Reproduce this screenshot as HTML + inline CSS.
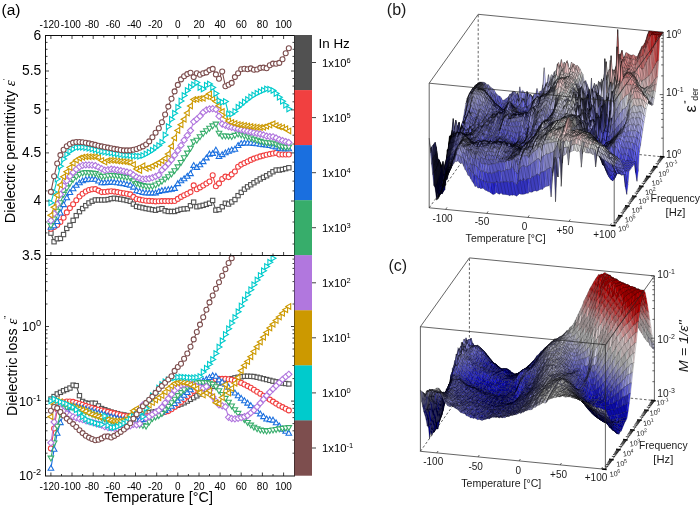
<!DOCTYPE html>
<html lang="en"><head><meta charset="utf-8"><title>Dielectric spectra</title>
<style>html,body{margin:0;padding:0;background:#fff}svg{display:block;will-change:transform}</style></head>
<body><svg width="700" height="507" viewBox="0 0 700 507">
<rect width="700" height="507" fill="#fff"/>
<defs><clipPath id="ct"><rect x="45.5" y="35.5" width="249" height="220"/></clipPath>
<clipPath id="cb"><rect x="45.5" y="255.5" width="249" height="220.5"/></clipPath></defs>
<g clip-path="url(#ct)">
<g stroke="#515151" stroke-width="1.1" fill="#fff">
<path d="M50.9 233.2L54.1 241.7L57.2 238.7L60.4 238.5L63.6 234.6L66.8 228.5L69.9 225.4L73.1 220.3L76.3 215.6L79.5 211.7L82.6 208.5L85.8 205.6L89 202.9L92.1 201.3L95.3 200L98.5 200L101.7 200L104.8 200L108 199.5L111.2 198.6L114.3 198.3L117.5 198.7L120.7 199.2L123.9 199.7L127 200.5L130.2 201.2L133.4 204.1L136.6 206.4L139.7 207.1L142.9 207.8L146.1 208.5L149.2 209.1L152.4 209.7L155.6 210.2L158.8 209.3L161.9 208.7L165.1 210.8L168.3 211.5L171.5 211.5L174.6 211.5L177.8 210.4L181 209.4L184.1 209L187.3 208.6L190.5 205.7L193.7 202.2L196.8 206.8L200 206.1L203.2 205.4L206.4 204.3L209.5 203.3L212.7 200.5L215.9 210.1L219 209.6L222.2 206.8L225.4 203.3L228.6 204L231.7 201.9L234.9 199.6L238.1 195.7L241.2 192.4L244.4 189.2L247.6 186.9L250.8 184.7L253.9 182.8L257.1 180.8L260.3 179L263.5 177.3L266.6 175.7L269.8 173.8L273 171.7L276.1 170.1L279.3 170.1L282.5 169.5L285.7 168.6L288.8 167.8" fill="none"/>
<rect x="48.8" y="231" width="4.3" height="4.3"/>
<rect x="51.9" y="239.6" width="4.3" height="4.3"/>
<rect x="55.1" y="236.6" width="4.3" height="4.3"/>
<rect x="58.3" y="236.3" width="4.3" height="4.3"/>
<rect x="61.4" y="232.4" width="4.3" height="4.3"/>
<rect x="64.6" y="226.3" width="4.3" height="4.3"/>
<rect x="67.8" y="223.2" width="4.3" height="4.3"/>
<rect x="71" y="218.2" width="4.3" height="4.3"/>
<rect x="74.1" y="213.5" width="4.3" height="4.3"/>
<rect x="77.3" y="209.5" width="4.3" height="4.3"/>
<rect x="80.5" y="206.4" width="4.3" height="4.3"/>
<rect x="83.6" y="203.5" width="4.3" height="4.3"/>
<rect x="86.8" y="200.8" width="4.3" height="4.3"/>
<rect x="90" y="199.1" width="4.3" height="4.3"/>
<rect x="93.2" y="197.8" width="4.3" height="4.3"/>
<rect x="96.3" y="197.8" width="4.3" height="4.3"/>
<rect x="99.5" y="197.8" width="4.3" height="4.3"/>
<rect x="102.7" y="197.8" width="4.3" height="4.3"/>
<rect x="105.9" y="197.4" width="4.3" height="4.3"/>
<rect x="109" y="196.5" width="4.3" height="4.3"/>
<rect x="112.2" y="196.1" width="4.3" height="4.3"/>
<rect x="115.4" y="196.6" width="4.3" height="4.3"/>
<rect x="118.5" y="197" width="4.3" height="4.3"/>
<rect x="121.7" y="197.6" width="4.3" height="4.3"/>
<rect x="124.9" y="198.3" width="4.3" height="4.3"/>
<rect x="128.1" y="199.1" width="4.3" height="4.3"/>
<rect x="131.2" y="201.9" width="4.3" height="4.3"/>
<rect x="134.4" y="204.3" width="4.3" height="4.3"/>
<rect x="137.6" y="205" width="4.3" height="4.3"/>
<rect x="140.8" y="205.7" width="4.3" height="4.3"/>
<rect x="143.9" y="206.4" width="4.3" height="4.3"/>
<rect x="147.1" y="206.9" width="4.3" height="4.3"/>
<rect x="150.3" y="207.5" width="4.3" height="4.3"/>
<rect x="153.4" y="208.1" width="4.3" height="4.3"/>
<rect x="156.6" y="207.1" width="4.3" height="4.3"/>
<rect x="159.8" y="206.5" width="4.3" height="4.3"/>
<rect x="163" y="208.6" width="4.3" height="4.3"/>
<rect x="166.1" y="209.3" width="4.3" height="4.3"/>
<rect x="169.3" y="209.3" width="4.3" height="4.3"/>
<rect x="172.5" y="209.3" width="4.3" height="4.3"/>
<rect x="175.6" y="208.2" width="4.3" height="4.3"/>
<rect x="178.8" y="207.2" width="4.3" height="4.3"/>
<rect x="182" y="206.8" width="4.3" height="4.3"/>
<rect x="185.2" y="206.5" width="4.3" height="4.3"/>
<rect x="188.3" y="203.6" width="4.3" height="4.3"/>
<rect x="191.5" y="200" width="4.3" height="4.3"/>
<rect x="194.7" y="204.6" width="4.3" height="4.3"/>
<rect x="197.9" y="203.9" width="4.3" height="4.3"/>
<rect x="201" y="203.2" width="4.3" height="4.3"/>
<rect x="204.2" y="202.2" width="4.3" height="4.3"/>
<rect x="207.4" y="201.1" width="4.3" height="4.3"/>
<rect x="210.5" y="198.3" width="4.3" height="4.3"/>
<rect x="213.7" y="208" width="4.3" height="4.3"/>
<rect x="216.9" y="207.4" width="4.3" height="4.3"/>
<rect x="220.1" y="204.6" width="4.3" height="4.3"/>
<rect x="223.2" y="201.1" width="4.3" height="4.3"/>
<rect x="226.4" y="201.9" width="4.3" height="4.3"/>
<rect x="229.6" y="199.8" width="4.3" height="4.3"/>
<rect x="232.8" y="197.4" width="4.3" height="4.3"/>
<rect x="235.9" y="193.5" width="4.3" height="4.3"/>
<rect x="239.1" y="190.2" width="4.3" height="4.3"/>
<rect x="242.3" y="187" width="4.3" height="4.3"/>
<rect x="245.4" y="184.7" width="4.3" height="4.3"/>
<rect x="248.6" y="182.6" width="4.3" height="4.3"/>
<rect x="251.8" y="180.6" width="4.3" height="4.3"/>
<rect x="255" y="178.7" width="4.3" height="4.3"/>
<rect x="258.1" y="176.8" width="4.3" height="4.3"/>
<rect x="261.3" y="175.2" width="4.3" height="4.3"/>
<rect x="264.5" y="173.6" width="4.3" height="4.3"/>
<rect x="267.7" y="171.7" width="4.3" height="4.3"/>
<rect x="270.8" y="169.6" width="4.3" height="4.3"/>
<rect x="274" y="167.9" width="4.3" height="4.3"/>
<rect x="277.2" y="167.9" width="4.3" height="4.3"/>
<rect x="280.3" y="167.3" width="4.3" height="4.3"/>
<rect x="283.5" y="166.5" width="4.3" height="4.3"/>
<rect x="286.7" y="165.6" width="4.3" height="4.3"/>
</g>
<g stroke="#f14040" stroke-width="1.1" fill="#fff">
<path d="M50.9 228.8L54.1 226.9L57.2 224.9L60.4 222L63.6 217.8L66.8 212.4L69.9 208.1L73.1 204.2L76.3 200.2L79.5 196.5L82.6 193.7L85.8 191.5L89 190L92.1 189.3L95.3 189.1L98.5 190.6L101.7 192.1L104.8 192L108 191.6L111.2 191.3L114.3 191.6L117.5 192.1L120.7 192.7L123.9 193.2L127 193.8L130.2 194.4L133.4 196.9L136.6 199L139.7 199.6L142.9 200.2L146.1 200.7L149.2 200.9L152.4 201.1L155.6 201.4L158.8 201.2L161.9 201.1L165.1 201.1L168.3 201.1L171.5 201.1L174.6 201L177.8 198.9L181 196.9L184.1 195.3L187.3 193.7L190.5 192.1L193.7 185.4L196.8 189.3L200 187.4L203.2 185.5L206.4 183.5L209.5 181.5L212.7 175.3L215.9 186.3L219 183.4L222.2 179L225.4 176.6L228.6 177.1L231.7 174.4L234.9 171.5L238.1 166.8L241.2 164.6L244.4 163L247.6 161.5L250.8 159.9L253.9 158.6L257.1 157.5L260.3 156.4L263.5 155.6L266.6 154.8L269.8 154.1L273 153.5L276.1 152.9L279.3 154.5L282.5 154.5L285.7 154.5L288.8 154.5" fill="none"/>
<circle cx="50.9" cy="228.8" r="2.5"/>
<circle cx="54.1" cy="226.9" r="2.5"/>
<circle cx="57.2" cy="224.9" r="2.5"/>
<circle cx="60.4" cy="222" r="2.5"/>
<circle cx="63.6" cy="217.8" r="2.5"/>
<circle cx="66.8" cy="212.4" r="2.5"/>
<circle cx="69.9" cy="208.1" r="2.5"/>
<circle cx="73.1" cy="204.2" r="2.5"/>
<circle cx="76.3" cy="200.2" r="2.5"/>
<circle cx="79.5" cy="196.5" r="2.5"/>
<circle cx="82.6" cy="193.7" r="2.5"/>
<circle cx="85.8" cy="191.5" r="2.5"/>
<circle cx="89" cy="190" r="2.5"/>
<circle cx="92.1" cy="189.3" r="2.5"/>
<circle cx="95.3" cy="189.1" r="2.5"/>
<circle cx="98.5" cy="190.6" r="2.5"/>
<circle cx="101.7" cy="192.1" r="2.5"/>
<circle cx="104.8" cy="192" r="2.5"/>
<circle cx="108" cy="191.6" r="2.5"/>
<circle cx="111.2" cy="191.3" r="2.5"/>
<circle cx="114.3" cy="191.6" r="2.5"/>
<circle cx="117.5" cy="192.1" r="2.5"/>
<circle cx="120.7" cy="192.7" r="2.5"/>
<circle cx="123.9" cy="193.2" r="2.5"/>
<circle cx="127" cy="193.8" r="2.5"/>
<circle cx="130.2" cy="194.4" r="2.5"/>
<circle cx="133.4" cy="196.9" r="2.5"/>
<circle cx="136.6" cy="199" r="2.5"/>
<circle cx="139.7" cy="199.6" r="2.5"/>
<circle cx="142.9" cy="200.2" r="2.5"/>
<circle cx="146.1" cy="200.7" r="2.5"/>
<circle cx="149.2" cy="200.9" r="2.5"/>
<circle cx="152.4" cy="201.1" r="2.5"/>
<circle cx="155.6" cy="201.4" r="2.5"/>
<circle cx="158.8" cy="201.2" r="2.5"/>
<circle cx="161.9" cy="201.1" r="2.5"/>
<circle cx="165.1" cy="201.1" r="2.5"/>
<circle cx="168.3" cy="201.1" r="2.5"/>
<circle cx="171.5" cy="201.1" r="2.5"/>
<circle cx="174.6" cy="201" r="2.5"/>
<circle cx="177.8" cy="198.9" r="2.5"/>
<circle cx="181" cy="196.9" r="2.5"/>
<circle cx="184.1" cy="195.3" r="2.5"/>
<circle cx="187.3" cy="193.7" r="2.5"/>
<circle cx="190.5" cy="192.1" r="2.5"/>
<circle cx="193.7" cy="185.4" r="2.5"/>
<circle cx="196.8" cy="189.3" r="2.5"/>
<circle cx="200" cy="187.4" r="2.5"/>
<circle cx="203.2" cy="185.5" r="2.5"/>
<circle cx="206.4" cy="183.5" r="2.5"/>
<circle cx="209.5" cy="181.5" r="2.5"/>
<circle cx="212.7" cy="175.3" r="2.5"/>
<circle cx="215.9" cy="186.3" r="2.5"/>
<circle cx="219" cy="183.4" r="2.5"/>
<circle cx="222.2" cy="179" r="2.5"/>
<circle cx="225.4" cy="176.6" r="2.5"/>
<circle cx="228.6" cy="177.1" r="2.5"/>
<circle cx="231.7" cy="174.4" r="2.5"/>
<circle cx="234.9" cy="171.5" r="2.5"/>
<circle cx="238.1" cy="166.8" r="2.5"/>
<circle cx="241.2" cy="164.6" r="2.5"/>
<circle cx="244.4" cy="163" r="2.5"/>
<circle cx="247.6" cy="161.5" r="2.5"/>
<circle cx="250.8" cy="159.9" r="2.5"/>
<circle cx="253.9" cy="158.6" r="2.5"/>
<circle cx="257.1" cy="157.5" r="2.5"/>
<circle cx="260.3" cy="156.4" r="2.5"/>
<circle cx="263.5" cy="155.6" r="2.5"/>
<circle cx="266.6" cy="154.8" r="2.5"/>
<circle cx="269.8" cy="154.1" r="2.5"/>
<circle cx="273" cy="153.5" r="2.5"/>
<circle cx="276.1" cy="152.9" r="2.5"/>
<circle cx="279.3" cy="154.5" r="2.5"/>
<circle cx="282.5" cy="154.5" r="2.5"/>
<circle cx="285.7" cy="154.5" r="2.5"/>
<circle cx="288.8" cy="154.5" r="2.5"/>
</g>
<g stroke="#1a6fdf" stroke-width="1.1" fill="#fff">
<path d="M50.9 227.4L54.1 225.9L57.2 221.6L60.4 213.1L63.6 204.7L66.8 197.8L69.9 192.6L73.1 188.8L76.3 185.4L79.5 182.9L82.6 180.9L85.8 179.7L89 179.3L92.1 179.3L95.3 179.4L98.5 181.1L101.7 182.8L104.8 182.7L108 182.5L111.2 182.2L114.3 182.4L117.5 182.8L120.7 183.2L123.9 183.7L127 184.5L130.2 185.2L133.4 187.2L136.6 190.8L139.7 191.6L142.9 192.5L146.1 193L149.2 193L152.4 193L155.6 193L158.8 191.6L161.9 190.7L165.1 190.2L168.3 189.7L171.5 189.2L174.6 188.5L177.8 183.7L181 180.9L184.1 178.8L187.3 176.3L190.5 173.7L193.7 165.5L196.8 167.5L200 164.9L203.2 161.7L206.4 158L209.5 154.2L212.7 153.5L215.9 150.2L219 156.6L222.2 154.7L225.4 152.9L228.6 151.3L231.7 150.1L234.9 149.3L238.1 145.6L241.2 143.5L244.4 143.1L247.6 143.1L250.8 143.1L253.9 143.5L257.1 143.9L260.3 144.3L263.5 144.7L266.6 145.1L269.8 145.6L273 146.3L276.1 147L279.3 148.5L282.5 148.9L285.7 148.9L288.8 148.9" fill="none"/>
<path d="M50.9 224.4L53.7 229.3L48.1 229.3Z"/>
<path d="M54.1 222.9L56.9 227.8L51.3 227.8Z"/>
<path d="M57.2 218.6L60 223.5L54.4 223.5Z"/>
<path d="M60.4 210.1L63.2 215L57.6 215Z"/>
<path d="M63.6 201.7L66.4 206.6L60.8 206.6Z"/>
<path d="M66.8 194.8L69.6 199.7L64 199.7Z"/>
<path d="M69.9 189.6L72.7 194.5L67.1 194.5Z"/>
<path d="M73.1 185.8L75.9 190.7L70.3 190.7Z"/>
<path d="M76.3 182.4L79.1 187.3L73.5 187.3Z"/>
<path d="M79.5 179.9L82.3 184.8L76.7 184.8Z"/>
<path d="M82.6 177.9L85.4 182.8L79.8 182.8Z"/>
<path d="M85.8 176.7L88.6 181.6L83 181.6Z"/>
<path d="M89 176.3L91.8 181.2L86.2 181.2Z"/>
<path d="M92.1 176.3L94.9 181.2L89.3 181.2Z"/>
<path d="M95.3 176.4L98.1 181.3L92.5 181.3Z"/>
<path d="M98.5 178.1L101.3 183L95.7 183Z"/>
<path d="M101.7 179.8L104.5 184.7L98.9 184.7Z"/>
<path d="M104.8 179.7L107.6 184.6L102 184.6Z"/>
<path d="M108 179.5L110.8 184.4L105.2 184.4Z"/>
<path d="M111.2 179.2L114 184.1L108.4 184.1Z"/>
<path d="M114.3 179.4L117.1 184.3L111.5 184.3Z"/>
<path d="M117.5 179.8L120.3 184.7L114.7 184.7Z"/>
<path d="M120.7 180.2L123.5 185.1L117.9 185.1Z"/>
<path d="M123.9 180.7L126.7 185.6L121.1 185.6Z"/>
<path d="M127 181.5L129.8 186.4L124.2 186.4Z"/>
<path d="M130.2 182.2L133 187.1L127.4 187.1Z"/>
<path d="M133.4 184.2L136.2 189.1L130.6 189.1Z"/>
<path d="M136.6 187.8L139.4 192.7L133.8 192.7Z"/>
<path d="M139.7 188.6L142.5 193.5L136.9 193.5Z"/>
<path d="M142.9 189.5L145.7 194.4L140.1 194.4Z"/>
<path d="M146.1 190L148.9 194.9L143.3 194.9Z"/>
<path d="M149.2 190L152 194.9L146.4 194.9Z"/>
<path d="M152.4 190L155.2 194.9L149.6 194.9Z"/>
<path d="M155.6 190L158.4 194.9L152.8 194.9Z"/>
<path d="M158.8 188.6L161.6 193.5L156 193.5Z"/>
<path d="M161.9 187.7L164.7 192.6L159.1 192.6Z"/>
<path d="M165.1 187.2L167.9 192.1L162.3 192.1Z"/>
<path d="M168.3 186.7L171.1 191.6L165.5 191.6Z"/>
<path d="M171.5 186.2L174.3 191.1L168.7 191.1Z"/>
<path d="M174.6 185.5L177.4 190.4L171.8 190.4Z"/>
<path d="M177.8 180.7L180.6 185.6L175 185.6Z"/>
<path d="M181 177.9L183.8 182.8L178.2 182.8Z"/>
<path d="M184.1 175.8L186.9 180.7L181.3 180.7Z"/>
<path d="M187.3 173.3L190.1 178.2L184.5 178.2Z"/>
<path d="M190.5 170.7L193.3 175.6L187.7 175.6Z"/>
<path d="M193.7 162.5L196.5 167.4L190.9 167.4Z"/>
<path d="M196.8 164.5L199.6 169.4L194 169.4Z"/>
<path d="M200 161.9L202.8 166.8L197.2 166.8Z"/>
<path d="M203.2 158.7L206 163.6L200.4 163.6Z"/>
<path d="M206.4 155L209.2 159.9L203.6 159.9Z"/>
<path d="M209.5 151.2L212.3 156.1L206.7 156.1Z"/>
<path d="M212.7 150.5L215.5 155.4L209.9 155.4Z"/>
<path d="M215.9 147.2L218.7 152.1L213.1 152.1Z"/>
<path d="M219 153.6L221.8 158.5L216.2 158.5Z"/>
<path d="M222.2 151.7L225 156.6L219.4 156.6Z"/>
<path d="M225.4 149.9L228.2 154.8L222.6 154.8Z"/>
<path d="M228.6 148.3L231.4 153.2L225.8 153.2Z"/>
<path d="M231.7 147.1L234.5 152L228.9 152Z"/>
<path d="M234.9 146.3L237.7 151.2L232.1 151.2Z"/>
<path d="M238.1 142.6L240.9 147.5L235.3 147.5Z"/>
<path d="M241.2 140.5L244 145.4L238.4 145.4Z"/>
<path d="M244.4 140.1L247.2 145L241.6 145Z"/>
<path d="M247.6 140.1L250.4 145L244.8 145Z"/>
<path d="M250.8 140.1L253.6 145L248 145Z"/>
<path d="M253.9 140.5L256.7 145.4L251.1 145.4Z"/>
<path d="M257.1 140.9L259.9 145.8L254.3 145.8Z"/>
<path d="M260.3 141.3L263.1 146.2L257.5 146.2Z"/>
<path d="M263.5 141.7L266.3 146.6L260.7 146.6Z"/>
<path d="M266.6 142.1L269.4 147L263.8 147Z"/>
<path d="M269.8 142.6L272.6 147.5L267 147.5Z"/>
<path d="M273 143.3L275.8 148.2L270.2 148.2Z"/>
<path d="M276.1 144L278.9 148.9L273.3 148.9Z"/>
<path d="M279.3 145.5L282.1 150.4L276.5 150.4Z"/>
<path d="M282.5 145.9L285.3 150.8L279.7 150.8Z"/>
<path d="M285.7 145.9L288.5 150.8L282.9 150.8Z"/>
<path d="M288.8 145.9L291.6 150.8L286 150.8Z"/>
</g>
<g stroke="#37ad6b" stroke-width="1.1" fill="#fff">
<path d="M50.9 225.5L54.1 218.9L57.2 211.1L60.4 202.6L63.6 194.3L66.8 187.9L69.9 183.3L73.1 179.3L76.3 176.6L79.5 174.3L82.6 173L85.8 172.5L89 172.8L92.1 173L95.3 173.4L98.5 174.9L101.7 176.4L104.8 176.2L108 175.7L111.2 175.3L114.3 175.5L117.5 175.9L120.7 176.3L123.9 176.8L127 177.3L130.2 177.9L133.4 180.8L136.6 183.4L139.7 184.5L142.9 185.5L146.1 186.2L149.2 186.2L152.4 186.2L155.6 184.9L158.8 183.2L161.9 181.2L165.1 179L168.3 176.6L171.5 174L174.6 170.6L177.8 166.8L181 162.4L184.1 157.7L187.3 153L190.5 148.2L193.7 141.8L196.8 140.2L200 136.6L203.2 133.3L206.4 130.7L209.5 128.2L212.7 125.8L215.9 124L219 133.2L222.2 135.9L225.4 135.9L228.6 136.1L231.7 136.4L234.9 135.3L238.1 133.9L241.2 134.8L244.4 135.8L247.6 136.9L250.8 137.9L253.9 139.1L257.1 140.2L260.3 141.3L263.5 142.1L266.6 142.7L269.8 142.9L273 143.1L276.1 144.2L279.3 145.8L282.5 146.6L285.7 147.2L288.8 147" fill="none"/>
<path d="M50.9 228.5L53.7 223.6L48.1 223.6Z"/>
<path d="M54.1 221.9L56.9 217L51.3 217Z"/>
<path d="M57.2 214.1L60 209.2L54.4 209.2Z"/>
<path d="M60.4 205.6L63.2 200.7L57.6 200.7Z"/>
<path d="M63.6 197.3L66.4 192.4L60.8 192.4Z"/>
<path d="M66.8 190.9L69.6 186L64 186Z"/>
<path d="M69.9 186.3L72.7 181.4L67.1 181.4Z"/>
<path d="M73.1 182.3L75.9 177.4L70.3 177.4Z"/>
<path d="M76.3 179.6L79.1 174.7L73.5 174.7Z"/>
<path d="M79.5 177.3L82.3 172.4L76.7 172.4Z"/>
<path d="M82.6 176L85.4 171.1L79.8 171.1Z"/>
<path d="M85.8 175.5L88.6 170.6L83 170.6Z"/>
<path d="M89 175.8L91.8 170.9L86.2 170.9Z"/>
<path d="M92.1 176L94.9 171.1L89.3 171.1Z"/>
<path d="M95.3 176.4L98.1 171.5L92.5 171.5Z"/>
<path d="M98.5 177.9L101.3 173L95.7 173Z"/>
<path d="M101.7 179.4L104.5 174.5L98.9 174.5Z"/>
<path d="M104.8 179.2L107.6 174.3L102 174.3Z"/>
<path d="M108 178.7L110.8 173.8L105.2 173.8Z"/>
<path d="M111.2 178.3L114 173.4L108.4 173.4Z"/>
<path d="M114.3 178.5L117.1 173.6L111.5 173.6Z"/>
<path d="M117.5 178.9L120.3 174L114.7 174Z"/>
<path d="M120.7 179.3L123.5 174.4L117.9 174.4Z"/>
<path d="M123.9 179.8L126.7 174.9L121.1 174.9Z"/>
<path d="M127 180.3L129.8 175.4L124.2 175.4Z"/>
<path d="M130.2 180.9L133 176L127.4 176Z"/>
<path d="M133.4 183.8L136.2 178.9L130.6 178.9Z"/>
<path d="M136.6 186.4L139.4 181.5L133.8 181.5Z"/>
<path d="M139.7 187.5L142.5 182.6L136.9 182.6Z"/>
<path d="M142.9 188.5L145.7 183.6L140.1 183.6Z"/>
<path d="M146.1 189.2L148.9 184.3L143.3 184.3Z"/>
<path d="M149.2 189.2L152 184.3L146.4 184.3Z"/>
<path d="M152.4 189.2L155.2 184.3L149.6 184.3Z"/>
<path d="M155.6 187.9L158.4 183L152.8 183Z"/>
<path d="M158.8 186.2L161.6 181.3L156 181.3Z"/>
<path d="M161.9 184.2L164.7 179.3L159.1 179.3Z"/>
<path d="M165.1 182L167.9 177.1L162.3 177.1Z"/>
<path d="M168.3 179.6L171.1 174.7L165.5 174.7Z"/>
<path d="M171.5 177L174.3 172.1L168.7 172.1Z"/>
<path d="M174.6 173.6L177.4 168.7L171.8 168.7Z"/>
<path d="M177.8 169.8L180.6 164.9L175 164.9Z"/>
<path d="M181 165.4L183.8 160.5L178.2 160.5Z"/>
<path d="M184.1 160.7L186.9 155.8L181.3 155.8Z"/>
<path d="M187.3 156L190.1 151.1L184.5 151.1Z"/>
<path d="M190.5 151.2L193.3 146.3L187.7 146.3Z"/>
<path d="M193.7 144.8L196.5 139.9L190.9 139.9Z"/>
<path d="M196.8 143.2L199.6 138.3L194 138.3Z"/>
<path d="M200 139.6L202.8 134.7L197.2 134.7Z"/>
<path d="M203.2 136.3L206 131.4L200.4 131.4Z"/>
<path d="M206.4 133.7L209.2 128.8L203.6 128.8Z"/>
<path d="M209.5 131.2L212.3 126.3L206.7 126.3Z"/>
<path d="M212.7 128.8L215.5 123.9L209.9 123.9Z"/>
<path d="M215.9 127L218.7 122.1L213.1 122.1Z"/>
<path d="M219 136.2L221.8 131.3L216.2 131.3Z"/>
<path d="M222.2 138.9L225 134L219.4 134Z"/>
<path d="M225.4 138.9L228.2 134L222.6 134Z"/>
<path d="M228.6 139.1L231.4 134.2L225.8 134.2Z"/>
<path d="M231.7 139.4L234.5 134.5L228.9 134.5Z"/>
<path d="M234.9 138.3L237.7 133.4L232.1 133.4Z"/>
<path d="M238.1 136.9L240.9 132L235.3 132Z"/>
<path d="M241.2 137.8L244 132.9L238.4 132.9Z"/>
<path d="M244.4 138.8L247.2 133.9L241.6 133.9Z"/>
<path d="M247.6 139.9L250.4 135L244.8 135Z"/>
<path d="M250.8 140.9L253.6 136L248 136Z"/>
<path d="M253.9 142.1L256.7 137.2L251.1 137.2Z"/>
<path d="M257.1 143.2L259.9 138.3L254.3 138.3Z"/>
<path d="M260.3 144.3L263.1 139.4L257.5 139.4Z"/>
<path d="M263.5 145.1L266.3 140.2L260.7 140.2Z"/>
<path d="M266.6 145.7L269.4 140.8L263.8 140.8Z"/>
<path d="M269.8 145.9L272.6 141L267 141Z"/>
<path d="M273 146.1L275.8 141.2L270.2 141.2Z"/>
<path d="M276.1 147.2L278.9 142.3L273.3 142.3Z"/>
<path d="M279.3 148.8L282.1 143.9L276.5 143.9Z"/>
<path d="M282.5 149.6L285.3 144.7L279.7 144.7Z"/>
<path d="M285.7 150.2L288.5 145.3L282.9 145.3Z"/>
<path d="M288.8 150L291.6 145.1L286 145.1Z"/>
</g>
<g stroke="#b177de" stroke-width="1.1" fill="#fff">
<path d="M50.9 220.7L54.1 213.6L57.2 204.2L60.4 194.3L63.6 186L66.8 180.7L69.9 176.2L73.1 172.4L76.3 169.3L79.5 166.8L82.6 165.3L85.8 164.9L89 164.9L92.1 165.2L95.3 165.6L98.5 167.2L101.7 168.7L104.8 170.2L108 169.7L111.2 169.1L114.3 169.5L117.5 170L120.7 170.6L123.9 171.3L127 172L130.2 172.8L133.4 175L136.6 177.1L139.7 178.4L142.9 179.2L146.1 178.9L149.2 178.6L152.4 177.7L155.6 176.4L158.8 175L161.9 170.2L165.1 167L168.3 163.5L171.5 159.8L174.6 155.3L177.8 150.5L181 145.4L184.1 140.2L187.3 135.4L190.5 130.6L193.7 121.7L196.8 119.1L200 116.2L203.2 112.3L206.4 109.9L209.5 109L212.7 108.7L215.9 109.4L219 116.2L222.2 124L225.4 125.3L228.6 126.5L231.7 127.3L234.9 128.1L238.1 128.9L241.2 129.7L244.4 130.5L247.6 131.2L250.8 132L253.9 132.7L257.1 133.4L260.3 134L263.5 134.9L266.6 136.1L269.8 136.6L273 136.8L276.1 138L279.3 139.6L282.5 140.6L285.7 141.6L288.8 142.5" fill="none"/>
<path d="M50.9 217.6L54 220.7L50.9 223.8L47.8 220.7Z"/>
<path d="M54.1 210.5L57.2 213.6L54.1 216.7L51 213.6Z"/>
<path d="M57.2 201.1L60.3 204.2L57.2 207.3L54.1 204.2Z"/>
<path d="M60.4 191.2L63.5 194.3L60.4 197.4L57.3 194.3Z"/>
<path d="M63.6 182.9L66.7 186L63.6 189.1L60.5 186Z"/>
<path d="M66.8 177.6L69.9 180.7L66.8 183.8L63.7 180.7Z"/>
<path d="M69.9 173.1L73 176.2L69.9 179.3L66.8 176.2Z"/>
<path d="M73.1 169.3L76.2 172.4L73.1 175.5L70 172.4Z"/>
<path d="M76.3 166.2L79.4 169.3L76.3 172.4L73.2 169.3Z"/>
<path d="M79.5 163.7L82.6 166.8L79.5 169.9L76.4 166.8Z"/>
<path d="M82.6 162.2L85.7 165.3L82.6 168.4L79.5 165.3Z"/>
<path d="M85.8 161.8L88.9 164.9L85.8 168L82.7 164.9Z"/>
<path d="M89 161.8L92.1 164.9L89 168L85.9 164.9Z"/>
<path d="M92.1 162.1L95.2 165.2L92.1 168.3L89 165.2Z"/>
<path d="M95.3 162.5L98.4 165.6L95.3 168.7L92.2 165.6Z"/>
<path d="M98.5 164.1L101.6 167.2L98.5 170.3L95.4 167.2Z"/>
<path d="M101.7 165.6L104.8 168.7L101.7 171.8L98.6 168.7Z"/>
<path d="M104.8 167.1L107.9 170.2L104.8 173.3L101.7 170.2Z"/>
<path d="M108 166.6L111.1 169.7L108 172.8L104.9 169.7Z"/>
<path d="M111.2 166L114.3 169.1L111.2 172.2L108.1 169.1Z"/>
<path d="M114.3 166.4L117.4 169.5L114.3 172.6L111.2 169.5Z"/>
<path d="M117.5 166.9L120.6 170L117.5 173.1L114.4 170Z"/>
<path d="M120.7 167.5L123.8 170.6L120.7 173.7L117.6 170.6Z"/>
<path d="M123.9 168.2L127 171.3L123.9 174.4L120.8 171.3Z"/>
<path d="M127 168.9L130.1 172L127 175.1L123.9 172Z"/>
<path d="M130.2 169.7L133.3 172.8L130.2 175.9L127.1 172.8Z"/>
<path d="M133.4 171.9L136.5 175L133.4 178.1L130.3 175Z"/>
<path d="M136.6 174L139.7 177.1L136.6 180.2L133.5 177.1Z"/>
<path d="M139.7 175.3L142.8 178.4L139.7 181.5L136.6 178.4Z"/>
<path d="M142.9 176.1L146 179.2L142.9 182.3L139.8 179.2Z"/>
<path d="M146.1 175.8L149.2 178.9L146.1 182L143 178.9Z"/>
<path d="M149.2 175.5L152.3 178.6L149.2 181.7L146.1 178.6Z"/>
<path d="M152.4 174.6L155.5 177.7L152.4 180.8L149.3 177.7Z"/>
<path d="M155.6 173.3L158.7 176.4L155.6 179.5L152.5 176.4Z"/>
<path d="M158.8 171.9L161.9 175L158.8 178.1L155.7 175Z"/>
<path d="M161.9 167.1L165 170.2L161.9 173.3L158.8 170.2Z"/>
<path d="M165.1 163.9L168.2 167L165.1 170.1L162 167Z"/>
<path d="M168.3 160.4L171.4 163.5L168.3 166.6L165.2 163.5Z"/>
<path d="M171.5 156.7L174.6 159.8L171.5 162.9L168.4 159.8Z"/>
<path d="M174.6 152.2L177.7 155.3L174.6 158.4L171.5 155.3Z"/>
<path d="M177.8 147.4L180.9 150.5L177.8 153.6L174.7 150.5Z"/>
<path d="M181 142.3L184.1 145.4L181 148.5L177.9 145.4Z"/>
<path d="M184.1 137.1L187.2 140.2L184.1 143.3L181 140.2Z"/>
<path d="M187.3 132.3L190.4 135.4L187.3 138.5L184.2 135.4Z"/>
<path d="M190.5 127.5L193.6 130.6L190.5 133.7L187.4 130.6Z"/>
<path d="M193.7 118.6L196.8 121.7L193.7 124.8L190.6 121.7Z"/>
<path d="M196.8 116L199.9 119.1L196.8 122.2L193.7 119.1Z"/>
<path d="M200 113.1L203.1 116.2L200 119.3L196.9 116.2Z"/>
<path d="M203.2 109.2L206.3 112.3L203.2 115.4L200.1 112.3Z"/>
<path d="M206.4 106.8L209.5 109.9L206.4 113L203.3 109.9Z"/>
<path d="M209.5 105.9L212.6 109L209.5 112.1L206.4 109Z"/>
<path d="M212.7 105.6L215.8 108.7L212.7 111.8L209.6 108.7Z"/>
<path d="M215.9 106.3L219 109.4L215.9 112.5L212.8 109.4Z"/>
<path d="M219 113.1L222.1 116.2L219 119.3L215.9 116.2Z"/>
<path d="M222.2 120.9L225.3 124L222.2 127.1L219.1 124Z"/>
<path d="M225.4 122.2L228.5 125.3L225.4 128.4L222.3 125.3Z"/>
<path d="M228.6 123.4L231.7 126.5L228.6 129.6L225.5 126.5Z"/>
<path d="M231.7 124.2L234.8 127.3L231.7 130.4L228.6 127.3Z"/>
<path d="M234.9 125L238 128.1L234.9 131.2L231.8 128.1Z"/>
<path d="M238.1 125.8L241.2 128.9L238.1 132L235 128.9Z"/>
<path d="M241.2 126.6L244.3 129.7L241.2 132.8L238.1 129.7Z"/>
<path d="M244.4 127.4L247.5 130.5L244.4 133.6L241.3 130.5Z"/>
<path d="M247.6 128.1L250.7 131.2L247.6 134.3L244.5 131.2Z"/>
<path d="M250.8 128.9L253.9 132L250.8 135.1L247.7 132Z"/>
<path d="M253.9 129.6L257 132.7L253.9 135.8L250.8 132.7Z"/>
<path d="M257.1 130.3L260.2 133.4L257.1 136.5L254 133.4Z"/>
<path d="M260.3 130.9L263.4 134L260.3 137.1L257.2 134Z"/>
<path d="M263.5 131.8L266.6 134.9L263.5 138L260.4 134.9Z"/>
<path d="M266.6 133L269.7 136.1L266.6 139.2L263.5 136.1Z"/>
<path d="M269.8 133.5L272.9 136.6L269.8 139.7L266.7 136.6Z"/>
<path d="M273 133.7L276.1 136.8L273 139.9L269.9 136.8Z"/>
<path d="M276.1 134.9L279.2 138L276.1 141.1L273 138Z"/>
<path d="M279.3 136.5L282.4 139.6L279.3 142.7L276.2 139.6Z"/>
<path d="M282.5 137.5L285.6 140.6L282.5 143.7L279.4 140.6Z"/>
<path d="M285.7 138.5L288.8 141.6L285.7 144.7L282.6 141.6Z"/>
<path d="M288.8 139.4L291.9 142.5L288.8 145.6L285.7 142.5Z"/>
</g>
<g stroke="#cc9900" stroke-width="1.1" fill="#fff">
<path d="M50.9 215.2L54.1 207.2L57.2 195.3L60.4 185L63.6 176.7L66.8 171.7L69.9 167.6L73.1 163.3L76.3 160.2L79.5 158.3L82.6 157.2L85.8 156.7L89 156.7L92.1 156.7L95.3 156.7L98.5 157.2L101.7 160.4L104.8 162.1L108 160.5L111.2 160.2L114.3 160.5L117.5 160.9L120.7 161.2L123.9 161.6L127 162L130.2 162.5L133.4 164.6L136.6 169L139.7 170.5L142.9 165.7L146.1 168.6L149.2 167.5L152.4 165.9L155.6 164.3L158.8 162.8L161.9 160.7L165.1 158.6L168.3 154.1L171.5 146.3L174.6 137.9L177.8 130.4L181 124.8L184.1 119.3L187.3 113.1L190.5 106L193.7 99.4L196.8 99.2L200 98.4L203.2 98.3L206.4 96.3L209.5 93.7L212.7 99L215.9 101.4L219 105.8L222.2 111.6L225.4 116.9L228.6 120.9L231.7 122.6L234.9 123.5L238.1 124.4L241.2 125L244.4 125.6L247.6 126.1L250.8 126.5L253.9 127L257.1 127.3L260.3 127.5L263.5 127.3L266.6 126.3L269.8 125.1L273 123.8L276.1 125.5L279.3 126.7L282.5 127.4L285.7 128.8L288.8 130.9" fill="none"/>
<path d="M47.9 215.2L52.8 212.4L52.8 218Z"/>
<path d="M51.1 207.2L56 204.4L56 210Z"/>
<path d="M54.2 195.3L59.1 192.5L59.1 198.1Z"/>
<path d="M57.4 185L62.3 182.2L62.3 187.8Z"/>
<path d="M60.6 176.7L65.5 173.9L65.5 179.5Z"/>
<path d="M63.8 171.7L68.7 168.9L68.7 174.5Z"/>
<path d="M66.9 167.6L71.8 164.8L71.8 170.4Z"/>
<path d="M70.1 163.3L75 160.5L75 166.1Z"/>
<path d="M73.3 160.2L78.2 157.4L78.2 163Z"/>
<path d="M76.5 158.3L81.4 155.5L81.4 161.1Z"/>
<path d="M79.6 157.2L84.5 154.4L84.5 160Z"/>
<path d="M82.8 156.7L87.7 153.9L87.7 159.5Z"/>
<path d="M86 156.7L90.9 153.9L90.9 159.5Z"/>
<path d="M89.1 156.7L94 153.9L94 159.5Z"/>
<path d="M92.3 156.7L97.2 153.9L97.2 159.5Z"/>
<path d="M95.5 157.2L100.4 154.4L100.4 160Z"/>
<path d="M98.7 160.4L103.6 157.6L103.6 163.2Z"/>
<path d="M101.8 162.1L106.7 159.3L106.7 164.9Z"/>
<path d="M105 160.5L109.9 157.7L109.9 163.3Z"/>
<path d="M108.2 160.2L113.1 157.4L113.1 163Z"/>
<path d="M111.3 160.5L116.2 157.7L116.2 163.3Z"/>
<path d="M114.5 160.9L119.4 158.1L119.4 163.7Z"/>
<path d="M117.7 161.2L122.6 158.4L122.6 164Z"/>
<path d="M120.9 161.6L125.8 158.8L125.8 164.4Z"/>
<path d="M124 162L128.9 159.2L128.9 164.8Z"/>
<path d="M127.2 162.5L132.1 159.7L132.1 165.3Z"/>
<path d="M130.4 164.6L135.3 161.8L135.3 167.4Z"/>
<path d="M133.6 169L138.5 166.2L138.5 171.8Z"/>
<path d="M136.7 170.5L141.6 167.7L141.6 173.3Z"/>
<path d="M139.9 165.7L144.8 162.9L144.8 168.5Z"/>
<path d="M143.1 168.6L148 165.8L148 171.4Z"/>
<path d="M146.2 167.5L151.1 164.7L151.1 170.3Z"/>
<path d="M149.4 165.9L154.3 163.1L154.3 168.7Z"/>
<path d="M152.6 164.3L157.5 161.5L157.5 167.1Z"/>
<path d="M155.8 162.8L160.7 160L160.7 165.6Z"/>
<path d="M158.9 160.7L163.8 157.9L163.8 163.5Z"/>
<path d="M162.1 158.6L167 155.8L167 161.4Z"/>
<path d="M165.3 154.1L170.2 151.3L170.2 156.9Z"/>
<path d="M168.5 146.3L173.4 143.5L173.4 149.1Z"/>
<path d="M171.6 137.9L176.5 135.1L176.5 140.7Z"/>
<path d="M174.8 130.4L179.7 127.6L179.7 133.2Z"/>
<path d="M178 124.8L182.9 122L182.9 127.6Z"/>
<path d="M181.1 119.3L186 116.5L186 122.1Z"/>
<path d="M184.3 113.1L189.2 110.3L189.2 115.9Z"/>
<path d="M187.5 106L192.4 103.2L192.4 108.8Z"/>
<path d="M190.7 99.4L195.6 96.6L195.6 102.2Z"/>
<path d="M193.8 99.2L198.7 96.4L198.7 102Z"/>
<path d="M197 98.4L201.9 95.6L201.9 101.2Z"/>
<path d="M200.2 98.3L205.1 95.5L205.1 101.1Z"/>
<path d="M203.4 96.3L208.3 93.5L208.3 99.1Z"/>
<path d="M206.5 93.7L211.4 90.9L211.4 96.5Z"/>
<path d="M209.7 99L214.6 96.2L214.6 101.8Z"/>
<path d="M212.9 101.4L217.8 98.6L217.8 104.2Z"/>
<path d="M216 105.8L220.9 103L220.9 108.6Z"/>
<path d="M219.2 111.6L224.1 108.8L224.1 114.4Z"/>
<path d="M222.4 116.9L227.3 114.1L227.3 119.7Z"/>
<path d="M225.6 120.9L230.5 118.1L230.5 123.7Z"/>
<path d="M228.7 122.6L233.6 119.8L233.6 125.4Z"/>
<path d="M231.9 123.5L236.8 120.7L236.8 126.3Z"/>
<path d="M235.1 124.4L240 121.6L240 127.2Z"/>
<path d="M238.2 125L243.1 122.2L243.1 127.8Z"/>
<path d="M241.4 125.6L246.3 122.8L246.3 128.4Z"/>
<path d="M244.6 126.1L249.5 123.3L249.5 128.9Z"/>
<path d="M247.8 126.5L252.7 123.7L252.7 129.3Z"/>
<path d="M250.9 127L255.8 124.2L255.8 129.8Z"/>
<path d="M254.1 127.3L259 124.5L259 130.1Z"/>
<path d="M257.3 127.5L262.2 124.7L262.2 130.3Z"/>
<path d="M260.5 127.3L265.4 124.5L265.4 130.1Z"/>
<path d="M263.6 126.3L268.5 123.5L268.5 129.1Z"/>
<path d="M266.8 125.1L271.7 122.3L271.7 127.9Z"/>
<path d="M270 123.8L274.9 121L274.9 126.6Z"/>
<path d="M273.1 125.5L278 122.7L278 128.3Z"/>
<path d="M276.3 126.7L281.2 123.9L281.2 129.5Z"/>
<path d="M279.5 127.4L284.4 124.6L284.4 130.2Z"/>
<path d="M282.7 128.8L287.6 126L287.6 131.6Z"/>
<path d="M285.8 130.9L290.7 128.1L290.7 133.7Z"/>
</g>
<g stroke="#00cbcc" stroke-width="1.1" fill="#fff">
<path d="M50.9 202.8L54.1 191.9L57.2 179.1L60.4 166.3L63.6 159.1L66.8 154.3L69.9 151.2L73.1 149.1L76.3 147.6L79.5 147.2L82.6 147.2L85.8 147.7L89 148.3L92.1 149L95.3 149.8L98.5 150.6L101.7 151.4L104.8 151.9L108 152.4L111.2 152.9L114.3 153.5L117.5 154L120.7 154.6L123.9 155.1L127 155.3L130.2 155.6L133.4 155.9L136.6 156.1L139.7 156.3L142.9 155.4L146.1 153.9L149.2 152.3L152.4 150.2L155.6 147.8L158.8 145.5L161.9 142.3L165.1 134.9L168.3 126.6L171.5 119.2L174.6 113.3L177.8 107.3L181 100.9L184.1 95.5L187.3 90.5L190.5 87.1L193.7 84.8L196.8 82.6L200 87.4L203.2 88.9L206.4 85.3L209.5 84.1L212.7 87.5L215.9 93.4L219 100.8L222.2 102.2L225.4 101.5L228.6 113.9L231.7 113.9L234.9 111.4L238.1 107.2L241.2 104.7L244.4 102.1L247.6 99.5L250.8 97.1L253.9 95.1L257.1 93.3L260.3 91.7L263.5 90.3L266.6 89L269.8 89.2L273 90.5L276.1 93.4L279.3 97.3L282.5 101.3L285.7 105.2L288.8 109" fill="none"/>
<path d="M53.9 202.8L49 200L49 205.6Z"/>
<path d="M57.1 191.9L52.2 189.1L52.2 194.7Z"/>
<path d="M60.2 179.1L55.3 176.3L55.3 181.9Z"/>
<path d="M63.4 166.3L58.5 163.5L58.5 169.1Z"/>
<path d="M66.6 159.1L61.7 156.3L61.7 161.9Z"/>
<path d="M69.8 154.3L64.9 151.5L64.9 157.1Z"/>
<path d="M72.9 151.2L68 148.4L68 154Z"/>
<path d="M76.1 149.1L71.2 146.3L71.2 151.9Z"/>
<path d="M79.3 147.6L74.4 144.8L74.4 150.4Z"/>
<path d="M82.5 147.2L77.6 144.4L77.6 150Z"/>
<path d="M85.6 147.2L80.7 144.4L80.7 150Z"/>
<path d="M88.8 147.7L83.9 144.9L83.9 150.5Z"/>
<path d="M92 148.3L87.1 145.5L87.1 151.1Z"/>
<path d="M95.1 149L90.2 146.2L90.2 151.8Z"/>
<path d="M98.3 149.8L93.4 147L93.4 152.6Z"/>
<path d="M101.5 150.6L96.6 147.8L96.6 153.4Z"/>
<path d="M104.7 151.4L99.8 148.6L99.8 154.2Z"/>
<path d="M107.8 151.9L102.9 149.1L102.9 154.7Z"/>
<path d="M111 152.4L106.1 149.6L106.1 155.2Z"/>
<path d="M114.2 152.9L109.3 150.1L109.3 155.7Z"/>
<path d="M117.3 153.5L112.4 150.7L112.4 156.3Z"/>
<path d="M120.5 154L115.6 151.2L115.6 156.8Z"/>
<path d="M123.7 154.6L118.8 151.8L118.8 157.4Z"/>
<path d="M126.9 155.1L122 152.3L122 157.9Z"/>
<path d="M130 155.3L125.1 152.5L125.1 158.1Z"/>
<path d="M133.2 155.6L128.3 152.8L128.3 158.4Z"/>
<path d="M136.4 155.9L131.5 153.1L131.5 158.7Z"/>
<path d="M139.6 156.1L134.7 153.3L134.7 158.9Z"/>
<path d="M142.7 156.3L137.8 153.5L137.8 159.1Z"/>
<path d="M145.9 155.4L141 152.6L141 158.2Z"/>
<path d="M149.1 153.9L144.2 151.1L144.2 156.7Z"/>
<path d="M152.2 152.3L147.3 149.5L147.3 155.1Z"/>
<path d="M155.4 150.2L150.5 147.4L150.5 153Z"/>
<path d="M158.6 147.8L153.7 145L153.7 150.6Z"/>
<path d="M161.8 145.5L156.9 142.7L156.9 148.3Z"/>
<path d="M164.9 142.3L160 139.5L160 145.1Z"/>
<path d="M168.1 134.9L163.2 132.1L163.2 137.7Z"/>
<path d="M171.3 126.6L166.4 123.8L166.4 129.4Z"/>
<path d="M174.5 119.2L169.6 116.4L169.6 122Z"/>
<path d="M177.6 113.3L172.7 110.5L172.7 116.1Z"/>
<path d="M180.8 107.3L175.9 104.5L175.9 110.1Z"/>
<path d="M184 100.9L179.1 98.1L179.1 103.7Z"/>
<path d="M187.1 95.5L182.2 92.7L182.2 98.3Z"/>
<path d="M190.3 90.5L185.4 87.7L185.4 93.3Z"/>
<path d="M193.5 87.1L188.6 84.3L188.6 89.9Z"/>
<path d="M196.7 84.8L191.8 82L191.8 87.6Z"/>
<path d="M199.8 82.6L194.9 79.8L194.9 85.4Z"/>
<path d="M203 87.4L198.1 84.6L198.1 90.2Z"/>
<path d="M206.2 88.9L201.3 86.1L201.3 91.7Z"/>
<path d="M209.4 85.3L204.5 82.5L204.5 88.1Z"/>
<path d="M212.5 84.1L207.6 81.3L207.6 86.9Z"/>
<path d="M215.7 87.5L210.8 84.7L210.8 90.3Z"/>
<path d="M218.9 93.4L214 90.6L214 96.2Z"/>
<path d="M222 100.8L217.1 98L217.1 103.6Z"/>
<path d="M225.2 102.2L220.3 99.4L220.3 105Z"/>
<path d="M228.4 101.5L223.5 98.7L223.5 104.3Z"/>
<path d="M231.6 113.9L226.7 111.1L226.7 116.7Z"/>
<path d="M234.7 113.9L229.8 111.1L229.8 116.7Z"/>
<path d="M237.9 111.4L233 108.6L233 114.2Z"/>
<path d="M241.1 107.2L236.2 104.4L236.2 110Z"/>
<path d="M244.2 104.7L239.3 101.9L239.3 107.5Z"/>
<path d="M247.4 102.1L242.5 99.3L242.5 104.9Z"/>
<path d="M250.6 99.5L245.7 96.7L245.7 102.3Z"/>
<path d="M253.8 97.1L248.9 94.3L248.9 99.9Z"/>
<path d="M256.9 95.1L252 92.3L252 97.9Z"/>
<path d="M260.1 93.3L255.2 90.5L255.2 96.1Z"/>
<path d="M263.3 91.7L258.4 88.9L258.4 94.5Z"/>
<path d="M266.5 90.3L261.6 87.5L261.6 93.1Z"/>
<path d="M269.6 89L264.7 86.2L264.7 91.8Z"/>
<path d="M272.8 89.2L267.9 86.4L267.9 92Z"/>
<path d="M276 90.5L271.1 87.7L271.1 93.3Z"/>
<path d="M279.1 93.4L274.2 90.6L274.2 96.2Z"/>
<path d="M282.3 97.3L277.4 94.5L277.4 100.1Z"/>
<path d="M285.5 101.3L280.6 98.5L280.6 104.1Z"/>
<path d="M288.7 105.2L283.8 102.4L283.8 108Z"/>
<path d="M291.8 109L286.9 106.2L286.9 111.8Z"/>
</g>
<g stroke="#7d4e4e" stroke-width="1.1" fill="#fff">
<path d="M50.9 191.9L54.1 176.3L57.2 163.5L60.4 155.1L63.6 149.7L66.8 146.3L69.9 144L73.1 142.6L76.3 142L79.5 142L82.6 142.2L85.8 142.8L89 143.4L92.1 144.1L95.3 144.9L98.5 145.7L101.7 146.4L104.8 147L108 147.6L111.2 148.3L114.3 148.9L117.5 149.4L120.7 150L123.9 150.4L127 150.4L130.2 150.4L133.4 149.8L136.6 149L139.7 147.8L142.9 146.4L146.1 144.5L149.2 141.4L152.4 137.3L155.6 132.8L158.8 128.2L161.9 122.3L165.1 114.5L168.3 106.6L171.5 98.7L174.6 91.4L177.8 84.9L181 79.4L184.1 76.3L187.3 74.1L190.5 72.8L193.7 77.1L196.8 73.3L200 74.8L203.2 73.3L206.4 72.4L209.5 70.1L212.7 68.9L215.9 74.4L219 78.8L222.2 71.5L225.4 86.2L228.6 84.7L231.7 82.9L234.9 77.1L238.1 73.2L241.2 69.3L244.4 68.8L247.6 69.2L250.8 68.4L253.9 69.7L257.1 69.5L260.3 67.9L263.5 67.6L266.6 68.3L269.8 65.2L273 63.6L276.1 63.7L279.3 62.9L282.5 59.2L285.7 53.3L288.8 48.2" fill="none"/>
<circle cx="50.9" cy="191.9" r="2.5"/>
<circle cx="54.1" cy="176.3" r="2.5"/>
<circle cx="57.2" cy="163.5" r="2.5"/>
<circle cx="60.4" cy="155.1" r="2.5"/>
<circle cx="63.6" cy="149.7" r="2.5"/>
<circle cx="66.8" cy="146.3" r="2.5"/>
<circle cx="69.9" cy="144" r="2.5"/>
<circle cx="73.1" cy="142.6" r="2.5"/>
<circle cx="76.3" cy="142" r="2.5"/>
<circle cx="79.5" cy="142" r="2.5"/>
<circle cx="82.6" cy="142.2" r="2.5"/>
<circle cx="85.8" cy="142.8" r="2.5"/>
<circle cx="89" cy="143.4" r="2.5"/>
<circle cx="92.1" cy="144.1" r="2.5"/>
<circle cx="95.3" cy="144.9" r="2.5"/>
<circle cx="98.5" cy="145.7" r="2.5"/>
<circle cx="101.7" cy="146.4" r="2.5"/>
<circle cx="104.8" cy="147" r="2.5"/>
<circle cx="108" cy="147.6" r="2.5"/>
<circle cx="111.2" cy="148.3" r="2.5"/>
<circle cx="114.3" cy="148.9" r="2.5"/>
<circle cx="117.5" cy="149.4" r="2.5"/>
<circle cx="120.7" cy="150" r="2.5"/>
<circle cx="123.9" cy="150.4" r="2.5"/>
<circle cx="127" cy="150.4" r="2.5"/>
<circle cx="130.2" cy="150.4" r="2.5"/>
<circle cx="133.4" cy="149.8" r="2.5"/>
<circle cx="136.6" cy="149" r="2.5"/>
<circle cx="139.7" cy="147.8" r="2.5"/>
<circle cx="142.9" cy="146.4" r="2.5"/>
<circle cx="146.1" cy="144.5" r="2.5"/>
<circle cx="149.2" cy="141.4" r="2.5"/>
<circle cx="152.4" cy="137.3" r="2.5"/>
<circle cx="155.6" cy="132.8" r="2.5"/>
<circle cx="158.8" cy="128.2" r="2.5"/>
<circle cx="161.9" cy="122.3" r="2.5"/>
<circle cx="165.1" cy="114.5" r="2.5"/>
<circle cx="168.3" cy="106.6" r="2.5"/>
<circle cx="171.5" cy="98.7" r="2.5"/>
<circle cx="174.6" cy="91.4" r="2.5"/>
<circle cx="177.8" cy="84.9" r="2.5"/>
<circle cx="181" cy="79.4" r="2.5"/>
<circle cx="184.1" cy="76.3" r="2.5"/>
<circle cx="187.3" cy="74.1" r="2.5"/>
<circle cx="190.5" cy="72.8" r="2.5"/>
<circle cx="193.7" cy="77.1" r="2.5"/>
<circle cx="196.8" cy="73.3" r="2.5"/>
<circle cx="200" cy="74.8" r="2.5"/>
<circle cx="203.2" cy="73.3" r="2.5"/>
<circle cx="206.4" cy="72.4" r="2.5"/>
<circle cx="209.5" cy="70.1" r="2.5"/>
<circle cx="212.7" cy="68.9" r="2.5"/>
<circle cx="215.9" cy="74.4" r="2.5"/>
<circle cx="219" cy="78.8" r="2.5"/>
<circle cx="222.2" cy="71.5" r="2.5"/>
<circle cx="225.4" cy="86.2" r="2.5"/>
<circle cx="228.6" cy="84.7" r="2.5"/>
<circle cx="231.7" cy="82.9" r="2.5"/>
<circle cx="234.9" cy="77.1" r="2.5"/>
<circle cx="238.1" cy="73.2" r="2.5"/>
<circle cx="241.2" cy="69.3" r="2.5"/>
<circle cx="244.4" cy="68.8" r="2.5"/>
<circle cx="247.6" cy="69.2" r="2.5"/>
<circle cx="250.8" cy="68.4" r="2.5"/>
<circle cx="253.9" cy="69.7" r="2.5"/>
<circle cx="257.1" cy="69.5" r="2.5"/>
<circle cx="260.3" cy="67.9" r="2.5"/>
<circle cx="263.5" cy="67.6" r="2.5"/>
<circle cx="266.6" cy="68.3" r="2.5"/>
<circle cx="269.8" cy="65.2" r="2.5"/>
<circle cx="273" cy="63.6" r="2.5"/>
<circle cx="276.1" cy="63.7" r="2.5"/>
<circle cx="279.3" cy="62.9" r="2.5"/>
<circle cx="282.5" cy="59.2" r="2.5"/>
<circle cx="285.7" cy="53.3" r="2.5"/>
<circle cx="288.8" cy="48.2" r="2.5"/>
</g>
</g>
<g clip-path="url(#cb)">
<g stroke="#515151" stroke-width="1.1" fill="#fff">
<path d="M50.9 399L54.1 396.6L57.2 394L60.4 392.3L63.6 390.7L66.8 389.5L69.9 388.1L73.1 385.2L76.3 385.6L79.5 395.7L82.6 401.5L85.8 403L89 403.6L92.1 403.1L95.3 403.4L98.5 406L101.7 408.6L104.8 409.7L108 410.9L111.2 412.1L114.3 412.9L117.5 413.7L120.7 414.4L123.9 415L127 415.5L130.2 415.9L133.4 415.2L136.6 414.4L139.7 413.5L142.9 412.9L146.1 412.7L149.2 412.5L152.4 412.1L155.6 411.7L158.8 411.2L161.9 410.4L165.1 409.5L168.3 408.6L171.5 407.7L174.6 406.5L177.8 405.2L181 404L184.1 402.7L187.3 401L190.5 399.4L193.7 397.7L196.8 395.9L200 393.9L203.2 392L206.4 390.1L209.5 388.3L212.7 386.5L215.9 384.7L219 383L222.2 381.7L225.4 380.3L228.6 379.4L231.7 378.6L234.9 377.9L238.1 377.3L241.2 376.8L244.4 376.2L247.6 376.2L250.8 376.4L253.9 376.6L257.1 377.2L260.3 378L263.5 378.8L266.6 379.6L269.8 380.4L273 381.2L276.1 381.8L279.3 382.5L282.5 383.1L285.7 383.6L288.8 384" fill="none"/>
<rect x="48.8" y="396.9" width="4.3" height="4.3"/>
<rect x="51.9" y="394.4" width="4.3" height="4.3"/>
<rect x="55.1" y="391.8" width="4.3" height="4.3"/>
<rect x="58.3" y="390.2" width="4.3" height="4.3"/>
<rect x="61.4" y="388.6" width="4.3" height="4.3"/>
<rect x="64.6" y="387.3" width="4.3" height="4.3"/>
<rect x="67.8" y="385.9" width="4.3" height="4.3"/>
<rect x="71" y="383" width="4.3" height="4.3"/>
<rect x="74.1" y="383.5" width="4.3" height="4.3"/>
<rect x="77.3" y="393.5" width="4.3" height="4.3"/>
<rect x="80.5" y="399.3" width="4.3" height="4.3"/>
<rect x="83.6" y="400.8" width="4.3" height="4.3"/>
<rect x="86.8" y="401.4" width="4.3" height="4.3"/>
<rect x="90" y="401" width="4.3" height="4.3"/>
<rect x="93.2" y="401.2" width="4.3" height="4.3"/>
<rect x="96.3" y="403.8" width="4.3" height="4.3"/>
<rect x="99.5" y="406.4" width="4.3" height="4.3"/>
<rect x="102.7" y="407.6" width="4.3" height="4.3"/>
<rect x="105.9" y="408.8" width="4.3" height="4.3"/>
<rect x="109" y="409.9" width="4.3" height="4.3"/>
<rect x="112.2" y="410.7" width="4.3" height="4.3"/>
<rect x="115.4" y="411.5" width="4.3" height="4.3"/>
<rect x="118.5" y="412.3" width="4.3" height="4.3"/>
<rect x="121.7" y="412.8" width="4.3" height="4.3"/>
<rect x="124.9" y="413.4" width="4.3" height="4.3"/>
<rect x="128.1" y="413.8" width="4.3" height="4.3"/>
<rect x="131.2" y="413" width="4.3" height="4.3"/>
<rect x="134.4" y="412.2" width="4.3" height="4.3"/>
<rect x="137.6" y="411.4" width="4.3" height="4.3"/>
<rect x="140.8" y="410.8" width="4.3" height="4.3"/>
<rect x="143.9" y="410.6" width="4.3" height="4.3"/>
<rect x="147.1" y="410.4" width="4.3" height="4.3"/>
<rect x="150.3" y="410" width="4.3" height="4.3"/>
<rect x="153.4" y="409.5" width="4.3" height="4.3"/>
<rect x="156.6" y="409" width="4.3" height="4.3"/>
<rect x="159.8" y="408.3" width="4.3" height="4.3"/>
<rect x="163" y="407.4" width="4.3" height="4.3"/>
<rect x="166.1" y="406.4" width="4.3" height="4.3"/>
<rect x="169.3" y="405.5" width="4.3" height="4.3"/>
<rect x="172.5" y="404.3" width="4.3" height="4.3"/>
<rect x="175.6" y="403.1" width="4.3" height="4.3"/>
<rect x="178.8" y="401.9" width="4.3" height="4.3"/>
<rect x="182" y="400.6" width="4.3" height="4.3"/>
<rect x="185.2" y="398.9" width="4.3" height="4.3"/>
<rect x="188.3" y="397.2" width="4.3" height="4.3"/>
<rect x="191.5" y="395.5" width="4.3" height="4.3"/>
<rect x="194.7" y="393.7" width="4.3" height="4.3"/>
<rect x="197.9" y="391.8" width="4.3" height="4.3"/>
<rect x="201" y="389.9" width="4.3" height="4.3"/>
<rect x="204.2" y="387.9" width="4.3" height="4.3"/>
<rect x="207.4" y="386.1" width="4.3" height="4.3"/>
<rect x="210.5" y="384.3" width="4.3" height="4.3"/>
<rect x="213.7" y="382.5" width="4.3" height="4.3"/>
<rect x="216.9" y="380.9" width="4.3" height="4.3"/>
<rect x="220.1" y="379.5" width="4.3" height="4.3"/>
<rect x="223.2" y="378.1" width="4.3" height="4.3"/>
<rect x="226.4" y="377.2" width="4.3" height="4.3"/>
<rect x="229.6" y="376.5" width="4.3" height="4.3"/>
<rect x="232.8" y="375.7" width="4.3" height="4.3"/>
<rect x="235.9" y="375.1" width="4.3" height="4.3"/>
<rect x="239.1" y="374.6" width="4.3" height="4.3"/>
<rect x="242.3" y="374.1" width="4.3" height="4.3"/>
<rect x="245.4" y="374.1" width="4.3" height="4.3"/>
<rect x="248.6" y="374.2" width="4.3" height="4.3"/>
<rect x="251.8" y="374.4" width="4.3" height="4.3"/>
<rect x="255" y="375.1" width="4.3" height="4.3"/>
<rect x="258.1" y="375.8" width="4.3" height="4.3"/>
<rect x="261.3" y="376.6" width="4.3" height="4.3"/>
<rect x="264.5" y="377.4" width="4.3" height="4.3"/>
<rect x="267.7" y="378.2" width="4.3" height="4.3"/>
<rect x="270.8" y="379" width="4.3" height="4.3"/>
<rect x="274" y="379.7" width="4.3" height="4.3"/>
<rect x="277.2" y="380.3" width="4.3" height="4.3"/>
<rect x="280.3" y="380.9" width="4.3" height="4.3"/>
<rect x="283.5" y="381.4" width="4.3" height="4.3"/>
<rect x="286.7" y="381.8" width="4.3" height="4.3"/>
</g>
<g stroke="#f14040" stroke-width="1.1" fill="#fff">
<path d="M50.9 448.4L54.1 428.5L57.2 409.2L60.4 404.3L63.6 402.2L66.8 401.5L69.9 401.5L73.1 401.9L76.3 402.7L79.5 403.7L82.6 404.8L85.8 405.9L89 407L92.1 408L95.3 408.9L98.5 409.8L101.7 410.5L104.8 411.2L108 411.9L111.2 412.6L114.3 413.4L117.5 414.3L120.7 415.1L123.9 415.8L127 416.2L130.2 416.6L133.4 417L136.6 416.9L139.7 416.7L142.9 416.6L146.1 416.3L149.2 415.7L152.4 415.1L155.6 414.5L158.8 413.8L161.9 412.9L165.1 412L168.3 411.1L171.5 409.3L174.6 406.9L177.8 404.5L181 401.9L184.1 399.2L187.3 396.4L190.5 393.7L193.7 390.9L196.8 388.1L200 385.8L203.2 383.9L206.4 381.9L209.5 380.7L212.7 379.9L215.9 379.1L219 378.9L222.2 378.9L225.4 378.9L228.6 379.3L231.7 379.8L234.9 380.6L238.1 381.7L241.2 382.9L244.4 384.5L247.6 386.1L250.8 387.7L253.9 389.7L257.1 391.7L260.3 393.7L263.5 395.7L266.6 397.7L269.8 399.6L273 401.6L276.1 403.6L279.3 405.5L282.5 407.1L285.7 408.7L288.8 410.4" fill="none"/>
<circle cx="50.9" cy="448.4" r="2.5"/>
<circle cx="54.1" cy="428.5" r="2.5"/>
<circle cx="57.2" cy="409.2" r="2.5"/>
<circle cx="60.4" cy="404.3" r="2.5"/>
<circle cx="63.6" cy="402.2" r="2.5"/>
<circle cx="66.8" cy="401.5" r="2.5"/>
<circle cx="69.9" cy="401.5" r="2.5"/>
<circle cx="73.1" cy="401.9" r="2.5"/>
<circle cx="76.3" cy="402.7" r="2.5"/>
<circle cx="79.5" cy="403.7" r="2.5"/>
<circle cx="82.6" cy="404.8" r="2.5"/>
<circle cx="85.8" cy="405.9" r="2.5"/>
<circle cx="89" cy="407" r="2.5"/>
<circle cx="92.1" cy="408" r="2.5"/>
<circle cx="95.3" cy="408.9" r="2.5"/>
<circle cx="98.5" cy="409.8" r="2.5"/>
<circle cx="101.7" cy="410.5" r="2.5"/>
<circle cx="104.8" cy="411.2" r="2.5"/>
<circle cx="108" cy="411.9" r="2.5"/>
<circle cx="111.2" cy="412.6" r="2.5"/>
<circle cx="114.3" cy="413.4" r="2.5"/>
<circle cx="117.5" cy="414.3" r="2.5"/>
<circle cx="120.7" cy="415.1" r="2.5"/>
<circle cx="123.9" cy="415.8" r="2.5"/>
<circle cx="127" cy="416.2" r="2.5"/>
<circle cx="130.2" cy="416.6" r="2.5"/>
<circle cx="133.4" cy="417" r="2.5"/>
<circle cx="136.6" cy="416.9" r="2.5"/>
<circle cx="139.7" cy="416.7" r="2.5"/>
<circle cx="142.9" cy="416.6" r="2.5"/>
<circle cx="146.1" cy="416.3" r="2.5"/>
<circle cx="149.2" cy="415.7" r="2.5"/>
<circle cx="152.4" cy="415.1" r="2.5"/>
<circle cx="155.6" cy="414.5" r="2.5"/>
<circle cx="158.8" cy="413.8" r="2.5"/>
<circle cx="161.9" cy="412.9" r="2.5"/>
<circle cx="165.1" cy="412" r="2.5"/>
<circle cx="168.3" cy="411.1" r="2.5"/>
<circle cx="171.5" cy="409.3" r="2.5"/>
<circle cx="174.6" cy="406.9" r="2.5"/>
<circle cx="177.8" cy="404.5" r="2.5"/>
<circle cx="181" cy="401.9" r="2.5"/>
<circle cx="184.1" cy="399.2" r="2.5"/>
<circle cx="187.3" cy="396.4" r="2.5"/>
<circle cx="190.5" cy="393.7" r="2.5"/>
<circle cx="193.7" cy="390.9" r="2.5"/>
<circle cx="196.8" cy="388.1" r="2.5"/>
<circle cx="200" cy="385.8" r="2.5"/>
<circle cx="203.2" cy="383.9" r="2.5"/>
<circle cx="206.4" cy="381.9" r="2.5"/>
<circle cx="209.5" cy="380.7" r="2.5"/>
<circle cx="212.7" cy="379.9" r="2.5"/>
<circle cx="215.9" cy="379.1" r="2.5"/>
<circle cx="219" cy="378.9" r="2.5"/>
<circle cx="222.2" cy="378.9" r="2.5"/>
<circle cx="225.4" cy="378.9" r="2.5"/>
<circle cx="228.6" cy="379.3" r="2.5"/>
<circle cx="231.7" cy="379.8" r="2.5"/>
<circle cx="234.9" cy="380.6" r="2.5"/>
<circle cx="238.1" cy="381.7" r="2.5"/>
<circle cx="241.2" cy="382.9" r="2.5"/>
<circle cx="244.4" cy="384.5" r="2.5"/>
<circle cx="247.6" cy="386.1" r="2.5"/>
<circle cx="250.8" cy="387.7" r="2.5"/>
<circle cx="253.9" cy="389.7" r="2.5"/>
<circle cx="257.1" cy="391.7" r="2.5"/>
<circle cx="260.3" cy="393.7" r="2.5"/>
<circle cx="263.5" cy="395.7" r="2.5"/>
<circle cx="266.6" cy="397.7" r="2.5"/>
<circle cx="269.8" cy="399.6" r="2.5"/>
<circle cx="273" cy="401.6" r="2.5"/>
<circle cx="276.1" cy="403.6" r="2.5"/>
<circle cx="279.3" cy="405.5" r="2.5"/>
<circle cx="282.5" cy="407.1" r="2.5"/>
<circle cx="285.7" cy="408.7" r="2.5"/>
<circle cx="288.8" cy="410.4" r="2.5"/>
</g>
<g stroke="#1a6fdf" stroke-width="1.1" fill="#fff">
<path d="M50.9 468.3L54.1 449.3L57.2 433.3L60.4 422.7L63.6 414.4L66.8 409.8L69.9 407.4L73.1 406.3L76.3 406.6L79.5 407.5L82.6 408.4L85.8 409.2L89 410.2L92.1 411.1L95.3 412L98.5 413L101.7 413.9L104.8 414.9L108 415.9L111.2 416.8L114.3 417.6L117.5 418.4L120.7 419.2L123.9 419.7L127 420L130.2 420.2L133.4 420.5L136.6 420.2L139.7 419.9L142.9 419.7L146.1 419.1L149.2 418L152.4 416.9L155.6 415.7L158.8 414L161.9 412.3L165.1 410.5L168.3 408.4L171.5 406.3L174.6 403.6L177.8 400.9L181 398.1L184.1 395.3L187.3 392.6L190.5 389.8L193.7 387.1L196.8 384.4L200 382.5L203.2 380.9L206.4 379.4L209.5 377.6L212.7 375.7L215.9 376.4L219 380L222.2 382.2L225.4 384.3L228.6 387.2L231.7 390.3L234.9 393.1L238.1 395.8L241.2 398.4L244.4 400.8L247.6 403.2L250.8 405.7L253.9 408.5L257.1 411.3L260.3 414L263.5 416.7L266.6 419.1L269.8 419.7L273 420.2L276.1 422.9L279.3 426.1L282.5 429.3L285.7 431.4L288.8 433.3" fill="none"/>
<path d="M50.9 465.3L53.7 470.2L48.1 470.2Z"/>
<path d="M54.1 446.3L56.9 451.2L51.3 451.2Z"/>
<path d="M57.2 430.3L60 435.2L54.4 435.2Z"/>
<path d="M60.4 419.7L63.2 424.6L57.6 424.6Z"/>
<path d="M63.6 411.4L66.4 416.3L60.8 416.3Z"/>
<path d="M66.8 406.8L69.6 411.7L64 411.7Z"/>
<path d="M69.9 404.4L72.7 409.3L67.1 409.3Z"/>
<path d="M73.1 403.3L75.9 408.2L70.3 408.2Z"/>
<path d="M76.3 403.6L79.1 408.5L73.5 408.5Z"/>
<path d="M79.5 404.5L82.3 409.4L76.7 409.4Z"/>
<path d="M82.6 405.4L85.4 410.3L79.8 410.3Z"/>
<path d="M85.8 406.2L88.6 411.1L83 411.1Z"/>
<path d="M89 407.2L91.8 412.1L86.2 412.1Z"/>
<path d="M92.1 408.1L94.9 413L89.3 413Z"/>
<path d="M95.3 409L98.1 413.9L92.5 413.9Z"/>
<path d="M98.5 410L101.3 414.9L95.7 414.9Z"/>
<path d="M101.7 410.9L104.5 415.8L98.9 415.8Z"/>
<path d="M104.8 411.9L107.6 416.8L102 416.8Z"/>
<path d="M108 412.9L110.8 417.8L105.2 417.8Z"/>
<path d="M111.2 413.8L114 418.7L108.4 418.7Z"/>
<path d="M114.3 414.6L117.1 419.5L111.5 419.5Z"/>
<path d="M117.5 415.4L120.3 420.3L114.7 420.3Z"/>
<path d="M120.7 416.2L123.5 421.1L117.9 421.1Z"/>
<path d="M123.9 416.7L126.7 421.6L121.1 421.6Z"/>
<path d="M127 417L129.8 421.9L124.2 421.9Z"/>
<path d="M130.2 417.2L133 422.1L127.4 422.1Z"/>
<path d="M133.4 417.5L136.2 422.4L130.6 422.4Z"/>
<path d="M136.6 417.2L139.4 422.1L133.8 422.1Z"/>
<path d="M139.7 416.9L142.5 421.8L136.9 421.8Z"/>
<path d="M142.9 416.7L145.7 421.6L140.1 421.6Z"/>
<path d="M146.1 416.1L148.9 421L143.3 421Z"/>
<path d="M149.2 415L152 419.9L146.4 419.9Z"/>
<path d="M152.4 413.9L155.2 418.8L149.6 418.8Z"/>
<path d="M155.6 412.7L158.4 417.6L152.8 417.6Z"/>
<path d="M158.8 411L161.6 415.9L156 415.9Z"/>
<path d="M161.9 409.3L164.7 414.2L159.1 414.2Z"/>
<path d="M165.1 407.5L167.9 412.4L162.3 412.4Z"/>
<path d="M168.3 405.4L171.1 410.3L165.5 410.3Z"/>
<path d="M171.5 403.3L174.3 408.2L168.7 408.2Z"/>
<path d="M174.6 400.6L177.4 405.5L171.8 405.5Z"/>
<path d="M177.8 397.9L180.6 402.8L175 402.8Z"/>
<path d="M181 395.1L183.8 400L178.2 400Z"/>
<path d="M184.1 392.3L186.9 397.2L181.3 397.2Z"/>
<path d="M187.3 389.6L190.1 394.5L184.5 394.5Z"/>
<path d="M190.5 386.8L193.3 391.7L187.7 391.7Z"/>
<path d="M193.7 384.1L196.5 389L190.9 389Z"/>
<path d="M196.8 381.4L199.6 386.3L194 386.3Z"/>
<path d="M200 379.5L202.8 384.4L197.2 384.4Z"/>
<path d="M203.2 377.9L206 382.8L200.4 382.8Z"/>
<path d="M206.4 376.4L209.2 381.3L203.6 381.3Z"/>
<path d="M209.5 374.6L212.3 379.5L206.7 379.5Z"/>
<path d="M212.7 372.7L215.5 377.6L209.9 377.6Z"/>
<path d="M215.9 373.4L218.7 378.3L213.1 378.3Z"/>
<path d="M219 377L221.8 381.9L216.2 381.9Z"/>
<path d="M222.2 379.2L225 384.1L219.4 384.1Z"/>
<path d="M225.4 381.3L228.2 386.2L222.6 386.2Z"/>
<path d="M228.6 384.2L231.4 389.1L225.8 389.1Z"/>
<path d="M231.7 387.3L234.5 392.2L228.9 392.2Z"/>
<path d="M234.9 390.1L237.7 395L232.1 395Z"/>
<path d="M238.1 392.8L240.9 397.7L235.3 397.7Z"/>
<path d="M241.2 395.4L244 400.3L238.4 400.3Z"/>
<path d="M244.4 397.8L247.2 402.7L241.6 402.7Z"/>
<path d="M247.6 400.2L250.4 405.1L244.8 405.1Z"/>
<path d="M250.8 402.7L253.6 407.6L248 407.6Z"/>
<path d="M253.9 405.5L256.7 410.4L251.1 410.4Z"/>
<path d="M257.1 408.3L259.9 413.2L254.3 413.2Z"/>
<path d="M260.3 411L263.1 415.9L257.5 415.9Z"/>
<path d="M263.5 413.7L266.3 418.6L260.7 418.6Z"/>
<path d="M266.6 416.1L269.4 421L263.8 421Z"/>
<path d="M269.8 416.7L272.6 421.6L267 421.6Z"/>
<path d="M273 417.2L275.8 422.1L270.2 422.1Z"/>
<path d="M276.1 419.9L278.9 424.8L273.3 424.8Z"/>
<path d="M279.3 423.1L282.1 428L276.5 428Z"/>
<path d="M282.5 426.3L285.3 431.2L279.7 431.2Z"/>
<path d="M285.7 428.4L288.5 433.3L282.9 433.3Z"/>
<path d="M288.8 430.3L291.6 435.2L286 435.2Z"/>
</g>
<g stroke="#37ad6b" stroke-width="1.1" fill="#fff">
<path d="M50.9 458L54.1 442.9L57.2 426.2L60.4 413.9L63.6 408.7L66.8 407.3L69.9 406.5L73.1 407.6L76.3 408.7L79.5 409.8L82.6 410.9L85.8 411.9L89 413L92.1 414.1L95.3 415.2L98.5 416.4L101.7 417.6L104.8 418.8L108 419.8L111.2 420.9L114.3 421.9L117.5 422.8L120.7 423.3L123.9 423.8L127 424.3L130.2 424.3L133.4 423.9L136.6 424.2L139.7 424.8L142.9 425.5L146.1 426.1L149.2 421.9L152.4 418.4L155.6 416.9L158.8 415.6L161.9 413.4L165.1 409.8L168.3 406.3L171.5 402.7L174.6 399.1L177.8 395.5L181 392.5L184.1 389.7L187.3 386.9L190.5 385.2L193.7 384L196.8 382.9L200 382.5L203.2 382.5L206.4 382.5L209.5 383.2L212.7 384.2L215.9 386.6L219 390.6L222.2 394.4L225.4 398.3L228.6 402.1L231.7 405.9L234.9 409.6L238.1 413.3L241.2 416.4L244.4 419.6L247.6 422.4L250.8 425L253.9 427.1L257.1 428.7L260.3 430L263.5 430.4L266.6 430.9L269.8 430.4L273 429.9L276.1 429.4L279.3 428.8L282.5 428.3L285.7 427.9L288.8 427.5" fill="none"/>
<path d="M50.9 461L53.7 456.1L48.1 456.1Z"/>
<path d="M54.1 445.9L56.9 441L51.3 441Z"/>
<path d="M57.2 429.2L60 424.3L54.4 424.3Z"/>
<path d="M60.4 416.9L63.2 412L57.6 412Z"/>
<path d="M63.6 411.7L66.4 406.8L60.8 406.8Z"/>
<path d="M66.8 410.3L69.6 405.4L64 405.4Z"/>
<path d="M69.9 409.5L72.7 404.6L67.1 404.6Z"/>
<path d="M73.1 410.6L75.9 405.7L70.3 405.7Z"/>
<path d="M76.3 411.7L79.1 406.8L73.5 406.8Z"/>
<path d="M79.5 412.8L82.3 407.9L76.7 407.9Z"/>
<path d="M82.6 413.9L85.4 409L79.8 409Z"/>
<path d="M85.8 414.9L88.6 410L83 410Z"/>
<path d="M89 416L91.8 411.1L86.2 411.1Z"/>
<path d="M92.1 417.1L94.9 412.2L89.3 412.2Z"/>
<path d="M95.3 418.2L98.1 413.3L92.5 413.3Z"/>
<path d="M98.5 419.4L101.3 414.5L95.7 414.5Z"/>
<path d="M101.7 420.6L104.5 415.7L98.9 415.7Z"/>
<path d="M104.8 421.8L107.6 416.9L102 416.9Z"/>
<path d="M108 422.8L110.8 417.9L105.2 417.9Z"/>
<path d="M111.2 423.9L114 419L108.4 419Z"/>
<path d="M114.3 424.9L117.1 420.1L111.5 420.1Z"/>
<path d="M117.5 425.8L120.3 420.9L114.7 420.9Z"/>
<path d="M120.7 426.3L123.5 421.4L117.9 421.4Z"/>
<path d="M123.9 426.8L126.7 421.9L121.1 421.9Z"/>
<path d="M127 427.3L129.8 422.4L124.2 422.4Z"/>
<path d="M130.2 427.3L133 422.4L127.4 422.4Z"/>
<path d="M133.4 426.9L136.2 422L130.6 422Z"/>
<path d="M136.6 427.2L139.4 422.3L133.8 422.3Z"/>
<path d="M139.7 427.8L142.5 422.9L136.9 422.9Z"/>
<path d="M142.9 428.5L145.7 423.6L140.1 423.6Z"/>
<path d="M146.1 429.1L148.9 424.2L143.3 424.2Z"/>
<path d="M149.2 424.9L152 420L146.4 420Z"/>
<path d="M152.4 421.4L155.2 416.5L149.6 416.5Z"/>
<path d="M155.6 419.9L158.4 415L152.8 415Z"/>
<path d="M158.8 418.6L161.6 413.7L156 413.7Z"/>
<path d="M161.9 416.4L164.7 411.5L159.1 411.5Z"/>
<path d="M165.1 412.8L167.9 407.9L162.3 407.9Z"/>
<path d="M168.3 409.3L171.1 404.4L165.5 404.4Z"/>
<path d="M171.5 405.7L174.3 400.8L168.7 400.8Z"/>
<path d="M174.6 402.1L177.4 397.2L171.8 397.2Z"/>
<path d="M177.8 398.5L180.6 393.6L175 393.6Z"/>
<path d="M181 395.5L183.8 390.6L178.2 390.6Z"/>
<path d="M184.1 392.7L186.9 387.8L181.3 387.8Z"/>
<path d="M187.3 389.9L190.1 385L184.5 385Z"/>
<path d="M190.5 388.2L193.3 383.3L187.7 383.3Z"/>
<path d="M193.7 387L196.5 382.1L190.9 382.1Z"/>
<path d="M196.8 385.9L199.6 381L194 381Z"/>
<path d="M200 385.5L202.8 380.6L197.2 380.6Z"/>
<path d="M203.2 385.5L206 380.6L200.4 380.6Z"/>
<path d="M206.4 385.5L209.2 380.6L203.6 380.6Z"/>
<path d="M209.5 386.2L212.3 381.3L206.7 381.3Z"/>
<path d="M212.7 387.2L215.5 382.3L209.9 382.3Z"/>
<path d="M215.9 389.6L218.7 384.7L213.1 384.7Z"/>
<path d="M219 393.6L221.8 388.7L216.2 388.7Z"/>
<path d="M222.2 397.4L225 392.5L219.4 392.5Z"/>
<path d="M225.4 401.3L228.2 396.4L222.6 396.4Z"/>
<path d="M228.6 405.1L231.4 400.2L225.8 400.2Z"/>
<path d="M231.7 408.9L234.5 404L228.9 404Z"/>
<path d="M234.9 412.6L237.7 407.7L232.1 407.7Z"/>
<path d="M238.1 416.3L240.9 411.4L235.3 411.4Z"/>
<path d="M241.2 419.4L244 414.6L238.4 414.6Z"/>
<path d="M244.4 422.6L247.2 417.7L241.6 417.7Z"/>
<path d="M247.6 425.4L250.4 420.5L244.8 420.5Z"/>
<path d="M250.8 428L253.6 423.1L248 423.1Z"/>
<path d="M253.9 430.1L256.7 425.2L251.1 425.2Z"/>
<path d="M257.1 431.7L259.9 426.8L254.3 426.8Z"/>
<path d="M260.3 433L263.1 428.1L257.5 428.1Z"/>
<path d="M263.5 433.4L266.3 428.5L260.7 428.5Z"/>
<path d="M266.6 433.9L269.4 429L263.8 429Z"/>
<path d="M269.8 433.4L272.6 428.5L267 428.5Z"/>
<path d="M273 432.9L275.8 428L270.2 428Z"/>
<path d="M276.1 432.4L278.9 427.5L273.3 427.5Z"/>
<path d="M279.3 431.8L282.1 426.9L276.5 426.9Z"/>
<path d="M282.5 431.3L285.3 426.4L279.7 426.4Z"/>
<path d="M285.7 430.9L288.5 426L282.9 426Z"/>
<path d="M288.8 430.5L291.6 425.6L286 425.6Z"/>
</g>
<g stroke="#b177de" stroke-width="1.1" fill="#fff">
<path d="M50.9 442.8L54.1 422L57.2 407.5L60.4 408.8L63.6 411.3L66.8 413.6L69.9 415.2L73.1 416.8L76.3 417.8L79.5 418.9L82.6 419.7L85.8 420.6L89 421.4L92.1 422.2L95.3 423L98.5 424L101.7 425.1L104.8 426.7L108 427.6L111.2 427.9L114.3 428.2L117.5 428.5L120.7 428.1L123.9 427.6L127 427.1L130.2 425.9L133.4 424.4L136.6 424.8L139.7 423.7L142.9 405L146.1 418L149.2 416.5L152.4 414.4L155.6 412.2L158.8 410.4L161.9 407.1L165.1 402.9L168.3 398.6L171.5 394.4L174.6 390.3L177.8 387.7L181 385.1L184.1 384.3L187.3 383.8L190.5 384.3L193.7 385.4L196.8 386.5L200 387.5L203.2 388.1L206.4 386.5L209.5 390.4L212.7 396.8L215.9 401.2L219 404.8L222.2 405.8L225.4 406.8L228.6 417.3L231.7 418.5L234.9 418.8L238.1 418.3L241.2 417.6L244.4 416.6L247.6 415.5L250.8 412.9L253.9 410.2L257.1 406.8L260.3 403.1L263.5 399.3L266.6 395.6L269.8 392.1L273 388.9L276.1 385.8L279.3 382.6L282.5 379.4L285.7 376.8L288.8 374.3" fill="none"/>
<path d="M50.9 439.7L54 442.8L50.9 445.9L47.8 442.8Z"/>
<path d="M54.1 418.9L57.2 422L54.1 425.1L51 422Z"/>
<path d="M57.2 404.4L60.3 407.5L57.2 410.6L54.1 407.5Z"/>
<path d="M60.4 405.7L63.5 408.8L60.4 411.9L57.3 408.8Z"/>
<path d="M63.6 408.2L66.7 411.3L63.6 414.4L60.5 411.3Z"/>
<path d="M66.8 410.5L69.9 413.6L66.8 416.7L63.7 413.6Z"/>
<path d="M69.9 412.1L73 415.2L69.9 418.3L66.8 415.2Z"/>
<path d="M73.1 413.7L76.2 416.8L73.1 419.9L70 416.8Z"/>
<path d="M76.3 414.7L79.4 417.8L76.3 420.9L73.2 417.8Z"/>
<path d="M79.5 415.8L82.6 418.9L79.5 422L76.4 418.9Z"/>
<path d="M82.6 416.6L85.7 419.7L82.6 422.8L79.5 419.7Z"/>
<path d="M85.8 417.5L88.9 420.6L85.8 423.7L82.7 420.6Z"/>
<path d="M89 418.3L92.1 421.4L89 424.5L85.9 421.4Z"/>
<path d="M92.1 419.1L95.2 422.2L92.1 425.3L89 422.2Z"/>
<path d="M95.3 419.9L98.4 423L95.3 426.1L92.2 423Z"/>
<path d="M98.5 420.9L101.6 424L98.5 427.1L95.4 424Z"/>
<path d="M101.7 422L104.8 425.1L101.7 428.2L98.6 425.1Z"/>
<path d="M104.8 423.6L107.9 426.7L104.8 429.8L101.7 426.7Z"/>
<path d="M108 424.5L111.1 427.6L108 430.7L104.9 427.6Z"/>
<path d="M111.2 424.8L114.3 427.9L111.2 431L108.1 427.9Z"/>
<path d="M114.3 425.1L117.4 428.2L114.3 431.3L111.2 428.2Z"/>
<path d="M117.5 425.4L120.6 428.5L117.5 431.6L114.4 428.5Z"/>
<path d="M120.7 425L123.8 428.1L120.7 431.2L117.6 428.1Z"/>
<path d="M123.9 424.5L127 427.6L123.9 430.7L120.8 427.6Z"/>
<path d="M127 424L130.1 427.1L127 430.2L123.9 427.1Z"/>
<path d="M130.2 422.8L133.3 425.9L130.2 429L127.1 425.9Z"/>
<path d="M133.4 421.3L136.5 424.4L133.4 427.5L130.3 424.4Z"/>
<path d="M136.6 421.7L139.7 424.8L136.6 427.9L133.5 424.8Z"/>
<path d="M139.7 420.6L142.8 423.7L139.7 426.8L136.6 423.7Z"/>
<path d="M142.9 401.9L146 405L142.9 408.1L139.8 405Z"/>
<path d="M146.1 414.9L149.2 418L146.1 421.1L143 418Z"/>
<path d="M149.2 413.4L152.3 416.5L149.2 419.6L146.1 416.5Z"/>
<path d="M152.4 411.3L155.5 414.4L152.4 417.5L149.3 414.4Z"/>
<path d="M155.6 409.1L158.7 412.2L155.6 415.3L152.5 412.2Z"/>
<path d="M158.8 407.3L161.9 410.4L158.8 413.5L155.7 410.4Z"/>
<path d="M161.9 404L165 407.1L161.9 410.2L158.8 407.1Z"/>
<path d="M165.1 399.8L168.2 402.9L165.1 406L162 402.9Z"/>
<path d="M168.3 395.5L171.4 398.6L168.3 401.7L165.2 398.6Z"/>
<path d="M171.5 391.3L174.6 394.4L171.5 397.5L168.4 394.4Z"/>
<path d="M174.6 387.2L177.7 390.3L174.6 393.4L171.5 390.3Z"/>
<path d="M177.8 384.6L180.9 387.7L177.8 390.8L174.7 387.7Z"/>
<path d="M181 382L184.1 385.1L181 388.2L177.9 385.1Z"/>
<path d="M184.1 381.2L187.2 384.3L184.1 387.4L181 384.3Z"/>
<path d="M187.3 380.7L190.4 383.8L187.3 386.9L184.2 383.8Z"/>
<path d="M190.5 381.2L193.6 384.3L190.5 387.4L187.4 384.3Z"/>
<path d="M193.7 382.3L196.8 385.4L193.7 388.5L190.6 385.4Z"/>
<path d="M196.8 383.4L199.9 386.5L196.8 389.6L193.7 386.5Z"/>
<path d="M200 384.4L203.1 387.5L200 390.6L196.9 387.5Z"/>
<path d="M203.2 385L206.3 388.1L203.2 391.2L200.1 388.1Z"/>
<path d="M206.4 383.4L209.5 386.5L206.4 389.6L203.3 386.5Z"/>
<path d="M209.5 387.3L212.6 390.4L209.5 393.5L206.4 390.4Z"/>
<path d="M212.7 393.7L215.8 396.8L212.7 399.9L209.6 396.8Z"/>
<path d="M215.9 398.1L219 401.2L215.9 404.3L212.8 401.2Z"/>
<path d="M219 401.7L222.1 404.8L219 407.9L215.9 404.8Z"/>
<path d="M222.2 402.7L225.3 405.8L222.2 408.9L219.1 405.8Z"/>
<path d="M225.4 403.7L228.5 406.8L225.4 409.9L222.3 406.8Z"/>
<path d="M228.6 414.2L231.7 417.3L228.6 420.4L225.5 417.3Z"/>
<path d="M231.7 415.4L234.8 418.5L231.7 421.6L228.6 418.5Z"/>
<path d="M234.9 415.7L238 418.8L234.9 421.9L231.8 418.8Z"/>
<path d="M238.1 415.2L241.2 418.3L238.1 421.4L235 418.3Z"/>
<path d="M241.2 414.5L244.3 417.6L241.2 420.7L238.1 417.6Z"/>
<path d="M244.4 413.5L247.5 416.6L244.4 419.7L241.3 416.6Z"/>
<path d="M247.6 412.4L250.7 415.5L247.6 418.6L244.5 415.5Z"/>
<path d="M250.8 409.8L253.9 412.9L250.8 416L247.7 412.9Z"/>
<path d="M253.9 407.1L257 410.2L253.9 413.3L250.8 410.2Z"/>
<path d="M257.1 403.7L260.2 406.8L257.1 409.9L254 406.8Z"/>
<path d="M260.3 400L263.4 403.1L260.3 406.2L257.2 403.1Z"/>
<path d="M263.5 396.2L266.6 399.3L263.5 402.4L260.4 399.3Z"/>
<path d="M266.6 392.5L269.7 395.6L266.6 398.7L263.5 395.6Z"/>
<path d="M269.8 389L272.9 392.1L269.8 395.2L266.7 392.1Z"/>
<path d="M273 385.8L276.1 388.9L273 392L269.9 388.9Z"/>
<path d="M276.1 382.7L279.2 385.8L276.1 388.9L273 385.8Z"/>
<path d="M279.3 379.5L282.4 382.6L279.3 385.7L276.2 382.6Z"/>
<path d="M282.5 376.3L285.6 379.4L282.5 382.5L279.4 379.4Z"/>
<path d="M285.7 373.7L288.8 376.8L285.7 379.9L282.6 376.8Z"/>
<path d="M288.8 371.2L291.9 374.3L288.8 377.4L285.7 374.3Z"/>
</g>
<g stroke="#cc9900" stroke-width="1.1" fill="#fff">
<path d="M50.9 416.8L54.1 404.3L57.2 400.5L60.4 401.7L63.6 403.7L66.8 404.8L69.9 405.8L73.1 406.9L76.3 408L79.5 409L82.6 410.1L85.8 411.3L89 412.9L92.1 414.4L95.3 415.5L98.5 416.6L101.7 417.6L104.8 418.7L108 419.6L111.2 420.4L114.3 421L117.5 421L120.7 420.9L123.9 420.1L127 419.2L130.2 415.3L133.4 410.8L136.6 408.8L139.7 410L142.9 409.9L146.1 407.5L149.2 405.1L152.4 402.6L155.6 400L158.8 397.8L161.9 395.6L165.1 391.9L168.3 388.6L171.5 385.9L174.6 383.5L177.8 382.7L181 381.9L184.1 382.5L187.3 383.3L190.5 384.7L193.7 386.3L196.8 388.8L200 392.5L203.2 395.1L206.4 393L209.5 390.8L212.7 396.7L215.9 402.7L219 403.7L222.2 397.6L225.4 384.6L228.6 393L231.7 388.4L234.9 383.2L238.1 377.5L241.2 370.8L244.4 365.4L247.6 361.4L250.8 356.7L253.9 351.6L257.1 346.7L260.3 342L263.5 337.3L266.6 332.5L269.8 328L273 324.3L276.1 320.6L279.3 317L282.5 313.3L285.7 309.8L288.8 306.4" fill="none"/>
<path d="M47.9 416.8L52.8 414L52.8 419.6Z"/>
<path d="M51.1 404.3L56 401.5L56 407.1Z"/>
<path d="M54.2 400.5L59.1 397.7L59.1 403.3Z"/>
<path d="M57.4 401.7L62.3 398.9L62.3 404.5Z"/>
<path d="M60.6 403.7L65.5 400.9L65.5 406.5Z"/>
<path d="M63.8 404.8L68.7 402L68.7 407.6Z"/>
<path d="M66.9 405.8L71.8 403L71.8 408.6Z"/>
<path d="M70.1 406.9L75 404.1L75 409.7Z"/>
<path d="M73.3 408L78.2 405.2L78.2 410.8Z"/>
<path d="M76.5 409L81.4 406.2L81.4 411.8Z"/>
<path d="M79.6 410.1L84.5 407.3L84.5 412.9Z"/>
<path d="M82.8 411.3L87.7 408.5L87.7 414.1Z"/>
<path d="M86 412.9L90.9 410.1L90.9 415.7Z"/>
<path d="M89.1 414.4L94 411.6L94 417.2Z"/>
<path d="M92.3 415.5L97.2 412.7L97.2 418.3Z"/>
<path d="M95.5 416.6L100.4 413.8L100.4 419.4Z"/>
<path d="M98.7 417.6L103.6 414.8L103.6 420.4Z"/>
<path d="M101.8 418.7L106.7 415.9L106.7 421.5Z"/>
<path d="M105 419.6L109.9 416.8L109.9 422.4Z"/>
<path d="M108.2 420.4L113.1 417.6L113.1 423.2Z"/>
<path d="M111.3 421L116.2 418.2L116.2 423.8Z"/>
<path d="M114.5 421L119.4 418.2L119.4 423.8Z"/>
<path d="M117.7 420.9L122.6 418.1L122.6 423.7Z"/>
<path d="M120.9 420.1L125.8 417.3L125.8 422.9Z"/>
<path d="M124 419.2L128.9 416.4L128.9 422Z"/>
<path d="M127.2 415.3L132.1 412.5L132.1 418.1Z"/>
<path d="M130.4 410.8L135.3 408L135.3 413.6Z"/>
<path d="M133.6 408.8L138.5 406L138.5 411.6Z"/>
<path d="M136.7 410L141.6 407.2L141.6 412.8Z"/>
<path d="M139.9 409.9L144.8 407.1L144.8 412.7Z"/>
<path d="M143.1 407.5L148 404.7L148 410.3Z"/>
<path d="M146.2 405.1L151.1 402.3L151.1 407.9Z"/>
<path d="M149.4 402.6L154.3 399.8L154.3 405.4Z"/>
<path d="M152.6 400L157.5 397.2L157.5 402.8Z"/>
<path d="M155.8 397.8L160.7 395L160.7 400.6Z"/>
<path d="M158.9 395.6L163.8 392.8L163.8 398.4Z"/>
<path d="M162.1 391.9L167 389.1L167 394.7Z"/>
<path d="M165.3 388.6L170.2 385.8L170.2 391.4Z"/>
<path d="M168.5 385.9L173.4 383.1L173.4 388.7Z"/>
<path d="M171.6 383.5L176.5 380.7L176.5 386.3Z"/>
<path d="M174.8 382.7L179.7 379.9L179.7 385.5Z"/>
<path d="M178 381.9L182.9 379.1L182.9 384.7Z"/>
<path d="M181.1 382.5L186 379.7L186 385.3Z"/>
<path d="M184.3 383.3L189.2 380.5L189.2 386.1Z"/>
<path d="M187.5 384.7L192.4 381.9L192.4 387.5Z"/>
<path d="M190.7 386.3L195.6 383.5L195.6 389.1Z"/>
<path d="M193.8 388.8L198.7 386L198.7 391.6Z"/>
<path d="M197 392.5L201.9 389.7L201.9 395.3Z"/>
<path d="M200.2 395.1L205.1 392.3L205.1 397.9Z"/>
<path d="M203.4 393L208.3 390.2L208.3 395.8Z"/>
<path d="M206.5 390.8L211.4 388L211.4 393.6Z"/>
<path d="M209.7 396.7L214.6 393.9L214.6 399.5Z"/>
<path d="M212.9 402.7L217.8 399.9L217.8 405.5Z"/>
<path d="M216 403.7L220.9 400.9L220.9 406.5Z"/>
<path d="M219.2 397.6L224.1 394.8L224.1 400.4Z"/>
<path d="M222.4 384.6L227.3 381.8L227.3 387.4Z"/>
<path d="M225.6 393L230.5 390.2L230.5 395.8Z"/>
<path d="M228.7 388.4L233.6 385.6L233.6 391.2Z"/>
<path d="M231.9 383.2L236.8 380.4L236.8 386Z"/>
<path d="M235.1 377.5L240 374.7L240 380.3Z"/>
<path d="M238.2 370.8L243.1 368L243.1 373.6Z"/>
<path d="M241.4 365.4L246.3 362.6L246.3 368.2Z"/>
<path d="M244.6 361.4L249.5 358.6L249.5 364.2Z"/>
<path d="M247.8 356.7L252.7 353.9L252.7 359.5Z"/>
<path d="M250.9 351.6L255.8 348.8L255.8 354.4Z"/>
<path d="M254.1 346.7L259 343.9L259 349.5Z"/>
<path d="M257.3 342L262.2 339.2L262.2 344.8Z"/>
<path d="M260.5 337.3L265.4 334.5L265.4 340.1Z"/>
<path d="M263.6 332.5L268.5 329.7L268.5 335.3Z"/>
<path d="M266.8 328L271.7 325.2L271.7 330.8Z"/>
<path d="M270 324.3L274.9 321.5L274.9 327.1Z"/>
<path d="M273.1 320.6L278 317.8L278 323.4Z"/>
<path d="M276.3 317L281.2 314.2L281.2 319.8Z"/>
<path d="M279.5 313.3L284.4 310.5L284.4 316.1Z"/>
<path d="M282.7 309.8L287.6 307L287.6 312.6Z"/>
<path d="M285.8 306.4L290.7 303.6L290.7 309.2Z"/>
</g>
<g stroke="#00cbcc" stroke-width="1.1" fill="#fff">
<path d="M50.9 401L54.1 399.1L57.2 400.6L60.4 401.9L63.6 402.9L66.8 404.1L69.9 405.7L73.1 407.3L76.3 409.7L79.5 412.9L82.6 416.8L85.8 419.2L89 420.9L92.1 421.9L95.3 423L98.5 424L101.7 424.6L104.8 416L108 425.4L111.2 427.4L114.3 427.4L117.5 426.5L120.7 424.9L123.9 423.3L127 421.7L130.2 419.2L133.4 416.6L136.6 414.6L139.7 413.6L142.9 416.8L146.1 408.2L149.2 400.9L152.4 395.7L155.6 393.3L158.8 388.1L161.9 384.4L165.1 381.8L168.3 379.7L171.5 378.6L174.6 377.7L177.8 377.3L181 377L184.1 377.3L187.3 377.6L190.5 377.7L193.7 377.7L196.8 377.4L200 376.6L203.2 372.1L206.4 368.3L209.5 364.2L212.7 359.5L215.9 353.5L219 347.1L222.2 340.8L225.4 334.4L228.6 328.7L231.7 323.1L234.9 317.6L238.1 311.8L241.2 305.9L244.4 300L247.6 294.7L250.8 289.7L253.9 284.8L257.1 280L260.3 275.4L263.5 270.8L266.6 266.4L269.8 262.2L273 258.3" fill="none"/>
<path d="M53.9 401L49 398.2L49 403.8Z"/>
<path d="M57.1 399.1L52.2 396.3L52.2 401.9Z"/>
<path d="M60.2 400.6L55.3 397.8L55.3 403.4Z"/>
<path d="M63.4 401.9L58.5 399.1L58.5 404.7Z"/>
<path d="M66.6 402.9L61.7 400.1L61.7 405.7Z"/>
<path d="M69.8 404.1L64.9 401.3L64.9 406.9Z"/>
<path d="M72.9 405.7L68 402.9L68 408.5Z"/>
<path d="M76.1 407.3L71.2 404.5L71.2 410.1Z"/>
<path d="M79.3 409.7L74.4 406.9L74.4 412.5Z"/>
<path d="M82.5 412.9L77.6 410.1L77.6 415.7Z"/>
<path d="M85.6 416.8L80.7 414L80.7 419.6Z"/>
<path d="M88.8 419.2L83.9 416.4L83.9 422Z"/>
<path d="M92 420.9L87.1 418.1L87.1 423.7Z"/>
<path d="M95.1 421.9L90.2 419.1L90.2 424.7Z"/>
<path d="M98.3 423L93.4 420.2L93.4 425.8Z"/>
<path d="M101.5 424L96.6 421.2L96.6 426.8Z"/>
<path d="M104.7 424.6L99.8 421.8L99.8 427.4Z"/>
<path d="M107.8 416L102.9 413.2L102.9 418.8Z"/>
<path d="M111 425.4L106.1 422.6L106.1 428.2Z"/>
<path d="M114.2 427.4L109.3 424.6L109.3 430.2Z"/>
<path d="M117.3 427.4L112.4 424.6L112.4 430.2Z"/>
<path d="M120.5 426.5L115.6 423.7L115.6 429.3Z"/>
<path d="M123.7 424.9L118.8 422.1L118.8 427.7Z"/>
<path d="M126.9 423.3L122 420.5L122 426.1Z"/>
<path d="M130 421.7L125.1 418.9L125.1 424.5Z"/>
<path d="M133.2 419.2L128.3 416.4L128.3 422Z"/>
<path d="M136.4 416.6L131.5 413.8L131.5 419.4Z"/>
<path d="M139.6 414.6L134.7 411.8L134.7 417.4Z"/>
<path d="M142.7 413.6L137.8 410.8L137.8 416.4Z"/>
<path d="M145.9 416.8L141 414L141 419.6Z"/>
<path d="M149.1 408.2L144.2 405.4L144.2 411Z"/>
<path d="M152.2 400.9L147.3 398.1L147.3 403.7Z"/>
<path d="M155.4 395.7L150.5 392.9L150.5 398.5Z"/>
<path d="M158.6 393.3L153.7 390.5L153.7 396.1Z"/>
<path d="M161.8 388.1L156.9 385.3L156.9 390.9Z"/>
<path d="M164.9 384.4L160 381.6L160 387.2Z"/>
<path d="M168.1 381.8L163.2 379L163.2 384.6Z"/>
<path d="M171.3 379.7L166.4 376.9L166.4 382.5Z"/>
<path d="M174.5 378.6L169.6 375.8L169.6 381.4Z"/>
<path d="M177.6 377.7L172.7 374.9L172.7 380.5Z"/>
<path d="M180.8 377.3L175.9 374.5L175.9 380.1Z"/>
<path d="M184 377L179.1 374.2L179.1 379.8Z"/>
<path d="M187.1 377.3L182.2 374.5L182.2 380.1Z"/>
<path d="M190.3 377.6L185.4 374.8L185.4 380.4Z"/>
<path d="M193.5 377.7L188.6 374.9L188.6 380.5Z"/>
<path d="M196.7 377.7L191.8 374.9L191.8 380.5Z"/>
<path d="M199.8 377.4L194.9 374.6L194.9 380.2Z"/>
<path d="M203 376.6L198.1 373.8L198.1 379.4Z"/>
<path d="M206.2 372.1L201.3 369.3L201.3 374.9Z"/>
<path d="M209.4 368.3L204.5 365.5L204.5 371.1Z"/>
<path d="M212.5 364.2L207.6 361.4L207.6 367Z"/>
<path d="M215.7 359.5L210.8 356.7L210.8 362.3Z"/>
<path d="M218.9 353.5L214 350.7L214 356.3Z"/>
<path d="M222 347.1L217.1 344.3L217.1 349.9Z"/>
<path d="M225.2 340.8L220.3 338L220.3 343.6Z"/>
<path d="M228.4 334.4L223.5 331.6L223.5 337.2Z"/>
<path d="M231.6 328.7L226.7 325.9L226.7 331.5Z"/>
<path d="M234.7 323.1L229.8 320.3L229.8 325.9Z"/>
<path d="M237.9 317.6L233 314.8L233 320.4Z"/>
<path d="M241.1 311.8L236.2 309L236.2 314.6Z"/>
<path d="M244.2 305.9L239.3 303.1L239.3 308.7Z"/>
<path d="M247.4 300L242.5 297.2L242.5 302.8Z"/>
<path d="M250.6 294.7L245.7 291.9L245.7 297.5Z"/>
<path d="M253.8 289.7L248.9 286.9L248.9 292.5Z"/>
<path d="M256.9 284.8L252 282L252 287.6Z"/>
<path d="M260.1 280L255.2 277.2L255.2 282.8Z"/>
<path d="M263.3 275.4L258.4 272.6L258.4 278.2Z"/>
<path d="M266.5 270.8L261.6 268L261.6 273.6Z"/>
<path d="M269.6 266.4L264.7 263.6L264.7 269.2Z"/>
<path d="M272.8 262.2L267.9 259.4L267.9 265Z"/>
<path d="M276 258.3L271.1 255.5L271.1 261.1Z"/>
</g>
<g stroke="#7d4e4e" stroke-width="1.1" fill="#fff">
<path d="M50.9 410.8L54.1 407L57.2 408.1L60.4 412L63.6 415.5L66.8 418.6L69.9 421.3L73.1 424.1L76.3 427L79.5 430.2L82.6 433.1L85.8 435.7L89 437.6L92.1 439L95.3 440.3L98.5 439.7L101.7 438.4L104.8 436.5L108 436.4L111.2 437.5L114.3 435.9L117.5 434L120.7 431.9L123.9 429.5L127 426.7L130.2 423.3L133.4 418.6L136.6 414.3L139.7 410.3L142.9 406.3L146.1 402.9L149.2 399.8L152.4 396.6L155.6 392.9L158.8 389L161.9 385.9L165.1 382.7L168.3 379.5L171.5 376.3L174.6 370.9L177.8 367L181 363.8L184.1 358.8L187.3 353.5L190.5 346.8L193.7 339.4L196.8 332L200 324.6L203.2 317.2L206.4 309.8L209.5 302.4L212.7 295.5L215.9 288.7L219 282.2L222.2 275.7L225.4 269.3L228.6 263L231.7 258.3" fill="none"/>
<circle cx="50.9" cy="410.8" r="2.5"/>
<circle cx="54.1" cy="407" r="2.5"/>
<circle cx="57.2" cy="408.1" r="2.5"/>
<circle cx="60.4" cy="412" r="2.5"/>
<circle cx="63.6" cy="415.5" r="2.5"/>
<circle cx="66.8" cy="418.6" r="2.5"/>
<circle cx="69.9" cy="421.3" r="2.5"/>
<circle cx="73.1" cy="424.1" r="2.5"/>
<circle cx="76.3" cy="427" r="2.5"/>
<circle cx="79.5" cy="430.2" r="2.5"/>
<circle cx="82.6" cy="433.1" r="2.5"/>
<circle cx="85.8" cy="435.7" r="2.5"/>
<circle cx="89" cy="437.6" r="2.5"/>
<circle cx="92.1" cy="439" r="2.5"/>
<circle cx="95.3" cy="440.3" r="2.5"/>
<circle cx="98.5" cy="439.7" r="2.5"/>
<circle cx="101.7" cy="438.4" r="2.5"/>
<circle cx="104.8" cy="436.5" r="2.5"/>
<circle cx="108" cy="436.4" r="2.5"/>
<circle cx="111.2" cy="437.5" r="2.5"/>
<circle cx="114.3" cy="435.9" r="2.5"/>
<circle cx="117.5" cy="434" r="2.5"/>
<circle cx="120.7" cy="431.9" r="2.5"/>
<circle cx="123.9" cy="429.5" r="2.5"/>
<circle cx="127" cy="426.7" r="2.5"/>
<circle cx="130.2" cy="423.3" r="2.5"/>
<circle cx="133.4" cy="418.6" r="2.5"/>
<circle cx="136.6" cy="414.3" r="2.5"/>
<circle cx="139.7" cy="410.3" r="2.5"/>
<circle cx="142.9" cy="406.3" r="2.5"/>
<circle cx="146.1" cy="402.9" r="2.5"/>
<circle cx="149.2" cy="399.8" r="2.5"/>
<circle cx="152.4" cy="396.6" r="2.5"/>
<circle cx="155.6" cy="392.9" r="2.5"/>
<circle cx="158.8" cy="389" r="2.5"/>
<circle cx="161.9" cy="385.9" r="2.5"/>
<circle cx="165.1" cy="382.7" r="2.5"/>
<circle cx="168.3" cy="379.5" r="2.5"/>
<circle cx="171.5" cy="376.3" r="2.5"/>
<circle cx="174.6" cy="370.9" r="2.5"/>
<circle cx="177.8" cy="367" r="2.5"/>
<circle cx="181" cy="363.8" r="2.5"/>
<circle cx="184.1" cy="358.8" r="2.5"/>
<circle cx="187.3" cy="353.5" r="2.5"/>
<circle cx="190.5" cy="346.8" r="2.5"/>
<circle cx="193.7" cy="339.4" r="2.5"/>
<circle cx="196.8" cy="332" r="2.5"/>
<circle cx="200" cy="324.6" r="2.5"/>
<circle cx="203.2" cy="317.2" r="2.5"/>
<circle cx="206.4" cy="309.8" r="2.5"/>
<circle cx="209.5" cy="302.4" r="2.5"/>
<circle cx="212.7" cy="295.5" r="2.5"/>
<circle cx="215.9" cy="288.7" r="2.5"/>
<circle cx="219" cy="282.2" r="2.5"/>
<circle cx="222.2" cy="275.7" r="2.5"/>
<circle cx="225.4" cy="269.3" r="2.5"/>
<circle cx="228.6" cy="263" r="2.5"/>
<circle cx="231.7" cy="258.3" r="2.5"/>
</g>
</g>
<g stroke="#111" stroke-width="1" fill="none">
<rect x="45.5" y="35.5" width="249" height="440.5"/>
<path d="M45.5 255.5H294.5"/>
<path d="M50.9 35.5v3.5M50.9 255.5v-3.5M50.9 476v-3.5M61.5 35.5v2M61.5 255.5v-2M61.5 476v-2M72 35.5v3.5M72 255.5v-3.5M72 476v-3.5M82.6 35.5v2M82.6 255.5v-2M82.6 476v-2M93.2 35.5v3.5M93.2 255.5v-3.5M93.2 476v-3.5M103.8 35.5v2M103.8 255.5v-2M103.8 476v-2M114.4 35.5v3.5M114.4 255.5v-3.5M114.4 476v-3.5M124.9 35.5v2M124.9 255.5v-2M124.9 476v-2M135.5 35.5v3.5M135.5 255.5v-3.5M135.5 476v-3.5M146.1 35.5v2M146.1 255.5v-2M146.1 476v-2M156.7 35.5v3.5M156.7 255.5v-3.5M156.7 476v-3.5M167.2 35.5v2M167.2 255.5v-2M167.2 476v-2M177.8 35.5v3.5M177.8 255.5v-3.5M177.8 476v-3.5M188.4 35.5v2M188.4 255.5v-2M188.4 476v-2M199 35.5v3.5M199 255.5v-3.5M199 476v-3.5M209.5 35.5v2M209.5 255.5v-2M209.5 476v-2M220.1 35.5v3.5M220.1 255.5v-3.5M220.1 476v-3.5M230.7 35.5v2M230.7 255.5v-2M230.7 476v-2M241.2 35.5v3.5M241.2 255.5v-3.5M241.2 476v-3.5M251.8 35.5v2M251.8 255.5v-2M251.8 476v-2M262.4 35.5v3.5M262.4 255.5v-3.5M262.4 476v-3.5M273 35.5v2M273 255.5v-2M273 476v-2M283.6 35.5v3.5M283.6 255.5v-3.5M283.6 476v-3.5M45.5 255.5h3.5M294.5 255.5h-3.5M45.5 244h2M294.5 244h-2M45.5 232.9h2M294.5 232.9h-2M45.5 222h2M294.5 222h-2M45.5 211.4h2M294.5 211.4h-2M45.5 201h3.5M294.5 201h-3.5M45.5 190.9h2M294.5 190.9h-2M45.5 181.1h2M294.5 181.1h-2M45.5 171.5h2M294.5 171.5h-2M45.5 162.1h2M294.5 162.1h-2M45.5 152.9h3.5M294.5 152.9h-3.5M45.5 144h2M294.5 144h-2M45.5 135.2h2M294.5 135.2h-2M45.5 126.6h2M294.5 126.6h-2M45.5 118.2h2M294.5 118.2h-2M45.5 109.9h3.5M294.5 109.9h-3.5M45.5 101.8h2M294.5 101.8h-2M45.5 93.9h2M294.5 93.9h-2M45.5 86.1h2M294.5 86.1h-2M45.5 78.5h2M294.5 78.5h-2M45.5 71h3.5M294.5 71h-3.5M45.5 63.7h2M294.5 63.7h-2M45.5 56.4h2M294.5 56.4h-2M45.5 49.3h2M294.5 49.3h-2M45.5 42.4h2M294.5 42.4h-2M45.5 35.5h3.5M294.5 35.5h-3.5M45.5 453.2h2M294.5 453.2h-2M45.5 440.1h2M294.5 440.1h-2M45.5 430.8h2M294.5 430.8h-2M45.5 423.6h2M294.5 423.6h-2M45.5 417.6h2M294.5 417.6h-2M45.5 412.7h2M294.5 412.7h-2M45.5 408.3h2M294.5 408.3h-2M45.5 404.5h2M294.5 404.5h-2M45.5 401.1h3.5M294.5 401.1h-3.5M45.5 378.6h2M294.5 378.6h-2M45.5 365.5h2M294.5 365.5h-2M45.5 356.2h2M294.5 356.2h-2M45.5 349h2M294.5 349h-2M45.5 343h2M294.5 343h-2M45.5 338.1h2M294.5 338.1h-2M45.5 333.7h2M294.5 333.7h-2M45.5 329.9h2M294.5 329.9h-2M45.5 326.5h3.5M294.5 326.5h-3.5M45.5 304h2M294.5 304h-2M45.5 290.9h2M294.5 290.9h-2M45.5 281.6h2M294.5 281.6h-2M45.5 274.4h2M294.5 274.4h-2M45.5 268.4h2M294.5 268.4h-2M45.5 263.5h2M294.5 263.5h-2M45.5 259.1h2M294.5 259.1h-2" stroke-width="0.8"/>
</g>
<rect x="294.5" y="35" width="17.5" height="55.3" fill="#515151"/>
<rect x="294.5" y="90.1" width="17.5" height="55.3" fill="#f14040"/>
<rect x="294.5" y="145.1" width="17.5" height="55.3" fill="#1a6fdf"/>
<rect x="294.5" y="200.2" width="17.5" height="55.3" fill="#37ad6b"/>
<rect x="294.5" y="255.2" width="17.5" height="55.3" fill="#b177de"/>
<rect x="294.5" y="310.3" width="17.5" height="55.3" fill="#cc9900"/>
<rect x="294.5" y="365.4" width="17.5" height="55.3" fill="#00cbcc"/>
<rect x="294.5" y="420.4" width="17.5" height="55.3" fill="#7d4e4e"/>
<g stroke="#111" stroke-width="0.8">
<path d="M312 62.5h4"/>
<path d="M312 117.6h4"/>
<path d="M312 172.7h4"/>
<path d="M312 227.7h4"/>
<path d="M312 282.8h4"/>
<path d="M312 337.8h4"/>
<path d="M312 392.9h4"/>
<path d="M312 448h4"/>
</g>
<g font-family="Liberation Sans, sans-serif" font-size="11.3" fill="#000">
<text x="322" y="66.5">1x10<tspan font-size="7.5" dy="-4">6</tspan></text>
<text x="322" y="121.6">1x10<tspan font-size="7.5" dy="-4">5</tspan></text>
<text x="322" y="176.7">1x10<tspan font-size="7.5" dy="-4">4</tspan></text>
<text x="322" y="231.7">1x10<tspan font-size="7.5" dy="-4">3</tspan></text>
<text x="322" y="286.8">1x10<tspan font-size="7.5" dy="-4">2</tspan></text>
<text x="322" y="341.8">1x10<tspan font-size="7.5" dy="-4">1</tspan></text>
<text x="322" y="396.9">1x10<tspan font-size="7.5" dy="-4">0</tspan></text>
<text x="322" y="452">1x10<tspan font-size="7.5" dy="-4">-1</tspan></text>
</g>
<text font-family="Liberation Sans, sans-serif" font-size="13.4" fill="#000" x="318.5" y="48">In Hz</text>
<g font-family="Liberation Sans, sans-serif" font-size="10" fill="#000" text-anchor="middle">
<text x="49.6" y="27.5">-120</text>
<text x="70.8" y="27.5">-100</text>
<text x="91.9" y="27.5">-80</text>
<text x="113.1" y="27.5">-60</text>
<text x="134.2" y="27.5">-40</text>
<text x="155.3" y="27.5">-20</text>
<text x="177.8" y="27.5">0</text>
<text x="199" y="27.5">20</text>
<text x="220.1" y="27.5">40</text>
<text x="241.2" y="27.5">60</text>
<text x="262.4" y="27.5">80</text>
<text x="283.6" y="27.5">100</text>
</g>
<g font-family="Liberation Sans, sans-serif" font-size="10" fill="#000" text-anchor="middle">
<text x="49.6" y="490">-120</text>
<text x="70.8" y="490">-100</text>
<text x="91.9" y="490">-80</text>
<text x="113.1" y="490">-60</text>
<text x="134.2" y="490">-40</text>
<text x="155.3" y="490">-20</text>
<text x="177.8" y="490">0</text>
<text x="199" y="490">20</text>
<text x="220.1" y="490">40</text>
<text x="241.2" y="490">60</text>
<text x="262.4" y="490">80</text>
<text x="283.6" y="490">100</text>
</g>
<g font-family="Liberation Sans, sans-serif" font-size="13.8" fill="#000" text-anchor="end">
<text x="41.2" y="39.9">6</text>
<text x="41.2" y="75.4">5.5</text>
<text x="41.2" y="114.3">5</text>
<text x="41.2" y="157.3">4.5</text>
<text x="41.2" y="205.4">4</text>
<text x="41.2" y="259.9">3.5</text>
</g>
<g font-family="Liberation Sans, sans-serif" font-size="12.6" fill="#000">
<text x="41.2" y="331.1" text-anchor="end">10<tspan font-size="9.2" dy="-4.9">0</tspan></text>
<text x="41.2" y="405.7" text-anchor="end">10<tspan font-size="9.2" dy="-4.9">-1</tspan></text>
<text x="41.2" y="480.3" text-anchor="end">10<tspan font-size="9.2" dy="-4.9">-2</tspan></text>
</g>
<text font-family="Liberation Sans, sans-serif" font-size="14.5" fill="#000" transform="translate(14.8 223.3) rotate(-90)">Dielectric permittivity <tspan font-style="italic" font-family="Liberation Serif, serif" font-size="15">ε</tspan><tspan dy="-7" font-size="8">'</tspan></text>
<text font-family="Liberation Sans, sans-serif" font-size="14.2" fill="#000" transform="translate(16.6 416) rotate(-90)">Dielectric loss <tspan font-style="italic" font-family="Liberation Serif, serif" font-size="15">ε</tspan><tspan dy="-8" font-size="8">"</tspan></text>
<text font-family="Liberation Sans, sans-serif" font-size="14.4" fill="#000" text-anchor="middle" x="158.5" y="502.3">Temperature [°C]</text>
<text font-family="Liberation Sans, sans-serif" font-size="15.5" fill="#000" x="1.5" y="14.5">(a)</text>
<g stroke="#222" stroke-width="0.7" fill="none">
<path d="M478.2 138.9L478.2 14.3" stroke-dasharray="2.5 2"/>
<path d="M429.2 207.8L478.2 138.9" stroke-dasharray="2.5 2"/>
<path d="M478.2 138.9L663.2 156.9" stroke-dasharray="2.5 2"/>
<path d="M478.2 14.3L663.2 32.3"/>
<path d="M429.2 83.2L478.2 14.3"/>
<path d="M663.2 156.9L663.2 32.3"/>
</g>
<g transform="scale(.1)" stroke="#000" stroke-width="2.4" stroke-linejoin="round">
<path fill="#a00" d="M6607 338l14 2 11-17-14-1zm-15-1l15 1 11-16-14-1zm-14-2l14 2 12-16-15-2zm-14-1l14 1 11-16-14-1zm-15-1l15 1 11-16-14-1zm-14-2l14 2 12-16-15-2zm-14-1l14 1 11-16-14-1zm-15-2l15 2 11-16-14-2zm-14-1l14 1 12-16-15-1z"/>
<path fill="#800" d="M6478 350l14-23 11-16-14-1z"/>
<path fill="#a11" d="M6463 405l15-55 11-40-14 35z"/>
<path fill="#a22" d="M6449 465l14-60 12-60-15 51z"/>
<path fill="#c44" d="M6435 484l14-19 11-69-14 34zm-15 1l15-1 11-54-14 26z"/>
<path fill="#933" d="M6406 519l14-34 12-29-15 9z"/>
<path fill="#944" d="M6392 544l14-25 11-54-14 35zm-15 35l15-35 11-44-14 31z"/>
<path fill="#955" d="M6363 602l14-23 12-48-15 32zm-201 103l15-409 11 373-14-56z"/>
<path fill="#c77" d="M6349 606l14-4 11-39-14 3zm-15-15l15 15 11-40-14-11zm-28-2l14 5 11-47-14 6zm-15 2l15-2 11-36-14-4zm-14-14l14 14 12-42-15-9zm-14-5l14 5 11-37-14-9z"/>
<path fill="#e88" d="M6320 594l14-3 12-36-15-8zm-72-23l15 1 11-41-14-6z"/>
<path fill="#b66" d="M6234 587l14-16 12-46-15 40zm-14-84l14 84 11-22-14 11zm-15 40l15-40 11 73-14-14zm-14 59l14-59 12 19-15 9zm-14-306l14 306 11-31-14 98z"/>
<path fill="#daa" d="M6148 701l14 4 12-92-15 49zm-545-48l14 27 12-29-15-57z"/>
<path fill="#988" d="M6134 774l14-73 11-39-14 111zm-44 83l15-153 11-38-14-62zm-28-240l14 203 12-98-15 40zm-15 159l15-159 11 145-14 16zm-358-95l14 21 12-82-15 67zm-129 84l14-123 12-17-15 67z"/>
<path fill="#999" d="M6119 700l15 74 11-1-14 22zm-86 111l14-35 12 2-14-43z"/>
<path fill="#dbb" d="M6105 704l14-4 12 95-15-129zm-330 12l14 19 12-46-15-22zm-14-29l14 29 11-49-14-14zm-15 14l15-14 11-34-14 6zm-43 1l15-21 11-44-14-17zm-71-9l14-16 11-20-14-37zm-15-13l15 13 11-73-14 31z"/>
<path fill="#dcc" d="M6076 820l14 37 12-253-14 118zm-287-85l15 25 11-39-14-32z"/>
<path fill="#778" d="M6019 851l14-40 12-76-15 100zm-488-45l15-50 11-51-14 12z"/>
<path fill="#ccd" d="M6004 875l15-24 11-16-14-46z"/>
<path fill="#668" d="M5990 943l14-68 12-86-15 104zm-129-70l14 76 12-69-15-37zm-14-49l14 49 11-30-14-37zm-359 28l14-44 12-61-14 52z"/>
<path fill="#889" d="M5976 869l14 74 11-50-14-84z"/>
<path fill="#334" d="M5961 846l15 23 11-60-14 79zm-14 82l14-82 12 42-15 44zm-29 101l15-153 11-45-14 174zm-473-146l14-33 12 88-14-115zm-645-51l14 1 12-12-15-1zm-15 0l15 0 11-12-14 0z"/>
<path fill="#779" d="M5933 876l14 52 11 4-14-101zm-517 40l15-29 11-210-14 170z"/>
<path fill="#99d" d="M5904 970l14 59 12-24-15-225z"/>
<path fill="#446" d="M5890 1097l14-127 11-190-14 247zm-1076-264l14 3 12-13-14-2zm-43 17l14-18 12-12-15 10z"/>
<path fill="#669" d="M5875 949l15 148 11-70-14-147zm-989-60l14 30 12-42-15-17z"/>
<path fill="#556" d="M5832 823l15 1 11-18-14 9z"/>
<path fill="#aab" d="M5818 791l14 32 12-8-15-71zm-301-2l14 17 12-89-15 39zm-15 19l15-19 11-33-14-9z"/>
<path fill="#bbb" d="M5804 760l14 31 11-47-14-23z"/>
<path fill="#b99" d="M5732 657l14 44 12-42-15-18zm-57-34l14 58 11 6-14-14zm-15 7l15-7 11 50-14-67zm-71 64l14-41 11-59-14 67zm-15-52l15 52 11-33-14-36z"/>
<path fill="#977" d="M5718 681l14-24 11-16-14-4zm-72-4l14-47 12-24-15 51z"/>
<path fill="#ddd" d="M5546 756l14 9 11-73-14 13z"/>
<path fill="#bbd" d="M5474 821l14 31 12-53-15-53z"/>
<path fill="#aad" d="M5459 850l15-29 11-75-14 192z"/>
<path fill="#ccf" d="M5431 887l14-4 12-60-15-146z"/>
<path fill="#aaf" d="M5402 910l14 6 12-69-14 159z"/>
<path fill="#224" d="M5388 985l14-75 12 96-15-54zm-72-13l14 40 12-72-15 28zm-14-26l14 26 11-4-14-19zm-43 190l14-146 11-56-14-23zm-86-209l14 79 11-138-14 94z"/>
<path fill="#88d" d="M5373 982l15 3 11-33-14-21zm-14 32l14-32 12-51-15-47zm-14-21l14 21 11-130-14 57zm-158 13l14-28 12-54-15-56zm-287-87l15 7 11-40-14-9z"/>
<path fill="#77d" d="M5330 1012l15-19 11-52-14-1zm-57-22l14-2 12-44-15-10zm-43-4l14 7 12-53-15-22zm-29-8l15 3 11-76-14 19zm-57-20l14 0 12 54-15-92zm-215-13l14 8 12-27-15-30z"/>
<path fill="#336" d="M5287 988l15-42 11 3-14-5zm-215 34l15-27 11-54-14 27z"/>
<path fill="#448" d="M5244 993l15 143 11-225-14 29z"/>
<path fill="#99f" d="M5216 981l14 5 11-68-14-13z"/>
<path fill="#66b" d="M5158 958l15-31 11 35-14 50zm-71 37l14-16 11-41-14 3z"/>
<path fill="#77b" d="M5130 946l14 12 11-38-14-7zm-215-20l14 19 11-49-14-10zm-44-51l15 14 11-29-14-14zm-14 4l14-4 12-29-14 1z"/>
<path fill="#559" d="M5115 965l15-19 11-33-14 2zm-14 14l14-14 12-50-15 23zm-158-26l15 40 11-51-14-16z"/>
<path fill="#66d" d="M5058 1026l14-4 12-54-15 13zm-29 11l15 4 11-52-14 12zm-28-7l14 11 11-39-14-24zm-15-13l15 13 11-52-14-17zm-14-9l14 9 12-56-15-4zm-14-15l14 15 11-51-14-15z"/>
<path fill="#55b" d="M5044 1041l14-15 11-45-14 8zm-29 0l14-4 12-36-15 1z"/>
<path fill="#558" d="M4843 848l14 31 12-32-15-18zm-15-12l15 12 11-19-14-6z"/>
<path fill="#a00" d="M6595 354l15 2 11-16-14-2zm-14-1l14 1 12-16-15-1zm-14-2l14 2 11-16-14-2zm-15-1l15 1 11-16-14-1zm-14-1l14 1 12-16-15-1zm-14-2l14 2 11-16-14-2zm-15 9l15-9 11-16-14-1zm-14 25l14-25 12-26-15-2z"/>
<path fill="#c11" d="M6481 418l14-37 11-53-14-1z"/>
<path fill="#c22" d="M6466 461l15-43 11-91-14 23z"/>
<path fill="#c33" d="M6452 495l14-34 12-111-15 55z"/>
<path fill="#933" d="M6438 547l14-52 11-90-14 60z"/>
<path fill="#e66" d="M6423 565l15-18 11-82-14 19zm-14 0l14 0 12-81-15 1z"/>
<path fill="#c66" d="M6395 583l14-18 11-80-14 34zm-15 22l15-22 11-64-14 25z"/>
<path fill="#955" d="M6366 637l14-32 12-61-15 35zm-144-10l15-21 11-35-14 16zm-28 7l14-50 12-81-15 40zm-43 64l14-30 12-372-15 409z"/>
<path fill="#d88" d="M6352 653l14-16 11-58-14 23zm-15-5l15 5 11-51-14 4zm-28-19l14 9 11-47-14 3zm-15 6l15-6 11-35-14-5zm-14-3l14 3 12-46-15 2zm-101-4l15 6 11-91-14 59z"/>
<path fill="#e99" d="M6323 638l14 10 12-42-15-15zm-57-15l14 9 11-41-14-14z"/>
<path fill="#c77" d="M6251 594l15 29 11-46-14-5zm-43-10l14 43 12-40-14-84z"/>
<path fill="#b66" d="M6237 606l14-12 12-22-15-1z"/>
<path fill="#e77" d="M6165 668l14-40 12-26-14-306z"/>
<path fill="#b99" d="M6136 713l15-15 11 7-14-4z"/>
<path fill="#988" d="M6122 891l14-178 12-12-14 73zm-29-195l15 111 11-107-14 4zm-57 88l14 18 12-185-15 159zm-344-45l14-29 12-29-15 21zm-72-37l15 46 11-71-14 16zm-14 22l14-22 12-9-15-13z"/>
<path fill="#dcc" d="M6108 807l14 84 12-117-15-74zm-58-5l15 88 11-70-14-203zm-301-69l15 14 11-31-14-29zm-172 39l14 23 12-142-14 41z"/>
<path fill="#fdd" d="M6079 724l14-28 12 8-15 153zm-358 1l14-1 11-23-14-44zm-43 18l14-4 11-37-14-21zm-15-7l15 7 11-62-14-58zm-100 6l14 30 12-78-15-52z"/>
<path fill="#778" d="M6065 890l14-166 11 133-14-37zm-43-72l14-34 11-8-14 35zm-15 80l15-80 11-7-14 40z"/>
<path fill="#99b" d="M5993 898l14 0 12-47-15 24z"/>
<path fill="#334" d="M5979 975l14-77 11-23-14 68zm-502-98l14-12 11-57-14 44zm-660-35l14 27 12-21-15-12zm-14-5l14 5 11-6-14-3z"/>
<path fill="#88b" d="M5964 933l15 42 11-32-14-74zm-114-10l14 42 11-16-14-76z"/>
<path fill="#889" d="M5950 880l14 53 12-64-15-23zm-459-15l14-21 12-55-15 19z"/>
<path fill="#bbd" d="M5936 869l14 11 11-34-14 82zm-101 22l15 32 11-50-14-49z"/>
<path fill="#446" d="M5921 967l15-98 11 59-14-52zm-487-41l14-50 11-26-14 33zm-646-89l15 0 11-4-14-1zm-14 2l14-2 12-5-15 0zm-14 42l14-42 11-7-14 18z"/>
<path fill="#336" d="M5907 1276l14-309 12-91-15 153zm-531-270l15-20 11-76-14 75zm-14 22l14-22 12-21-15-3zm-158 9l15-27 11-24-14-5z"/>
<path fill="#224" d="M5893 893l14 383 11-247-14-59zm-15 210l15-210 11 77-14 127zm-14-138l14 138 12-6-15-148zm-516 50l14 13 11-46-14 32zm-29 4l14 4 12-30-15 19zm-86-21l14 39 12 99-15-143zm-14 12l14-12 11-5-14-7zm-43-23l14 61 11-70-14 28z"/>
<path fill="#aab" d="M5821 865l14 26 12-67-15-1zm-14-39l14 39 11-42-14-32z"/>
<path fill="#bbb" d="M5792 794l15 32 11-35-14-31z"/>
<path fill="#ddd" d="M5778 776l14 18 12-34-15-25z"/>
<path fill="#baa" d="M5764 747l14 29 11-41-14-19zm-173 48l15-71 11-44-14-27z"/>
<path fill="#dbb" d="M5735 724l14 9 12-46-15 14zm-29-14l15 15 11-68-14 24zm-71 38l14-20 11-98-14 47z"/>
<path fill="#fcc" d="M5649 728l14 8 12-113-15 7z"/>
<path fill="#777" d="M5548 784l15-42 11-100-14 123z"/>
<path fill="#999" d="M5534 765l14 19 12-19-14-9z"/>
<path fill="#556" d="M5520 807l14-42 12-9-15 50zm-15 37l15-37 11-1-14-17z"/>
<path fill="#779" d="M5462 847l15 30 11-25-14-31z"/>
<path fill="#668" d="M5448 876l14-29 12-26-15 29z"/>
<path fill="#669" d="M5419 948l15-22 11-43-14 4zm-573-34l14-10 11-29-14 4z"/>
<path fill="#77b" d="M5405 959l14-11 12-61-15 29zm-14 27l14-27 11-43-14-6zm-517-62l15 25 11-30-14-30zm-14-20l14 20 12-35-15-14z"/>
<path fill="#559" d="M5333 1023l15-8 11-1-14-21z"/>
<path fill="#66b" d="M5305 1043l14-24 11-7-14-40zm-144-20l15-36 11 19-14-79zm-57-2l14-15 12-60-15 19zm-187-45l15 25 11-48-14-8zm-14-13l14 13 12-31-14-19zm-14-14l14 14 12-37-15-7z"/>
<path fill="#88f" d="M5290 1054l15-11 11-71-14-26z"/>
<path fill="#77d" d="M5276 1064l14-10 12-108-15 42zm-86-16l14-11 12-56-15-3zm-43-43l14 18 12-96-15 31zm-14-7l14 7 11-47-14 0zm-15 8l15-8 11-40-14-12zm-28 16l14-1 11-56-14 14z"/>
<path fill="#77f" d="M5262 1062l14 2 11-76-14 2z"/>
<path fill="#66d" d="M5247 1037l15 25 11-72-14 146z"/>
<path fill="#448" d="M5075 1042l15-20 11-43-14 16z"/>
<path fill="#338" d="M5061 1054l14-12 12-47-15 27z"/>
<path fill="#449" d="M5047 1070l14-16 11-32-14 4zm-72-27l14 26 12-39-15-13z"/>
<path fill="#55b" d="M5032 1072l15-2 11-44-14 15zm-14 8l14-8 12-31-15-4zm-58-36l15-1 11-26-14-9zm-14-21l14 21 12-36-14-15zm-14-22l14 22 12-30-15-40z"/>
<path fill="#55d" d="M5004 1079l14 1 11-43-14 4zm-15-10l15 10 11-38-14-11z"/>
<path fill="#558" d="M4831 869l15 45 11-35-14-31z"/>
<path fill="#a00" d="M6584 370l14 2 12-16-15-2z"/>
<path fill="#800" d="M6570 398l14-28 11-16-14-1z"/>
<path fill="#c11" d="M6555 430l15-32 11-45-14-2zm-14 34l14-34 12-79-15-1z"/>
<path fill="#d22" d="M6527 500l14-36 11-114-14-1z"/>
<path fill="#e33" d="M6512 541l15-41 11-151-14-2zm-14 19l14-19 12-194-15 9z"/>
<path fill="#e44" d="M6484 578l14-18 11-204-14 25z"/>
<path fill="#e55" d="M6469 612l15-34 11-197-14 37z"/>
<path fill="#e66" d="M6455 636l14-24 12-194-15 43z"/>
<path fill="#e77" d="M6441 681l14-45 11-175-14 34z"/>
<path fill="#e88" d="M6426 690l15-9 11-186-14 52zm-14 2l14-2 12-143-15 18zm-14-24l14 24 11-127-14 0zm-15-2l15 2 11-103-14 18z"/>
<path fill="#d88" d="M6369 683l14-17 12-83-15 22zm-29 0l15-1 11-45-14 16zm-29-17l15 12 11-30-14-10zm-14-4l14 4 12-28-14-9zm-14-2l14 2 12-33-15 6zm-15-3l15 3 11-25-14-3zm-14-9l14 9 12-25-14-9zm-14-13l14 13 12-25-15-29zm-58 53l15-18 11-86-14 50z"/>
<path fill="#e99" d="M6355 682l14 1 11-78-14 32zm-158-12l14-18 11-25-14-43z"/>
<path fill="#d99" d="M6326 678l14 5 12-30-15-5z"/>
<path fill="#955" d="M6225 596l15 39 11-41-14 12z"/>
<path fill="#b77" d="M6211 652l14-56 12 10-15 21z"/>
<path fill="#eaa" d="M6168 703l14-15 12-54-15-6z"/>
<path fill="#b88" d="M6154 735l14-32 11-75-14 40zm-15-22l15 22 11-67-14 30z"/>
<path fill="#b99" d="M6125 756l14-43 12-15-15 15z"/>
<path fill="#988" d="M6111 557l14 199 11-43-14 178z"/>
<path fill="#777" d="M6096 839l15-282 11 334-14-84zm-416-59l15-27 11-43-14 29z"/>
<path fill="#baa" d="M6082 747l14 92 12-32-15-111zm-373-3l15 6 11-26-14 1zm-115 15l15-14 11-43-14 22z"/>
<path fill="#dbb" d="M6068 755l14-8 11-51-14 28z"/>
<path fill="#999" d="M6053 858l15-103 11-31-14 166zm-430-111l14 9 12-28-14 20zm-57 50l14-20 11 18-14-23z"/>
<path fill="#ccd" d="M6039 882l14-24 12 32-15-88zm-516-36l14-21 11-41-14-19z"/>
<path fill="#aab" d="M6025 936l14-54 11-80-14-18zm-15-73l15 73 11-152-14 34zm-229-29l14 45 12-53-15-32z"/>
<path fill="#556" d="M5996 916l14-53 12-45-15 80z"/>
<path fill="#446" d="M5982 979l14-63 11-18-14 0zm-15 19l15-19 11-81-14 77zm-57-44l14-54 12-31-15 98zm-72-18l15 74 11-45-14-42zm-1018-54l14 45 12-13-15-45zm-43-41l14-2 12-2-15 0zm-14 8l14-8 11-4-14 2z"/>
<path fill="#334" d="M5953 913l14 85 12-23-15-42zm-531 49l15-25 11-61-14 50zm-616-114l14 34 11-13-14-27zm-15-9l15 9 11-6-14-5zm-43 61l15-51 11-10-14 42z"/>
<path fill="#99b" d="M5939 929l14-16 11 20-14-53zm-15-29l15 29 11-49-14-11zm-114-13l14 16 11-12-14-26zm-345 30l15-9 11-43-14 12z"/>
<path fill="#66b" d="M5896 1109l14-155 11 13-14 309zm-531-56l14-9 12-58-15 20zm-258-9l14-7 12-39-15 8z"/>
<path fill="#448" d="M5881 954l15 155 11 167-14-383zm-28 56l14 138 11-45-14-138zm-976-29l15-12 11-6-14-14z"/>
<path fill="#224" d="M5867 1148l14-194 12-61-15 210zm-459-162l14-24 12-36-15 22zm-29 58l15-34 11-51-14 27zm-129 26l15 7 11-13-14-2zm-186 4l14-19 12-33-15 20zm-172-105l14 33 11-26-14-13zm-58-42l15 0 11-23-14 10z"/>
<path fill="#668" d="M5824 903l14 33 12-13-15-32z"/>
<path fill="#bbd" d="M5795 879l15 8 11-22-14-39z"/>
<path fill="#bbb" d="M5767 801l14 33 11-40-14-18zm-187-24l14-18 12-35-15 71zm-43 48l14-12 12-71-15 42z"/>
<path fill="#dcc" d="M5752 783l15 18 11-25-14-29zm-14-20l14 20 12-36-15-14zm-14-13l14 13 11-30-14-9zm-29 3l14-9 12-19-15-15zm-29 16l14 11 12-41-14 4zm-14-7l14 7 12-26-15-7zm-15-6l15 6 11-26-14-8zm-28-11l14 2 12 1-15-46z"/>
<path fill="#ddd" d="M5551 813l15-16 11-25-14-30z"/>
<path fill="#889" d="M5508 879l15-33 11-81-14 42zm-14 25l14-25 12-72-15 37z"/>
<path fill="#aad" d="M5480 908l14-4 11-60-14 21zm-29 5l14 4 12-40-15-30z"/>
<path fill="#779" d="M5437 937l14-24 11-66-14 29z"/>
<path fill="#336" d="M5394 1010l14-24 11-38-14 11zm-129 67l14 4 11-27-14 10zm-86-14l14 0 11-26-14 11z"/>
<path fill="#559" d="M5351 1062l14-9 11-47-14 22zm-201-17l14 11 12-69-15 36zm-244-43l14 19 12-20-15-25zm-43-51l14 30 12-32-15-25z"/>
<path fill="#66d" d="M5336 1070l15-8 11-34-14-13zm-14 6l14-6 12-55-15 8zm-14 8l14-8 11-53-14-4zm-15 0l15 0 11-65-14 24zm-86-15l15 10 11-81-14 12zm-43-13l15 7 11-15-14-61zm-28-5l14-6 11-22-14-18zm-15-14l15 14 11-46-14-7z"/>
<path fill="#55b" d="M5279 1081l14 3 12-41-15 11zm-43-5l14-6 12-8-15-25zm-43-13l14 6 12-59-15 27zm-115-8l14-4 12-30-14 1zm-115 25l15 14 11-25-14-26z"/>
<path fill="#77f" d="M5222 1079l14-3 11-39-14-39z"/>
<path fill="#449" d="M5092 1051l15-7 11-38-14 15zm-100 48l14 4 12-23-14-1zm-43-36l14 17 12-37-15 1zm-14-16l14 16 11-19-14-21zm-15-26l15 26 11-24-14-22z"/>
<path fill="#338" d="M5049 1086l15-12 11-32-14 12z"/>
<path fill="#114" d="M5035 1106l14-20 12-32-14 16z"/>
<path fill="#44b" d="M5021 1108l14-2 12-36-15 2zm-15-5l15 5 11-36-14 8zm-28-9l14 5 12-20-15-10z"/>
<path fill="#669" d="M4849 927l14 24 11-27-14-20z"/>
<path fill="#e44" d="M6573 612l14-10 11-230-14-2zm-15 25l15-25 11-242-14 28z"/>
<path fill="#e55" d="M6544 669l14-32 12-239-15 32z"/>
<path fill="#e66" d="M6530 694l14-25 11-239-14 34z"/>
<path fill="#e77" d="M6515 722l15-28 11-230-14 36z"/>
<path fill="#e88" d="M6501 747l14-25 12-222-15 41z"/>
<path fill="#e99" d="M6487 763l14-16 11-206-14 19zm-15 7l15-7 11-203-14 18zm-258-86l14-8 12-41-15-39z"/>
<path fill="#eaa" d="M6458 790l14-20 12-192-15 34zm-14 7l14-7 11-178-14 24zm-87-65l15 7 11-73-14 17z"/>
<path fill="#fbb" d="M6429 800l15-3 11-161-14 45zm-14 21l14-21 12-119-15 9zm-15-27l15 27 11-131-14 2zm-14-32l14 32 12-102-14-24z"/>
<path fill="#faa" d="M6372 739l14 23 12-94-15-2z"/>
<path fill="#d99" d="M6343 720l14 12 12-49-14-1zm-14-5l14 5 12-38-15 1zm-15-14l15 14 11-32-14-5zm-14-16l14 16 12-23-15-12zm-115 11l15 6 11-50-14 18z"/>
<path fill="#d88" d="M6286 687l14-2 11-19-14-4zm-15 3l15-3 11-25-14-2zm-14-2l14 2 12-30-15-3zm-14-8l14 8 11-31-14-9zm-15-4l15 4 11-32-14-13zm-28 26l14-18 11-88-14 56z"/>
<path fill="#b77" d="M6171 468l14 228 12-26-15 18z"/>
<path fill="#966" d="M6157 764l14-296 11 220-14 15z"/>
<path fill="#daa" d="M6142 781l15-17 11-61-14 32z"/>
<path fill="#977" d="M6128 696l14 85 12-46-15-22z"/>
<path fill="#b99" d="M6114 824l14-128 11 17-14 43z"/>
<path fill="#fcc" d="M6099 851l15-27 11-68-14-199z"/>
<path fill="#988" d="M6085 898l14-47 12-294-15 282zm-402-131l15-1 11-22-14 9z"/>
<path fill="#bbb" d="M6071 793l14 105 11-59-14-92zm-316 30l14 20 12-9-14-33z"/>
<path fill="#777" d="M6056 855l15-62 11-46-14 8zm-387-76l14-12 12-14-15 27zm-14 0l14 0 11 1-14-11zm-72 15l14-19 12-30-15 14z"/>
<path fill="#999" d="M6042 808l14 47 12-100-15 103zm-301-14l14 29 12-22-15-18zm-101-15l15 0 11-10-14-7zm-71 20l14-5 11-35-14 18zm-15 20l15-20 11-22-14 20z"/>
<path fill="#fff" d="M6028 811l14-3 11 50-14 24z"/>
<path fill="#556" d="M6013 929l15-118 11 71-14 54zm-14-108l14 108 12 7-15-73zm-14 162l14-162 11 42-14 53zm-201-113l14 1 12 16-15-8z"/>
<path fill="#446" d="M5970 978l15 5 11-67-14 63zm-14 56l14-56 12 1-15 19zm-473-109l14-20 11-26-14 25zm-15 14l15-14 11-21-14 4zm-43 21l15-23 11-24-14 24zm-14 24l14-24 12-23-15 25zm-645-139l14-2 11-4-14 2zm-15 12l15-12 11-4-14 8z"/>
<path fill="#88b" d="M5942 978l14 56 11-36-14-85zm-29 38l14-36 12-51-15-29zm-473-79l14 11 11-31-14-4z"/>
<path fill="#aad" d="M5927 980l15-2 11-65-14 16z"/>
<path fill="#334" d="M5899 1145l14-129 11-116-14 54zm-72-249l14 139 12-25-15-74zm-29-25l14 78 12-46-14-16zm-1004-22l15 37 11-4-14-34zm-14-6l14 6 12-1-15-9zm-43 81l14-67 12-8-15 51z"/>
<path fill="#559" d="M5884 1131l15 14 11-191-14 155zm-43-96l15 24 11 89-14-138z"/>
<path fill="#77d" d="M5870 1174l14-43 12-22-15-155z"/>
<path fill="#336" d="M5856 1059l14 115 11-220-14 194zm-459-41l14-34 11-22-14 24zm-29 56l14-38 12-26-15 34zm-545-139l14-5 12-3-15 0z"/>
<path fill="#668" d="M5812 949l15-53 11 40-14-33zm-315-44l14-33 12-26-15 33z"/>
<path fill="#778" d="M5769 843l15 27 11 9-14-45zm-229-7l14-17 12-22-15 16zm-14 41l14-41 11-23-14 12z"/>
<path fill="#baa" d="M5726 779l15 15 11-11-14-20zm-14-10l14 10 12-16-14-13zm-86 10l14 0 12-17-15-6z"/>
<path fill="#dcc" d="M5698 766l14 3 12-19-15-6zm-86 7l14 6 11-23-14-9zm-15 2l15-2 11-26-14-2z"/>
<path fill="#aab" d="M5511 872l15 5 11-52-14 21z"/>
<path fill="#779" d="M5454 948l14-9 12-31-15 9z"/>
<path fill="#224" d="M5382 1036l15-18 11-32-14 24zm-57 72l14-19 12-27-15 8zm-273-32l15 14 11-35-14 19zm-129-31l15 26 11-8-14-16zm-14-32l14 32 12 2-15-26zm-14-14l14 14 11 8-14-19zm-29-24l14 24 12-30-15 12zm-14-24l14 24 11 6-14-30zm-15-21l15 21 11 0-14-24zm-28-44l14 49 11-8-14-45z"/>
<path fill="#448" d="M5354 1088l14-14 11-30-14 9z"/>
<path fill="#55b" d="M5339 1089l15-1 11-35-14 9zm-28 19l14 0 11-38-14 6zm-29 6l14 5 12-35-15 0zm-14-3l14 3 11-30-14-3zm-15-1l15 1 11-30-14-4zm-28-2l14 2 11-40-14 6zm-29-13l14 2 12-18-15-10zm-15-9l15 9 11-26-14-6zm-43-10l15-3 11-17-14-11zm-28-5l14-5 12-15-15-14zm-15 1l15-1 11-34-14 7z"/>
<path fill="#449" d="M5296 1119l15-11 11-32-14 8zm-86-22l15 11 11-32-14 3zm-43-15l14 4 12-23-14 0zm-14-9l14 9 12-19-15-7zm-29-7l14 10 12-31-14 6zm-43 12l14-6 12-28-15 7z"/>
<path fill="#66d" d="M5239 1110l14 0 12-33-15-7z"/>
<path fill="#338" d="M5067 1090l14-12 11-27-14 4zm-58 29l15 10 11-23-14 2z"/>
<path fill="#226" d="M5038 1099l14-23 12-2-15 12zm-14 30l14-30 11-13-14 20zm-43-33l14 10 11-3-14-4zm-15-2l15 2 11 3-14-5zm-28-23l14 14 11-5-14-17z"/>
<path fill="#114" d="M4995 1106l14 13 12-11-15-5zm-43-21l14 9 12 0-15-14z"/>
<path fill="#66b" d="M4880 999l15 0 11 3-14-33z"/>
<path fill="#e99" d="M6561 778l15-10 11-166-14 10zm-14 16l14-16 12-166-15 25z"/>
<path fill="#eaa" d="M6532 820l15-26 11-157-14 32zm-372 2l14-35 11-91-14-228z"/>
<path fill="#fbb" d="M6518 837l14-17 12-151-14 25zm-14 14l14-14 12-143-15 28z"/>
<path fill="#fcc" d="M6489 869l15-18 11-129-14 25zm-14-4l14 4 12-122-14 16z"/>
<path fill="#fdd" d="M6461 876l14-11 12-102-15 7zm-15 10l15-10 11-106-14 20zm-14-9l14 9 12-96-14 7zm-14-3l14 3 12-80-15 3z"/>
<path fill="#dcc" d="M6403 869l15 5 11-74-14 21zm-301 39l15-30 11-182-14 128z"/>
<path fill="#dbb" d="M6389 836l14 33 12-48-15-27zm-14-27l14 27 11-42-14-32zm-258 69l14-51 11-46-14-85z"/>
<path fill="#daa" d="M6360 779l15 30 11-47-14-23zm-14-20l14 20 12-40-15-7z"/>
<path fill="#977" d="M6332 726l14 33 11-27-14-12zm-15 8l15-8 11-6-14-5zm-143 53l14-59 12-26-15-6z"/>
<path fill="#b88" d="M6303 712l14 22 12-19-15-14zm-100 23l14-22 11-37-14 8zm-58 142l15-55 11-354-14 296z"/>
<path fill="#b77" d="M6289 694l14 18 11-11-14-16z"/>
<path fill="#966" d="M6274 704l15-10 11-9-14 2zm-14 7l14-7 12-17-15 3z"/>
<path fill="#d99" d="M6246 714l14-3 11-21-14-2zm-15 6l15-6 11-26-14-8zm-14-7l14 7 12-40-15-4zm-29 15l15 7 11-51-14 18z"/>
<path fill="#baa" d="M6131 827l14 50 12-113-15 17zm-416-35l14 10 12-8-15-15zm-14-4l14 4 11-13-14-10zm-15-9l15 9 11-19-14-3z"/>
<path fill="#999" d="M6088 960l14-52 12-84-15 27zm-43 88l14-244 12-11-15 62zm-316-246l15 26 11-5-14-29zm-86-18l15-4 11-1-14 0zm-14-3l14 3 12-5-15 0zm-14 4l14-4 11-2-14 0zm-29 21l14-11 12-22-15 2z"/>
<path fill="#889" d="M6074 921l14 39 11-109-14 47zm-287-22l14 32 11 18-14-78z"/>
<path fill="#778" d="M6059 804l15 117 11-23-14-105zm-315 24l14 18 11-3-14-20zm-172-6l14-16 11-31-14 19z"/>
<path fill="#bbd" d="M6031 975l14 73 11-193-14-47z"/>
<path fill="#eef" d="M6016 975l15 0 11-167-14 3z"/>
<path fill="#aab" d="M6002 959l14 16 12-164-15 118zm-29-31l15 20 11-127-14 162zm-201-25l15-4 11-28-14-1z"/>
<path fill="#ddf" d="M5988 948l14 11 11-30-14-108z"/>
<path fill="#446" d="M5959 1019l14-91 12 55-15-5zm-14 86l14-86 11-41-14 56zm-29-82l14-54 12 9-15 2zm-15 19l15-19 11-43-14 36zm-430-98l15-21 11-18-14 20zm-14 11l14-11 12-19-15 14zm-14 25l14-25 11-16-14 9zm-29-21l14 1 12-23-15 23zm-588-30l14 7 12 15-15-21zm-14 2l14-2 11 1-14 5zm-72-59l14-20 12-7-15 12z"/>
<path fill="#334" d="M5930 969l15 136 11-71-14-56zm-115-104l15 162 11 8-14-139zm-1018 15l15 51 11 4-14-49zm-14-27l14 27 12 6-15-37zm-14-1l14 1 11-4-14-6zm-15 0l15 0 11-9-14 2zm-28 80l14-60 11-15-14 67z"/>
<path fill="#99f" d="M5887 1028l14 14 12-26-14 129z"/>
<path fill="#224" d="M5873 1120l14-92 12 117-15-14zm-15-80l15 80 11 11-14 43zm-14-22l14 22 12 134-14-115zm-14 9l14-9 12 41-15-24zm-430-34l14-34 11 1-14 24zm-15 24l15-24 11-9-14 34zm-14 28l14-28 12 1-15 18zm-14 48l14-48 11-9-14 38zm-43 34l14-10 11-28-14 19zm-29 9l14-8 12-20-15 11zm-129-53l14 17 11-14-14-4zm-15-13l15 13 11-1-14-9zm-14-1l14 1 12 3-15 3zm-29 30l15-16 11-17-14 5zm-43-3l15 2 11-20-14 12zm-71 0l14-3 11 26-14-13zm-29-29l14 18 12 11-15-2zm-57-62l14 26 11 14-14-32z"/>
<path fill="#668" d="M5801 931l14-66 12 31-15 53zm-315-8l14-27 11-24-14 33z"/>
<path fill="#556" d="M5758 846l14 57 12-33-15-27zm-215-1l14-16 12-30-15 20zm-14 10l14-10 11-26-14 17zm-15 25l15-25 11-19-14 41zm-14 16l14-16 12-3-15-5z"/>
<path fill="#777" d="M5672 764l14 15 12-13-15 1zm-14 16l14-16 11 3-14 12zm-58 15l15-10 11-6-14-6z"/>
<path fill="#bbb" d="M5557 829l15-7 11-28-14 5z"/>
<path fill="#779" d="M5428 960l15 20 11-32-14-11z"/>
<path fill="#336" d="M5342 1107l15-14 11-19-14 14zm-14 10l14-10 12-19-15 1zm-215-34l14-14 11 7-14-10zm-187-34l15 24 11 12-14-14zm-14-18l14 18 12 22-15-26zm-29-53l15 27 11 8-14-14zm-28-19l14 12 11 28-14-24zm-15-23l15 23 11 16-14-24z"/>
<path fill="#338" d="M5299 1128l15-1 11-19-14 0zm-57-2l14 4 12-19-15-1zm-15 4l15-4 11-16-14 0zm-14-10l14 10 12-20-14-2zm-43-20l14 15 12-20-15-9zm-100-2l14-3 11-23-14 6zm-72-5l14 8 12 28-15-10z"/>
<path fill="#449" d="M5270 1134l15 2 11-17-14-5zm-14-4l14 4 12-20-14-3zm-57-2l14-8 12-12-15-11zm-15-13l15 13 11-31-14-2zm-143-14l14-5 12-6-15-14z"/>
<path fill="#55b" d="M5084 1095l14 4 12-28-15 1zm-72 6l15-2 11 0-14 30z"/>
<path fill="#226" d="M5027 1099l14 2 11-25-14 23zm-58-14l15 11 11 10-14-10zm-28-12l14-6 11 27-14-9z"/>
<path fill="#559" d="M4869 971l14 7 12 21-15 0z"/>
<path fill="#fcc" d="M6550 845l14-3 12-74-15 10z"/>
<path fill="#daa" d="M6535 856l15-11 11-67-14 16z"/>
<path fill="#dbb" d="M6521 864l14-8 12-62-15 26zm-14 10l14-10 11-44-14 17z"/>
<path fill="#baa" d="M6492 887l15-13 11-37-14 14zm-14-1l14 1 12-36-15 18zm-789-82l15 14 11-26-14-4zm-14-13l14 13 12-16-15-9zm-14-9l14 9 11-12-14-15z"/>
<path fill="#988" d="M6464 872l14 14 11-17-14-4zm-72-16l14 12 12 6-15-5zm-14-31l14 31 11 13-14-33zm-330-238l14 357 12-23-15-117zm-402 193l15 2 11-18-14 16zm-14 6l14-6 12 0-15 4zm-14-2l14 2 11-2-14-3zm-15 11l15-11 11-3-14 4z"/>
<path fill="#999" d="M6449 892l15-20 11-7-14 11zm-14-4l14 4 12-16-15 10zm-29-20l15 14 11-5-14-3zm-301-49l15 110 11-102-14 51zm-71 169l14-401 11 217-14 244zm-302-150l15 9 11-1-14-18zm-143-23l14-20 12-10-15 10zm-14 30l14-30 11-20-14 11zm-15 15l15-15 11-39-14 16zm-28 12l14-9 11-34-14 16z"/>
<path fill="#777" d="M6421 882l14 6 11-2-14-9zm-287 35l14-146 12 51-15 55z"/>
<path fill="#b99" d="M6363 795l15 30 11 11-14-27zm-200 47l14-50 11-64-14 59zm-15-71l15 71 11-55-14 35z"/>
<path fill="#977" d="M6349 768l14 27 12 14-15-30zm-14-10l14 10 11 11-14-20z"/>
<path fill="#b88" d="M6320 737l15 21 11 1-14-33zm-14-10l14 10 12-11-15 8zm-57 8l14-8 11-23-14 7zm-29 4l14 1 12-26-15 6z"/>
<path fill="#966" d="M6292 718l14 9 11 7-14-22zm-29 9l14-14 12-19-15 10zm-86 65l14-252 12 195-15-7z"/>
<path fill="#d88" d="M6277 713l15 5 11-6-14-18z"/>
<path fill="#d99" d="M6234 740l15-5 11-24-14 3zm-28 10l14-11 11-19-14-7z"/>
<path fill="#b77" d="M6191 540l15 210 11-37-14 22z"/>
<path fill="#eef" d="M6120 929l14-12 11-40-14-50z"/>
<path fill="#778" d="M6091 933l14-114 12 59-15 30zm-330-76l14 46 12-4-15 4zm-244 28l15-13 11-27-14 10zm-14 15l14-15 12-30-15 25z"/>
<path fill="#668" d="M6077 994l14-61 11-25-14 52zm-588-82l14-12 11-20-14 16zm-15 19l15-19 11-16-14 27z"/>
<path fill="#889" d="M6062 944l15 50 11-34-14-39z"/>
<path fill="#446" d="M6019 1168l15-180 11 60-14-73zm-72-108l15-32 11-100-14 91zm-71-116l14 104 11-6-14-14zm-43 131l14-87 11 52-14-22zm-15-42l15 42 11-57-14 9zm-372-60l14-28 11-1-14 11zm-15 55l15-55 11-18-14 25zm-14-56l14 56 12-48-15-20zm-689-91l15-14 11-15-14 20z"/>
<path fill="#558" d="M6005 1035l14 133 12-193-15 0zm-1190-125l14 3 11 23-14-7zm-15-12l15 12 11 19-14 2z"/>
<path fill="#224" d="M5990 1243l15-208 11-60-14-16zm-100-195l14 38 12-63-15 19zm-29 98l15-202 11 84-14 92zm-14-158l14 158 12-26-15-80zm-473 27l14-20 12-2-15 24zm-15 40l15-40 11 2-14 28zm-14 59l14-59 12-10-14 48zm-43 29l14-6 12-20-14 10zm-29 4l15-3 11-16-14 8zm-14-1l14 1 12-11-15-2zm-43-12l14 6 12-14-15 4zm-14-3l14 3 11-4-14-10zm-29-15l14 11 12 1-15-13zm-14-14l14 14 11-1-14-15zm-15-27l15 27 11-2-14-17zm-28-16l14-3 11 14-14-1zm-15 30l15-30 11 10-14 14zm-43 20l15 4 11-18-14 3zm-14-11l14 11 12-11-15-2zm-43-13l14 3 12 11-15 2zm-14-5l14 5 11 16-14-8zm-29-20l14 16 12 20-15-11zm-14-12l14 12 11 25-14-18zm-29-30l14 18 12 37-15-24zm-14-19l14 19 11 31-14-18zm-43-67l14 20 11 26-14-7z"/>
<path fill="#334" d="M5976 950l14 293 12-284-14-11zm-57-62l14 191 12 26-15-136zm-15 198l15-198 11 81-14 54zm-114-164l14 42 11-99-14 66zm-330 23l14-14 12-8-15 21zm-58 23l15 4 11-12-14-1zm-14 27l14-27 12-9-14 34zm-559-82l14 12 12 34-15-23zm-43-39l14 24 12 33-15-51zm-15-15l15 15 11 6-14-27zm-14 5l14-5 12-6-14-1zm-14 3l14-3 12-12-15 0zm-29 68l14-54 12-9-14 60z"/>
<path fill="#556" d="M5962 1028l14-78 12-2-15-20zm-187-125l15 19 11 9-14-32zm-28-56l14 10 11 46-14-57z"/>
<path fill="#77b" d="M5933 1079l14-19 12-41-14 86zm-1090-154l15 7 11 39-14-12z"/>
<path fill="#99b" d="M5804 964l14 69 12-6-15-162z"/>
<path fill="#dcc" d="M5718 827l14 11 12-10-15-26zm-14-9l14 9 11-25-14-10z"/>
<path fill="#ccd" d="M5546 863l14-3 12-38-15 7z"/>
<path fill="#336" d="M5331 1132l14-18 12-21-15 14zm-15 5l15-5 11-25-14 10zm-186-81l14 19 12 8-15-13zm-43 66l14-33 12-6-15 16zm-57-23l14-1 11-2-14 5zm-15-11l15 11 11 2-14-2zm-129-114l15 25 11 32-14-26zm-14-22l14 22 12 31-15-27z"/>
<path fill="#226" d="M5288 1144l14-1 12-16-15 1zm-43-1l14 3 11-12-14-4zm-58-16l15 4 11-11-14 8z"/>
<path fill="#338" d="M5230 1140l15 3 11-13-14-4zm-258-64l15 4 11 13-14 3z"/>
<path fill="#449" d="M5073 1113l14 9 11-23-14-4z"/>
<path fill="#559" d="M4929 1036l15 12 11 19-14 6z"/>
<path fill="#dbb" d="M6538 903l15 15 11-76-14 3zm-14 7l14-7 12-58-15 11z"/>
<path fill="#dcc" d="M6510 914l14-4 11-54-14 8zm-15 0l15 0 11-50-14 10zm-14-4l14 4 12-40-15 13zm-817-97l14 4 11-13-14-13z"/>
<path fill="#baa" d="M6467 901l14 9 11-23-14-1zm-15 20l15-20 11-15-14-14zm-315 64l14-101 12-42-15-71zm-445-153l15 6 11-11-14-9zm-14-15l14 15 12-14-15-14z"/>
<path fill="#999" d="M6438 902l14 19 12-49-15 20zm-14-25l14 25 11-10-14-4zm-674 4l14 38 11-16-14-46zm-29-31l14 22 12-25-15-9zm-14-12l14 12 11-12-14-11zm-129 1l14-34 11-10-14 20zm-15 20l15-20 11-24-14 30zm-14 13l14-13 12-14-15 15z"/>
<path fill="#988" d="M6409 877l15 0 11 11-14-6zm-14-22l14 22 12 5-15-14zm-14-2l14 2 11 13-14-12zm-15-39l15 39 11 3-14-31zm-215 70l15-49 11-43-14 50zm-502-96l15 25 11-22-14-9zm-14 11l14-11 12-6-15-2zm-14-17l14 17 11-19-14 6zm-15 3l15-3 11 4-14-2zm-14 20l14-20 12-1-15 11z"/>
<path fill="#977" d="M6352 785l14 29 12 11-15-30zm-14-23l14 23 11 10-14-27zm-172 73l14-27 11-268-14 252z"/>
<path fill="#b88" d="M6323 748l15 14 11 6-14-10zm-86 3l15-2 11-22-14 8zm-28-2l14 14 11-23-14-1zm-15 74l15-74 11-10-14 11z"/>
<path fill="#966" d="M6309 736l14 12 12 10-15-21zm-14-7l14 7 11 1-14-10zm-15 1l15-1 11-2-14-9zm-57 33l14-12 12-16-15 5z"/>
<path fill="#b77" d="M6266 727l14 3 12-12-15-5zm-14 22l14-22 11-14-14 14z"/>
<path fill="#eaa" d="M6180 808l14 15 12-73-15-210z"/>
<path fill="#778" d="M6122 921l15 64 11-214-14 146zm-14 71l14-71 12-4-14 12z"/>
<path fill="#aab" d="M6094 1086l14-94 12-63-15-110z"/>
<path fill="#ccf" d="M6079 1112l15-26 11-267-14 114z"/>
<path fill="#334" d="M6065 997l14 115 12-179-14 61zm-14 71l14-71 12-3-15-50zm-86-128l14 149 11 154-14-293zm-15 88l15-88 11 10-14 78zm-57 89l14-111 12-118-15 198zm-100-169l14 41 11 44-14-69zm-15-23l15 23 11 16-14-42zm-344 62l14-47 12 5-14 28zm-14 48l14-48 12-14-15 55zm-15-63l15 63 11-7-14-56zm-28 8l14 2 11-14-14 27zm-517-57l15 20 11 31-14-22zm-14-16l14 16 12 29-14-20zm-43-20l14 9 12 17-14-3zm-14 2l14-2 12 23-15-12zm-15-18l15 18 11 9-14-24zm-14-3l14 3 12 3-15-15zm-29 15l15-4 11-15-14 3zm-28 63l14-49 11-16-14 54z"/>
<path fill="#bbd" d="M6036 1219l15-151 11-124-14-357z"/>
<path fill="#aad" d="M6022 1304l14-85 12-632-14 401zm-115-298l15 61 11 12-14-191zm-86-21l15 24 11-21-14 87z"/>
<path fill="#224" d="M6008 1163l14 141 12-316-15 180zm-86-96l14 223 11-230-14 19zm-43-53l14 103 11-31-14-38zm-531 39l14-51 12 13-15 40zm-14 79l14-79 11 2-14 59zm-29 19l14-5 12-14-15 5zm-14 5l14-5 11-14-14 6zm-15 4l15-4 11-13-14 1zm-14 4l14-4 12-16-15 3zm-29-19l15 16 11-15-14-3zm-28-6l14 4 11-3-14-6zm-43-18l14 14 11-8-14-11zm-15-32l15 32 11-5-14-14zm-57 6l14-52 12 16-15 30zm-14 38l14-38 11-6-14 33zm-29-15l14 5 12-10-15-4zm-14-24l14 24 11-9-14-11zm-43-32l14 12 11 14-14-3zm-29-26l14 26 12 18-15-4zm-57-53l14 25 11 28-14-18zm-15-16l15 16 11 35-14-19z"/>
<path fill="#336" d="M5993 1055l15 108 11 5-14-133zm-57 235l14-262 12 0-15 32zm-617-144l15-14 11-18-14 18zm-143-11l14-12 12 8-15-4zm-43-72l14 26 12 13-15-27zm-14-26l14 26 11 12-14-19zm-101 51l15 6 11 4-14 1zm-14-14l14 14 12 11-15-11zm-72-60l15 15 11 31-14-12z"/>
<path fill="#88d" d="M5979 1089l14-34 12-20-15 208z"/>
<path fill="#779" d="M5864 1065l15-51 11 34-14-104z"/>
<path fill="#669" d="M5850 1111l14-46 12-121-15 202z"/>
<path fill="#446" d="M5836 1009l14 102 11 35-14-158zm-388-69l15-1 11-8-14 14zm-57 42l14-10 12 0-15-4zm-516-39l14 24 12 32-15-25zm-58-47l15 3 11 26-14-12zm-100 1l14-14 12-16-15 14z"/>
<path fill="#99d" d="M5807 989l14-4 12 90-15-42z"/>
<path fill="#889" d="M5764 919l14 6 12-3-15-19z"/>
<path fill="#ddd" d="M5735 872l15 9 11-24-14-10z"/>
<path fill="#556" d="M5535 885l14-13 11-12-14 3zm-15 11l15-11 11-22-14 9zm-14 9l14-9 12-24-15 13zm-29 18l14-4 12-19-14 12z"/>
<path fill="#668" d="M5491 919l15-14 11-20-14 15zm-28 20l14-16 12-11-15 19zm-717-60l14-11 11-9-14 5z"/>
<path fill="#558" d="M5362 1002l15-22 11 15-14 20zm-530-103l14 8 12 25-15-7z"/>
<path fill="#338" d="M5248 1161l14 3 11-17-14-1z"/>
<path fill="#226" d="M5219 1143l14 2 12-2-15-3zm-29-20l15 16 11-5-14-3zm-129 0l15 10 11-11-14-9z"/>
<path fill="#559" d="M5104 1043l15-6 11 19-14 3zm-157-14l14 7 11 40-14-16zm-29-21l14 6 12 34-15-12z"/>
<path fill="#448" d="M4975 1062l15 0 11 23-14-5z"/>
<path fill="#ddd" d="M6527 965l14 19 12-66-15-15zm-14 21l14-21 11-62-14 7z"/>
<path fill="#bbb" d="M6498 949l15 37 11-76-14 4zm-373 4l15-47 11-22-14 101zm-430-100l15 10 11-13-14-12z"/>
<path fill="#dcc" d="M6484 945l14 4 12-35-15 0zm-14-9l14 9 11-31-14-4zm-15-8l15 8 11-26-14-9z"/>
<path fill="#777" d="M6441 923l14 5 12-27-15 20zm-875-68l14-38 12-12-14 34z"/>
<path fill="#999" d="M6427 912l14 11 11-2-14-19zm-689-19l15 18 11 8-14-38zm-28-30l14 15 11-6-14-22zm-158 29l14-37 12-16-15 20zm-15 6l15-6 11-33-14 13z"/>
<path fill="#baa" d="M6412 898l15 14 11-10-14-25zm-28-31l14 14 11-4-14-22zm-703-16l14 2 12-15-15-6zm-14-17l14 17 11-19-14-15zm-15-4l15 4 11-17-14-4z"/>
<path fill="#988" d="M6398 881l14 17 12-21-15 0zm-29-36l15 22 11-12-14-2zm-215 42l14-31 12-48-14 27zm-14 19l14-19 12-52-15 49zm-502-113l14 37 12-17-15-25zm-14-11l14 11 11-5-14 11zm-44 35l15-22 11-10-14 20z"/>
<path fill="#977" d="M6355 793l14 52 12 8-15-39zm-144 3l15-16 11-29-14 12z"/>
<path fill="#b88" d="M6341 779l14 14 11 21-14-29zm-115 1l14-22 12-9-15 2z"/>
<path fill="#966" d="M6326 759l15 20 11 6-14-23zm-14-11l14 11 12 3-15-14zm-14-11l14 11 11 0-14-12zm-15-9l15 9 11-1-14-7z"/>
<path fill="#b77" d="M6269 732l14-4 12 1-15 1zm-14 14l14-14 11-2-14-3zm-15 12l15-12 11-19-14 22z"/>
<path fill="#daa" d="M6197 814l14-18 12-33-14-14z"/>
<path fill="#b99" d="M6183 838l14-24 12-65-15 74zm-574-55l15-1 11 17-14-17zm-14 12l14-12 12-1-15 3z"/>
<path fill="#dbb" d="M6168 856l15-18 11-15-14-15z"/>
<path fill="#668" d="M6111 1150l14-197 12 32-15-64zm-645-211l14 2 11-22-14 4zm-15 13l15-13 11-16-14 16zm-645-59l14-1 12 7-15-3zm-14-8l14 8 11 3-14-9zm-15 3l15-3 11 2-14 2zm-43 10l15-15 11-15-14 11z"/>
<path fill="#779" d="M6097 1059l14 91 11-229-14 71zm-158-7l14 34 12-146-15 88z"/>
<path fill="#446" d="M6082 971l15 88 11-67-14 94zm-28 54l14 126 11-39-14-115zm-215-20l14 168 11-108-14 46zm-15-13l15 13 11 106-14-102zm-28 51l14-43 11-15-14 4zm-15-84l15 84 11-54-14-41zm-401 6l14 13 11-6-14 10zm-29 29l14-15 12 1-15 22zm-459-29l14 13 12 30-14-25zm-14-17l14 17 12 18-15-16zm-15-23l15 23 11 19-14-24zm-14-19l14 19 12 18-15-20zm-14-7l14 7 11 17-14-16zm-15-7l15 7 11 8-14-8zm-100 8l14-2 12-19-15 4zm-14 15l14-15 11-17-14 14z"/>
<path fill="#334" d="M6068 1151l14-180 12 115-15 26zm-258-151l14-8 12 17-15-24zm-330-59l14-11 12-25-15 14zm-43 0l14 11 12-13-15 1zm-14 59l14-59 11-1-14 47zm-15 64l15-64 11-13-14 48zm-14-86l14 86 12-29-15-63zm-29 1l15-14 11 17-14-2zm-602-102l14 11 12 1-15-18zm-14 6l14-6 11-6-14-3zm-58 74l15-42 11-18-14 49z"/>
<path fill="#99b" d="M6039 1004l15 21 11-28-14 71z"/>
<path fill="#77b" d="M6025 1102l14-98 12 64-15 151z"/>
<path fill="#336" d="M6011 1279l14-177 11 117-14 85zm-703-115l14-15 12-17-15 14zm-29-5l15-1 11-7-14 5zm-100-26l14 11 12-5-15-16zm-14-10l14 10 11-10-14 12zm-15-3l15 3 11 12-14-14zm-43-96l15 28 11 11-14-26zm-86 79l15 26 11-11-14-24zm-29-39l15 15 11 9-14-14zm-14-11l14 11 12 10-14-12zm-43-44l14 25 12 2-14-7zm-14-16l14 16 12 20-15-15z"/>
<path fill="#66f" d="M5996 1268l15 11 11 25-14-141z"/>
<path fill="#559" d="M5982 1157l14 111 12-105-15-108z"/>
<path fill="#88d" d="M5968 1178l14-21 11-102-14 34zm-43-76l14-50 11-24-14 262zm-58 40l15-25 11 0-14-103zm-14 31l14-31 12-128-15 51z"/>
<path fill="#88b" d="M5953 1086l15 92 11-89-14-149z"/>
<path fill="#448" d="M5910 1078l15 24 11 188-14-223z"/>
<path fill="#99d" d="M5896 1096l14-18 12-11-15-61z"/>
<path fill="#224" d="M5882 1117l14-21 11-90-14 111zm-545-60l14-63 11 8-14 51zm-15 92l15-92 11-4-14 79zm-28 9l14 6 11-18-14 5zm-43 22l14-9 11-11-14 4zm-15-17l15 17 11-16-14-3zm-28-16l14 7 11-9-14-2zm-15-3l15 3 11-4-14-4zm-57-48l14 24 12 1-15-32zm-14-44l14 44 11-7-14-26zm-29 1l14-29 12 13-15 6zm-14 39l14-39 11-10-14 52zm-15 49l15-49 11 3-14 38zm-14-11l14 11 12-8-15-10zm-14-1l14 1 11-7-14-5zm-29-50l14 24 12-9-15-6zm-43-33l14 7 12 9-15 0zm-15-12l15 12 11 16-14-26zm-43-56l15 15 11 21-14-6z"/>
<path fill="#556" d="M5767 922l14 37 12-11-15-23zm-244-12l14-12 12-26-14 13zm-14 6l14-6 12-25-15 11zm-15 14l15-14 11-20-14 9z"/>
<path fill="#778" d="M5753 911l14 11 11 3-14-6zm-29-33l14 15 12-12-15-9z"/>
<path fill="#226" d="M5265 1171l14-12 12-3-15 4zm-43-17l14 9 12-2-15-16z"/>
<path fill="#ccd" d="M6516 1029l14 18 11-63-14-19zm-15-5l15 5 11-64-14 21zm-14-21l14 21 12-38-15-37z"/>
<path fill="#bbb" d="M6473 977l14 26 11-54-14-4zm-15-16l15 16 11-32-14-9zm-14-16l14 16 12-25-15-8z"/>
<path fill="#999" d="M6430 932l14 13 11-17-14-5zm-15-9l15 9 11-9-14-11zm-272 29l14-56 11-40-14 31zm-416-59l14-3 12 21-15-18zm-29-20l14 10 12-5-14-15zm-29-10l15 5 11-15-14-2zm-114 13l14-42 11-17-14 38zm-15 37l15-37 11-21-14 37z"/>
<path fill="#988" d="M6401 904l14 19 12-11-15-14zm-14-15l14 15 11-6-14-17zm-15-35l15 35 11-8-14-14zm-201 10l15-11 11-39-14 24zm-573-74l14 2 12-10-15 1zm-29 44l14-32 12-7-15 22z"/>
<path fill="#b99" d="M6358 825l14 29 12 13-15-22zm-746-33l14 15 12-14-14-11zm-29 10l15-12 11-7-14 12z"/>
<path fill="#977" d="M6344 800l14 25 11 20-14-52zm-158 53l14-23 11-34-14 18z"/>
<path fill="#966" d="M6329 781l15 19 11-7-14-14zm-14-16l14 16 12-2-15-20zm-15-9l15 9 11-6-14-11zm-14-12l14 12 12-8-14-11zm-14-8l14 8 12-7-15-9zm-72 94l14-217 12 167-15 16z"/>
<path fill="#b77" d="M6257 748l15-12 11-8-14 4zm-14 15l14-15 12-16-14 14zm-14 9l14-9 12-17-15 12zm-15-159l15 159 11-14-14 22z"/>
<path fill="#baa" d="M6157 896l14-32 12-26-15 18zm-473-28l14 5 12-10-15-10zm-58-61l15 20 11 3-14-37z"/>
<path fill="#778" d="M6128 1016l15-64 11-65-14 19zm-416-133l15 10 11 0-14-15zm-186 40l14-10 12-21-15 6zm-43 11l14-4 12-14-15 14z"/>
<path fill="#aab" d="M6114 985l14 31 12-110-15 47z"/>
<path fill="#668" d="M6100 1110l14-125 11-32-14 197zm-287-91l14-27 12 13-15-13zm-14-77l14 77 11-27-14 8zm-330 5l14-13 11-4-14 11zm-29 7l14-2 12-13-15 13zm-688-64l14 5 11-7-14-11zm-29 29l14-25 12-11-15 15z"/>
<path fill="#224" d="M6085 1229l15-119 11 40-14-91zm-43-191l15 345 11-232-14-126zm-43 276l15-255 11 43-14 177zm-57-216l14 131 12-51-15-92zm-57 11l14-7 11-24-14 18zm-574 37l14-83 12-6-15 92zm-14 11l14-11 11 3-14 15zm-58 18l15-12 11 8-14 9zm-14-11l14 11 12 5-15-17zm-14 7l14-7 11-1-14-9zm-29-31l14 25 12-18-15-3zm-29-15l15 5 11 3-14-10zm-28-22l14 15 11 2-14-24zm-15-51l15 51 11-7-14-44zm-14-33l14 33 12 0-15-28zm-43 126l14-74 12 21-15 49zm-15-21l15 21 11-4-14-11zm-28-25l14 25 12 5-15-26zm-29-38l14 28 12-10-15-15zm-14-5l14 5 11 3-14-11zm-15-3l15 3 11-3-14-7zm-28-45l14 35 11-9-14-25zm-15-16l15 16 11 1-14-16z"/>
<path fill="#99d" d="M6071 1143l14 86 12-170-15-88zm-158-98l15 13 11-6-14 50z"/>
<path fill="#336" d="M6057 1383l14-240 11-172-14 180zm-187-226l15-48 11-13-14 21zm-14 83l14-83 12-40-15 25zm-14-147l14 147 11-98-14 31zm-560 66l15-2 11 7-14-6zm-14 8l14-8 12-1-15 1zm-14-4l14 4 11-8-14 12zm-86-33l14 10 11 4-14-11zm-29-12l14 7 12-2-15-3zm-115 6l14 0 12 6-14-1zm-29-35l15 10 11 4-14-24zm-57-46l14 10 12-7-15-12z"/>
<path fill="#334" d="M6028 1120l14-82 12-13-15-21zm-100-62l14 40 11-12-14-34zm-29 44l14-57 12 57-15-24zm-72-110l15 101 11 80-14-168zm-373-40l15-5 11-6-14-2zm-43 55l15-50 11-16-14 59zm-14 62l14-62 12-7-15 64zm-14-88l14 88 11-5-14-86zm-15-12l15 12 11-3-14-13zm-43 94l15-66 11-3-14 63zm-430-85l14 14 12 1-15-15zm-43-54l14 22 12 2-15-23zm-14-16l14 16 11 1-14-19zm-15-4l15 4 11-2-14-7zm-14-5l14 5 12-5-15-7zm-29 4l15-6 11-4-14-8zm-14-8l14 8 12-18-15 3zm-29-1l15-4 11-13-14 6zm-57 75l14-34 12-20-15 42z"/>
<path fill="#446" d="M6014 1059l14 61 11-116-14 98zm-660-72l14-18 12-4-15 14zm-14 10l14-10 11-8-14 15zm-459-42l14 23 11 0-14-13zm-15-9l15 9 11 10-14-17zm-172-11l15-17 11-18-14 15z"/>
<path fill="#55d" d="M5985 1309l14 5 12-35-15-11z"/>
<path fill="#55b" d="M5971 1250l14 59 11-41-14-111z"/>
<path fill="#77d" d="M5956 1229l15 21 11-93-14 21z"/>
<path fill="#99b" d="M5784 994l15-52 11 58-14 43zm-14 12l14-12 12 49-15-84z"/>
<path fill="#bbd" d="M5756 981l14 25 11-47-14-37z"/>
<path fill="#556" d="M5741 890l15 91 11-59-14-11zm-229 36l14-3 11-25-14 12zm-15 4l15-4 11-16-14 6zm-71 27l14-3 11-2-14-11zm-631-60l14 2 11-7-14 1z"/>
<path fill="#dcc" d="M5655 870l14-7 12-12-14-17z"/>
<path fill="#777" d="M5641 827l14 43 12-36-15-4z"/>
<path fill="#449" d="M5196 1165l15 6 11-17-14-7z"/>
<path fill="#77b" d="M5081 1029l15-10 11 5-14 29z"/>
<path fill="#448" d="M5067 1071l14-42 12 24-14 39z"/>
<path fill="#779" d="M4709 918l14 1 11-21-14 2z"/>
<path fill="#889" d="M6504 1043l15 12 11-8-14-18zm-14-3l14 3 12-14-15-5zm-1678-116l14 6 12-22-15-4zm-14-6l14 6 11-20-14-5zm-15 0l15 0 11-19-14-2zm-28-5l14 0 11-10-14-8zm-15-4l15 4 11-18-14-5z"/>
<path fill="#556" d="M6476 998l14 42 11-16-14-21zm-689-61l14 81 12 1-14-77zm-43 4l14 27 12 38-14-25zm-272 17l14-9 11-19-14 4zm-15 8l15-8 11-24-14 13zm-14 4l14-4 12-19-15 5zm-674-57l14 5 12-21-15 6zm-43 3l14-7 12-19-15 4z"/>
<path fill="#778" d="M6461 981l15 17 11 5-14-26zm-746-79l15 68 11-80-14 3zm-229 47l14-3 12-20-15 4z"/>
<path fill="#999" d="M6447 975l14 6 12-4-15-16zm-316 53l15-71 11-61-14 56zm-588-125l15-41 11-28-14 42zm-14 43l14-43 12-27-15 37z"/>
<path fill="#777" d="M6432 942l15 33 11-14-14-16zm-788-70l14 11 11-20-14 7z"/>
<path fill="#988" d="M6418 916l14 26 12 3-14-13zm-14-7l14 7 12 16-15-9zm-230-4l15-31 11-44-14 23zm-616-43l14-32 11-28-14 32z"/>
<path fill="#baa" d="M6389 886l15 23 11 14-14-19zm-229 53l14-34 12-52-15 11zm-488-56l15 10 11-20-14-5zm-14 0l14 0 12-15-15-5zm-29-35l15 24 11-2-14-43z"/>
<path fill="#b99" d="M6375 874l14 12 12 18-14-15zm-803-44l14-9 12-31-15 12z"/>
<path fill="#977" d="M6361 848l14 26 12 15-15-35zm-15-25l15 25 11 6-14-29z"/>
<path fill="#b88" d="M6332 811l14 12 12 2-14-25zm-14-14l14 14 12-11-15-19z"/>
<path fill="#d99" d="M6303 783l15 14 11-16-14-16z"/>
<path fill="#d88" d="M6289 774l14 9 12-18-15-9zm-14 0l14 0 11-18-14-12zm-15 7l15-7 11-30-14-8zm-14-6l14 6 12-45-15 12z"/>
<path fill="#966" d="M6232 794l14-19 11-27-14 15zm-15 23l15-23 11-31-14 9zm-28 57l14-28 11-233-14 217z"/>
<path fill="#e99" d="M6203 846l14-29 12-45-15-159z"/>
<path fill="#dcc" d="M6146 957l14-18 11-75-14 32z"/>
<path fill="#668" d="M6117 1090l14-62 12-76-15 64zm-344-14l14-139 12 5-15 52zm-344-110l14 4 11-18-14 2zm-717-39l14-11 11-22-14 25z"/>
<path fill="#ccf" d="M6103 1107l14-17 11-74-14-31z"/>
<path fill="#446" d="M6088 1223l15-116 11-122-14 125zm-215-250l15 135 11-6-14 7zm-530 35l14-21 11-18-14 18zm-273 41l14-15 12-15-15 10zm-387-85l14-21 12-25-15 17zm-14 23l14-23 11-29-14 34z"/>
<path fill="#336" d="M6074 1355l14-132 12-113-15 119zm-789-203l15 2 11-8-14 11zm-43 13l15-3 11 5-14-4zm-28-4l14 9 11 5-14-11zm-44-38l15 26 11 16-14-25zm-14 17l14-17 12 17-14-10zm-14 5l14-5 12-10-15-5zm-86-47l14-49 11-20-14 42zm-29 37l14 9 12 1-15-21zm-43-38l14 25 12-23-15-10zm-43-35l14 10 12-16-15-3zm-14-9l14 9 11-9-14-10z"/>
<path fill="#55b" d="M6060 1253l14 102 11-126-14-86z"/>
<path fill="#66d" d="M6045 1288l15-35 11-110-14 240z"/>
<path fill="#224" d="M6031 1051l14 237 12 95-15-345zm-43 313l14-195 12-110-15 255zm-43-132l14-18 12 36-15-21zm-645-78l14-77 11-14-14 83zm-29-6l14 4 12 5-15 2zm-14 14l14-14 11 11-14 8zm-29 8l14-5 12-2-15 12zm-29-15l15 6 11 3-14 7zm-14-6l14 6 12 16-15-6zm-72-53l14 32 12-10-14-15zm-72 48l15-46 11-27-14 74zm-28-16l14 7 11-11-14 0z"/>
<path fill="#334" d="M6017 1113l14-62 11-13-14 82zm-115 10l14-44 12-21-15-13zm-14-15l14 15 11-78-14 57zm-29 47l14-182 12 136-15 48zm-43-169l14 156 12-49-15-101zm-15 32l15-32 11 6-14 27zm-43-50l15 108 11-82-14 12zm-344 1l15-3 11-12-14 3zm-14 56l14-56 12-12-15 50zm-14 49l14-49 11-18-14 62zm-58-58l15-8 11-21-14 10zm-14 61l14-61 12-19-15 66zm-617-134l15-16 11-8-14-1z"/>
<path fill="#558" d="M6002 1169l15-56 11 7-14-61zm-86-90l15 78 11-59-14-40zm-545-75l15 70 11-5-14-88zm-287 30l15 36 11-18-14-33zm-186-26l14 19 12-19-15-16z"/>
<path fill="#114" d="M5974 1266l14 98 11-50-14-5z"/>
<path fill="#226" d="M5959 1214l15 52 11 43-14-59z"/>
<path fill="#559" d="M5931 1157l14 75 11-3-14-131zm-961-77l14 17 11-8-14-28zm-15-8l15 8 11-19-14-5z"/>
<path fill="#88f" d="M5845 1164l14-9 11 2-14 83z"/>
<path fill="#88d" d="M5830 1142l15 22 11 76-14-147z"/>
<path fill="#aab" d="M5730 970l14-29 12 40-15-91zm-215-22l14-2 11-33-14 10zm-15-2l15 2 11-25-14 3z"/>
<path fill="#bbb" d="M5701 909l14-7 12-9-15-10zm-14-16l14 16 11-26-14-10z"/>
<path fill="#dbb" d="M5615 840l14 8 12-21-15-20zm-14-19l14 19 11-33-14-15zm-15 0l15 0 11-29-14-2z"/>
<path fill="#779" d="M5357 987l14 17 12-23-15-12zm-488-11l15 22 11-20-14-23zm-28-27l14 21 11-24-14-22zm-15-19l15 19 11-25-14-16z"/>
<path fill="#448" d="M5127 1128l15 17 11-20-14-7zm-28-58l14 26 12 7-15-51z"/>
<path fill="#66b" d="M4998 1122l15 6 11-4-14-25z"/>
<path fill="#669" d="M4912 1027l15 26 11-10-14-35zm-28-29l14 10 11-16-14-14z"/>
<path fill="#88b" d="M4855 970l14 6 12-21-15-9z"/>
<path fill="#778" d="M6493 1019l14 17 12 19-15-12zm-15-19l15 19 11 24-14-3zm-358-91l14 162 12-114-15 71zm-330-26l14 182 12-79-15 32zm-14 130l14-130 11 135-14-81zm-15-69l15 69 11-76-14 139zm-28 12l14 50 11-38-14-27zm-15 1l15-1 11-15-14 29zm-186 14l14-43 12-66-15 41zm-14 22l14-22 11-68-14 43z"/>
<path fill="#999" d="M6464 979l14 21 12 40-14-42zm-14-13l14 13 12 19-15-17z"/>
<path fill="#777" d="M6435 950l15 16 11 15-14-6z"/>
<path fill="#988" d="M6421 917l14 33 12 25-15-33zm-29-37l15 19 11 17-14-7z"/>
<path fill="#b99" d="M6407 899l14 18 11 25-14-26zm-43-34l14 6 11 15-14-12z"/>
<path fill="#977" d="M6378 871l14 9 12 29-15-23z"/>
<path fill="#b88" d="M6349 858l15 7 11 9-14-26z"/>
<path fill="#d99" d="M6335 845l14 13 12-10-15-25zm-14 8l14-8 11-22-14-12z"/>
<path fill="#faa" d="M6306 849l15 4 11-42-14-14zm-14 3l14-3 12-52-15-14zm-57 18l14-16 11-73-14-6z"/>
<path fill="#eaa" d="M6278 849l14 3 11-69-14-9zm-15-5l15 5 11-75-14 0zm-14 10l14-10 12-70-15 7z"/>
<path fill="#fbb" d="M6220 894l15-24 11-95-14 19z"/>
<path fill="#daa" d="M6206 922l14-28 12-100-15 23z"/>
<path fill="#fcc" d="M6192 941l14-19 11-105-14 29z"/>
<path fill="#dbb" d="M6177 973l15-32 11-95-14 28zm-573-102l14 8 11-31-14-8zm-29 17l14-17 12-50-15 0z"/>
<path fill="#dcc" d="M6163 997l14-24 12-99-15 31zm-502-90l14 8 12-22-15-10zm-29-1l15-3 11-20-14-11zm-14-27l14 27 12-34-15-24z"/>
<path fill="#bbb" d="M6149 1028l14-31 11-92-14 34zm-445-97l14 26 12 13-15-68zm-14 4l14-4 11-29-14 7zm-15-20l15 20 11-26-14-16z"/>
<path fill="#aab" d="M6134 1071l15-43 11-89-14 18zm-645-92l14 15 12-46-15-2zm-14 1l14-1 11-33-14 3zm-15 3l15-3 11-31-14 9z"/>
<path fill="#556" d="M6106 1103l14-194 11 119-14 62zm-674-107l14-11 11-19-14 4zm-717-48l14-14 11-25-14 7z"/>
<path fill="#446" d="M6091 1190l15-87 11-13-14 17zm-244-15l15-39 11-163-14 182zm-458-137l14-32 11-37-14 56z"/>
<path fill="#336" d="M6077 1289l14-99 12-83-15 116zm-143-81l14 34 11-28-14 18zm-101-93l14 60 12-20-14 9zm-559 38l14-2 12 3-15-2zm-15 4l15-4 11-1-14-4zm-14-1l14 1 12-9-14 14zm-43 2l14 6 12 6-14-9zm-14-4l14 4 12 3-15-6zm-15 0l15 0 11 1-14-6zm-43-19l15 5 11 0-14 5zm-14-12l14 12 12 10-15-17zm-72-9l15-27 11-38-14 49zm-28 19l14-1 11 12-14-9zm-15-1l15 1 11 2-14-7zm-14-15l14 15 12-4-15-6z"/>
<path fill="#449" d="M6063 1323l14-34 11-66-14 132z"/>
<path fill="#55d" d="M6048 1302l15 21 11 32-14-102z"/>
<path fill="#224" d="M6034 1308l14-6 12-49-15 35zm-43-104l14-17 12-74-15 56zm-14 197l14-197 11-35-14 195zm-158-258l14-28 12 49-15-22zm-531 8l14-61 12-13-14 77zm-57 9l14-4 12 6-15 3zm-15 4l15-4 11 5-14 5zm-71-24l14 15 11-32-14 17zm-43-41l14 24 11 5-14-32zm-43-12l14-22 11-31-14 15z"/>
<path fill="#448" d="M6020 1143l14 165 11-20-14-237zm-990-11l14-18 12-16-15 46zm-57-23l14 8 11 5-14-25z"/>
<path fill="#334" d="M6005 1187l15-44 11-92-14 62zm-129-105l14 94 12-53-14-15zm-502-4l15-40 11-13-14 49zm-57-18l14-23 12-29-15 8zm-15 30l15-30 11-44-14 61zm-602-119l15-23 11-32-14 11zm-29 43l15-34 11-37-14 21zm-14 26l14-26 12-50-14 23z"/>
<path fill="#114" d="M5962 1255l15 146 11-37-14-98z"/>
<path fill="#55b" d="M5948 1242l14 13 12 11-15-52z"/>
<path fill="#66b" d="M5919 1192l15 16 11 24-14-75zm-760-37l14-1 12-5-15-26zm-201-51l15 5 11-12-14-17z"/>
<path fill="#77b" d="M5905 1154l14 38 12-35-15-78zm-832-89l14 23 12-18-15-36zm-143 27l14-2 11-18-14-10zm-43-54l14 8 11-19-14-19z"/>
<path fill="#669" d="M5890 1176l15-22 11-75-14 44zm-803-88l15 11 11-3-14-26zm-172-18l15 22 11-30-14-9zm-14-24l14 24 12-17-15-26zm-29-26l15 18 11-30-14-10z"/>
<path fill="#88b" d="M5862 1136l14-54 12 26-15-135zm-58-71l15 78 11-1-14-156zm-1118-85l14-9 12-44-15 16z"/>
<path fill="#668" d="M5747 1006l14-62 12 132-15-108zm-301-21l14-2 12-25-15 8zm-115 52l15-11 11-39-14 21z"/>
<path fill="#baa" d="M5647 903l14 4 11-24-14 0zm-101 25l15-29 11-69-14 32z"/>
<path fill="#fdd" d="M5589 871l15 0 11-31-14-19zm-28 28l14-11 11-67-14 9z"/>
<path fill="#bbd" d="M5503 994l15-1 11-47-14 2z"/>
<path fill="#99b" d="M5417 1001l15-5 11-26-14-4zm-14 5l14-5 12-35-15 3zm-57 20l14 15 11-37-14-17zm-531-70l14 13 12-20-15-19zm-14-4l14 4 11-26-14-6zm-15-6l15 6 11-28-14-6zm-14-1l14 1 12-28-15 0zm-14-2l14 2 11-27-14-5zm-15-7l15 7 11-30-14 0zm-14-2l14 2 12-23-15-4z"/>
<path fill="#779" d="M5360 1041l14 37 12-4-15-70zm-502-40l14 19 12-22-15-22zm-14-13l14 13 11-25-14-6zm-15-19l15 19 11-18-14-21z"/>
<path fill="#559" d="M4944 1090l14 14 12-24-15-8z"/>
<path fill="#999" d="M6481 996l15 20 11 20-14-17zm-14-7l14 7 12 23-15-19zm-14-37l14 37 11 11-14-21zm-732 14l15 19 11 21-14-50zm-14-49l14 49 12-10-15 1zm-29 31l15-8 11-9-14 4z"/>
<path fill="#988" d="M6438 954l15-2 11 27-14-13zm-14-24l14 24 12 12-15-16zm-14-19l14 19 11 20-14-33z"/>
<path fill="#977" d="M6395 901l15 10 11 6-14-18z"/>
<path fill="#b99" d="M6381 895l14 6 12-2-15-19z"/>
<path fill="#b88" d="M6367 880l14 15 11-15-14-9zm-15-1l15 1 11-9-14-6zm-14 9l14-9 12-14-15-7z"/>
<path fill="#daa" d="M6324 892l14-4 11-30-14-13zm-15 16l15-16 11-47-14 8zm-14 28l14-28 12-55-15-4z"/>
<path fill="#fcc" d="M6281 946l14-10 11-87-14 3zm-15 8l15-8 11-94-14-3zm-14 7l14-7 12-105-15-5zm-14 21l14-21 11-117-14 10z"/>
<path fill="#fdd" d="M6223 996l15-14 11-128-14 16zm-14 12l14-12 12-126-15 24z"/>
<path fill="#dcc" d="M6195 1033l14-25 11-114-14 28zm-545-102l14 7 11-23-14-8zm-15-3l15 3 11-24-14-4zm-28-10l14 7 11-19-14-27zm-15 21l15-21 11-39-14-8zm-28 22l14-24 11-66-14 17z"/>
<path fill="#ddd" d="M6180 1067l15-34 11-111-14 19z"/>
<path fill="#ccd" d="M6166 1088l14-21 12-126-15 32zm-631-80l14-12 12-97-15 29z"/>
<path fill="#bbd" d="M6152 1118l14-30 11-115-14 24zm-15 30l15-30 11-121-14 31z"/>
<path fill="#99b" d="M6123 1181l14-33 12-120-15 43zm-631-152l14 27 12-63-15 1zm-14-20l14 20 11-35-14-15zm-15 1l15-1 11-30-14 1zm-14-1l14 1 12-30-15 3zm-29 22l15-6 11-40-14 11zm-14 2l14-2 12-35-15 5zm-15 4l15-4 11-32-14 5zm-659-73l14 17 12-38-15-7zm-29 30l14-14 12-46-14 14z"/>
<path fill="#ccf" d="M6109 1181l14 0 11-110-14-162z"/>
<path fill="#779" d="M6094 1235l15-54 11-272-14 194zm-1377-255l15-16 11-28-14-2z"/>
<path fill="#336" d="M6080 1409l14-174 12-132-15 87zm-158-146l14-69 12 48-14-34zm-14-59l14 59 12-55-15-16zm-646-62l15-9 11 18-14 2zm-71 14l14 7 11 1-14-6zm-15-4l15 4 11 2-14-4zm-14-4l14 4 12 2-15 0zm-29-3l15-6 11 16-14-15zm-28-13l14 22 11-19-14-12zm-72-15l14-9 12-21-15 27zm-43 19l14-4 12 1-15-1zm-14-9l14 9 11-4-14-15zm-15-6l15 6 11-10-14-8zm-14-5l14 5 12-12-15-5z"/>
<path fill="#449" d="M6066 1348l14 61 11-219-14 99zm-58-88l14 202 12-154-14-165z"/>
<path fill="#226" d="M6051 1548l15-200 11-59-14 34zm-14-207l14 207 12-225-15-21zm-15 121l15-121 11-39-14 6z"/>
<path fill="#224" d="M5994 1177l14 83 12-117-15 44zm-58 17l15 107 11-46-14-13zm-114-4l14-44 11 29-14-60zm-574-41l14-7 12 11-15 4zm-14 4l14-4 11 8-14-1zm-15 0l15 0 11 3-14 4zm-14 10l14-10 12 7-15 4zm-57-24l14 9 11 6-14 1zm-29 15l14-9 12-5-15-5zm-100-28l14-9 11-3-14 18zm-15 6l15-6 11 6-14 1zm-344-48l14-39 12-65-15 34z"/>
<path fill="#558" d="M5979 1154l15 23 11 10-14 17zm-674-59l15-13 11-45-14 23zm-28 38l14-23 11-20-14 61z"/>
<path fill="#559" d="M5965 1296l14-142 12 50-14 197z"/>
<path fill="#55d" d="M5951 1301l14-5 12 105-15-146z"/>
<path fill="#88d" d="M5893 1195l15 9 11-12-14-38zm-831-87l14 1 11-21-14-23zm-172-19l14-3 11-16-14-24z"/>
<path fill="#446" d="M5879 1132l14 63 12-41-15 22zm-14 52l14-52 11 44-14-94zm-29-38l14 41 12-51-15 39zm-29-60l15 104 11-75-14 28zm-14-137l14 137 12 57-15-78zm-416 110l14-22 12-31-14 32zm-14 9l14-9 12-21-15 40zm-72 42l14-15 12-35-15 30zm-617-65l15-34 11-40-14 9z"/>
<path fill="#99d" d="M5850 1187l15-3 11-102-14 54z"/>
<path fill="#556" d="M5779 1121l14-172 11 116-14-182zm-15-117l15 117 11-238-14 130zm-28-19l14 79 11-120-14 62z"/>
<path fill="#778" d="M5750 1064l14-60 12 9-15-69zm-57-124l14-23 11 40-14-26z"/>
<path fill="#bbb" d="M5664 938l14 10 12-13-15-20zm-43-13l14 3 12-25-15 3zm-72 71l15-35 11-73-14 11z"/>
<path fill="#fee" d="M5578 937l14 2 12-68-15 0z"/>
<path fill="#aab" d="M5521 1026l14-18 11-80-14 43z"/>
<path fill="#668" d="M5506 1056l15-30 11-55-14 22zm-71-31l14-16 11-26-14 2zm-746-14l14-17 12-46-15 23z"/>
<path fill="#88b" d="M5348 1067l15 1 11 10-14-37zm-28 15l14-11 12-45-15 11zm-473-48l14 14 11-28-14-19zm-15-13l15 13 11-33-14-13z"/>
<path fill="#aad" d="M5334 1071l14-4 12-26-14-15zm-516-50l14 0 12-33-15-19zm-14-17l14 17 11-52-14-13zm-15-10l15 10 11-48-14-4zm-14-8l14 8 12-42-15-6zm-15 0l15 0 11-40-14-1zm-14-5l14 5 12-41-14-2z"/>
<path fill="#77b" d="M5090 1121l15 11 11-9-14-24zm-215-52l15 20 11-43-14-8zm-229 35l14-20 11-70-14 26z"/>
<path fill="#669" d="M5076 1109l14 12 12-22-15-11zm-29-1l15 0 11-43-14 22zm-186-60l14 21 12-31-15-18z"/>
<path fill="#66b" d="M4933 1113l14 3 11-12-14-14z"/>
<path fill="#448" d="M4918 1103l15 10 11-23-14 2zm-14-17l14 17 12-11-15-22z"/>
<path fill="#999" d="M6470 988l14 19 12 9-15-20z"/>
<path fill="#988" d="M6456 975l14 13 11 8-14-7zm-43-37l14 13 11 3-14-24z"/>
<path fill="#baa" d="M6441 962l15 13 11 14-14-37z"/>
<path fill="#b99" d="M6427 951l14 11 12-10-15 2zm-43-35l14 17 12-22-15-10zm-57 28l14-28 11-37-14 9zm-29 46l14-38 12-60-15 16z"/>
<path fill="#dbb" d="M6398 933l15 5 11-8-14-19z"/>
<path fill="#daa" d="M6370 917l14-1 11-15-14-6zm-15-2l15 2 11-22-14-15zm-14 1l14-1 12-35-15-1z"/>
<path fill="#fcc" d="M6312 952l15-8 11-56-14 4z"/>
<path fill="#dcc" d="M6284 1019l14-29 11-82-14 28zm-15 41l15-41 11-83-14 10z"/>
<path fill="#fff" d="M6255 1077l14-17 12-114-15 8z"/>
<path fill="#eef" d="M6241 1091l14-14 11-123-14 7zm-15 1l15-1 11-130-14 21zm-530-105l14 13 11-34-14-49z"/>
<path fill="#ccd" d="M6212 1123l14-31 12-110-15 14zm-445-134l15 39 11-79-14 172zm-57 11l14 16 12-31-15-19z"/>
<path fill="#ddf" d="M6198 1130l14-7 11-127-14 12z"/>
<path fill="#bbd" d="M6183 1162l15-32 11-122-14 25zm-746-101l15-9 11-42-14-1z"/>
<path fill="#aad" d="M6169 1185l14-23 12-129-15 34zm-14 22l14-22 11-118-14 21zm-660-104l14-7 12-70-15 30zm-746-75l14 10 12-52-15 0zm-14 7l14-7 11-42-14-5z"/>
<path fill="#99d" d="M6140 1233l15-26 11-119-14 30zm-14 15l14-15 12-115-15 30zm-273-109l15 4 11-11-14 52zm-57 39l14-19 12 31-15-104zm-488-57l15 7 11-57-14 11zm-516-64l14-7 12-29-14-17zm-14-8l14 8 12-53-15-10zm-15-11l15 11 11-55-14-8zm-86 12l15 4 11-60-14 17z"/>
<path fill="#88d" d="M6111 1254l15-6 11-100-14 33z"/>
<path fill="#224" d="M6097 1333l14-79 12-73-14 0zm-100-66l14 48 11 147-14-202zm-15-99l15 99 11-7-14-83zm-57 130l14-58 12 61-15-107zm-43-126l14 55 12-23-15-9zm-43 13l14-46 12 45-15 3zm-588-46l14-14 12 8-15 9zm-14-1l14 1 11 3-14 7zm-15 9l15-9 11 11-14 4zm-43 5l15-7 11 18-14-7zm-43-1l15-6 11 3-14-9zm-14-1l14 1 12-12-15 6zm-29-14l15 19 11-1-14-22zm-57 10l14-19 12-19-15 0zm-43-21l14-3 12 4-15 6z"/>
<path fill="#77d" d="M6083 1312l14 21 12-152-15 54zm-144-72l15-27 11 83-14 5z"/>
<path fill="#66d" d="M6068 1325l15-13 11-77-14 174z"/>
<path fill="#338" d="M6054 1311l14 14 12 84-14-61z"/>
<path fill="#55f" d="M6040 1320l14-9 12 37-15 200z"/>
<path fill="#114" d="M6025 1338l15-18 11 228-14-207z"/>
<path fill="#66f" d="M6011 1315l14 23 12 3-15 121z"/>
<path fill="#446" d="M5968 1131l14 37 12 9-15-23zm-100 12l14 29 11 23-14-63zm-58 16l15 42 11-55-14 44zm-401-100l14-11 12-23-15 6zm-58 0l15 12 11-12-14 9zm-14 42l14-42 12 9-15-1zm-14 27l14-27 11-34-14 4zm-58-3l15 8 11-23-14 23zm-602-27l14-48 12-39-15 34z"/>
<path fill="#669" d="M5954 1213l14-82 11 23-14 142zm-660-81l14-11 12-39-15 13zm-14 1l14-1 11-37-14 15zm-215-4l14 12 11-20-14-12zm-15-2l15 2 11-20-14-1z"/>
<path fill="#559" d="M5911 1282l14 16 11-104-14 69zm-717-137l14-14 11 22-14 10zm-258-10l14 2 11-16-14-5zm-15 3l15-3 11-19-14-3zm-14-12l14 12 12-25-15-10z"/>
<path fill="#448" d="M5896 1227l15 55 11-19-14-59zm-932-84l15 5 11-12-14-9zm-14-6l14 6 12-16-15-6z"/>
<path fill="#77b" d="M5825 1201l14-16 11 2-14-41zm-933-86l15 11 11-23-14-17zm-14 2l14-2 12-29-14 3zm-14-15l14 15 12-28-15-20zm-15-19l15 19 11-33-14-21zm-14-15l14 15 12-35-14-14z"/>
<path fill="#889" d="M5782 1028l14 150 11-92-14-137z"/>
<path fill="#556" d="M5753 1014l14-25 12 132-15-117zm-14-95l14 95 11-10-14 60zm-15 97l15-97 11 145-14-79zm-186 80l14-55 12-80-15 35z"/>
<path fill="#ddd" d="M5681 985l15 2 11-70-14 23zm-14-9l14 9 12-45-15 8zm-14-9l14 9 11-28-14-10zm-15-8l15 8 11-29-14-7zm-43-6l15 0 11-28-14-7zm-28 26l14-3 11-37-14-2z"/>
<path fill="#bbb" d="M5624 946l14 13 12-28-15-3zm-14 7l14-7 11-18-14-3z"/>
<path fill="#778" d="M5581 976l14-23 12-35-15 21zm-29 65l15-62 11-42-14 24z"/>
<path fill="#ccf" d="M5524 1095l14 1 11-100-14 12zm-15 1l15-1 11-87-14 18z"/>
<path fill="#88b" d="M5480 1074l15 29 11-47-14-27zm-659-22l14 16 12-34-15-13zm-15-2l15 2 11-31-14 0zm-86-48l15 33 11-54-14-17zm-28 52l14-16 11-58-14 14z"/>
<path fill="#99b" d="M5466 1042l14 32 12-45-14-20zm-14 10l14-10 12-33-15 1zm-29-4l14 13 12-52-14 16zm-43 31l14-7 12-39-15 4z"/>
<path fill="#779" d="M5394 1072l15-13 11-28-14 2z"/>
<path fill="#668" d="M5366 1071l14 8 11-42-14 22z"/>
<path fill="#336" d="M5208 1131l14 16 12 6-15 0zm-43 19l14 2 12 4-15-4zm-14-5l14 5 11 2-14-4zm-43 10l14-5 11-5-14 9zm-29-14l14-5 12-4-15-11zm-57-14l14 19 11-38-14 9zm-15-5l15 5 11-10-14 9zm-28 26l14-23 11 7-14 4zm-330 5l14-55 11-53-14 39z"/>
<path fill="#334" d="M4706 1038l14-36 12-38-15 16z"/>
<path fill="#66b" d="M4634 1173l15-20 11-69-14 20z"/>
<path fill="#fee" d="M6459 1029l14 23 11-45-14-19z"/>
<path fill="#fdd" d="M6444 1013l15 16 11-41-14-13zm-14-11l14 11 12-38-15-13zm-14-2l14 2 11-40-14-11zm-15-14l15 14 11-49-14-13zm-86 22l15-16 11-76-14 28z"/>
<path fill="#fcc" d="M6387 992l14-6 12-48-15-5zm-14-6l14 6 11-59-14-17zm-15 8l15-8 11-70-14 1zm-14-16l14 16 12-77-15-2zm-14 14l14-14 11-63-14 1z"/>
<path fill="#dcc" d="M6301 1043l14-35 12-64-15 8z"/>
<path fill="#bbb" d="M6287 1095l14-52 11-91-14 38zm-560-107l15 70 11-44-14-95zm-14 11l14-11 12-69-15 97zm-115-22l14 4 12-35-14 7z"/>
<path fill="#ccd" d="M6272 1141l15-46 11-105-14 29zm-631-141l15 1 11-25-14-9z"/>
<path fill="#bbd" d="M6258 1172l14-31 12-122-15 41z"/>
<path fill="#ccf" d="M6244 1190l14-18 11-112-14 17zm-15 17l15-17 11-113-14 14z"/>
<path fill="#bbf" d="M6215 1225l14-18 12-116-15 1zm-15 13l15-13 11-133-14 31z"/>
<path fill="#aaf" d="M6186 1253l14-15 12-115-14 7z"/>
<path fill="#99d" d="M6172 1273l14-20 12-123-15 32zm-660-106l14 20 12-91-14-1zm-14-7l14 7 12-72-15 1zm-15-9l15 9 11-64-14 7zm-688-56l14-6 12-37-15-2zm-29 7l15 3 11-48-14-8zm-14-7l14 7 12-53-15-11zm-14-6l14 6 11-57-14-10zm-15-2l15 2 11-61-14 7z"/>
<path fill="#99f" d="M6157 1287l15-14 11-111-14 23z"/>
<path fill="#88d" d="M6143 1313l14-26 12-102-14 22zm-846-140l14 5 12-50-15-7zm-445-34l15 7 11-29-14-15zm-28-35l14 8 11-29-14-15zm-158-7l14 16 12-59-15-4z"/>
<path fill="#88f" d="M6129 1313l14 0 12-106-15 26z"/>
<path fill="#66b" d="M6114 1342l15-29 11-80-14 15z"/>
<path fill="#77d" d="M6100 1362l14-20 12-94-15 6z"/>
<path fill="#55b" d="M6086 1368l14-6 11-108-14 79zm-1463-133l14-17 12-65-15 20z"/>
<path fill="#66d" d="M6071 1366l15 2 11-35-14-21z"/>
<path fill="#226" d="M6057 1407l14-41 12-54-15 13z"/>
<path fill="#66f" d="M6043 1399l14 8 11-82-14-14zm-43 25l14-5 11-81-14-23z"/>
<path fill="#55d" d="M6028 1382l15 17 11-88-14 9z"/>
<path fill="#338" d="M6014 1419l14-37 12-62-15 18z"/>
<path fill="#449" d="M5985 1339l15 85 11-109-14-48zm-71-20l14 27 11-106-14 58z"/>
<path fill="#224" d="M5971 1170l14 169 12-72-15-99zm-86 67l14-29 12 74-15-55zm-574-59l15-35 11-42-14 27zm-57-56l14 25 12-14-15-8zm-14 18l14-18 11 3-14 14zm-43 4l14-4 11 7-14-16zm-58 9l15-2 11-1-14-5zm-28 8l14-4 11-6-14-1zm-15 2l15-2 11-11-14 5zm-28-12l14-1 11-14-14 5zm-43 30l14-20 11-34-14 19zm-29-61l14 18 12-11-15-5zm-29 21l14-9 12-7-14 23zm-29 6l15 3 11-7-14-6zm-14 4l14-4 12-10-14-2zm-14 1l14-1 12-16-15 3z"/>
<path fill="#334" d="M5957 1242l14-72 11-2-14-37zm-115-82l14-10 12-7-15-4zm-72-139l15 78 11 79-14-150zm-229 98l14-44 12-96-15 62zm-15 68l15-68 11-78-14 55z"/>
<path fill="#336" d="M5942 1353l15-111 11-111-14 82zm-43-145l15 111 11-21-14-16zm-674-56l15-12 11-1-14-1zm-14-12l14 12 12-14-15 9zm-29 14l15-10 11-13-14 14zm-14-3l14 3 12-9-15 7zm-14 0l14 0 11 1-14-2zm-29 6l14-4 12-8-15 6zm-115-19l15 43 11-35-14-19zm-29-6l15-12 11 2-14 3zm-28 18l14-9 12 7-15-5zm-301 9l14-62 11-47-14 48zm-15 59l15-59 11-61-14 55z"/>
<path fill="#77f" d="M5928 1346l14 7 12-140-15 27z"/>
<path fill="#669" d="M5871 1204l14 33 11-10-14-55zm-818-54l15 1 11-10-14-12zm-14 11l14-11 12-21-15-2zm-201-49l14 27 12-37-15-19z"/>
<path fill="#446" d="M5856 1150l15 54 11-32-14-29zm-57-100l14 118 12 33-15-42zm-473 93l14-64 11-20-14 42zm-631-47l14-47 11-47-14 36z"/>
<path fill="#558" d="M5828 1144l14 16 11-21-14 46zm-560 3l15 19 11-34-14 1z"/>
<path fill="#77b" d="M5813 1168l15-24 11 41-14 16zm-530-2l14 7 11-52-14 11zm-402-28l14 6 12-18-15-11zm-72-49l15 15 11-36-14-16zm-28 16l14-10 11-45-14 7zm-101 8l15-17 11-58-14 16z"/>
<path fill="#88b" d="M5785 1099l14-49 11 109-14 19zm-316 22l14 30 12-48-15-29zm-72-16l15-9 11-48-14 11zm-14 5l14-5 12-46-15 13zm-674-61l14 38 12-52-15-33z"/>
<path fill="#999" d="M5756 1042l14-21 12 7-15-39zm-57-89l14 46 11 17-14-16zm-115 43l14-19 12-24-15 0z"/>
<path fill="#889" d="M5742 1058l14-16 11-53-14 25z"/>
<path fill="#778" d="M5684 1067l15-114 11 47-14-13zm-28-66l14-10 11-6-14-9z"/>
<path fill="#556" d="M5670 991l14 76 12-80-15-2zm-101 31l15-26 11-43-14 23zm-14 53l14-53 12-46-14 3z"/>
<path fill="#ddd" d="M5627 987l14 13 12-33-15-8zm-15-6l15 6 11-28-14-13z"/>
<path fill="#779" d="M5455 1078l14 43 11-47-14-32zm-86 47l14-15 11-38-14 7zm-15-29l15 29 11-46-14-8zm-14-17l14 17 12-25-15-12z"/>
<path fill="#99b" d="M5440 1080l15-2 11-36-14 10zm-28 16l14-10 11-25-14-13z"/>
<path fill="#668" d="M5426 1086l14-6 12-28-15 9z"/>
<path fill="#448" d="M5082 1150l14 13 12-8-15-19z"/>
<path fill="#559" d="M4895 1144l15 8 11-14-14-12zm-28 2l14-8 11-23-14 2z"/>
<path fill="#fff" d="M6447 1084l15 4 11-36-14-23zm-143 4l14-7 12-89-15 16z"/>
<path fill="#fee" d="M6433 1070l14 14 12-55-15-16zm-14-14l14 14 11-57-14-11zm-15 3l15-3 11-54-14-2zm-14-2l14 2 12-59-15-14zm-14 7l14-7 11-71-14 6zm-15-1l15 1 11-72-14-6zm-14-10l14 10 12-77-15 8zm-15 4l15-4 11-59-14-16zm-14 24l14-24 12-79-14 14z"/>
<path fill="#eef" d="M6289 1128l15-40 11-80-14 35z"/>
<path fill="#889" d="M6275 1167l14-39 12-85-14 52zm-530-100l14 54 11-100-14 21z"/>
<path fill="#668" d="M6261 1224l14-57 12-72-15 46zm-430-120l14 24 11 22-14 10zm-43 6l14 113 11-55-14-118zm-15-39l15 39 11-60-14 49zm-14 50l14-50 12 28-15-78zm-215-10l14-48 11-41-14 53z"/>
<path fill="#bbf" d="M6246 1252l15-28 11-83-14 31z"/>
<path fill="#aaf" d="M6232 1261l14-9 12-80-14 18zm-14 14l14-14 12-71-15 17z"/>
<path fill="#88d" d="M6203 1301l15-26 11-68-14 18zm-14 12l14-12 12-76-15 13zm-688-89l14 20 11-57-14-20zm-230-18l15 1 11-34-14-7zm-516-66l14 7 12-42-15-3zm-14-8l14 8 11-38-14-7zm-15-7l15 7 11-37-14-6zm-14 7l14-7 12-36-15-2zm-14-18l14 18 11-45-14-38zm-43 30l14 8 11-39-14-16z"/>
<path fill="#77d" d="M6175 1329l14-16 11-75-14 15zm-15 15l15-15 11-76-14 20zm-14 16l14-16 12-71-15 14zm-258-36l14 26 12-31-15-111z"/>
<path fill="#66d" d="M6132 1374l14-14 11-73-14 26zm-15 13l15-13 11-61-14 0z"/>
<path fill="#55b" d="M6103 1410l14-23 12-74-15 29z"/>
<path fill="#55d" d="M6089 1415l14-5 11-68-14 20zm-15 10l15-10 11-53-14 6zm-14 3l14-3 12-57-15-2zm-86-47l14 1 12 42-15-85z"/>
<path fill="#114" d="M6046 1479l14-51 11-62-14 41z"/>
<path fill="#55f" d="M6031 1472l15 7 11-72-14-8z"/>
<path fill="#44b" d="M6017 1443l14 29 12-73-15-17zm-1405-160l14-9 11-56-14 17z"/>
<path fill="#339" d="M6003 1450l14-7 11-61-14 37z"/>
<path fill="#226" d="M5988 1382l15 68 11-31-14 5zm-1362-108l14-67 12-48-15 59z"/>
<path fill="#66b" d="M5960 1292l14 89 11-42-14-169zm-674-85l14 11 11-40-14-5zm-402-26l14-6 12-23-15-8zm-43-14l14 1 12-22-15-7z"/>
<path fill="#336" d="M5945 1348l15-56 11-122-14 72zm-14-33l14 33 12-106-15 111zm-14-29l14 29 11 38-14-7zm-15 64l15-64 11 60-14-27zm-602-132l14-39 12-36-15 35zm-43-62l14 50 12-40-15-19zm-100 5l14-18 11 11-14-3zm-72 13l14 5 12-18-15 2zm-29-12l14-18 12 6-14 1zm-100-4l14-20 11-6-14 9zm-316 49l15-63 11-47-14 62z"/>
<path fill="#448" d="M5874 1268l14 56 11-116-14 29zm-760-98l14 15 11-32-14 4zm-101 34l14-4 12-39-14 20zm-14-47l14 47 12-23-15-43zm-72 6l14 4 12-17-15-3zm-258-11l14-15 12-41-15 17z"/>
<path fill="#224" d="M5859 1186l15 82 11-31-14-33zm-616-58l14 28 11-9-14-25zm-15 17l15-17 11-6-14 18zm-14 1l14-1 12-5-15 12zm-14 5l14-5 11 6-14-12zm-15 4l15-4 11-11-14 4zm-43 11l15-5 11-10-14 0zm-14 19l14-19 12-15-15 2zm-29-6l15-9 11-13-14 4zm-29-35l15 30 11-11-14-13zm-28 29l14-11 12-11-15-1zm-15 27l15-27 11-23-14 11zm-43-76l15 33 11-19-14-18zm-43 43l15-9 11-17-14 9zm-28-1l14-3 11-16-14 4zm-15 9l15-9 11-15-14 1zm-43-7l15-10 11-20-14 8zm-172-31l15-23 11-65-14 47z"/>
<path fill="#334" d="M5845 1128l14 58 12 18-15-54zm-29 45l15-69 11 56-14-16zm-416-48l15-13 11-26-14 10zm-28 16l14-14 11-22-14 5zm-15 21l15-21 11-31-14 15zm-28-87l14 37 11-16-14-17zm-15 104l15-104 11 4-14 64z"/>
<path fill="#446" d="M5802 1223l14-50 12-29-15 24zm-273-55l15-57 11-36-14 44zm-14 76l14-76 12-49-15 68zm-172-132l14 50 12-37-15-29zm-172 31l14 12 12-11-15 10zm-201-5l14-14 12-4-15 12z"/>
<path fill="#778" d="M5730 1012l15 55 11-25-14 16zm-29-10l15 3 11-17-14 11zm-71 20l14-19 12-2-15-1zm-58 13l15-28 11-30-14 19z"/>
<path fill="#bbb" d="M5716 1005l14 7 12 46-15-70zm-43 22l14-30 12-44-15 114z"/>
<path fill="#ddd" d="M5687 997l14 5 12-3-14-46z"/>
<path fill="#ccd" d="M5658 1028l15-1 11 40-14-76zm-43-14l15 8 11-22-14-13z"/>
<path fill="#556" d="M5644 1003l14 25 12-37-14 10zm-86 60l14-28 12-39-15 26z"/>
<path fill="#999" d="M5601 996l14 18 12-27-15-6zm-14 11l14-11 11-15-14-4z"/>
<path fill="#77b" d="M5486 1204l15 20 11-57-14-7zm-14-18l14 18 12-44-15-9zm-14-27l14 27 11-35-14-30zm-646-32l15 15 11-30-14-8zm-14-7l14 7 12-23-15-15z"/>
<path fill="#779" d="M5443 1112l15 47 11-38-14-43zm-57 15l14-2 12-29-15 9z"/>
<path fill="#88b" d="M5429 1110l14 2 12-34-15 2zm-14 2l14-2 11-30-14 6z"/>
<path fill="#559" d="M4870 1158l14 23 11-37-14-6zm-43-16l14 25 11-28-14-27z"/>
<path fill="#669" d="M4784 1131l14-11 11-31-14 6zm-15 16l15-16 11-36-14 10z"/>
<path fill="#eef" d="M6436 1144l14 20 12-76-15-4zm-15-17l15 17 11-60-14-14zm-14-9l14 9 12-57-14-14zm-14 1l14-1 12-62-15 3zm-15 4l15-4 11-60-14-2zm-14 6l14-6 12-66-14 7zm-14-3l14 3 12-65-15-1zm-15 0l15 0 11-63-14-10zm-14-4l14 4 12-73-15 4zm-14 15l14-15 11-65-14 24z"/>
<path fill="#ddf" d="M6292 1152l15-15 11-56-14 7z"/>
<path fill="#aab" d="M6278 1192l14-40 12-64-15 40zm-631-139l14-4 12-22-15 1zm-29-5l15 23 11-68-14 19zm-14-7l14 7 12-26-15-8z"/>
<path fill="#aad" d="M6264 1214l14-22 11-64-14 39z"/>
<path fill="#99d" d="M6249 1252l15-38 11-47-14 57zm-459-81l15-25 11 27-14 50zm-372-21l14-3 11-35-14-2zm-15 4l15-4 11-40-14 2z"/>
<path fill="#77b" d="M6235 1281l14-29 12-28-15 28zm-789-95l15 15 11-15-14-27zm-215-28l15 20 11-22-14-28zm-72 21l15-4 11-20-14-12zm-100-3l14 18 12-20-15-30zm-258-15l14 8 12-27-15-15zm-86-6l14 21 12-44-15-7z"/>
<path fill="#669" d="M6221 1297l14-16 11-29-14 9zm-789-150l14 39 12-27-15-47zm-459 0l14 23 12-13-15-33zm-201 21l15-12 11-36-14 11zm-71-13l14 0 11-30-14 7z"/>
<path fill="#88d" d="M6206 1302l15-5 11-36-14 14zm-1419-146l14 5 11-34-14-7z"/>
<path fill="#448" d="M6192 1329l14-27 12-27-15 26zm-43 41l14-8 12-33-15 15zm-674-151l14 20 12-15-15-20zm-229-41l14 60 11-32-14-50zm-402 8l14 1 12-29-15 10z"/>
<path fill="#336" d="M6178 1339l14-10 11-28-14 12zm-273-74l15 44 11 6-14-29zm-14 73l14-73 12 21-15 64zm-14-44l14 44 11 12-14-26zm-588-35l14-46 11-34-14 39zm-158-77l14-1 12-20-15 5zm-15 3l15-3 11-16-14 19zm-86 13l15-24 11-12-14 11zm-14 36l14-36 12-25-15 27zm-29-64l15 55 11-21-14-47zm-43 4l15-18 11-18-14 20zm-57 18l14-17 12-9-15 9zm-57 7l14-13 11-18-14-1zm-158-34l14-47 12-4-15 23zm-43 75l14-63 12-33-15 63z"/>
<path fill="#224" d="M6163 1362l15-23 11-26-14 16zm-28 19l14-11 11-26-14 16zm-15 15l15-15 11-21-14 14zm-172-168l15 183 11-30-14-89zm-28 81l14-97 11 136-14-33zm-58-39l15 24 11 30-14-56zm-358-14l14-85 11-3-14 76zm-158-64l14-21 12-30-15 21zm-129-28l14-6 12-30-15 17zm-115 28l14-7 12 0-14-15zm-14-4l14 4 12-22-15 9zm-15 6l15-6 11-9-14-5zm-28-20l14 2 11-32-14 18zm-86-18l14-9 11-23-14 14zm-29 19l14-1 12-16-15 9zm-14 7l14-7 11-8-14-4zm-15-7l15 7 11-19-14 3zm-28 16l14 1 11-17-14 6zm-187-73l15 37 11-23-14-18zm-28 60l14-13 11-28-14 15z"/>
<path fill="#226" d="M6106 1425l14-29 12-22-15 13zm-29 8l15-14 11-9-14 5zm-28 15l14-21 11-2-14 3zm-29 17l14 9 12 5-15-7zm-14 19l14-19 11 7-14-29zm-15-82l15 82 11-41-14 7zm-1376-91l14-71 11-33-14 67z"/>
<path fill="#114" d="M6092 1419l14 6 11-38-14 23zm-29 8l14 6 12-18-15 10zm-29 47l15-26 11-20-14 51z"/>
<path fill="#338" d="M5977 1415l14-13 12 48-15-68z"/>
<path fill="#44b" d="M5963 1411l14 4 11-33-14-1zm-1363-96l15-4 11-37-14 9z"/>
<path fill="#99f" d="M5934 1212l14 16 12 64-15 56z"/>
<path fill="#558" d="M5848 1213l14 57 12-2-15-82zm-387-12l14 18 11-15-14-18zm-259-31l15-6 11-19-14 1zm-14 4l14-4 12-24-14 5zm-14 1l14-1 12-23-15 4zm-29 6l14-2 12-36-14 18z"/>
<path fill="#334" d="M5834 1131l14 82 11-27-14-58zm-15-35l15 35 11-3-14-24zm-43-40l14 115 12 52-14-113zm-244 73l15-53 11-13-14 48zm-14 42l14-42 12-18-15 57zm-215 42l14-115 12-23-15 104z"/>
<path fill="#668" d="M5805 1146l14-50 12 8-15 69zm-43-26l14-64 12 54-15-39zm-15-39l15 39 11-49-14 50zm-200-5l14-18 11-23-14 28z"/>
<path fill="#556" d="M5733 1069l14 12 12 40-14-54z"/>
<path fill="#ccd" d="M5719 1090l14-21 12-2-15-55zm-86-19l14-18 11-25-14-25zm-43-39l14 9 11-27-14-18z"/>
<path fill="#999" d="M5704 1023l15 67 11-78-14-7zm-43 26l15-37 11-15-14 30z"/>
<path fill="#778" d="M5690 1009l14 14 12-18-15-3zm-14 3l14-3 11-7-14-5zm-115 46l14-21 12-30-15 28z"/>
<path fill="#bbb" d="M5575 1037l15-5 11-36-14 11z"/>
<path fill="#559" d="M5489 1239l15 17 11-12-14-20zm-487-14l14 9 11-34-14 4zm-187-56l15 30 11-32-14-25zm-57 4l14-5 12-37-15 16z"/>
<path fill="#88b" d="M5389 1165l14-11 12-42-15 13zm-14-6l14 6 11-40-14 2z"/>
<path fill="#446" d="M5360 1171l15-12 11-32-14 14zm-28-40l14 61 11-30-14-50z"/>
<path fill="#779" d="M5317 1098l15 33 11-19-14-37z"/>
<path fill="#77d" d="M5274 1247l15 12 11-41-14-11zm-545-71l15 5 11-41-14-8z"/>
<path fill="#66b" d="M5260 1238l14 9 12-40-15-1zm-402-51l15 4 11-10-14-23zm-114-6l14-8 11-26-14-7zm-101-4l15 1 11-26-14-8z"/>
<path fill="#ccf" d="M6424 1205l15 19 11-60-14-20zm-143 18l14-25 12-61-15 15zm-14 8l14-8 11-71-14 40zm-502-79l14 11 11 8-14-115z"/>
<path fill="#ddf" d="M6410 1185l14 20 12-61-15-17zm-14-5l14 5 11-58-14-9zm-15-4l15 4 11-62-14 1zm-14 1l14-1 12-57-15 4zm-14 13l14-13 11-54-14 6zm-15-17l15 17 11-61-14-3zm-14 8l14-8 12-47-15 0zm-14 2l14-2 11-55-14-4zm-15 15l15-15 11-61-14 15z"/>
<path fill="#aad" d="M6252 1247l15-16 11-39-14 22z"/>
<path fill="#aaf" d="M6238 1277l14-30 12-33-15 38z"/>
<path fill="#88d" d="M6224 1291l14-14 11-25-14 29zm-1033-74l14-4 12-49-15 6zm-14-4l14 4 11-47-14 4zm-43 5l14 4 11-43-14 2zm-15 0l15 0 11-37-14 1z"/>
<path fill="#77b" d="M6209 1308l15-17 11-10-14 16zm-989-106l14 28 12-52-15-20zm-15 11l15-11 11-44-14 6zm-43-7l15 7 11-39-14 1zm-57 14l14-2 12-36-15 3zm-72-13l15 4 11-35-14-2zm-258-20l15 3 11-29-14-5z"/>
<path fill="#559" d="M6195 1331l14-23 12-11-15 5zm-961-101l14 53 12-45-14-60zm-143 0l14-10 11-35-14 7zm-258-22l14-2 11-19-14-1zm-29-13l14 20 12-16-15-30z"/>
<path fill="#448" d="M6181 1348l14-17 11-29-14 27zm-316-35l14 38 12-13-14-44zm-875-76l15 25 11-28-14-9zm-14-46l14 46 12-12-15-55zm-115 13l15 6 11-18-14-1zm-14 2l14-2 12-13-15-4zm-86-16l14-3 12-31-15 12z"/>
<path fill="#224" d="M6166 1359l15-11 11-19-14 10zm-71 61l14-10 11-14-14 29zm-158-175l14 159 12 7-15-183zm-29 58l14-108 12 17-14 97zm-14-34l14 34 12 6-15-44zm-15 82l15-82 11-4-14 73zm-43-150l15 118 11-49-14-57zm-344 53l15-56 11-27-14 85zm-14-17l14 17 12 2-15-17zm-14-10l14 10 11 2-14-20zm-15-25l15 25 11-8-14-18zm-158 49l15-106 11-47-14 115zm-372-54l14-11 11-12-14 1zm-43 13l14-6 11-29-14 17zm-58 5l15-7 11-22-14 13zm-71-1l14-24 11-22-14 5zm-87-46l15-19 11-31-14 47z"/>
<path fill="#336" d="M6152 1374l14-15 12-20-15 23zm-14 12l14-12 11-12-14 8zm-15 12l15-12 11-16-14 11zm-846-110l14-37 12-38-14 46zm-258-54l14-27 12-33-15 24zm-14 28l14-28 11-36-14 36zm-43-103l14 32 11-21-14-23zm-29 27l14-10 12-20-15 18zm-29 14l15-3 11-22-14 7zm-258 10l14-42 12-3-14 13zm-29 68l15-68 11-33-14 63z"/>
<path fill="#226" d="M6109 1410l14-12 12-17-15 15zm-29 6l15 4 11 5-14-6zm-14 31l14-31 12 3-15 14zm-14-11l14 11 11-14-14-6zm-43 38l14-15 11 15-14-9z"/>
<path fill="#114" d="M6037 1455l15-19 11-9-14 21zm-43-3l15 22 11-9-14 19zm-43-48l15 50 11-39-14-4zm-1348-73l14-53 12-38-14 71zm-14 12l14-12 12-20-15 4z"/>
<path fill="#338" d="M6023 1459l14-4 12-7-15 26z"/>
<path fill="#55d" d="M5980 1447l14 5 12 32-15-82z"/>
<path fill="#44b" d="M5966 1454l14-7 11-45-14 13z"/>
<path fill="#334" d="M5922 1195l15 50 11-17-14-16zm-100-68l14 74 12 12-14-82zm-29 40l15-9 11-62-14 50zm-43-63l15 48 11-96-14 64zm-229 32l14-29 12-31-15 53zm-14 62l14-62 11-7-14 42z"/>
<path fill="#77d" d="M5851 1319l14-6 12-19-15-24zm-588-36l14 5 12-29-15-12zm-15 0l15 0 11-36-14-9z"/>
<path fill="#556" d="M5808 1158l14-31 12 4-15-35zm-172-76l14-19 11-14-14 4zm-15 3l15-3 11-29-14 18z"/>
<path fill="#446" d="M5779 1163l14 4 12-21-15 25zm-344 49l14-10 12-1-15-15zm-488-36l15-17 11-12-14 9z"/>
<path fill="#aab" d="M5736 1107l14-3 12 16-15-39zm-43-61l14 13 12 31-15-67zm-86 27l14 12 12-14-15-23zm-43-10l14 4 12-35-15 5z"/>
<path fill="#889" d="M5722 1086l14 21 11-26-14-12z"/>
<path fill="#778" d="M5707 1059l15 27 11-17-14 21zm-157 20l14-16 11-26-14 21z"/>
<path fill="#ddd" d="M5679 1046l14 0 11-23-14-14z"/>
<path fill="#999" d="M5664 1078l15-32 11-37-14 3zm-14-15l14 15 12-66-15 37z"/>
<path fill="#ccd" d="M5593 1070l14 3 11-25-14-7zm-15-3l15 3 11-29-14-9z"/>
<path fill="#668" d="M5535 1107l15-28 11-21-14 18z"/>
<path fill="#99d" d="M5421 1194l14 18 11-26-14-39z"/>
<path fill="#88b" d="M5406 1182l15 12 11-47-14 3zm-14 0l14 0 12-32-15 4zm-86-37l14 23 12-37-15-33z"/>
<path fill="#558" d="M5378 1186l14-4 11-28-14 11zm-29 31l14-18 12-40-15 12z"/>
<path fill="#669" d="M5363 1199l15-13 11-21-14-6zm-28 28l14-10 11-46-14 21zm-15-59l15 59 11-35-14-61zm-172 54l14-16 12-31-15 4zm-473-73l14 31 12-25-15-37z"/>
<path fill="#66b" d="M5076 1222l15 8 11-38-14-4zm-14 3l14-3 12-34-15 6zm-14-14l14 14 11-31-14-18zm-158-7l14-4 12-18-15-7zm-100-14l14 5 11-26-14-8zm-58 22l15 2 11-41-14 8zm-14-10l14 10 12-31-15-5zm-14-17l14 17 11-26-14-21zm-15-5l15 5 11-30-14 0zm-57 30l14 0 12-32-15-1z"/>
<path fill="#bbf" d="M6413 1273l14 34 12-83-15-19zm-143-1l14-18 11-56-14 25zm-15-1l15 1 11-49-14 8z"/>
<path fill="#ccf" d="M6399 1252l14 21 11-68-14-20zm-15-5l15 5 11-67-14-5zm-14 4l14-4 12-67-15-4zm-14 18l14-18 11-75-14 1zm-15-32l15 32 11-92-14 13zm-14 11l14-11 12-47-15-17zm-14 0l14 0 11-75-14 8zm-15-3l15 3 11-67-14 2zm-14 9l14-9 12-62-15 15z"/>
<path fill="#aaf" d="M6241 1287l14-16 12-40-15 16z"/>
<path fill="#77b" d="M6227 1304l14-17 11-40-14 30zm-15 19l15-19 11-27-14 14zm-817-104l14 17 12-42-15-12zm-29 1l14-3 12-35-14 4zm-57 9l14 45 12-47-15-59zm-359-34l15 21 11-25-14-32zm-287-9l15 17 11-23-14-31z"/>
<path fill="#669" d="M6198 1345l14-22 12-32-15 17zm-760-122l14 0 12 4-15-25zm-29 13l15-16 11-8-14-18zm-72 7l15-2 11-42-14 18zm-415-28l14-6 11-33-14 10z"/>
<path fill="#559" d="M6184 1349l14-4 11-37-14 23zm-961-93l14 39 11-12-14-53zm-244 6l14 34 12-34-15-25zm-143-31l14-3 11-24-14 2zm-15-6l15 6 11-25-14 2zm-72 4l15-12 11-30-14 3zm-57-19l14 27 12-35-14-17z"/>
<path fill="#448" d="M6169 1365l15-16 11-18-14 17zm-244-91l15 93 11 37-14-159zm-688 21l14 17 12-29-15 0zm-272-79l14 46 11-25-14-46zm-58 2l15-3 11-29-14 11zm-14 3l14-3 12-21-15 3zm-14 3l14-3 11-21-14 4z"/>
<path fill="#336" d="M6155 1377l14-12 12-17-15 11zm-14 13l14-13 11-18-14 15zm-15 9l15-9 11-16-14 12zm-14 17l14-17 12-13-15 12zm-258-134l14 60 11 9-14-38zm-387-46l14 6 11 12-14-17zm-15-13l15 13 11 1-14-10zm-172 62l14-72 12-68-15 106zm-14 37l14-37 11-34-14 37zm-273-26l15-30 11-32-14 28zm-57-87l14-14 12-36-15 17zm-86 19l14-8 12-10-15-6zm-215 6l14-23 11-43-14 42z"/>
<path fill="#226" d="M6098 1432l14-16 11-18-14 12zm-72 39l14-2 12-33-15 19zm-29-31l14 43 12-24-14 15zm-57-73l14 58 12 29-15-50zm-1334-59l14-34 12-64-15 68zm-14 43l14-43 11-30-14 53z"/>
<path fill="#224" d="M6083 1441l15-9 11-22-14 10zm-186-133l14-65 11-48-14 108zm-15 68l15-68 11-5-14-34zm-14-34l14 34 12-107-15 82zm-29-117l15 57 11 31-14 6zm-415-5l14 3 11-21-14 10zm-72 21l14-21 12-34-15 13zm-29 33l14-31 12-26-14 10zm-315-8l14-18 11-41-14 27zm-144-46l15 4 11-20-14 6zm-57 9l14-4 12-17-15 7zm-72 13l14-13 12-39-14 24zm-86-31l14-25 12-37-15 19zm-29 63l15-40 11-24-14 0z"/>
<path fill="#338" d="M6069 1459l14-18 12-21-15-4z"/>
<path fill="#114" d="M6055 1461l14-2 11-43-14 31zm-44 22l15-12 11-16-14 4zm-28-48l14 5 12 34-15-22zm-15-8l15 8 11 17-14-5zm-1391-81l15 5 11-20-14 12z"/>
<path fill="#339" d="M6040 1469l15-8 11-14-14-11z"/>
<path fill="#44b" d="M5954 1425l14 2 12 20-14 7z"/>
<path fill="#88b" d="M5911 1243l14 31 12-29-15-50z"/>
<path fill="#334" d="M5825 1205l14 20 12 94-15-118zm-86-114l14 45 12 16-15-48zm-244 103l15-43 11-15-14 62z"/>
<path fill="#aad" d="M5811 1197l14 8 11-4-14-74z"/>
<path fill="#668" d="M5796 1168l15 29 11-70-14 31zm-43-32l15 33 11-6-14-11zm-229-11l14-13 12-33-15 28zm-14 26l14-26 11-18-14 29z"/>
<path fill="#446" d="M5782 1157l14 11 12-10-15 9zm-14 12l14-12 11 10-14-4zm-287 73l14-48 12 4-15 56z"/>
<path fill="#778" d="M5725 1094l14-3 11 13-14 3zm-72 1l14-12 12-37-15 32zm-29 13l15-25 11-20-14 19z"/>
<path fill="#556" d="M5710 1102l15-8 11 13-14-21zm-172 10l15-18 11-31-14 16z"/>
<path fill="#aab" d="M5696 1085l14 17 12-16-15-27zm-57-2l14 12 11-17-14-15zm-29 30l14-5 12-26-15 3z"/>
<path fill="#ccd" d="M5682 1085l14 0 11-26-14-13zm-15-2l15 2 11-39-14 0zm-86 17l15 10 11-37-14-3zm-14 0l14 0 12-30-15-3zm-14-6l14 6 11-33-14-4z"/>
<path fill="#bbd" d="M5596 1110l14 3 11-28-14-12z"/>
<path fill="#99d" d="M5380 1217l15 2 11-37-14 0zm-86-4l15 16 11-61-14-23z"/>
<path fill="#55b" d="M5251 1312l15 10 11-34-14-5z"/>
<path fill="#88d" d="M5208 1251l15 5 11-26-14-28z"/>
<path fill="#66b" d="M5194 1270l14-19 12-49-15 11zm-115-8l15-6 11-36-14 10zm-14-8l14 8 12-32-15-8zm-14 4l14-4 11-32-14 3zm-259-33l15 4 11-14-14-20zm-14 7l14-7 12-30-14-5zm-14-15l14 15 12-42-15-3zm-43 18l14 7 12-28-15-2zm-15 2l15-2 11-23-14-10zm-28-34l14 7 12-25-15-5z"/>
<path fill="#77d" d="M5180 1261l14 9 11-57-14 4zm-15 6l15-6 11-44-14-4zm-14 1l14-1 12-54-15-7zm-14-2l14 2 11-62-14 16zm-15 2l15-2 11-44-14-4zm-14-4l14 4 12-50-15 0zm-14-8l14 8 11-46-14 2zm-58-7l15 9 11-33-14-14zm-14-1l14 1 12-38-15-4z"/>
<path fill="#aaf" d="M6402 1344l14 35 11-72-14-34zm-15-24l15 24 11-71-14-21zm-114-5l14-12 11-58-14 9zm-15 16l15-16 11-61-14 18zm-14-16l14 16 12-59-15-1zm-14 4l14-4 11-44-14 16z"/>
<path fill="#bbf" d="M6373 1321l14-1 12-68-15-5zm-14-14l14 14 11-74-14 4zm-15-1l15 1 11-56-14 18zm-14 3l14-3 12-37-15-32zm-14-6l14 6 11-72-14 11zm-15 14l15-14 11-55-14 0zm-14-14l14 14 12-69-15-3z"/>
<path fill="#77b" d="M6215 1335l15-16 11-32-14 17zm-14 8l14-8 12-31-15 19zm-14 4l14-4 11-20-14 22zm-818-98l14 12 12-42-15-2zm-14 0l14 0 11-32-14 3zm-416-21l14 17 12-29-15-21z"/>
<path fill="#559" d="M6172 1367l15-20 11-2-14 4zm-1219-122l15 32 11-15-14-46zm-86 1l14 2 12-27-14 3zm-72-1l15 16 11-36-14 4zm-114-12l14 32 11-28-14-27z"/>
<path fill="#448" d="M6158 1382l14-15 12-18-15 16zm-14 4l14-4 11-17-14 12zm-302-89l15 24 11 21-14-60zm-516-12l14-16 12-28-15 2zm-358-8l14 29 11-10-14-34zm-43-44l14-5 11-33-14 14zm-15 7l15-7 11-24-14 6zm-14-6l14 6 12-25-15 3zm-115 20l14-9 12-16-15-4zm-14-6l14 6 11-29-14 7zm-43 9l14 4 11-32-14 13zm-15 12l15-12 11-15-14-7z"/>
<path fill="#336" d="M6129 1408l15-22 11-9-14 13zm-29 26l15-13 11-22-14 17zm-186-143l14 106 12-30-15-93zm-57 30l14-73 11 128-14-34zm-459-49l14-31 12-21-15 16zm-129 72l14-65 11-66-14 72zm-431-102l15 1 11-23-14 8zm-100 19l14-13 12-31-15 12z"/>
<path fill="#224" d="M6115 1421l14-13 12-18-15 9zm-58 42l15-18 11-4-14 18zm-100-50l14 5 12 17-15-8zm-14 2l14-2 11 14-14-2zm-58-173l15 40 11-39-14 65zm-430-13l14-1 12 14-14-6zm-14 8l14-8 12 7-15-13zm-15-3l15 3 11-14-14 0zm-14 7l14-7 12-11-14-3zm-72 28l15-20 11-29-14 21zm-28 25l14-9 11-42-14 31zm-316 15l15-23 11-38-14 18zm-14-3l14 3 12-43-15 30zm-101-58l15-14 11-16-14 3zm-57 8l14-14 12-14-14 3zm-186-5l14-24 11-41-14 25zm-15-11l15 11 11-40-14 23zm-14 53l14-53 12-6-15 40z"/>
<path fill="#226" d="M6086 1436l14-2 12-18-14 16zm-14 9l14-9 12-4-15 9zm-29 10l14 8 12-4-14 2zm-29 18l15-10 11 6-14 2zm-28-43l14 22 11 31-14-43zm-15-12l15 12 11 10-14-5zm-1376-91l14-34 11-19-14 34zm-15 75l15-75 11-19-14 43z"/>
<path fill="#114" d="M6029 1463l14-8 12 6-15 8zm-29-11l14 21 12-2-15 12z"/>
<path fill="#55b" d="M5928 1397l15 18 11 10-14-58z"/>
<path fill="#99d" d="M5900 1282l14 9 11-17-14-31z"/>
<path fill="#99f" d="M5871 1248l14-6 12 66-15 68z"/>
<path fill="#669" d="M5828 1257l14 40 12-15-15-57z"/>
<path fill="#558" d="M5814 1220l14 37 11-32-14-20zm-345 8l15-33 11-1-14 48z"/>
<path fill="#446" d="M5799 1174l15 46 11-15-14-8z"/>
<path fill="#668" d="M5785 1158l14 16 12 23-15-29zm-14 16l14-16 11 10-14-11zm-15-11l15 11 11-17-14 12zm-14-16l14 16 12 6-15-33zm-244 20l14-20 12-22-14 26z"/>
<path fill="#bbd" d="M5728 1144l14 3 11-11-14-45zm-86-3l14-7 11-51-14 12zm-15 6l15-6 11-46-14-12zm-14-8l14 8 12-64-15 25z"/>
<path fill="#ccd" d="M5713 1141l15 3 11-53-14 3zm-57-7l14 10 12-59-15-2z"/>
<path fill="#889" d="M5699 1118l14 23 12-47-15 8zm-14-20l14 20 11-16-14-17z"/>
<path fill="#778" d="M5670 1144l15-46 11-13-14 0z"/>
<path fill="#aab" d="M5599 1140l14-1 11-31-14 5zm-29-16l14 20 12-34-15-10zm-14 1l14-1 11-24-14 0zm-15 2l15-2 11-25-14-6z"/>
<path fill="#99b" d="M5584 1144l15-4 11-27-14-3z"/>
<path fill="#556" d="M5527 1138l14-11 12-33-15 18z"/>
<path fill="#334" d="M5512 1147l15-9 11-26-14 13zm-28 48l14-28 12-16-15 43z"/>
<path fill="#88d" d="M5383 1261l15 11 11-36-14-17zm-100 18l14-11 12-39-15-16z"/>
<path fill="#66b" d="M5297 1268l15 26 11-20-14-45zm-444-25l14 3 12-22-15-4zm-43 18l14-5 12-25-15-6zm-58-13l15 0 11-16-14-15zm-57 17l14 4 12-34-15 2zm-29-37l15 5 11-23-14-7z"/>
<path fill="#449" d="M5254 1350l15-6 11-59-14 37zm-14-18l14 18 12-28-15-10z"/>
<path fill="#66d" d="M5226 1333l14-1 11-20-14-17z"/>
<path fill="#77d" d="M5211 1317l15 16 11-38-14-39zm-14 3l14-3 12-61-15-5zm-14 13l14-13 11-69-14 19zm-15-5l15 5 11-63-14-9zm-14 1l14-1 12-67-15 6zm-14-7l14 7 11-62-14 1zm-15-12l15 12 11-54-14-2zm-14 7l14-7 12-44-15 2zm-14-6l14 6 11-49-14-4zm-15-6l15 6 11-47-14-8zm-14-2l14 2 12-49-15 6zm-14-3l14 3 11-41-14-8zm-15 0l15 0 11-46-14 4zm-14-5l14 5 12-42-15-9zm-14-9l14 9 11-46-14-1zm-359-59l14 1 12-25-15-17z"/>
<path fill="#33b" d="M4566 1428l14-26 12-51-15-5z"/>
<path fill="#88f" d="M6390 1400l15 57 11-78-14-35z"/>
<path fill="#99f" d="M6376 1380l14 20 12-56-15-24zm-14 1l14-1 11-60-14 1zm-15-11l15 11 11-60-14-14zm-57 1l14-3 12-65-15 14zm-14-9l14 9 11-54-14-14zm-15 3l15-3 11-59-14 12zm-14 5l14-5 12-50-15 16zm-15 6l15-6 11-39-14-16zm-14-23l14 23 12-61-14 4zm-14 5l14-5 12-34-15 16zm-29 11l14-2 12-24-14 4z"/>
<path fill="#aaf" d="M6333 1371l14-1 12-63-15-1zm-14-5l14 5 11-65-14 3zm-15 2l15-2 11-57-14-6z"/>
<path fill="#77b" d="M6189 1367l15-9 11-23-14 8zm-301-61l15 12 11-27-14-9zm-14-25l14 25 12-24-15-40zm-502 13l14 13 12-35-15-11z"/>
<path fill="#559" d="M6161 1386l14-17 12-22-15 20zm-215 4l14 0 11 28-14-5zm-15-6l15 6 11 23-14 2zm-602-78l14-12 12-45-15 20zm-387-35l14 23 12-17-15-32zm-43-7l14 0 12-31-15 7zm-158 20l14-12 12-24-15 0zm-14 5l14-5 11-36-14 13zm-86-39l14 17 11-39-14-1z"/>
<path fill="#448" d="M6146 1402l15-16 11-19-14 15zm-14 2l14-2 12-20-14 4zm-229-86l14 47 11 32-14-106zm-588-2l14-10 11-37-14 16zm-15 17l15-17 11-31-14 9zm-28 5l14-26 11-44-14 11zm-287 2l14-10 12-44-15 23zm-29-46l14 40 12-28-14-29zm-115-38l15 5 11-15-14-3zm-57 9l14-2 12-2-15-16z"/>
<path fill="#336" d="M6118 1430l14-26 12-18-15 22zm-29 16l14-16 12-9-15 13zm-703-139l15-51 11-15-14 31zm-129 70l15-39 11-59-14 65zm-401-116l14 0 11-13-14-2zm-158 2l14 17 12-23-15 12zm-14 26l14-26 11 6-14-4zm-58-70l15 31 11-23-14 24zm-14 55l14-55 12 32-15-11zm-14 71l14-71 11-34-14 53z"/>
<path fill="#224" d="M6103 1430l15 0 11-22-14 13zm-28 32l14-16 11-12-14 2zm-86-18l14 38 11-9-14-21zm-29-54l14 14 12 26-15-12zm-43-25l14 19 12 31-15-18zm-1047-104l14 1 12-28-15 14zm-43 3l14-8 12-13-15-1zm-14 17l14-17 11-22-14 14zm-15-18l15 18 11-25-14 5zm-28 12l14-10 11-20-14 9z"/>
<path fill="#338" d="M6060 1464l15-2 11-26-14 9zm-28 4l14 11 11-16-14-8z"/>
<path fill="#226" d="M6046 1479l14-15 12-19-15 18zm-29 11l15-22 11-13-14 8zm-43-86l15 40 11 8-14-22z"/>
<path fill="#114" d="M6003 1482l14 8 12-27-15 10zm-1420-114l15-23 11-52-14 34zm-14 34l14-34 12-41-15 75zm-14 40l14-40 11 0-14 26z"/>
<path fill="#334" d="M5860 1231l14 50 11-39-14 6zm-58-29l15 40 11 15-14-37zm-14-29l14 29 12 18-15-46zm-14-10l14 10 11 1-14-16zm-15-10l15 10 11-5-14 16zm-14 8l14-8 12 21-15-11zm-14-7l14 7 11 2-14-16zm-216 4l15-7 11-24-14 11zm-14 5l14-5 12-20-15 9zm-29 36l15-19 11-13-14 28zm-28 27l14-8 11 10-14 1zm-15 8l15-8 11 3-14 8z"/>
<path fill="#558" d="M5845 1297l15-66 11 17-14 73z"/>
<path fill="#446" d="M5831 1271l14 26 12 24-15-24zm-14-29l14 29 11 26-14-40zm-359-24l14-19 12-4-15 33zm-43 25l14-9 12 3-15-3zm-14 13l14-13 11-9-14 7z"/>
<path fill="#556" d="M5716 1149l15 5 11-7-14-3zm-14-5l14 5 12-5-15-3zm-43 7l14-22 12-31-15 46zm-14 14l14-14 11-7-14-10z"/>
<path fill="#aab" d="M5688 1146l14-2 11-3-14-23zm-15-17l15 17 11-28-14-20z"/>
<path fill="#889" d="M5630 1179l15-14 11-31-14 7zm-57-14l14-2 12-23-15 4z"/>
<path fill="#99b" d="M5616 1170l14 9 12-38-15 6zm-15 3l15-3 11-23-14-8zm-14-10l14 10 12-34-14 1zm-43-13l14 7 12-33-14 1zm-14 1l14-1 12-25-15 2z"/>
<path fill="#bbd" d="M5558 1157l15 8 11-21-14-20z"/>
<path fill="#668" d="M5487 1180l14-17 11-16-14 20z"/>
<path fill="#88d" d="M5358 1302l14-8 11-33-14-12zm-15-8l15 8 11-53-14 0z"/>
<path fill="#66b" d="M5286 1312l14 21 12-39-15-26zm-359-50l15 9 11-26-14-17zm-14 2l14-2 12-34-14 5zm-29-2l15 2 11-24-14-6zm-129 10l15 3 11-21-14-6zm-43 8l15 9 11-28-14-4zm-57-13l14 14 12-48-15-5z"/>
<path fill="#55b" d="M5243 1374l14 3 12-33-15 6zm-29-15l15 10 11-37-14 1zm-28 20l14-17 11-45-14 3zm-15 16l15-16 11-59-14 13zm-57-38l14 20 12-55-15-12zm-43-14l14 15 12-47-15-6zm-14 12l14-12 11-38-14-2zm-87-21l15 6 11-31-14-3z"/>
<path fill="#66d" d="M5229 1369l14 5 11-24-14-18zm-29-7l14-3 12-26-15-16zm-43 24l14 9 12-62-15-5zm-14-5l14 5 11-58-14 1zm-15-4l15 4 11-52-14-7zm-28-15l14-5 11-47-14 7zm-15-4l15 4 11-45-14-6zm-43-16l15 13 11-52-14-3zm-14-4l14 4 12-42-15 0zm-14-5l14 5 11-38-14-5zm-15-3l15 3 11-38-14-9z"/>
<path fill="#77d" d="M4669 1281l15 8 11-24-14-32z"/>
<path fill="#77f" d="M6379 1476l14 47 12-66-15-57z"/>
<path fill="#88f" d="M6365 1450l14 26 11-76-14-20zm-15-10l15 10 11-70-14 1zm-14-6l14 6 12-59-15-11zm-101-16l15 6 11-59-14 5zm-14-11l14 11 12-48-15 6z"/>
<path fill="#99f" d="M6321 1422l15 12 11-64-14 1zm-14 8l14-8 12-51-14-5zm-14-11l14 11 12-64-15 2zm-15 1l15-1 11-51-14 3zm-14-5l14 5 12-49-14-9zm-14 9l14-9 12-53-15 3zm-43-35l14 18 11-31-14-23zm-15 1l15-1 11-36-14 5zm-14-5l14 5 12-32-15 9z"/>
<path fill="#88d" d="M6164 1390l14-5 11-18-14 2z"/>
<path fill="#559" d="M6149 1409l15-19 11-21-14 17zm-258-68l15 29 11-5-14-47zm-989-50l14-3 11-26-14 2zm-15 17l15-17 11-27-14 0zm-14-23l14 23 12-44-15-2zm-14 1l14-1 11-23-14-1zm-15-7l15 7 11-25-14 0zm-100 31l14-13 12-22-15-3zm-14-8l14 8 11-38-14 12z"/>
<path fill="#336" d="M6135 1421l14-12 12-23-15 16zm-14 13l14-13 11-19-14 2zm-15-4l15 4 11-30-14 26zm-14 18l14-18 12 0-15 0zm-14 20l14-20 11-18-14 16zm-129-87l14 10 11 13-14-14zm-574-45l14-57 12-23-15 51zm-29-23l15 9 11-28-14 8zm-28 38l14-36 11-21-14 12zm-29-3l14-21 12-11-15 17zm-473-62l14-18 11-12-14 8zm-15 12l15-12 11-22-14 17zm-28-16l14-3 11-16-14 2zm-86 40l14-47 11 5-14-17zm-15-24l15 24 11-59-14 26zm-14 9l14-9 12-9-15-8zm-57 36l14-90 11-34-14 55z"/>
<path fill="#224" d="M6063 1474l15-6 11-22-14 16zm-14-2l14 2 12-12-15 2zm-72-36l15 54 11-8-14-38zm-14-45l14 45 12 8-15-40zm-29-14l15 4 11 9-14 0zm-14-2l14 2 12 13-15-6zm-14-5l14 5 11 9-14-19zm-43-86l14 35 11-13-14-25zm-603 109l15-38 11-43-14 26zm-14 13l14-13 12-55-15 39zm-72 19l15-29 11-34-14 17zm-416-128l15-15 11-17-14 10zm-43 20l15-15 11-18-14 5zm-14-42l14 42 12-28-15-9z"/>
<path fill="#226" d="M6035 1485l14-13 11-8-14 15zm-29 13l14-6 12-24-15 22zm-1420-159l15 4 11-69-14 71zm-28 80l14-31 11-20-14 34z"/>
<path fill="#338" d="M6020 1492l15-7 11-6-14-11zm-831-96l14-13 11-24-14 3z"/>
<path fill="#114" d="M5992 1490l14 8 11-8-14-8zm-1420-102l14-49 12 6-15 23z"/>
<path fill="#558" d="M5877 1319l14 22 12-23-15-12z"/>
<path fill="#334" d="M5848 1216l15 68 11-3-14-50zm-14 71l14-71 12 15-15 66zm-14-21l14 21 11 10-14-26zm-15-36l15 36 11 5-14-29zm-14-29l14 29 12 12-15-40zm-301-30l14 8 11-21-14 5zm-43 39l14-9 11-2-14 19zm-15 20l15-20 11 8-14 8z"/>
<path fill="#889" d="M5777 1191l14 10 11 1-14-29zm-216-5l15 1 11-24-14 2z"/>
<path fill="#556" d="M5762 1169l15 22 11-18-14-10zm-14-10l14 10 12-6-15-10zm-43-5l14 1 12-1-15-5zm-15 4l15-4 11-5-14-5zm-14-8l14 8 12-14-14 2z"/>
<path fill="#778" d="M5734 1155l14 4 11-6-14 8zm-15 0l15 0 11 6-14-7zm-57-16l14 11 12-4-15-17zm-15 54l15-54 11-10-14 22z"/>
<path fill="#99b" d="M5633 1196l14-3 12-42-14 14zm-29 6l15-3 11-20-14-9zm-14-7l14 7 12-32-15 3zm-14-8l14 8 11-22-14-10zm-29-7l14 6 12-21-15-8zm-14-6l14 6 11-23-14-7zm-15 0l15 0 11-24-14 1z"/>
<path fill="#668" d="M5619 1199l14-3 12-31-15 14zm-115-20l14-5 12-23-15 7zm-29 21l15-29 11-8-14 17z"/>
<path fill="#446" d="M5461 1201l14-1 12-20-15 19zm-43 44l14-15 12-4-15 8zm-14 7l14-7 11-11-14 9zm-15 27l15-27 11-9-14 13z"/>
<path fill="#66b" d="M5361 1322l14 14 11-29-14-13zm-86 33l14-7 11-15-14-21zm-345-55l15 12 11-18-14-23zm-14-12l14 12 12-29-15-9zm-301-35l14 12 12-15-15-31z"/>
<path fill="#448" d="M5332 1315l14-2 12-11-15-8zm-29 12l15 24 11-45-14 10zm-358-15l14 51 11-29-14-40zm-115-44l14 11 12-18-15-5zm-43 11l14 19 12-17-15-18zm-158-14l15 39 11-37-14-17z"/>
<path fill="#55b" d="M5232 1397l14 9 11-29-14-3zm-15-6l15 6 11-23-14-5zm-14-8l14 8 12-22-15-10zm-115 13l14 11 12-50-14 5zm-14-7l14 7 12-34-15-4zm-58-26l15 1 11-22-14-4zm-14 4l14-4 12-25-14-5zm-29 1l15 0 11-38-14 10zm-14-5l14 5 12-28-15-6z"/>
<path fill="#44b" d="M5160 1435l14-10 12-46-15 16z"/>
<path fill="#55d" d="M5146 1427l14 8 11-40-14-9zm-15-8l15 8 11-41-14-5zm-14 0l14 0 12-38-15-4zm-15-12l15 12 11-42-14-20z"/>
<path fill="#66d" d="M5059 1393l15-4 11-31-14-15zm-71-25l14-1 12-34-15-3zm-344-64l14 3 11-26-14-14z"/>
<path fill="#449" d="M5045 1375l14 18 12-50-14 12zm-14-11l14 11 12-20-15-13z"/>
<path fill="#339" d="M4543 1415l15 4 11-17-14 40z"/>
<path fill="#55f" d="M6367 1623l15 89 11-189-14-47z"/>
<path fill="#66f" d="M6353 1524l14 99 12-147-14-26z"/>
<path fill="#77f" d="M6339 1506l14 18 12-74-15-10zm-15-5l15 5 11-66-14-6zm-14-14l14 14 12-67-15-12z"/>
<path fill="#88f" d="M6296 1488l14-1 11-65-14 8zm-15-2l15 2 11-58-14-11zm-14-5l14 5 12-67-15 1zm-14 3l14-3 11-61-14-5zm-15-6l15 6 11-69-14 9zm-14-3l14 3 12-54-15-6zm-14-6l14 6 11-57-14-11zm-15-33l15 33 11-62-14-18zm-14-18l14 18 12-47-15 1zm-14 0l14 0 11-28-14-5zm-15 7l15-7 11-33-14 5z"/>
<path fill="#66b" d="M6138 1429l14-4 12-35-15 19zm-803-92l14 4 12-19-15-9zm-416-13l14 2 12-14-15-12zm-14-3l14 3 11-24-14-12zm-15-1l15 1 11-33-14 3zm-71-7l14-11 11-23-14-11z"/>
<path fill="#336" d="M6124 1443l14-14 11-20-14 12zm-58 35l15-6 11-24-14 20zm-129-107l15 16 11 4-14-10zm-43-9l15 9 11 4-14-5zm-14-11l14 11 12 8-15-29zm-574 11l15-22 11-25-14 36zm-57 43l14-24 12-26-15 38zm-459-86l14-15 12-18-15 12zm-43-10l14-10 12-17-15 15zm-14 3l14-3 11-12-14 13zm-29 16l14-8 12-18-15 15zm-29 2l15-12 11-43-14 47zm-28-42l14 42 11-32-14 9zm-15-5l15 5 11 19-14-3zm-28 19l14-47 11 10-14-12z"/>
<path fill="#224" d="M6109 1449l15-6 11-22-14 13zm-14 17l14-17 12-15-15-4zm-57 26l14-11 11-7-14-2zm-15 6l15-6 11-20-14 13zm-14 3l14-3 12-13-15 7zm-43-72l14 58 12 3-15-54zm-14-42l14 42 11 7-14-45zm-29-23l14 7 12 10-15-4zm-14 7l14-7 11 13-14-2zm-545-21l14-55 11-16-14 57zm-101 31l15-12 11-21-14 7zm-215 15l14 6 12-13-15 4zm-172-83l14 7 12-29-15 17zm-158 7l15-8 11-2-14-8zm-100-65l14 28 12 21-15-39zm-29-29l15 76 11-49-14 90zm-14 126l14-126 12 117-15-4z"/>
<path fill="#448" d="M6081 1472l14-6 11-36-14 18zm-789-84l14-26 12-11-15-24zm-359-62l15 48 11-11-14-51zm-86-22l15 0 11-19-14 1z"/>
<path fill="#226" d="M6052 1481l14-3 12-10-15 6zm-57 29l14-9 11-9-14 6zm-760-85l14-20 11-12-14 13zm-58-15l14-11 12-16-14 13zm-14 29l14-29 12-14-15 29zm-15 13l15-13 11-14-14 10zm-43-22l15 7 11-18-14 0zm-157-56l14 14 11-20-14-5zm-388 132l15-154 11-13-14 49zm-28-69l14-36 12 18-15-4z"/>
<path fill="#114" d="M5980 1487l15 23 11-12-14-8zm-1434-86l14 105 12-118-14 31z"/>
<path fill="#669" d="M5866 1339l14 12 11-10-14-22z"/>
<path fill="#334" d="M5851 1284l15 55 11-20-14-35zm-72-82l15 15 11 13-14-29zm-186 10l14 0 12-13-15 3zm-201 52l15-6 11-13-14 7z"/>
<path fill="#668" d="M5837 1233l14 51 12 0-15-68zm-72-53l14 22 12-1-14-10zm-143 35l14-21 11-1-14 3zm-15-3l15 3 11-19-14 3zm-28-4l14 4 11-10-14-7zm-72-15l14-4 12-15-15 0zm-29 11l15-12 11-13-14-8zm-14 1l14-1 12-33-15 29z"/>
<path fill="#779" d="M5822 1263l15-30 11-17-14 71z"/>
<path fill="#446" d="M5808 1237l14 26 12 24-14-21zm-14-20l14 20 12 29-15-36zm-344 0l14-12 11-5-14 1zm-15 16l15-16 11-16-14 9zm-14 3l14-3 12-23-15 20zm-14 22l14-22 11-6-14 15zm-29 37l14-31 12-12-15 27z"/>
<path fill="#556" d="M5751 1172l14 8 12 11-15-22zm-15-11l15 11 11-3-14-10zm-57 10l14-2 12-15-15 4zm-43 23l14-35 12-20-15 54zm-143-2l14 1 11-19-14 5z"/>
<path fill="#778" d="M5722 1156l14 5 12-2-14-4zm-14 14l14-14 12-1-15 0zm-15-1l15 1 11-15-14-1zm-28-8l14 10 11-13-14-8z"/>
<path fill="#aab" d="M5650 1159l15 2 11-11-14-11z"/>
<path fill="#889" d="M5564 1210l15-2 11-13-14-8zm-28-12l14 12 11-24-14-6zm-15-9l15 9 11-18-14-6z"/>
<path fill="#99b" d="M5550 1210l14 0 12-23-15-1z"/>
<path fill="#559" d="M5349 1341l15 9 11-14-14-14zm-28-1l14-3 11-24-14 2zm-43 29l14 19 11-61-14 21zm-416-65l14 9 11-5-14-23zm-29-2l14 2 12-18-15-7zm-29 2l15 9 11-45-14 18zm-28-1l14 16 11-21-14-19zm-15-4l15 4 11-24-14 3z"/>
<path fill="#449" d="M5220 1413l15 12 11-19-14-9zm-14-5l14 5 12-16-15-6zm-15-9l15 9 11-17-14-8zm-100 26l14 5 12-11-15-12zm-14-9l14 9 11-18-14-11zm-43-21l14 1 11-3-14-18zm-15-10l15 10 11-20-14-11zm-14-1l14 1 12-21-15-1zm-43 4l14 4 12-24-15 0z"/>
<path fill="#339" d="M5134 1448l14 4 12-17-14-8zm-14-11l14 11 12-21-15-8z"/>
<path fill="#338" d="M5062 1402l15 14 11-20-14-7zm-71-17l14-1 11-21-14 4zm-15 7l15-7 11-18-14 1z"/>
<path fill="#66d" d="M4690 1318l14 10 11-11-14-42z"/>
<path fill="#55b" d="M4661 1330l14 0 12-8-15-24z"/>
<path fill="#33f" d="M6356 1724l14 89 12-101-15-89z"/>
<path fill="#55f" d="M6342 1598l14 126 11-101-14-99z"/>
<path fill="#66f" d="M6327 1587l15 11 11-74-14-18zm-14-10l14 10 12-81-15-5zm-14-7l14 7 11-76-14-14zm-15-11l15 11 11-83-14 1zm-14-5l14 5 12-71-15-2z"/>
<path fill="#77f" d="M6256 1541l14 13 11-68-14-5zm-15 0l15 0 11-60-14 3zm-14 6l14-6 12-57-15-6zm-14-4l14 4 11-69-14-3zm-15-7l15 7 11-68-14-6zm-14-36l14 36 12-67-15-33z"/>
<path fill="#88f" d="M6170 1483l14 17 11-64-14-18zm-15-14l15 14 11-65-14 0zm-14 2l14-2 12-51-15 7zm-14 11l14-11 11-46-14 4z"/>
<path fill="#559" d="M6112 1454l15 28 11-53-14 14zm-803-79l15-11 11-27-14 3zm-43 21l14-3 12-5-14-19zm-473-64l14-6 12-13-15-9z"/>
<path fill="#448" d="M6098 1487l14-33 12-11-15 6zm-1334-172l15 11 11-7-14-16z"/>
<path fill="#449" d="M6084 1495l14-8 11-38-14 17zm-15 3l15-3 11-29-14 6zm-14 3l14-3 12-26-15 6zm-14-1l14 1 11-23-14 3zm-1119-148l14 36 12-14-15-48z"/>
<path fill="#224" d="M6026 1508l15-8 11-19-14 11zm-14-6l14 6 12-16-15 6zm-29-3l15 3 11-1-14 9zm-28-80l14 53 11 15-14-58zm-15-33l15 33 11 10-14-42zm-14-5l14 5 12 1-15-16zm-15-24l15 24 11-10-14-7zm-14 12l14-12 12 7-14 7zm-602 9l14-3 12-35-15 22zm-72 55l14-1 12-27-14 20zm-158-7l15-3 11 2-14-9zm-71-39l14 7 11-9-14-1zm-29 17l14-2 12-17-15 7zm-186-78l14 6 11-28-14 15zm-58-2l15 1 11-16-14 3zm-100-52l14 50 12-34-15-5zm-15 48l15-48 11 11-14-28zm-43 32l15-8 11-118-14 126z"/>
<path fill="#226" d="M5998 1502l14 0 11-4-14 3zm-29-30l14 27 12 11-15-23zm-803-46l14-13 11-14-14 11zm-15 30l15-30 11-16-14 29zm-14 1l14-1 12-17-15 13zm-129-63l14 14 12-13-15-10zm-29 8l15-15 11-3-14 1zm-28 0l14 2 11-12-14-4zm-416 58l14-45 11 91-14-105z"/>
<path fill="#336" d="M5883 1352l14 17 12 2-15-9zm-15 18l15-18 11 10-14-11zm-516 3l15-46 11-32-14 55zm-72 20l15-15 11-16-14 26zm-28 7l14-4 12-27-15 12zm-15 32l15-32 11-19-14 24zm-430-106l15 4 11-28-14 11zm-57-12l14 1 12-12-15-4zm-14 11l14-11 11-15-14 10zm-29 5l14-6 12-12-15 8zm-15 7l15-7 11-10-14 8zm-14-11l14 11 12-9-14-10zm-14 2l14-2 12-8-15 12zm-15 25l15-25 11 2-14 0zm-57-131l14 98 12-65-14 47zm-14 122l14-122 12 80-15-76z"/>
<path fill="#446" d="M5854 1348l14 22 12-19-14-12zm-315-110l14-20 11-8-14 0zm-86-18l14-9 11-7-14 1zm-15 11l15-11 11-15-14 12zm-14 15l14-15 12-14-15 16zm-29 33l15-18 11-25-14 22zm-28 48l14-32 11-31-14 31z"/>
<path fill="#334" d="M5840 1284l14 64 12-9-15-55zm-15-61l15 61 11 0-14-51zm-14 51l14-51 12 10-15 30zm-14-53l14 53 11-11-14-26zm-29-17l14 9 12 4-15-15zm-158 12l15-14 11-8-14 21zm-28 4l14 1 11-9-14 0zm-172 41l14-15 11-13-14 3zm-29 34l14-16 12-21-15 6z"/>
<path fill="#668" d="M5782 1213l15 8 11 16-14-20zm-186 8l14-5 12-1-15-3zm-43-3l14-17 12 7-15 2zm-29-6l15 26 11-28-14-12zm-57-1l14-4 12-15-15 12z"/>
<path fill="#778" d="M5754 1191l14 13 11-2-14-22zm-29-34l14 13 12 2-15-11zm-14 3l14-3 11 4-14-5zm-29 13l14-7 12 4-15-1zm-14 14l14-14 11-4-14 2zm-15-17l15 17 11-16-14-10z"/>
<path fill="#556" d="M5739 1170l15 21 11-11-14-8zm-43-4l15-6 11-4-14 14zm-57 3l14 1 12-9-15-2zm-14 33l14-33 11-10-14 35zm-58-1l15 19 11-8-14-4zm-71 4l14 3 11-19-14 4zm-15 2l15-2 11-12-14-1z"/>
<path fill="#889" d="M5510 1208l14 4 12-14-15-9z"/>
<path fill="#66b" d="M5338 1369l14 4 12-23-15-9zm-14-5l14 5 11-28-14-4zm-416-5l14-7 11-26-14-2zm-15-9l15 9 11-35-14-3zm-14-4l14 4 12-29-15-1zm-14-4l14 4 11-26-14-7zm-29-7l14 8 12-39-15 0zm-14-5l14 5 11-31-14-2z"/>
<path fill="#338" d="M5209 1425l14 8 12-8-15-12zm-15-3l15 3 11-12-14-5zm-14-9l14 9 12-14-15-9zm-129 2l14 11 12-10-15-14zm-14 3l14-3 11-13-14-6zm-15-10l15 10 11-22-14-1zm-86-20l15 14 11-14-14-14z"/>
<path fill="#114" d="M5123 1453l14 4 11-5-14-4zm-15-8l15 8 11-5-14-11zm-14-5l14 5 12-8-15-7zm-14-17l14 17 11-10-14-5zm-560 75l15-38 11-59-14 36z"/>
<path fill="#77d" d="M4850 1343l15-1 11-29-14-9z"/>
<path fill="#55b" d="M4635 1322l14 31 12-23-14-42z"/>
<path fill="#44b" d="M4549 1415l14-63 12 0-15 154z"/>
<path fill="#33f" d="M6345 1616l14 1 11 196-14-89z"/>
<path fill="#44f" d="M6330 1614l15 2 11 108-14-126z"/>
<path fill="#55f" d="M6316 1613l14 1 12-16-15-11zm-14-2l14 2 11-26-14-10zm-15-1l15 1 11-34-14-7zm-14-1l14 1 12-40-15-11zm-14 0l14 0 11-50-14-5zm-58 2l15-4 11-60-14-4zm-14 1l14-1 12-68-15-7z"/>
<path fill="#66f" d="M6244 1601l15 8 11-55-14-13zm-14-7l14 7 12-60-15 0zm-14 13l14-13 11-53-14 6zm-43-12l14 17 11-76-14-36zm-15-31l15 31 11-95-14-17z"/>
<path fill="#77f" d="M6144 1553l14 11 12-81-15-14zm-14-15l14 15 11-84-14 2zm-15-7l15 7 11-67-14 11zm-14 5l14-5 12-49-15-28z"/>
<path fill="#66d" d="M6087 1527l14 9 11-82-14 33z"/>
<path fill="#55b" d="M6072 1524l15 3 11-40-14 8zm-1090-113l15 5 11-22-14-7zm-114-34l14 3 11-30-14-4zm-15-4l15 4 11-31-14-4z"/>
<path fill="#449" d="M6058 1519l14 5 12-29-15 3zm-1061-103l14 2 11-10-14-14zm-86-40l14 27 11-15-14-36z"/>
<path fill="#226" d="M6044 1512l14 7 11-21-14 3zm-29-4l14 5 12-13-15 8zm-15-3l15 3 11 0-14-6zm-14-10l14 10 12-3-14 0zm-774-51l14-20 11 8-14 1zm-15-9l15 9 11-11-14-8zm-43 3l15-17 11-8-14 13zm-28 23l14-3 11-2-14 1zm-115-43l14 11 12-11-15-10zm-72-2l15 0 11-12-14-2zm-401 38l14-85 11-17-14 63zm-15-57l15 57 11-39-14 45z"/>
<path fill="#224" d="M6029 1513l15-1 11-11-14-1zm-115-144l15 6 11 11-14-5zm-14-6l14 6 12 12-15-24zm-14-6l14 6 11-6-14 12zm-517-28l15-21 11-29-14 16zm-28 50l14-18 12-34-15 46zm-15 5l15-5 11-6-14-4zm-86 35l15-7 11-16-14 4zm-14 5l14-5 12-19-15 32zm-43-3l14 14 12-10-15-3zm-14 0l14 0 11 1-14-9zm-29 37l14-20 12-12-15 30zm-86-26l14 8 12-17-15 3zm-29-3l15 3 11-17-14 3zm-57-18l14 0 12-24-15 15zm-14 5l14-5 11-9-14 2zm-144-60l15-13 11-8-14-5zm-100-26l14 6 12-11-15-1zm-58-2l15 26 11-28-14 2zm-28-7l14 21 11 11-14-31zm-72 48l14-51 12 26-15 8z"/>
<path fill="#336" d="M5972 1490l14 5 12 7-15-3zm-15-47l15 47 11 9-14-27zm-14-49l14 49 12 29-14-53zm-14-19l14 19 12 25-15-33zm-574-14l14-32 12-34-14 32zm-86 55l14-7 12-31-15 15zm-373-45l15 5 11-24-14 7zm-71-28l14 29 11-29-14-8zm-101-7l14-6 12-16-14 11zm-29 4l15-10 11-6-14 6zm-14 7l14-7 12-10-15 7zm-43-5l14-14 12 0-15 25zm-43 36l14-80 12-26-15 48z"/>
<path fill="#446" d="M5871 1337l15 20 11 12-14-17zm-14 22l14-22 12 15-15 18zm-14-21l14 21 11 11-14-22zm-416-85l14-21 12-12-15 11zm-29 30l14-18 12-19-14 15zm-14 25l14-25 12-22-15 18z"/>
<path fill="#334" d="M5828 1286l15 52 11 10-14-64zm-28-14l14-25 11-24-14 51zm-15-76l15 76 11 2-14-53zm-200 20l14-3 11 3-14 5zm-173 49l15-12 11-22-14 15z"/>
<path fill="#779" d="M5814 1247l14 39 12-2-15-61z"/>
<path fill="#889" d="M5771 1197l14-1 12 25-15-8zm-215 26l14-1 12-2-15-19zm-57 4l14-1 11-14-14-4z"/>
<path fill="#778" d="M5757 1208l14-11 11 16-14-9zm-43-41l14 9 11-6-14-13zm-15-7l15 7 11-10-14 3zm-14-4l14 4 12 0-15 6zm-29 23l15-11 11 5-14 14zm-28 0l14-5 11-4-14-1z"/>
<path fill="#556" d="M5742 1190l15 18 11-4-14-13zm-14-14l14 14 12 1-15-21zm-57-8l14-12 11 10-14 7zm-29 6l14 5 12 8-15-17zm-29 36l15-31 11-10-14 33zm-86 16l15-3 11-5-14 20zm-14 0l14 0 12 12-15-26zm-43-19l14 7 12-9-15 2z"/>
<path fill="#668" d="M5599 1213l14-3 12-8-15 14zm-29 9l15-6 11 5-14-1zm-28 1l14 0 11-22-14 17zm-58-9l15 13 11-19-14-3zm-28 9l14-16 11 0-14 4zm-15 9l15-9 11-12-14 9z"/>
<path fill="#448" d="M5312 1395l14-11 12-15-14-5zm-14 10l14-10 12-31-15 11zm-43 7l14 4 11-23-14 3zm-373-32l14-9 12-12-15-9zm-144-50l15 1 11-16-14-1zm-157-57l14 105 11-58-14-98z"/>
<path fill="#66b" d="M5283 1409l15-4 11-30-14 3zm-444-37l14 1 12-31-15 1zm-43-20l14 4 12-26-15-4z"/>
<path fill="#114" d="M5111 1452l15 9 11-4-14-4zm-14 0l14 0 12 1-15-8zm-14-10l14 10 11-7-14-5zm-574 76l14-121 12 63-15 38z"/>
<path fill="#338" d="M5068 1440l15 2 11-2-14-17zm-28-8l14 0 11-6-14-11zm-115-29l14 13 12-14-15-14z"/>
<path fill="#559" d="M4781 1350l15 2 11-26-14 6zm-14-5l14 5 12-18-14-6zm-14-14l14 14 12-19-15-11zm-86 23l14-7 11-10-14-11zm-58-56l15 23 11 1-14-50zm-43 20l15-45 11-51-14 122z"/>
<path fill="#55f" d="M6333 1632l15 1 11-16-14-1zm-14-2l14 2 12-16-15-2zm-14-1l14 1 11-16-14-1zm-15-2l15 2 11-16-14-2zm-14-1l14 1 12-16-15-1zm-14 0l14 0 11-16-14-1zm-15 2l15-2 11-17-14 0zm-14 0l14 0 12-19-15-8zm-14 8l14-8 11-27-14-7zm-15 10l15-10 11-42-14 13zm-14 24l14-24 12-39-15 4zm-43-26l14 28 12-77-15-31zm-15-13l15 13 11-80-14-11zm-14-15l14 15 12-78-14-15z"/>
<path fill="#44f" d="M6176 1676l14-6 11-59-14 1zm-15-4l15 4 11-64-14-17z"/>
<path fill="#66f" d="M6104 1597l14 19 12-78-15-7zm-15-14l15 14 11-66-14 5z"/>
<path fill="#55d" d="M6075 1566l14 17 12-47-14-9z"/>
<path fill="#55b" d="M6061 1553l14 13 12-39-15-3zm-15-10l15 10 11-29-14-5zm-774-105l14-3 12-30-15 4zm-373-28l15 12 11-19-14-27zm-14-10l14 10 12-34-15-5zm-29 0l14 12 12-32-14-3zm-14 6l14-6 12-23-15-4zm-15-7l15 7 11-33-14-1zm-301-7l15-41 11 18-14 85z"/>
<path fill="#338" d="M6032 1526l14 17 12-24-14-7zm-860-90l14 9 11-10-14-14z"/>
<path fill="#224" d="M6018 1522l14 4 12-14-15 1zm-15-8l15 8 11-9-14-5zm-86-149l15-2 11 31-14-19zm-559-17l14-8 12-32-15 21zm-72 87l15-22 11-18-14 10zm-57-1l14-2 12-20-15 7zm-14 5l14-5 11-15-14 5zm-29 6l14 5 12-6-15-9zm-29-14l15 5 11-15-14 0zm-86 18l15 6 11-3-14-10zm-14-5l14 5 12-7-15-2zm-14-3l14 3 11-4-14-8zm-15-3l15 3 11-9-14 0zm-14-5l14 5 12-6-15-3zm-14-17l14 17 11-4-14-11zm-29 5l14 5 12-10-15-5zm-14 4l14-4 11-10-14 0zm-15 1l15-1 11-14-14 5zm-14 4l14-4 12-10-15 0zm-215-92l14 5 11-13-14 6zm-15-1l15 1 11-2-14-6zm-28 4l14 0 11-1-14 7zm-86-29l14 39 11-53-14 80z"/>
<path fill="#336" d="M5989 1502l14 12 12-6-15-3zm-14-16l14 16 11 3-14-10zm-15-16l15 16 11 9-14-5zm-14-59l14 59 12 20-15-47zm-14-48l14 48 11 32-14-49zm-588 16l14-31 11-19-14 32zm-15 24l15-24 11-18-14 18zm-28 10l14-16 11-13-14 11zm-101 37l15-11 11-15-14 20zm-215-24l15-10 11 2-14-2zm-258-83l14 4 12-16-15-1zm-43-2l14-4 12-7-15 10zm-29 23l15-23 11 6-14 7zm-28-36l14 22 11-22-14 14zm-15-48l15 48 11 14-14-21zm-14 71l14-71 12 41-15-23zm-57 0l14-53 11 20-14 51z"/>
<path fill="#446" d="M5903 1369l14-4 12 10-15-6zm-14-6l14 6 11 0-14-6zm-15-8l15 8 11 0-14-6zm-28-12l14 16 11-22-14 22zm-15-11l15 11 11 16-14-21zm-416-65l15-17 11-18-14 21zm-14 15l14-15 12-14-15 12zm-14 30l14-30 11-17-14 18zm-15 28l15-28 11-29-14 25z"/>
<path fill="#558" d="M5860 1359l14-4 12 2-15-20z"/>
<path fill="#334" d="M5817 1290l14 42 12 6-15-52zm-14-55l14 55 11-4-14-39zm-15 39l15-39 11 12-14 25zm-287-29l15-10 11-9-14 0zm-71 5l14-6 12-21-15 9z"/>
<path fill="#556" d="M5774 1180l14 94 12-2-15-76zm-43 12l14 8 12 8-15-18zm-14-11l14 11 11-2-14-14zm-115 37l14-29 12-10-15 31zm-29-1l15-11 11 7-14 3zm-115-4l15 13 11-12-14-7z"/>
<path fill="#999" d="M5760 1181l14-1 11 16-14 1zm-72-18l14 2 12 2-15-7zm-14-7l14 7 11-3-14-4zm-29 34l14-22 12 0-15 11z"/>
<path fill="#778" d="M5745 1200l15-19 11 16-14 11zm-43-35l15 16 11-5-14-9zm-43 3l15-12 11 0-14 12zm-28 16l14 6 11-11-14-5zm-15 5l15-5 11-10-14 5zm-28 17l14 12 11-8-14 3z"/>
<path fill="#668" d="M5559 1223l14-6 12-1-15 6zm-14 5l14-5 11-1-14 1zm-15-1l15 1 11-5-14 0zm-14 8l14-8 12-4-15 3zm-29 5l14 5 12-19-14 1zm-14-14l14 14 12-13-15-13zm-29 18l14-31 12-6-14 16z"/>
<path fill="#448" d="M5315 1397l14 6 12-24-15 5zm-445 15l15-12 11-29-14 9zm-301-123l15 23 11 66-14-105z"/>
<path fill="#449" d="M5258 1439l14-1 11-29-14 7zm-15-7l15 7 11-23-14-4zm-329-10l14 8 11-14-14-13z"/>
<path fill="#226" d="M5143 1451l14-20 12-10-15 17zm-14 19l14-19 11-13-14 20zm-15-15l15 15 11-12-14 3zm-14 0l14 0 12 6-15-9zm-14 0l14 0 11-3-14 0zm-574 26l14-89 12 62-15-57zm-14 81l14-81 11-84-14 121z"/>
<path fill="#66d" d="M4813 1393l14 6 12-27-14-29z"/>
<path fill="#66b" d="M4799 1388l14 5 12-50-15 13zm-15-12l15 12 11-32-14-4z"/>
<path fill="#559" d="M4770 1369l14 7 12-24-15-2zm-14-4l14 4 11-19-14-5zm-15-18l15 18 11-20-14-14zm-100 3l14 14 12-10-15-26zm-86-52l14-9 12-16-15 45z"/>
<path fill="#55f" d="M6322 1648l14 1 12-16-15-1zm-14-2l14 2 11-16-14-2zm-15-1l15 1 11-16-14-1zm-14-2l14 2 12-16-15-2zm-14-1l14 1 11-16-14-1zm-15 1l15-1 11-16-14 0zm-14 6l14-6 12-17-15 2zm-15-1l15 1 11-21-14 0zm-129 4l15 35 11-71-14-19z"/>
<path fill="#44b" d="M6207 1660l14-12 12-20-14 8zm-158-73l15 22 11-43-14-13z"/>
<path fill="#33b" d="M6193 1680l14-20 12-24-15 10z"/>
<path fill="#44d" d="M6178 1707l15-27 11-34-14 24z"/>
<path fill="#44f" d="M6164 1734l14-27 12-37-14 6zm-14 2l14-2 12-58-15-4zm-15-12l15 12 11-64-14-28zm-14-11l14 11 12-80-15-13zm-14-26l14 26 11-82-14-15z"/>
<path fill="#55d" d="M6078 1617l14 35 12-55-15-14zm-14-8l14 8 11-34-14-17z"/>
<path fill="#338" d="M6035 1557l14 30 12-34-15-10zm-14-19l14 19 11-14-14-17z"/>
<path fill="#224" d="M6006 1530l15 8 11-12-14-4zm-14-16l14 16 12-8-15-8zm-14-14l14 14 11 0-14-12zm-43-120l14 72 11 18-14-59zm-660 85l14-20 12-32-15 22zm-86-5l14 4 12-25-15 11zm-14-10l14 10 11-10-14-5zm-15-5l15 5 11-5-14-9zm-14-8l14 8 12-9-15-5zm-43 11l14 32 12-10-15-15zm-14-5l14 5 11 7-14 0zm-15 8l15-8 11 12-14 0zm-43-5l15 11 11-13-14-3zm-14-2l14 2 12-5-15-3zm-15-1l15 1 11-6-14-5zm-28-10l14 4 12-21-15 10zm-15-8l15 8 11-7-14-5zm-28 6l14 21 12-27-15 1zm-29 4l14 0 12-5-14-8zm-43-3l14-7 12-25-15 12zm-115-61l15 20 11-22-14-4zm-28-22l14 17 11-19-14-4zm-15 0l15 0 11-6-14-5zm-14-4l14 4 12-11-15-1zm-29 14l15-11 11-7-14 0zm-43-39l15 54 11-24-14-22zm-114 143l14-120 11 49-14 89z"/>
<path fill="#336" d="M5963 1470l15 30 11 2-14-16zm-14-18l14 18 12 16-15-16zm-602-71l14-25 11-16-14 8zm-15 21l15-21 11-33-14 31zm-14 12l14-12 12-23-15 24zm-29 31l15-34 11-14-14 16zm-157 18l14-26 11-6-14 20zm-187-11l14-27 12-4-14 4zm-272-104l14-3 11-8-14 4zm-29-5l14 16 12-18-15 23zm-14 31l14-31 11 21-14-14zm-43-88l14 54 11-60-14 71z"/>
<path fill="#334" d="M5920 1363l15 17 11 31-14-48zm-43 4l15 14 11-12-14-6zm-14-13l14 13 12-4-15-8zm-57-62l14 19 11 21-14-42zm-373-44l14-22 11-13-14 31z"/>
<path fill="#446" d="M5906 1371l14-8 12 0-15 2zm-14 10l14-10 11-6-14 4zm-43-32l14 5 11 1-14 4zm-15-9l15 9 11 10-14-16zm-14-29l14 29 12 3-15-11zm-416-28l14-10 12-23-15 17zm-14 13l14-13 11-16-14 15zm-15 32l15-32 11-14-14 30zm-14 28l14-28 12-16-15 28z"/>
<path fill="#556" d="M5791 1241l15 51 11-2-14-55zm-28-61l14 86 11 8-14-94zm-173 40l15-27 11-4-14 29zm-14-16l14 16 12-2-14-12zm-14 16l14-16 12 2-15 11zm-58 15l15 8 11-16-14 8z"/>
<path fill="#668" d="M5777 1266l14-25 12-6-15 39zm-258-23l14-11 12-4-15-1zm-29 14l14-22 12 0-15 10zm-14 7l14-7 11-12-14-5zm-58 9l15-25 11-4-14 6z"/>
<path fill="#999" d="M5748 1170l15 10 11 0-14 1zm-129 15l15-1 11 6-14-6zm-14 8l14-8 12-1-15 5z"/>
<path fill="#778" d="M5734 1199l14-29 12 11-15 19zm-14-1l14 1 11 1-14-8zm-15-19l15 19 11-6-14-11zm-14-8l14 8 12 2-15-16zm-14 0l14 0 11-6-14-2zm-15 9l15-9 11-8-14-7zm-14-4l14 4 12-24-15 12zm-14 8l14-8 11-8-14 22zm-87 43l15-7 11-3-14 6zm-14 5l14-5 12-4-14 5z"/>
<path fill="#889" d="M5461 1241l15 23 11-24-14-14zm-14-15l14 15 12-15-15-13z"/>
<path fill="#448" d="M5304 1411l14 3 11-11-14-6z"/>
<path fill="#449" d="M5261 1459l14 6 11-30-14 3zm-15 2l15-2 11-21-14 1zm-43 3l15-5 11-25-14 5zm-215-27l14 6 12-10-14-17zm-100-10l14 8 12-13-15-12zm-72-7l14 15 12-29-15-7z"/>
<path fill="#55b" d="M5232 1464l14-3 12-22-15-7zm-14-5l14 5 11-32-14 2zm-345-34l15 2 11-17-14-10zm-28 14l14-7 11-20-14-12zm-15-4l15 4 11-39-14 6zm-28-19l14 4 11-21-14-6zm-15-2l15 2 11-23-14-5zm-14-9l14 9 12-26-15-12z"/>
<path fill="#226" d="M5117 1480l15-17 11-12-14 19zm-57-32l14 3 12 4-15-6zm-14 9l14-9 11 1-14-5zm-130-22l15-4 11-5-14 4z"/>
<path fill="#559" d="M4759 1391l14 14 11-29-14-7zm-29-25l14 5 12-6-15-18zm-129-26l14-20 12 8-15-48z"/>
<path fill="#112" d="M4572 1252l15 34 11 65-14-39zm-14-51l14 51 12 60-15-23zm-14 94l14-94 11 88-14 9z"/>
<path fill="#66b" d="M4529 1315l15-20 11 3-14 53zm-14 28l14-28 12 36-15 41z"/>
<path fill="#116" d="M4486 1682l15-219 11 18-14 81z"/>
<path fill="#55f" d="M6310 1664l15 1 11-16-14-1zm-14-2l14 2 12-16-14-2zm-14-1l14 1 12-16-15-1zm-15-2l15 2 11-16-14-2zm-14-1l14 1 12-16-14-1zm-14 1l14-1 12-16-15 1zm-29 10l14-3 12-17-15-1zm-143-1l14 20 11-36-14-35z"/>
<path fill="#44b" d="M6224 1666l15-7 11-16-14 6zm-172-26l15 28 11-51-14-8z"/>
<path fill="#44d" d="M6196 1686l14-17 11-21-14 12z"/>
<path fill="#44f" d="M6181 1709l15-23 11-26-14 20zm-14 31l14-31 12-29-15 27z"/>
<path fill="#33f" d="M6153 1773l14-33 11-33-14 27zm-15 11l15-11 11-39-14 2zm-14-6l14 6 12-48-15-12zm-14-17l14 17 11-54-14-11zm-15-27l15 27 11-48-14-26z"/>
<path fill="#33d" d="M6081 1688l14 46 12-47-15-35z"/>
<path fill="#339" d="M6038 1612l14 28 12-31-15-22z"/>
<path fill="#449" d="M6024 1586l14 26 11-25-14-30zm-15-24l15 24 11-29-14-19zm-1147-113l14-1 12-21-15-2zm-100-25l14 13 11-23-14-9zm-15-15l15 15 11-19-14-14z"/>
<path fill="#224" d="M5995 1536l14 26 12-24-15-8zm-14-23l14 23 11-6-14-16zm-15-20l15 20 11 1-14-14zm-14-29l14 29 12 7-15-30zm-29-110l15 87 11 11-14-72zm-588 36l15-23 11-11-14 25zm-28 33l14 5 11-26-14 12zm-15-1l15 1 11-9-14-3zm-14 35l14-35 12-11-15 34zm-57 15l14 2 11-13-14 3zm-15 0l15 0 11-8-14-5zm-14-7l14 7 12-13-15 5zm-29-9l15 19 11-15-14-10zm-14-5l14 5 12-6-15-5zm-14-1l14 1 11-6-14-8zm-15 12l15-12 11-13-14 26zm-14 23l14-23 12 1-15 17zm-15-41l15 41 11-5-14-32zm-57 3l14-1 12 2-14 9zm-57-4l14 1 11-1-14-6zm-15 0l15 0 11-6-14-4zm-43 0l15 1 11 8-14-21zm-14 3l14-3 12-12-15 4zm-14-15l14 15 11-11-14 0zm-58 22l15-6 11-15-14 7zm-143-104l14 27 12-27-15 0zm-43-9l14 8 12 0-15 11zm-57-8l14-13 11 1-14 20zm-86 174l14-157 11-34-14 28z"/>
<path fill="#336" d="M5938 1441l14 23 11 6-14-18zm-617-13l14-38 12-9-15 21zm-57 48l14-19 11-12-14 20zm-86-1l14-10 11-1-14-4zm-101-29l14-2 12 4-14-5zm-14 2l14-2 12-3-15 8zm-15-2l15 2 11 3-14-3zm-28 1l14 0 12 10-15-11zm-15 0l15 0 11-1-14-2zm-14-3l14 3 12-3-15-1zm-57 0l14 8 11-27-14 27zm-58 4l15-17 11 4-14-8zm-143-65l14 26 12-18-15-20zm-14-4l14 4 11-12-14-5zm-43-24l14-6 11 0-14-4zm-15-7l15 7 11-10-14 3zm-28 7l14-15 11 19-14-16zm-15-15l15 15 11-12-14 31zm-57 24l14-53 12-25-15-34z"/>
<path fill="#334" d="M5909 1342l14 12 12 26-15-17zm-57 13l14 12 11 0-14-13zm-445-80l14-16 12-11-15 25zm-875-89l15 119 11-104-14 94z"/>
<path fill="#446" d="M5895 1363l14-21 11 21-14 8zm-29 4l14-3 12 17-15-14zm-29-26l15 14 11-1-14-5zm-14-9l14 9 12 8-15-9zm-430-32l14-25 11-2-14 10zm-15 20l15-20 11-17-14 13zm-14 22l14-22 12-24-15 32zm-14 25l14-25 11-14-14 28z"/>
<path fill="#558" d="M5880 1364l15-1 11 8-14 10z"/>
<path fill="#779" d="M5809 1328l14 4 11 8-14-29z"/>
<path fill="#556" d="M5794 1297l15 31 11-17-14-19zm-14-57l14 57 12-5-15-51zm-14 22l14-22 11 1-14 25zm-15-87l15 87 11 4-14-86zm-186 29l14 23 11-7-14-16zm-15 11l15-11 11 0-14 16zm-14 6l14-6 12 5-15 7zm-29 28l15 4 11-21-14 11zm-14 2l14-2 12-6-15-8zm-57-35l14 38 11-13-14-15zm-15 43l15-43 11 10-14 22z"/>
<path fill="#999" d="M5737 1177l14-2 12 5-15-10zm-43 18l14 22 12-19-15-19zm-43-21l14 8 12-11-15 9zm-15 5l15-5 11 6-14-4zm-14 3l14-3 12-3-14 8zm-14 10l14-10 12 2-15 1zm-15 17l15-17 11-7-14 8z"/>
<path fill="#778" d="M5722 1212l15-35 11-7-14 29zm-14 5l14-5 12-13-14-1zm-129 10l14-18 12-16-15 27zm-57 26l14-32 11 6-14 5z"/>
<path fill="#bbb" d="M5679 1185l15 10 11-16-14-8z"/>
<path fill="#777" d="M5665 1182l14 3 12-14-14 0z"/>
<path fill="#668" d="M5479 1269l14-18 11-16-14 22zm-15 7l15-7 11-12-14 7zm-14-22l14 22 12-12-15-23z"/>
<path fill="#338" d="M5249 1482l15-6 11-11-14-6zm-14-8l14 8 12-23-15 2zm-287-22l14-9 12-10-15-8zm-100-5l14 2 11-24-14 7zm-29 10l14-4 12-14-15-4z"/>
<path fill="#55b" d="M4805 1450l14 7 11-22-14-15zm-15-6l15 6 11-30-14-4zm-14-7l14 7 12-28-15-2z"/>
<path fill="#66b" d="M4704 1376l15 3 11-13-14-17z"/>
<path fill="#112" d="M4604 1319l14 21 12 34-15-54zm-86 30l14-163 12 109-15 20zm-29 237l15-80 11-163-14 120z"/>
<path fill="#448" d="M4575 1311l15 21 11 8-14-54z"/>
<path fill="#669" d="M4547 1305l14 59 11-112-14-51z"/>
<path fill="#116" d="M4475 1793l14-207 12-123-15 219z"/>
<path fill="#55f" d="M6299 1680l14 1 12-16-15-1zm-14-2l14 2 11-16-14-2zm-15-1l15 1 11-16-14-1zm-14-2l14 2 12-16-15-2zm-14-1l14 1 11-16-14-1zm-15 1l15-1 11-16-14 1zm-43 25l15-15 11-16-14 17z"/>
<path fill="#44b" d="M6213 1682l14-7 12-16-15 7z"/>
<path fill="#44d" d="M6199 1685l14-3 11-16-14 3z"/>
<path fill="#44f" d="M6170 1723l14-23 12-14-15 23zm-14 34l14-34 11-14-14 31z"/>
<path fill="#33f" d="M6141 1793l15-36 11-17-14 33zm-28 5l14 10 11-24-14-6zm-29-46l14 14 12-5-15-27z"/>
<path fill="#22d" d="M6127 1808l14-15 12-20-15 11z"/>
<path fill="#22b" d="M6098 1766l15 32 11-20-14-17z"/>
<path fill="#33d" d="M6070 1718l14 34 11-18-14-46z"/>
<path fill="#33b" d="M6055 1687l15 31 11-30-14-20z"/>
<path fill="#228" d="M6041 1655l14 32 12-19-15-28zm-1563-121l14-106 12 78-15 80z"/>
<path fill="#55d" d="M6027 1650l14 5 11-15-14-28z"/>
<path fill="#338" d="M6012 1600l15 50 11-38-14-26zm-1176-137l15 4 11-18-14-2zm-71-4l14-3 11-12-14-7zm-15-20l15 20 11-22-14-13zm-258-11l14-63 12-16-14 157z"/>
<path fill="#224" d="M5998 1567l14 33 12-14-15-24zm-14-31l14 31 11-5-14-26zm-15-27l15 27 11 0-14-23zm-14-25l14 25 12 4-15-20zm-14-30l14 30 11 9-14-29zm-631-19l14-21 11-24-14 38zm-15-3l15 3 11-7-14-5zm-14-6l14 6 12-9-15-1zm-14 34l14-34 11-4-14 35zm-15 21l15-21 11-3-14 19zm-28 0l14 3 11-2-14-8zm-15 2l15-2 11-7-14-2zm-14-5l14 5 12-11-15 0zm-15-6l15 6 11-6-14-7zm-28-12l14 6 12 9-15-19zm-15-7l15 7 11-4-14-5zm-28 11l14-28 12 14-15 12zm-15 16l15-16 11-2-14 23zm-14-41l14 41 12 5-15-41zm-14 6l14-6 11 5-14 2zm-58-1l15 12 11-9-14 0zm-71-3l14 1 11 1-14 9zm-29 9l14 1 12-7-15-1zm-43 9l14-2 12-26-15 17zm-14 8l14-8 11-11-14 1zm-29 0l14-4 12-16-15 6zm-14-10l14 10 11-14-14 4zm-15 5l15-5 11 0-14-7zm-201-134l15 10 11 2-14-21zm-14 13l14-13 12-9-14 13zm-14-21l14 21 12-9-15-21zm-15 37l15-37 11-9-14 53zm-14-37l14 37 12 7-14-59z"/>
<path fill="#446" d="M5926 1415l15 39 11 10-14-23zm-43-56l15-33 11 16-14 21zm-14 8l14-8 12 4-15 1zm-14-6l14 6 11-3-14 3zm-15-6l15 6 11 6-14-12zm-473-13l14-34 12-8-15 20zm-14 22l14-22 11-22-14 22zm-15 16l15-16 11-22-14 25zm-14 34l14-34 12-13-15 23z"/>
<path fill="#334" d="M5912 1344l14 71 12 26-15-87zm-86-3l14 14 12 0-15-14zm-15 0l15 0 11 0-14-9zm-28-37l14 10 12 14-15-31zm-330-22l14 3 12-16-15 7z"/>
<path fill="#668" d="M5898 1326l14 18 11 10-14-12zm-101-12l14 27 12-9-14-4zm-330-29l15-19 11-15-14 18zm-28-22l14 19 11-6-14-22zm-43 26l14-24 11-6-14 16zm-15 19l15-19 11-14-14 25z"/>
<path fill="#889" d="M5768 1257l15 47 11-7-14-57zm-344-23l15 29 11-9-14-38z"/>
<path fill="#778" d="M5754 1263l14-6 12-17-14 22zm-57-51l14 18 11-18-14 5zm-115 2l14-19 12-3-15 17zm-14 28l14-28 11-5-14 18zm-43 4l14-31 11 0-14 6zm-29 12l14-8 12 3-15-4z"/>
<path fill="#999" d="M5740 1195l14 68 12-1-15-87zm-15-8l15 8 11-20-14 2zm-43 29l15-4 11 5-14-22zm-28-25l14 10 11-16-14-3zm-15-2l15 2 11-9-14-8zm-28 4l14-7 11-7-14 3zm-15 2l15-2 11-11-14 10zm-43 22l15 25 11-15-14-23zm-14-2l14 2 12-13-15 11z"/>
<path fill="#777" d="M5711 1230l14-43 12-10-15 35zm-86-44l14 3 12-15-15 5z"/>
<path fill="#bbb" d="M5668 1201l14 15 12-21-15-10z"/>
<path fill="#556" d="M5510 1250l15-4 11-25-14 32zm-28 16l14-8 11-9-14 2zm-72-1l14-31 12-18-15 43z"/>
<path fill="#336" d="M5238 1484l14-3 12-5-15 6zm-72-18l14 6 12-7-14 10zm-43-30l14 17 12-2-14-1zm-72 13l15-4 11 1-14 2zm-14-2l14 2 12-1-15-2zm-14 9l14-9 11-1-14 1zm-29-14l14 2 12 3-15 0zm-14 3l14-3 11 5-14-3zm-15-4l15 4 11-1-14-1zm-14 1l14-1 12 2-15 0zm-29 9l15-10 11 11-14-8zm-28 2l14-3 11-7-14 3zm-172-59l14 28 11-13-14-26zm-15 7l15-7 11-11-14-4zm-14-14l14 14 12-22-15-3zm-14-28l14 28 11-11-14-27zm-15-5l15 5 11-10-14 6zm-14-7l14 7 12 1-15-7zm-14-10l14 10 11 1-14-8zm-29 1l14 1 12 16-15-15z"/>
<path fill="#449" d="M4879 1457l15-4 11-7-14-15z"/>
<path fill="#226" d="M4779 1456l14 6 12-12-15-6z"/>
<path fill="#448" d="M4736 1422l14 17 12-15-15-15zm-115-83l15-2 11 3-14 15z"/>
<path fill="#558" d="M4521 1301l14 19 12-15-15-119z"/>
<path fill="#112" d="M4506 1365l15-64 11-115-14 163z"/>
<path fill="#004" d="M4463 1792l15-258 11 52-14 207z"/>
<path fill="#55f" d="M6288 1696l14 1 11-16-14-1zm-15-2l15 2 11-16-14-2zm-14-1l14 1 12-16-15-1zm-14-2l14 2 11-16-14-2zm-15-1l15 1 11-16-14-1zm-14 1l14-1 12-16-15 1zm-43 14l14-6 12-14-15 15z"/>
<path fill="#44b" d="M6202 1697l14-6 11-16-14 7zm-15 2l15-2 11-15-14 3z"/>
<path fill="#33b" d="M6159 1731l14-26 11-5-14 23zm-15 28l15-28 11-8-14 34zm-71-23l14 29 11 1-14-14z"/>
<path fill="#33f" d="M6130 1783l14-24 12-2-15 36zm-14 11l14-11 11 10-14 15zm-15-10l15 10 11 14-14-10z"/>
<path fill="#22b" d="M6087 1765l14 19 12 14-15-32z"/>
<path fill="#229" d="M6058 1702l15 34 11 16-14-34z"/>
<path fill="#228" d="M6044 1665l14 37 12 16-15-31z"/>
<path fill="#338" d="M6030 1639l14 26 11 22-14-32z"/>
<path fill="#114" d="M6015 1613l15 26 11 16-14-5z"/>
<path fill="#226" d="M6001 1580l14 33 12 37-15-50zm-1535 23l15-110 11-65-14 106z"/>
<path fill="#336" d="M5987 1553l14 27 11 20-14-33zm-15-40l15 40 11 14-14-31zm-14-23l14 23 12 23-15-27zm-14-28l14 28 11 19-14-25zm-660-42l14-3 12 18-15-3zm-15 30l15-30 11 12-14-6zm-14 18l14-18 12-24-14 34zm-29 19l15 0 11-6-14 3zm-14 6l14-6 12-3-14-3zm-29-19l15 10 11-1-14-5zm-14-10l14 10 12 4-15-6zm-14 4l14-4 11 8-14-6zm-15-14l15 14 11-2-14-6zm-14-2l14 2 12 6-15-7zm-14-1l14 1 11 1-14-17zm-72-13l14-5 12 12-15 4zm-57 4l14-2 11 4-14-2zm-15 0l15 0 11 0-14 3zm-14 2l14-2 12 3-15-4zm-14 2l14-2 11-3-14 1zm-15-7l15 7 11-4-14-1zm-28-2l14-4 11 18-14-1zm-43-14l14 27 11 7-14 2zm-15 34l15-34 11 36-14 8zm-57 8l14 3 12-11-15 5zm-29-6l15 0 11-3-14 3zm-14-11l14 11 12 0-15-20zm-43-48l14-1 12-5-15 7zm-43-38l14-14 12 11-15-5zm-43-25l14 5 12-5-15 2zm-15-7l15 7 11 2-14-1z"/>
<path fill="#446" d="M5929 1427l15 35 11 22-14-30zm-86-76l14 8 12 8-14-6zm-516 45l14-30 12-2-15 16z"/>
<path fill="#334" d="M5915 1421l14 6 12 27-15-39zm-15-85l15 85 11-6-14-71zm-14-4l14 4 12 8-14-18zm-29 27l15-7 11 7-14 8zm-71-37l14-1 11 20-14-27zm-15-15l15 15 11-8-14-10zm-401 6l14-17 12-7-15 19zm-14 30l14-30 11-5-14 34zm-15 23l15-23 11-1-14 22z"/>
<path fill="#556" d="M5872 1352l14-20 12-6-15 33zm-115-89l14 44 12-3-15-47zm-201-21l15-13 11-15-14 28zm-100 45l14-11 12-10-15 19zm-57-6l14-8 11-39-14 31z"/>
<path fill="#668" d="M5829 1343l14 8 12 10-15-6zm-15-4l15 4 11 12-14-14zm-14-18l14 18 12 2-15 0zm-358-32l14-2 11-2-14-3zm-15-16l15 16 11-7-14-19zm-43 23l15-15 11-16-14 24z"/>
<path fill="#778" d="M5743 1256l14 7 11-6-14 6zm-215-19l14-7 11-13-14-2zm-15 18l15-18 11-22-14 31zm-14 5l14-5 12-9-15 4zm-14 8l14-8 11-10-14 8zm-15 8l15-8 11-10-14 8z"/>
<path fill="#999" d="M5728 1203l15 53 11 7-14-68zm-28 47l14-30 11-33-14 43zm-86-48l14 1 11-14-14-3zm-29 5l14 3 12-17-15 2zm-14 22l14-22 11-12-14 19zm-29 1l14 12 12 0-15-25z"/>
<path fill="#777" d="M5714 1220l14-17 12-8-15-8zm-115-10l15-8 11-16-14 7z"/>
<path fill="#bbb" d="M5685 1235l15 15 11-20-14-18zm-14-1l14 1 12-23-15 4zm-14-14l14 14 11-18-14-15zm-15-11l15 11 11-19-14-10z"/>
<path fill="#baa" d="M5628 1203l14 6 12-18-15-2z"/>
<path fill="#ccd" d="M5413 1273l14 0 12-10-15-29z"/>
<path fill="#224" d="M5312 1411l15-15 11-16-14 34zm-71 76l14-19 12-8-15 21zm-43-3l14 9 12-12-15 2zm-101-20l15-13 11-15-14 28zm-28-33l14 31 11 18-14-41zm-15 2l15-2 11 8-14 6zm-28 1l14 4 11 11-14-2zm-29 6l14-3 12 19-15-12zm-86-7l14 6 12 2-15 10zm-29 11l15-7 11 13-14 3zm-14 6l14-6 12 9-15 4zm-43 6l14 1 12 10-15-4zm-14 8l14-8 11 7-14 4zm-15 4l15-4 11 3-14-10zm-28-9l14 6 11-3-14-6zm-43-31l14 20 11-9-14-17zm-15-29l15 29 11-6-14-28zm-29-14l15 15 11 1-14-14zm-14-37l14 37 12 2-14-28zm-29-3l15 17 11-8-14-7zm-14-3l14 3 12 2-14-10zm-43-16l14 4 12 8-15-10zm-29 37l15-15 11-7-14-21zm-43 8l15-30 11-21-14-19z"/>
<path fill="#669" d="M5298 1417l14-6 12 3-14 21z"/>
<path fill="#448" d="M5083 1462l14 2 12 0-15 16z"/>
<path fill="#559" d="M5011 1437l15-3 11 13-14 9z"/>
<path fill="#112" d="M4567 1348l14-22 11 2-14 13zm-29 92l14-77 12-43-15 37zm-14-99l14 99 11-83-14-37zm-29 19l14 11 12-70-15 64zm-14 133l14-133 11 5-14 63z"/>
<path fill="#004" d="M4452 1854l14-251 12-69-15 258z"/>
<path fill="#55f" d="M6276 1712l15 1 11-16-14-1zm-14-2l14 2 12-16-15-2zm-14-1l14 1 11-16-14-1zm-15-2l15 2 11-16-14-2zm-14-1l14 1 12-16-15-1zm-14 0l14 0 11-16-14 1zm-43 8l14-5 11-10-14 6z"/>
<path fill="#44b" d="M6190 1710l15-4 11-15-14 6zm-14-1l14 1 12-13-15 2z"/>
<path fill="#33b" d="M6147 1726l15-12 11-9-14 26zm-86-38l15 24 11 53-14-29z"/>
<path fill="#44f" d="M6133 1739l14-13 12 5-15 28zm-14 15l14-15 11 20-14 24zm-29-19l14 19 12 40-15-10zm-14-23l14 23 11 49-14-19z"/>
<path fill="#33f" d="M6104 1754l15 0 11 29-14 11z"/>
<path fill="#228" d="M6047 1661l14 27 12 48-15-34z"/>
<path fill="#338" d="M6032 1615l15 46 11 41-14-37z"/>
<path fill="#226" d="M6018 1594l14 21 12 50-14-26z"/>
<path fill="#224" d="M6004 1570l14 24 12 45-15-26zm-15-23l15 23 11 43-14-33zm-688-143l14-4 12-4-15 15zm-43 43l14-8 12-19-15 30zm-14 24l14-24 11 3-14 18zm-15 14l15-14 11-3-14 19zm-28-1l14 1 11 2-14 6zm-29-1l14-1 12 2-15-10zm-29-16l15 10 11-13-14 4zm-14-6l14 6 12 1-15-14zm-14-6l14 6 11-7-14-2zm-58-29l15 23 11 13-14-31zm-43 2l15-1 11 11-14-4zm-14-4l14 4 12 6-15 3zm-29 6l15-1 11 11-14 2zm-14-2l14 2 12 12-15 0zm-43 1l14-3 12 20-15-7zm-43 5l14 0 12 3-15 7zm-29-9l15 14 11 11-14-27zm-14 28l14-28 12-2-15 34zm-29 3l15-8 11 8-14 8zm-14 1l14-1 12 8-15 4zm-15 0l15 0 11 11-14-3zm-57-31l14 12 12 10-14-20zm-14-31l14 31 12 2-15-29zm-43-44l14 25 11 9-14-37zm-15 5l15-5 11-3-14 14zm-14-3l14 3 12 6-15-17zm-29-18l15-5 11 12-14-5zm-57 2l14 3 12 8-15 15z"/>
<path fill="#336" d="M5975 1521l14 26 12 33-14-27zm-14-37l14 37 12 32-15-40zm-15-31l15 31 11 29-14-23zm-731 32l14 0 12 2-15 0zm-29-3l15 2 11 9-14-9zm-86-14l15-13 11-3-14-1zm-14-22l14 22 12-17-15 13zm-14 3l14-3 11 18-14-2zm-29-10l14-13 12 5-15 2zm-14-12l14 12 11-6-14 5zm-43 2l14-5 11 13-14 3zm-43-1l14 0 11 14-14 2zm-43 3l14-2 11 10-14-6zm-15 3l15-3 11 2-14 4zm-28 5l14-5 11 10-14 6zm-43 9l14 5 11 4-14-1zm-58 6l14 3 12 8-14-6zm-14-1l14 1 12 5-15 0zm-15-15l15 15 11 6-14-11zm-43-50l15 7 11 4-14 1zm-14-12l14 12 12 12-15-15z"/>
<path fill="#446" d="M5932 1426l14 27 12 37-14-28zm-14-27l14 27 12 36-15-35zm-15-22l15 22 11 28-14-6zm-559-16l14-27 12-21-14 30zm-14 13l14-13 12-18-15 23zm-43 67l14-37 11 7-14 6zm-674-111l14 23 11-8-14-3zm-29 7l14-2 12 2-15-7z"/>
<path fill="#334" d="M5889 1338l14 39 12 44-15-85zm-57 8l14-3 11 16-14-8zm-517 54l15-26 11-8-14 30z"/>
<path fill="#668" d="M5875 1334l14 4 11-2-14-4zm-15 7l15-7 11-2-14 20zm-14 2l14-2 12 11-15 7zm-29-10l15 13 11 5-14-8zm-28 11l14-17 11 12-14-18zm-359-43l15-9 11-5-14 2zm-57 18l14-17 12-21-15 15z"/>
<path fill="#556" d="M5803 1327l14 6 12 10-15-4zm-29-2l15 19 11-23-14 1zm-14-13l14 13 12-3-15-15zm-244-53l15-12 11-17-14 7zm-28 25l14-12 11-17-14 5zm-29 7l14-5 12-18-15 8zm-72 11l14-13 12-16-14 8zm-29 32l15-15 11-23-14 17z"/>
<path fill="#778" d="M5746 1270l14 42 11-5-14-44zm-244 2l14-13 12-22-15 18zm-29 14l15-2 11-24-14 8zm-28 6l14-1 11-15-14 11z"/>
<path fill="#999" d="M5731 1233l15 37 11-7-14-7zm-14-23l14 23 12 23-15-53zm-14 41l14-41 11-7-14 17zm-15 21l15-21 11-31-14 30zm-28-25l14 6 11-18-14-1zm-72-19l14-3 12-23-15 8zm-29 14l15-16 11-19-14 22zm-14 18l14-18 12-13-15 13z"/>
<path fill="#bbb" d="M5674 1253l14 19 12-22-15-15zm-29-17l15 11 11-13-14-14zm-14-6l14 6 12-16-15-11zm-57-4l14 2 11-18-14-3zm-43 21l14 13 11-18-14-12z"/>
<path fill="#baa" d="M5617 1224l14 6 11-21-14-6zm-15 1l15-1 11-21-14-1z"/>
<path fill="#aab" d="M5416 1296l14 5 12-12-15-16z"/>
<path fill="#889" d="M5401 1289l15 7 11-23-14 0z"/>
<path fill="#669" d="M5272 1439l15 2 11-24-14 3z"/>
<path fill="#448" d="M5158 1477l14 6 11-9-14-10zm-230-51l15 2 11 16-14 2z"/>
<path fill="#112" d="M4570 1324l14 13 11-7-14-4zm-15 16l15-16 11 2-14 22zm-28 50l14-53 11 26-14 77zm-15-38l15 38 11 50-14-99zm-28 157l14-137 11-1-14-11zm-15 63l15-63 11-149-14 133z"/>
<path fill="#000" d="M4498 1372l14-20 12-11-15 30z"/>
<path fill="#114" d="M4455 1705l14-133 12-79-15 110z"/>
<path fill="#004" d="M4441 1858l14-153 11-102-14 251z"/>
<path fill="#44f" d="M6265 1802l14 47 12-136-15-1z"/>
<path fill="#55f" d="M6251 1726l14 76 11-90-14-2zm-15-1l15 1 11-16-14-1zm-14-2l14 2 12-16-15-2zm-14-1l14 1 11-16-14-1zm-15 0l15 0 11-16-14 0zm-43-5l15 3 11-11-14 5zm-29-4l15-1 11 14-14 13zm-14-7l14 7 12 26-14 15zm-14-17l14 17 12 48-15 0zm-15-19l15 19 11 65-14-19zm-14-17l14 17 12 65-14-23z"/>
<path fill="#44b" d="M6179 1724l14-2 12-16-15 4zm-43-12l14 5 12-3-15 12z"/>
<path fill="#44d" d="M6165 1720l14 4 11-14-14-1z"/>
<path fill="#55d" d="M6050 1626l14 27 12 59-15-24z"/>
<path fill="#55b" d="M6035 1594l15 32 11 62-14-27z"/>
<path fill="#336" d="M6021 1566l14 28 12 67-15-46zm-57-99l14 27 11 53-14-26zm-746 30l14-23 12-3-15 14zm-29-17l15 6 11-1-14-1zm-14 5l14-5 12 4-15-2zm-14 0l14 0 11-3-14 1zm-58-32l15 9 11-1-14-6zm-57-30l14 9 12 17-15-23zm-29-2l15 1 11 17-14-12zm-28-2l14 1 11 8-14-4zm-43-1l14 11 11 1-14-2zm-29 13l14-3 12 0-15-2zm-15-14l15 14 11-5-14 3zm-28-1l14 4 12 11-15 3zm-15 8l15-8 11 18-14 0zm-14-4l14 4 12 10-14 5zm-14 0l14 0 12 19-15-14zm-58-10l15 22 11 24-14 1zm-57 22l14 12 12 9-15-15zm-14-26l14 26 11 6-14-12zm-29-31l14 14 12 6-15-7zm-14-13l14 13 11 13-14-12z"/>
<path fill="#448" d="M6007 1540l14 26 11 49-14-21zm-15-23l15 23 11 54-14-24zm-14-23l14 23 12 53-15-23zm-946-72l14 1 11 3-14 13zm-273 19l14-31 12 47-15 0z"/>
<path fill="#224" d="M5949 1436l15 31 11 54-14-37zm-702 17l14-29 11 15-14 8zm-15 21l15-21 11-6-14 24zm-28 12l14 11 11-12-14 0zm-58-6l15 5 11-2-14-6zm-14-11l14 11 12-3-15-10zm-14-7l14 7 11-2-14-6zm-29-31l14 22 12 2-15 13zm-14 10l14-10 11 37-14-22zm-15-9l15 9 11 5-14 3zm-57-12l14 1 12 6-15 1zm-29-1l15 0 11 5-14 5zm-14 10l14-10 12 10-15 1zm-29-1l15-10 11 10-14 0zm-43-8l14-3 12 12-14 2zm-143 26l14-5 11 16-14-3zm-15-2l15 2 11 8-14-1zm-43-55l15 17 11 20-14-31zm-43-36l15 9 11 14-14-25zm-114 20l14-9 11-24-14-3z"/>
<path fill="#334" d="M5935 1423l14 13 12 48-15-31zm-559-97l14-10 11-27-14 13zm-29 30l14-10 12-27-15 15zm-43 43l14-11 12-14-15 26z"/>
<path fill="#446" d="M5921 1393l14 30 11 30-14-27zm-15-9l15 9 11 33-14-27zm-573-14l14-14 11-22-14 27zm-15 18l15-18 11-9-14 13zm-28 28l14-17 11 1-14 4zm-29 8l14 0 12 17-15-2zm-631-74l14 3 12-2-15 5zm-14 2l14-2 11 6-14-3z"/>
<path fill="#668" d="M5892 1356l14 28 12 15-15-22zm-488-45l15 1 11-11-14-5z"/>
<path fill="#556" d="M5878 1337l14 19 11 21-14-39zm-29-10l14 3 12 4-15 7zm-14 6l14-6 11 14-14 2zm-15 3l15-3 11 10-14 3zm-28-4l14 1 11 0-14-6zm-15 17l15-17 11-5-14 17zm-14-17l14 17 12-5-15-19zm-14-21l14 21 11-7-14-13zm-15-43l15 43 11 1-14-42zm-229 14l14-10 12-25-15 12zm-15 21l15-21 11-23-14 13zm-28 4l14-8 12-15-15 2zm-29-8l14 9 12-17-14 1zm-72 47l15-20 11-24-14 17z"/>
<path fill="#778" d="M5863 1330l15 7 11 1-14-4zm-57 3l14 3 12 10-15-13zm-359-25l15-1 11-21-14 5zm-28 4l14-13 12-7-15 9z"/>
<path fill="#777" d="M5720 1218l14 50 12 2-15-37zm-14 4l14-4 11 15-14-23zm-15 47l15-47 11-12-14 41z"/>
<path fill="#999" d="M5677 1295l14-26 12-18-15 21zm-14-25l14 25 11-23-14-19zm-15-10l15 10 11-17-14-6zm-71-11l14-6 11-18-14 3zm-15-11l15 11 11-21-14-2zm-14 22l14-22 12-12-15 16zm-14 22l14-22 11-18-14 18z"/>
<path fill="#bbb" d="M5634 1250l14 10 12-13-15-11zm-14 6l14-6 11-14-14-6zm-15-10l15 10 11-26-14-6zm-14-3l14 3 12-22-15 1zm-72 29l15 10 11-22-14-13z"/>
<path fill="#889" d="M5476 1299l14 4 12-31-14 12zm-86 17l14-5 12-15-15-7z"/>
<path fill="#669" d="M5275 1424l15-8 11-12-14 37zm-674-72l15 0 11 1-14-23z"/>
<path fill="#66b" d="M4816 1424l15-4 11 5-14 28zm-28 8l14-5 12 21-15 8z"/>
<path fill="#559" d="M4802 1427l14-3 12 29-14-5z"/>
<path fill="#558" d="M4587 1351l14 1 12-22-15 5zm-29 5l15 17 11-36-14-13z"/>
<path fill="#112" d="M4573 1373l14-22 11-16-14 2zm-29-9l14-8 12-32-15 16zm-29 9l15 0 11-36-14 53zm-43 125l15-5 11-121-14 137zm-14 274l14-274 12 11-15 63z"/>
<path fill="#000" d="M4501 1412l14-39 12 17-15-38zm-14 81l14-81 11-60-14 20z"/>
<path fill="#118" d="M4444 1819l14-47 11-200-14 133z"/>
<path fill="#004" d="M4429 1886l15-67 11-114-14 153z"/>
<path fill="#33f" d="M6254 1868l14 76 11-95-14-47z"/>
<path fill="#44f" d="M6239 1742l15 126 11-66-14-76z"/>
<path fill="#55f" d="M6225 1741l14 1 12-16-15-1zm-15-2l15 2 11-16-14-2zm-14-1l14 1 12-16-14-1zm-14-1l14 1 12-16-15 0z"/>
<path fill="#44d" d="M6167 1736l15 1 11-15-14 2z"/>
<path fill="#55d" d="M6153 1707l14 29 12-12-14-4zm-14-25l14 25 12 13-15-3z"/>
<path fill="#66f" d="M6124 1663l15 19 11 35-14-5zm-14-9l14 9 12 49-15 1zm-14-11l14 11 11 59-14-7zm-15-17l15 17 11 63-14-17z"/>
<path fill="#77f" d="M6067 1601l14 25 12 63-15-19zm-14-25l14 25 11 69-14-17z"/>
<path fill="#88f" d="M6038 1558l15 18 11 77-14-27z"/>
<path fill="#77d" d="M6024 1534l14 24 12 68-15-32z"/>
<path fill="#66b" d="M6010 1511l14 23 11 60-14-28z"/>
<path fill="#669" d="M5995 1487l15 24 11 55-14-26zm-14-18l14 18 12 53-15-23zm-1377-86l15-6 11-27-14 2zm-57 29l14 1 12-40-15-17z"/>
<path fill="#446" d="M5967 1445l14 24 11 48-14-23zm-646-60l15-10 11-19-14 14zm-14 13l14-13 12-15-15 18zm-14 14l14-14 11-10-14 11zm-15 9l15-9 11-13-14 17zm-14 2l14-2 12-5-15 8zm-14 25l14-25 11 1-14 0zm-215-21l14-11 11 16-14-9zm-15 6l15-6 11-4-14-1zm-29-18l15 7 11-1-14-1zm-14 1l14-1 12 5-14-1zm-14 1l14-1 12 3-15 0zm-287-34l14 10 12 13-15-17zm-14-15l14 15 11 6-14-14zm-15-8l15 8 11 7-14-13z"/>
<path fill="#334" d="M5952 1419l15 26 11 49-14-27zm-14-20l14 20 12 48-15-31zm-14-26l14 26 11 37-14-13zm-574-5l14-13 12-29-15 20zm-14 7l14-7 11-22-14 10zm-703-6l14-9 12 2-15-9z"/>
<path fill="#889" d="M5909 1367l15 6 11 50-14-30zm-545-12l15-6 11-33-14 10z"/>
<path fill="#556" d="M5895 1344l14 23 12 26-15-9zm-14-8l14 8 11 40-14-28zm-58-22l15 6 11 7-14 6zm-43 15l15-22 11 26-14-1zm-43-12l15 8 11 7-14-21zm-244-6l15-17 11-22-14 10zm-14 2l14-2 12-29-15 21zm-14 9l14-9 11-10-14-4zm-15 10l15-10 11-23-14 8zm-43-5l15-2 11-26-14 13z"/>
<path fill="#778" d="M5866 1336l15 0 11 20-14-19zm-14-5l14 5 12 1-15-7zm-14-11l14 11 11-1-14-3zm-72 17l14-8 12 3-15 17zm-14-12l14 12 11 12-14-17zm-29-51l14 43 12-6-15-43zm-72-8l15 52 11-23-14-25zm-14 0l14 0 12 4-15-10zm-15 14l15-14 11-6-14-10zm-86-11l15-3 11-28-14 22z"/>
<path fill="#999" d="M5809 1300l14 14 12 19-15 3zm-143 18l14-33 11-16-14 26zm-58-51l14 13 12-30-14 6zm-43-4l14 5 12-25-14 6zm-43 34l14-28 12-9-14 22z"/>
<path fill="#aab" d="M5795 1307l14-7 11 36-14-3zm-359 20l14 5 12-25-15 1zm-14-2l14 2 11-19-14-9z"/>
<path fill="#777" d="M5709 1200l14 74 11-6-14-50zm-29 85l14-57 12-6-15 47z"/>
<path fill="#988" d="M5694 1228l15-28 11 18-14 4z"/>
<path fill="#bbb" d="M5594 1265l14 2 12-11-15-10zm-15 3l15-3 11-19-14-3zm-28-2l14-3 12-14-15-11zm-43 28l14 3 12-15-15-10z"/>
<path fill="#668" d="M5393 1323l14 4 12-15-15-1zm-14 26l14-26 11-12-14 5z"/>
<path fill="#336" d="M5235 1466l15-18 11-24-14 29zm-14 11l14-11 12-13-15 21zm-14 10l14-10 11-3-14 23zm-15-3l15 3 11 10-14-11zm-14 13l14-13 12 2-15-6zm-29-4l15-3 11-5-14 0zm-28-15l14 13 11-11-14-11zm-72-62l14 21 12 4-15-9zm-115 3l14 1 12 9-14-11zm-57-3l14 2 11-1-14 3zm-15-7l15 7 11 4-14-4zm-14-3l14 3 12 7-15 8zm-14-3l14 3 11 18-14-4zm-15 6l15-6 11 17-14 0zm-14 1l14-1 12 11-15 4zm-72 21l15-1 11 11-14 5zm-28-23l14 20 11 16-14-12zm-15-15l15 15 11 24-14-26zm-157 32l14-13 11-56-14 8z"/>
<path fill="#224" d="M5164 1490l14 7 11-17-14 5zm-29 1l14 2 12-8-15-5zm-29-26l15 13 11-9-14-7zm-14-1l14 1 12-3-15-9zm-29-27l15 22 11-28-14 10zm-57-15l14 11 12-11-15-1zm-58-2l15-3 11 2-14 10zm-28 0l14-1 12-1-15 10zm-15-16l15 16 11 8-14 3zm-14 14l14-14 12 27-15-14zm-129 9l14-6 12 11-15-22zm-14 3l14-3 11-17-14 31zm-29-2l14 3 12 15-15-2zm-201 0l15-3 11-61-14 9zm-14 7l14-7 12-55-15 0z"/>
<path fill="#77b" d="M5078 1459l14 5 11-11-14-22zm-488-71l14-5 12-31-15 0zm-14 10l14-10 11-36-14-1z"/>
<path fill="#558" d="M4791 1409l14 1 11 14-14 3zm-172-32l14-8 11-16-14-3zm-58 36l15-15 11-47-14 22z"/>
<path fill="#448" d="M4776 1421l15-12 11 18-14 5z"/>
<path fill="#112" d="M4490 1441l14-6 11-62-14 39zm-15 125l15-125 11-29-14 81z"/>
<path fill="#000" d="M4461 1719l14-153 12-73-15 5z"/>
<path fill="#002" d="M4447 1898l14-179 11-221-14 274zm-15-88l15 88 11-126-14 47z"/>
<path fill="#00b" d="M4418 1772l14 38 12 9-15 67z"/>
<path fill="#44f" d="M6242 1746l14-1 12 199-14-76z"/>
<path fill="#55f" d="M6228 1748l14-2 12 122-15-126zm-29-18l14 21 12-10-15-2z"/>
<path fill="#55d" d="M6213 1751l15-3 11-6-14-1z"/>
<path fill="#44b" d="M6185 1723l14 7 11 9-14-1zm-15-24l15 24 11 15-14-1z"/>
<path fill="#66f" d="M6156 1713l14-14 12 38-15-1zm-14-30l14 30 11 23-14-29zm-15-36l15 36 11 24-14-25z"/>
<path fill="#55b" d="M6113 1619l14 28 12 35-15-19z"/>
<path fill="#77f" d="M6099 1604l14 15 11 44-14-9z"/>
<path fill="#88f" d="M6084 1585l15 19 11 50-14-11zm-14-20l14 20 12 58-15-17zm-14-16l14 16 11 61-14-25z"/>
<path fill="#88d" d="M6041 1525l15 24 11 52-14-25z"/>
<path fill="#99f" d="M6027 1509l14 16 12 51-15-18z"/>
<path fill="#558" d="M6013 1479l14 30 11 49-14-24zm-717-63l14 1 11-32-14 13z"/>
<path fill="#88b" d="M5998 1461l15 18 11 55-14-23z"/>
<path fill="#334" d="M5984 1424l14 37 12 50-15-24zm-29-24l15 27 11 42-14-24zm-631 6l15-18 11-20-14 7zm-71 40l14-14 11-11-14 2zm-603-81l15 21 11-3-14-15zm-28 29l14-15 11-19-14 9z"/>
<path fill="#aad" d="M5970 1427l14-3 11 63-14-18z"/>
<path fill="#556" d="M5941 1383l14 17 12 45-15-26zm-14-25l14 25 11 36-14-20zm-15-14l15 14 11 41-14-26zm-43-10l15-9 11 19-14-8zm-114 2l14-23 11 16-14 8zm-259-22l15-9 11-8-14-3zm-43 27l15-7 11-21-14 9zm-14 5l14-5 12-19-15 10zm-72 37l15-24 11-36-14 26z"/>
<path fill="#aab" d="M5898 1341l14 3 12 29-15-6z"/>
<path fill="#778" d="M5884 1325l14 16 11 26-14-23zm-101-21l15-4 11 0-14 7zm-43 2l15 30 11 1-14-12zm-14-3l14 3 12 19-15-8zm-15-34l15 34 11 14-14-43zm-57 43l14-17 12-10-14 33zm-14-46l14 46 12 6-15-52zm-72 25l14-10 12-16-15 3zm-43 3l14-14 12-14-15 3zm-43 34l14-14 12-20-15 17zm-14 6l14-6 11-17-14 2z"/>
<path fill="#999" d="M5855 1336l14-2 12 2-15 0zm-14-11l14 11 11 0-14-5zm-15-16l15 16 11 6-14-11zm-14-5l14 5 12 11-15-6zm-14-4l14 4 11 10-14-14zm-173-16l15-18 11 0-14 0zm-14-8l14 8 12-18-15 14zm-72 4l15 2 11-19-14 3zm-28 25l14-11 11-25-14 28z"/>
<path fill="#bbb" d="M5769 1313l14-9 12 3-15 22zm-215-31l14 9 11-23-14-5z"/>
<path fill="#988" d="M5697 1185l14 84 12 5-14-74zm-14 40l14-40 12 15-15 28z"/>
<path fill="#777" d="M5668 1295l15-70 11 3-14 57zm-71-17l14-2 11 4-14-13zm-15 3l15-3 11-11-14-2z"/>
<path fill="#889" d="M5425 1342l14 4 11-14-14-5zm-15 3l15-3 11-15-14-2zm-14-2l14 2 12-20-15 2z"/>
<path fill="#668" d="M5382 1359l14-16 11-16-14-4zm-72 58l14-11 12-31-15 10z"/>
<path fill="#99b" d="M5353 1393l14-10 12-34-15 6z"/>
<path fill="#779" d="M5339 1388l14 5 11-38-14 13z"/>
<path fill="#446" d="M5281 1424l15-8 11-18-14 14zm-14 8l14-8 12-12-15 9zm-29 29l15-15 11-23-14 25zm-215-25l14-20 12 0-14 11zm-14-4l14 4 12-9-15 6zm-43-5l14-6 11-6-14 1zm-29-3l14 2 12-9-15 3zm-14 2l14-2 11-4-14-1zm-15-10l15 10 11-7-14 1zm-129-10l15 8 11-4-14-1zm-100-19l14 17 12 4-15-15zm-14-1l14 1 11 6-14-10zm-29-7l14-14 12 3-15-8z"/>
<path fill="#336" d="M5224 1485l14-24 12-13-15 18zm-29 4l15 2 11-14-14 10zm-14 4l14-4 12-2-15-3zm-14 5l14-5 11-9-14 13zm-58-11l15 12 11-8-14-13zm-358-66l14 4 11-4-14 6zm-29 0l14 10 12-1-15 1zm-201 56l15-10 11-55-14 13z"/>
<path fill="#224" d="M5210 1491l14-6 11-19-14 11zm-58 10l15-3 11-1-14-7zm-14 10l14-10 12-11-15 3zm-14-12l14 12 11-18-14-2zm-72-65l14 38 12-13-15-22zm-15-18l15 18 11 3-14-21zm-43 12l15 4 11 1-14-11zm-14-7l14 7 12-6-15-7zm-29 5l15 1 11-11-14 1zm-57-2l14-8 12 4-15-16zm-14 3l14-3 11-20-14 14zm-15-10l15 10 11-9-14-2zm-14-4l14 4 12-1-15-7zm-14-1l14 1 11-4-14-3zm-15 6l15-6 11-6-14-3zm-14 4l14-4 12-15-15 6zm-14-8l14 8 11-13-14 1zm-29 11l14-19 12 3-15 12zm-29 6l15-10 11 6-14 3zm-28-10l14 0 11 10-14-3zm-15-17l15 17 11 7-14-20zm-86 6l15-16 11-25-14 8zm-100 81l14-14 12-52-15 3zm-15 13l15-13 11-63-14 7zm-14 8l14-8 12-69-14 6z"/>
<path fill="#559" d="M5095 1488l14-1 12-9-15-13zm-15-9l15 9 11-23-14-1zm-530-23l14-11 12-47-15 15zm-14 11l14-11 11-43-14-1z"/>
<path fill="#448" d="M5066 1472l14 7 12-15-14-5z"/>
<path fill="#669" d="M4593 1426l14-16 12-33-15 6z"/>
<path fill="#77b" d="M4579 1436l14-10 11-43-14 5zm-15 9l15-9 11-48-14 10z"/>
<path fill="#112" d="M4464 1635l14-123 12-71-15 125z"/>
<path fill="#000" d="M4449 1756l15-121 11-69-14 153z"/>
<path fill="#002" d="M4435 1913l14-157 12-37-14 179z"/>
<path fill="#00b" d="M4421 1919l14-6 12-15-15-88z"/>
<path fill="#00f" d="M4406 1918l15 1 11-109-14-38z"/>
<path fill="#66f" d="M6231 1723l14-20 11 42-14 1zm-15-8l15 8 11 23-14 2zm-14-10l14 10 12 33-15 3zm-14-4l14 4 11 46-14-21zm-15-4l15 4 11 29-14-7zm-14-18l14 18 12 26-15-24zm-14 17l14-17 11 20-14 14z"/>
<path fill="#77f" d="M6130 1669l15 27 11 17-14-30zm-14-46l14 46 12 14-15-36z"/>
<path fill="#88f" d="M6102 1605l14 18 11 24-14-28z"/>
<path fill="#99f" d="M6087 1567l15 38 11 14-14-15z"/>
<path fill="#77b" d="M6073 1549l14 18 12 37-15-19zm-14-16l14 16 11 36-14-20zm-15-16l15 16 11 32-14-16z"/>
<path fill="#88b" d="M6030 1503l14 14 12 32-15-24zm-14-27l14 27 11 22-14-16zm-15-20l15 20 11 33-14-30z"/>
<path fill="#779" d="M5987 1433l14 23 12 23-15-18z"/>
<path fill="#668" d="M5973 1415l14 18 11 28-14-37zm-603-37l15-23 11-12-14 16zm-14 40l14-40 12-19-15 24z"/>
<path fill="#556" d="M5958 1403l15 12 11 9-14 3zm-43-47l15 22 11 5-14-25zm-14-11l14 11 12 2-15-14zm-459 9l14-6 12-14-15 7zm-14 2l14-2 11-13-14 5zm-29-4l14 6 12-16-15 3zm-14 3l14-3 11-7-14-2z"/>
<path fill="#778" d="M5944 1383l14 20 12 24-15-27zm-14-5l14 5 11 17-14-17zm-58-44l15-1 11 8-14-16zm-28 4l14-19 11 15-14 2zm-15-2l15 2 11-2-14-11zm-14-28l14 28 12-11-15-16zm-72 21l14-19 12 3-14 23zm-14-18l14 18 12 7-15-30zm-258 20l14 1 11-18-14 14zm-15 17l15-17 11-3-14 6zm-43 10l15-2 11-10-14-4z"/>
<path fill="#999" d="M5887 1333l14 12 11-1-14-3zm-29-14l14 15 12-9-15 9zm-58-16l15 5 11 1-14-5zm-14-1l14 1 12 1-14-4zm-14-10l14 10 12-2-15 4zm-58 5l15 14 11-5-14-3zm-71 22l14-14 11-10-14 17zm-58-34l15-6 11-3-14 2zm-14 6l14-6 12-7-15 3zm-14 2l14-2 11-10-14 10zm-43 8l14-19 11-2-14 14zm-15 14l15-14 11-7-14 11zm-14 17l14-17 12-10-15 9z"/>
<path fill="#777" d="M5757 1310l15-18 11 12-14 9zm-57-52l14 39 12 6-15-34zm-43 47l14-79 12-1-15 70zm-29-39l15 53 11-7-14-46zm-14 19l14-19 12 0-15 18zm-14-6l14 6 11-1-14-8zm-58 9l15 5 11-2-14-9zm-14-6l14 6 12-6-15-2z"/>
<path fill="#988" d="M5686 1172l14 86 11 11-14-84z"/>
<path fill="#977" d="M5671 1226l15-54 11 13-14 40z"/>
<path fill="#99b" d="M5342 1415l14 3 11-35-14 10zm-15-5l15 5 11-22-14-5z"/>
<path fill="#446" d="M5313 1425l14-15 12-22-15 18zm-29 7l15-1 11-14-14-1zm-43 22l15-10 11-12-14 14zm-14 20l14-20 12-8-15 15zm-15 24l15-24 11-13-14 24zm-186-70l14 28 12-22-15-18zm-14 19l14-19 11-12-14 20zm-15 1l15-1 11-11-14-4zm-186-20l14 7 12-23-15 6zm-14-12l14 12 11-10-14 4zm-15 9l15-9 11 6-14-8zm-28-1l14 1 11-19-14 19zm-15 6l15-6 11 1-14-4zm-14-6l14 6 12-9-15 10zm-14 3l14-3 11 7-14-10zm-15-5l15 5 11-6-14 0zm-43-38l15 10 11-7-14-1zm-43 37l15-24 11-18-14 15z"/>
<path fill="#334" d="M5299 1431l14-6 11-19-14 11zm-29 11l14-10 12-16-15 8zm-14 2l14-2 11-18-14 8zm-588-50l14 8 11 2-14-17zm-43 3l14-10 11-22-14 14z"/>
<path fill="#224" d="M5198 1501l14-3 12-13-14 6zm-14 5l14-5 12-10-15-2zm-15 2l15-2 11-17-14 4zm-14 10l14-10 12-15-14 5zm-201-86l15 10 11-21-14 6zm-14 3l14-3 12-5-15-1zm-14 3l14-3 11-9-14-2zm-15-1l15 1 11-14-14 2zm-28 1l14-1 11-21-14 8zm-15 0l15 0 11-14-14 3zm-186-36l14 20 12-1-15-17zm-86 46l14-27 12-27-15 16zm-101 108l15-16 11-63-14 14zm-14 14l14-14 12-65-15 13zm-14 5l14-5 11-66-14 8z"/>
<path fill="#448" d="M5141 1516l14 2 12-20-15 3zm-58-13l15 3 11-19-14 1z"/>
<path fill="#336" d="M5126 1515l15 1 11-15-14 10zm-14-4l14 4 12-4-14-12zm-531-42l15-21 11-38-14 16zm-71 71l14-15 12-58-15 10z"/>
<path fill="#559" d="M5098 1506l14 5 12-12-15-12zm-29-5l14 2 12-15-15-9zm-545 24l14-14 12-55-14 11z"/>
<path fill="#669" d="M5055 1488l14 13 11-22-14-7zm-15-32l15 32 11-16-14-38zm-71-14l14 2 11-16-14-7zm-72-5l14 0 12-11-15-10zm-43 1l14 0 12-11-15-10zm-14-5l14 5 11-21-14-4zm-15 2l15-2 11-20-14-1z"/>
<path fill="#558" d="M4983 1444l14 4 12-16-15-4zm-215-19l14 0 12-11-15-8zm-129-38l14-3 12 2-15-21z"/>
<path fill="#66b" d="M4567 1483l14-14 12-43-14 10zm-14 14l14-14 12-47-15 9zm-15 14l15-14 11-52-14 11z"/>
<path fill="#112" d="M4452 1626l15-51 11-63-14 123z"/>
<path fill="#000" d="M4438 1825l14-199 12 9-15 121z"/>
<path fill="#002" d="M4424 1936l14-111 11-69-14 157z"/>
<path fill="#006" d="M4409 1935l15 1 11-23-14 6z"/>
<path fill="#008" d="M4395 1934l14 1 12-16-15-1z"/>
<path fill="#77f" d="M6219 1678l15 13 11 12-14 20zm-14 2l14-2 12 45-15-8zm-14-4l14 4 11 35-14-10zm-15 1l15-1 11 29-14-4zm-14-11l14 11 12 24-15-4zm-29-12l15 2 11 23-14 17z"/>
<path fill="#55b" d="M6148 1656l14 10 11 31-14-18z"/>
<path fill="#66b" d="M6119 1632l14 22 12 42-15-27z"/>
<path fill="#88f" d="M6105 1591l14 41 11 37-14-46z"/>
<path fill="#77b" d="M6090 1575l15 16 11 32-14-18zm-1104-102l14 2 12-28-15 1zm-14 1l14-1 11-25-14-4zm-15-8l15 8 11-30-14-2zm-14-5l14 5 12-24-15-10zm-14 4l14-4 11-29-14 3zm-144-26l15 8 11-19-14-12z"/>
<path fill="#aaf" d="M6076 1543l14 32 12 30-15-38zm-14-15l14 15 11 24-14-18z"/>
<path fill="#bbf" d="M6047 1509l15 19 11 21-14-16z"/>
<path fill="#88b" d="M6033 1498l14 11 12 24-15-16zm-717-56l14-3 12-24-15-5z"/>
<path fill="#aad" d="M6019 1466l14 32 11 19-14-14z"/>
<path fill="#779" d="M6004 1457l15 9 11 37-14-27zm-674-18l15-3 11-18-14-3zm-57 16l14 20 12-44-15 1zm-29 5l14 14 12-32-14 2z"/>
<path fill="#99b" d="M5990 1441l14 16 12 19-15-20z"/>
<path fill="#889" d="M5976 1425l14 16 11 15-14-23zm-588-56l14 2 11-13-14-6z"/>
<path fill="#778" d="M5961 1409l15 16 11 8-14-18zm-14-14l14 14 12 6-15-12zm-29-23l14 10 12 1-14-5zm-29-29l15 14 11-1-14-11zm-430 9l15-7 11-13-14-1zm-14 4l14-4 12-21-15 17zm-14 7l14-7 11-8-14 6z"/>
<path fill="#556" d="M5932 1382l15 13 11 8-14-20zm-28-25l14 15 12 6-15-22zm-488 12l15-6 11-9-14 2zm-14 2l14-2 12-13-15 2zm-29 6l15-8 11-17-14 3z"/>
<path fill="#777" d="M5875 1328l14 15 12 2-14-12zm-29-11l15 14 11 3-14-15zm-14 19l14-19 12 2-14 19zm-29-23l15 8 11 15-14-28zm-14-5l14 5 12-5-15-5zm-43 2l14-15 12-3-15 18zm-14 15l14-15 11 0-14 19zm-15-17l15 17 11 4-14-18zm-14-8l14 8 12 3-15-14zm-72 25l15-18 11-2-14 14zm-57-28l14-3 12-15-15 6zm-14 4l14-4 11-12-14 6zm-15 7l15-7 11-10-14 2z"/>
<path fill="#999" d="M5861 1331l14-3 12 5-15 1zm-43-10l14 15 12 2-15-2zm-201-44l14 48 12-6-15-53zm-86 22l14 9 12-15-15-5zm-14 2l14-2 11-11-14-6zm-15 9l15-9 11-19-14 19zm-14 10l14-10 12-9-15 14zm-14 25l14-25 11-5-14 17z"/>
<path fill="#988" d="M5775 1296l14 12 11-5-14-1zm-15-1l15 1 11 6-14-10zm-71-38l14 43 11-3-14-39zm-43 50l14-76 11-5-14 79zm-43-24l14-6 11-11-14 19zm-15 11l15-11 11 2-14-6z"/>
<path fill="#b99" d="M5674 1184l15 73 11 1-14-86z"/>
<path fill="#977" d="M5660 1231l14-47 12-12-15 54z"/>
<path fill="#668" d="M5359 1401l14-24 12-22-15 23zm-14 35l14-35 11-23-14 40zm-44 8l15-2 11-32-14 15z"/>
<path fill="#446" d="M5287 1475l14-31 12-19-14 6zm-72 11l15-19 11-13-14 20zm-14 28l14-28 12-12-15 24zm-201-39l15-21 11-26-14 19zm-100-3l14-16 12-18-15-1zm-43-15l14-4 12-15-15 0zm-100-21l14 21 11-32-14 0zm-72-11l14 2 12 0-15-5zm-15-16l15 16 11-3-14-20zm-57 8l14-20 12-10-14 10zm-14 33l14-33 12-20-15 24z"/>
<path fill="#334" d="M5258 1474l15-19 11-23-14 10zm-28-7l14-7 12-16-15 10zm-574-70l14 12 12-7-14-8zm-14 1l14-1 12-3-15-10zm-15-1l15 1 11-14-14 3z"/>
<path fill="#224" d="M5187 1517l14-3 11-16-14 3zm-15-6l15 6 11-16-14 5zm-43 18l15-5 11-6-14-2zm-14 5l14-5 12-13-15-1zm-301-93l14 11 12-19-15 2zm-14 6l14-6 11-6-14-7zm-29 10l14-18 12-23-15 9zm-29-20l15-1 11-11-14-1zm-14-1l14 1 12-13-15 6zm-14 1l14-1 11-6-14-6zm-15-10l15 10 11-13-14 3z"/>
<path fill="#336" d="M5158 1517l14-6 12-5-15 2zm-14 7l14-7 11-9-14 10zm-72-7l14 2 12-13-15-3zm-488-39l15-28 11-29-14 27zm-14 28l14-28 12-30-15 21z"/>
<path fill="#448" d="M5101 1525l14 9 11-19-14-4zm-15-6l15 6 11-14-14-5zm-28-1l14-1 11-14-14-2zm-502 5l14-17 11-37-14 14zm-15 18l15-18 11-40-14 14zm-14 17l14-17 12-44-15 14z"/>
<path fill="#559" d="M5043 1506l15 12 11-17-14-13z"/>
<path fill="#558" d="M5029 1473l14 33 12-18-15-32zm-158-20l15 5 11-21-14 1zm-28 4l14 0 11-19-14 0z"/>
<path fill="#669" d="M5015 1454l14 19 11-17-14-28zm-101 2l15 9 11-30-14 3zm-28 2l14 14 11-35-14 0zm-58-6l15 5 11-19-14-5z"/>
<path fill="#338" d="M4513 1576l14-18 11-47-14 14z"/>
<path fill="#226" d="M4498 1594l15-18 11-51-14 15z"/>
<path fill="#114" d="M4484 1613l14-19 12-54-15 16zm-14 18l14-18 11-57-14 14zm-15 5l15-5 11-61-14 5z"/>
<path fill="#112" d="M4441 1686l14-50 12-61-15 51z"/>
<path fill="#002" d="M4427 1762l14-76 11-60-14 199zm-15 169l15-169 11 63-14 111z"/>
<path fill="#004" d="M4398 1951l14-20 12 5-15-1z"/>
<path fill="#008" d="M4384 1950l14 1 11-16-14-1z"/>
<path fill="#88f" d="M6208 1642l14 12 12 37-15-13zm-14 2l14-2 11 36-14 2zm-15-7l15 7 11 36-14-4zm-14-2l14 2 12 39-15 1zm-14-23l14 23 11 42-14-11z"/>
<path fill="#99f" d="M6136 1615l15-3 11 54-14-10zm-14-5l14 5 12 41-15-2z"/>
<path fill="#77b" d="M6108 1583l14 27 11 44-14-22zm-1105-104l15 18 11-24-14-19zm-100 6l14 9 12-29-15-9zm-29-3l15 1 11-11-14-14zm-14-2l14 2 12-24-15-5zm-58-17l15 5 11-16-14-11zm-28 6l14-2 12-20-15-8zm-29-8l14 4 12-8-14-21z"/>
<path fill="#aaf" d="M6093 1549l15 34 11 49-14-41zm-14-19l14 19 12 42-15-16z"/>
<path fill="#88b" d="M6065 1510l14 20 11 45-14-32zm-847-14l15-1 11-35-14 7z"/>
<path fill="#aad" d="M6050 1492l15 18 11 33-14-15zm-14-14l14 14 12 36-15-19z"/>
<path fill="#ccf" d="M6021 1461l15 17 11 31-14-11zm-14-9l14 9 12 37-14-32z"/>
<path fill="#bbd" d="M5993 1441l14 11 12 14-15-9z"/>
<path fill="#aab" d="M5978 1425l15 16 11 16-14-16z"/>
<path fill="#889" d="M5964 1420l14 5 12 16-14-16zm-588-31l14 1 12-19-14-2z"/>
<path fill="#778" d="M5950 1405l14 15 12 5-15-16zm-58-52l15 26 11-7-14-15zm-444-6l14 13 12-15-15 7zm-14 20l14-20 11 5-14 4zm-15 12l15-12 11-11-14 7z"/>
<path fill="#999" d="M5935 1386l15 19 11 4-14-14zm-14-14l14 14 12 9-15-13zm-14 7l14-7 11 10-14-10zm-43-40l14 9 11-5-14-15zm-244-4l14-17 12-11-15 18zm-14-48l14 48 11-10-14-48zm-58 22l15-8 11-4-14 4zm-14 8l14-8 12-8-15 7zm-29 9l15-9 11-18-14 2zm-28 2l14-10 11-8-14 10zm-15 32l15-32 11-8-14 25z"/>
<path fill="#777" d="M5878 1348l14 5 12 4-15-14zm-29-13l15 4 11-11-14 3zm-14-12l14 12 12-4-15-14zm-14 12l14-12 11-6-14 19zm-15-4l15 4 11 1-14-15zm-28-18l14 9 11-9-14-5zm-72-2l14 5 12 9-15-17zm-14-11l14 11 11-3-14-8zm-129 1l14 5 11-12-14 3zm-72 17l14 8 12-25-15 9z"/>
<path fill="#988" d="M5792 1322l14 9 12-10-15-8zm-57-13l14 1 11-15-14 15zm-15 7l15-7 11 1-14 15zm-86 2l15-63 11-24-14 76zm-43-20l15-11 11-10-14 6zm-14 8l14-8 12-15-15 11z"/>
<path fill="#baa" d="M5763 1313l15 0 11-5-14-12zm-14-3l14 3 12-17-15-1zm-229 7l14 0 11-9-14-9z"/>
<path fill="#dbb" d="M5677 1285l15 15 11 0-14-43z"/>
<path fill="#b99" d="M5663 1207l14 78 12-28-15-73z"/>
<path fill="#b88" d="M5649 1255l14-48 11-23-14 47z"/>
<path fill="#556" d="M5405 1385l14-6 12-16-15 6zm-15 5l15-5 11-16-14 2zm-28 4l14-5 12-20-15 8z"/>
<path fill="#668" d="M5347 1424l15-30 11-17-14 24zm-28 39l14-6 12-21-15 3z"/>
<path fill="#446" d="M5333 1457l14-33 12-23-14 35zm-86 27l14-9 12-20-15 19zm-57 49l14-23 11-24-14 28zm-201-41l14-13 12-25-15 21zm-201-25l14-4 12-22-14 6zm-57-19l14 13 12-25-15 1zm-29-5l14-7 12 0-14 1zm-14-5l14 5 12-6-15-10zm-58-37l15 2 11-6-14 1zm-14 10l14-10 12-3-15-1zm-14 29l14-29 11-14-14 20zm-15 35l15-35 11-23-14 33z"/>
<path fill="#779" d="M5304 1462l15 1 11-24-14 3z"/>
<path fill="#558" d="M5290 1465l14-3 12-20-15 2zm-29 10l15-1 11 1-14-20zm-100 59l14-6 12-11-15-6zm-186-39l14-3 11-17-14-2zm-29-17l14 14 12-18-15-8zm-14 7l14-7 11-12-14-5zm-15 9l15-9 11-24-14 4zm-86-23l15 4 11-18-14 0zm-14-3l14 3 12-14-15-5z"/>
<path fill="#334" d="M5276 1474l14-9 11-21-14 31zm-603-42l15 6 11-11-14-2zm-14-16l14 16 12-7-15-16zm-14-13l14 13 11-7-14-12z"/>
<path fill="#669" d="M5233 1495l14-11 11-10-14-14zm-215 2l14 19 11-10-14-33zm-58-5l15 3 11-22-14 1zm-114-17l14 5 11-27-14 4z"/>
<path fill="#224" d="M5204 1510l14-14 12-29-15 19zm-72 28l15-4 11-17-14 7zm-14 6l14-6 12-14-15 5zm-14 6l14-6 11-15-14 5zm-58-23l15 5 11-15-14 1zm-157-44l14 2 11-29-14 16zm-130-18l15 4 11-30-14 18zm-43-29l15 12 11-11-14-1zm-172 126l15-20 11-36-14 17zm-14 21l14-21 12-39-15 18z"/>
<path fill="#336" d="M5175 1528l15 5 11-19-14 3zm-143-12l14 11 12-9-15-12zm-459-6l14-35 12-25-15 28zm-14 32l14-32 11-32-14 28z"/>
<path fill="#448" d="M5147 1534l14 0 11-23-14 6zm-86-2l14 9 11-22-14-2z"/>
<path fill="#559" d="M5089 1544l15 6 11-16-14-9zm-14-3l14 3 12-19-15-6z"/>
<path fill="#226" d="M4516 1604l14-21 11-42-14 17zm-15 21l15-21 11-46-14 18z"/>
<path fill="#114" d="M4487 1647l14-22 12-49-15 18zm-29 44l15-22 11-56-14 18zm-14 5l14-5 12-60-15 5zm-29-17l15-66 11 73-14 76z"/>
<path fill="#112" d="M4473 1669l14-22 11-53-14 19zm-43-56l14 83 11-60-14 50z"/>
<path fill="#004" d="M4401 1823l14-144 12 83-15 169z"/>
<path fill="#11b" d="M4387 1827l14-4 11 108-14 20z"/>
<path fill="#009" d="M4372 1905l15-78 11 124-14-1z"/>
<path fill="#99f" d="M6197 1618l14 2 11 34-14-12zm-15-12l15 12 11 24-14 2zm-14-7l14 7 12 38-15-7zm-14-5l14 5 11 38-14-2z"/>
<path fill="#aaf" d="M6139 1585l15 9 11 41-14-23zm-14-10l14 10 12 27-15 3zm-15-7l15 7 11 40-14-5z"/>
<path fill="#88b" d="M6096 1552l14 16 12 42-14-27z"/>
<path fill="#bbf" d="M6082 1525l14 27 12 31-15-34z"/>
<path fill="#ccf" d="M6067 1486l15 39 11 24-14-19zm-14 3l14-3 12 44-14-20zm-14-17l14 17 12 21-15-18z"/>
<path fill="#ddf" d="M6024 1451l15 21 11 20-14-14zm-28-15l14 11 11 14-14-9z"/>
<path fill="#bbd" d="M6010 1447l14 4 12 27-15-17z"/>
<path fill="#ccd" d="M5981 1423l15 13 11 16-14-11z"/>
<path fill="#aab" d="M5967 1417l14 6 12 18-15-16zm-531-35l15 24 11-46-14-13zm-71 37l14-6 11-23-14-1zm-15-5l15 5 11-30-14 5z"/>
<path fill="#bbb" d="M5953 1406l14 11 11 8-14-5zm-474-59l15-9 11-12-14-8z"/>
<path fill="#999" d="M5938 1395l15 11 11 14-14-15zm-43-24l15 15 11-14-14 7zm-14-4l14 4 12 8-15-26zm-373-41l14 10 12-19-14 0zm-14 12l14-12 12-9-15 9zm-29 18l14-9 12-29-14 10zm-14 50l14-50 12-28-15 32z"/>
<path fill="#778" d="M5924 1384l14 11 12 10-15-19zm-14 2l14-2 11 2-14-14zm-488 1l14-5 12-35-14 20zm-29 12l15 0 11-20-14 6z"/>
<path fill="#777" d="M5867 1346l14 21 11-14-14-5zm-43-20l14 8 11 1-14-12zm-15 4l15-4 11-3-14 12zm-28 1l14 4 11-4-14-9zm-172 25l14-12 11-26-14 17zm-43-29l14-9 11-20-14 8z"/>
<path fill="#988" d="M5852 1341l15 5 11 2-14-9zm-14-7l14 7 12-2-15-4zm-43 1l14-5 12 5-15-4zm-29-10l15 6 11-9-14-9zm-14-6l14 6 12-12-15 0zm-14 6l14-6 11-6-14-3zm-29 4l14 1 12-21-15 7zm-14-6l14 6 11-13-14-5zm-72 21l14-59 12-30-15 63z"/>
<path fill="#baa" d="M5723 1330l15-5 11-15-14-1zm-43-9l15 2 11-12-14-11zm-14-17l14 17 12-21-15-15zm-72 16l15 36 11-21-14-48zm-14-2l14 2 12-33-15 11zm-43 19l14-7 12-29-15 8zm-15-1l15 1 11-28-14 8z"/>
<path fill="#daa" d="M5652 1251l14 53 11-19-14-78z"/>
<path fill="#b99" d="M5637 1285l15-34 11-44-14 48z"/>
<path fill="#dcc" d="M5551 1330l15-3 11-21-14-5z"/>
<path fill="#556" d="M5408 1399l14-12 12-20-15 12zm-29 14l14-14 12-14-15 5z"/>
<path fill="#668" d="M5336 1450l14-36 12-20-15 30z"/>
<path fill="#446" d="M5322 1488l14-38 11-26-14 33zm-15-17l15 17 11-31-14 6zm-57 22l14-3 12-16-15 1zm-57 40l14-17 11-20-14 14zm-545-109l14 16 11-8-14-16zm-43 2l14-14 11-11-14 10zm-15 32l15-32 11-15-14 29zm-14 42l14-42 12-18-15 35z"/>
<path fill="#334" d="M5293 1476l14-5 12-8-15-1zm-14 10l14-10 11-14-14 3zm-15 4l15-4 11-21-14 9zm-28 18l14-15 11-18-14 9zm-15 16l15-16 11-24-14 11zm-530-75l14 6 11-19-14 7zm-15 3l15-3 11-6-14-5zm-14-12l14 12 12-14-15-6zm-29-31l15 15 11-8-14-13zm-14 3l14-3 12-6-15-2z"/>
<path fill="#669" d="M5207 1516l14 8 12-29-15 1zm-301-1l14 4 12-34-15 9zm-129-25l14 0 11-27-14 4zm-15 2l15-2 11-23-14 2zm-14-6l14 6 12-23-15-4zm-29-19l15 9 11-15-14-13zm-14-12l14 12 12-19-15-12z"/>
<path fill="#336" d="M5178 1547l15-14 11-23-14 23zm-43 8l15-6 11-15-14 0zm-573-14l14-41 11-25-14 35zm-15 36l15-36 11-31-14 32z"/>
<path fill="#558" d="M5164 1541l14 6 12-14-15-5zm-430-65l14 10 11-21-14-4z"/>
<path fill="#224" d="M5150 1549l14-8 11-13-14 6zm-43 14l14-5 11-20-14 6zm-15 4l15-4 11-19-14 6zm-114-29l14-27 11-32-14 13zm-445 63l14-24 12-35-15 20zm-14 24l14-24 11-39-14 21z"/>
<path fill="#448" d="M5121 1558l14-3 12-21-15 4z"/>
<path fill="#559" d="M5078 1565l14 2 12-17-15-6zm-14-1l14 1 11-21-14-3zm-29-15l14 8 12-25-15-5z"/>
<path fill="#66b" d="M5049 1557l15 7 11-23-14-9z"/>
<path fill="#77b" d="M5021 1542l14 7 11-22-14-11zm-15-18l15 18 11-26-14-19zm-14-13l14 13 12-27-15-18zm-29 10l15 17 11-46-14 3zm-14 5l14-5 12-26-15-3zm-29-7l15 1 11-42-14 7zm-29-4l15 0 11-21-14-9zm-14-1l14 1 12-30-14-2zm-14 4l14-4 12-31-15-1zm-29-13l14 9 12-34-14-5zm-14-4l14 4 12-30-15-4zm-15-6l15 6 11-30-14-3zm-14-5l14 5 12-27-15-5z"/>
<path fill="#88d" d="M4935 1520l14 6 11-34-14-14zm-87-6l15 4 11-36-14-2z"/>
<path fill="#114" d="M4504 1649l15-24 11-42-14 21zm-14 24l14-24 12-45-15 21zm-57 82l14-6 11-58-14 5z"/>
<path fill="#112" d="M4476 1698l14-25 11-48-14 22zm-15 26l15-26 11-51-14 22zm-43-64l15 95 11-59-14-83z"/>
<path fill="#002" d="M4447 1749l14-25 12-55-15 22z"/>
<path fill="#000" d="M4404 1625l14 35 12-47-15 66z"/>
<path fill="#116" d="M4390 1659l14-34 11 54-14 144z"/>
<path fill="#229" d="M4375 1708l15-49 11 164-14 4z"/>
<path fill="#004" d="M4361 1923l14-215 12 119-15 78z"/>
<path fill="#aaf" d="M6185 1586l14 8 12 26-14-2z"/>
<path fill="#99d" d="M6171 1578l14 8 12 32-15-12zm-15-8l15 8 11 28-14-7zm-14-9l14 9 12 29-14-5z"/>
<path fill="#bbf" d="M6128 1563l14-2 12 33-15-9z"/>
<path fill="#668" d="M6113 1542l15 21 11 22-14-10zm-760-85l15-16 11-28-14 6zm-28 22l14-30 11-35-14 36z"/>
<path fill="#aad" d="M6099 1529l14 13 12 33-15-7zm-14-13l14 13 11 39-14-16z"/>
<path fill="#889" d="M6070 1497l15 19 11 36-14-27zm-14-11l14 11 12 28-15-39z"/>
<path fill="#bbd" d="M6042 1468l14 18 11 0-14 3zm-703-19l14 8 12-38-15-5z"/>
<path fill="#ccd" d="M6027 1452l15 16 11 21-14-17zm-14-18l14 18 12 20-15-21zm-29-6l15 4 11 15-14-11z"/>
<path fill="#aab" d="M5999 1432l14 2 11 17-14-4zm-574-22l14 18 12-22-15-24zm-14-2l14 2 11-28-14 5zm-43 33l14 1 11-43-14 14z"/>
<path fill="#bbb" d="M5970 1417l14 11 12 8-15-13zm-14-9l14 9 11 6-14-6zm-488-36l14 1 12-35-15 9z"/>
<path fill="#999" d="M5941 1399l15 9 11 9-14-11zm-14-4l14 4 12 7-15-11zm-14-17l14 17 11 0-14-11zm-316-6l14-24 12-4-14 12zm-86 2l14-16 12-21-15-1zm-57 2l14-4 11-25-14 9z"/>
<path fill="#777" d="M5898 1380l15-2 11 6-14 2zm-14-5l14 5 12 6-15-15zm-14-7l14 7 11-4-14-4zm-158-22l14-6 12-15-15 5zm-101 2l15-22 11-41-14 59z"/>
<path fill="#988" d="M5855 1354l15 14 11-1-14-21zm-14 1l14-1 12-8-15-5zm-29-21l15 12 11-12-14-8zm-14 5l14-5 12-8-15 4zm-14-12l14 12 11-9-14 5zm-15 18l15-18 11 8-14-4zm-28-16l14 12 11-16-14-6zm-15 11l15-11 11-10-14 6zm-57-8l14 5 12-14-15-2zm-43-6l14-28 12-47-15 34z"/>
<path fill="#baa" d="M5827 1346l14 9 11-14-14-7zm-72-5l14 4 12-14-15-6zm-57 8l14-3 11-16-14-1zm-15-12l15 12 11-20-14-6zm-100 10l14 25 12-16-15-36zm-29 3l14-3 12-29-14 9zm-14 9l14-9 12-23-15 3zm-15-1l15 1 11-29-14 7z"/>
<path fill="#dbb" d="M5655 1336l14-4 11-11-14-17zm-15-38l15 38 11-32-14-53z"/>
<path fill="#dcc" d="M5568 1347l15 0 11-27-14-2zm-71 23l14 4 11-38-14-10zm-15 3l15-3 11-44-14 12z"/>
<path fill="#556" d="M5439 1428l15-52 11-20-14 50zm-43-6l15-14 11-21-14 12z"/>
<path fill="#778" d="M5382 1442l14-20 12-23-15 0z"/>
<path fill="#446" d="M5310 1508l15-29 11-29-14 38zm-71 4l14-17 11-5-14 3zm-15 27l15-27 11-19-14 15zm-43 16l15-6 11-33-14 17zm-502-94l15 6 11-12-14-6zm-71-38l14 6 11-20-14 3zm-15 19l15-19 11-11-14 14zm-14 37l14-37 12-16-15 32z"/>
<path fill="#88b" d="M5296 1504l14 4 12-20-15-17zm-14-2l14 2 11-33-14 5z"/>
<path fill="#558" d="M5267 1504l15-2 11-26-14 10zm-573-37l14 24 11-24-14-12zm-58-28l15 8 11-7-14-16z"/>
<path fill="#334" d="M5253 1495l14 9 12-18-15 4zm-588-41l14 7 12-12-15 3zm-14-7l14 7 11-2-14-12z"/>
<path fill="#224" d="M5210 1563l14-24 12-31-15 16zm-43-12l14 4 12-22-15 14zm-14 9l14-9 11-4-14-6zm-15 2l15-2 11-19-14 8zm-14 3l14-3 12-13-15 6zm-43 17l14-8 12-11-15 4zm-115-19l14-16 12-36-14 27z"/>
<path fill="#77b" d="M5196 1549l14 14 11-39-14-8zm-201 8l14 10 12-25-15-18zm-43-2l14 8 12-25-15-17zm-15 3l15-3 11-34-14 5zm-100-7l14 21 12-54-15-4zm-14-17l14 17 11-37-14-9zm-15-10l15 10 11-29-14-4zm-14 0l14 0 12-23-15-6zm-14-9l14 9 11-29-14-5zm-15-1l15 1 11-25-14 0zm-28-3l14 8 11-27-14-6zm-29-20l14 3 12-18-15-9z"/>
<path fill="#336" d="M5110 1582l14-17 11-10-14 3zm-15-8l15 8 11-24-14 5zm-43 4l15 2 11-15-14-1zm-487-52l14-47 11-21-14 42zm-15 44l15-44 11-26-14 41zm-14 40l14-40 12-29-15 36z"/>
<path fill="#448" d="M5067 1580l14 2 11-15-14-2zm-29-7l14 5 12-14-15-7z"/>
<path fill="#559" d="M5024 1578l14-5 11-16-14-8zm-173-6l15-20 11-38-14 4z"/>
<path fill="#66b" d="M5009 1567l15 11 11-29-14-7z"/>
<path fill="#88d" d="M4980 1547l15 10 11-33-14-13zm-57 12l14-1 12-32-14-6zm-14 0l14 0 12-39-15-1zm-15-8l15 8 11-40-14-4zm-14 1l14-1 12-36-15 0zm-14 0l14 0 11-37-14-1z"/>
<path fill="#669" d="M4751 1519l14-5 12-24-15 2zm-29-25l15 17 11-25-14-10z"/>
<path fill="#779" d="M4622 1429l14 10 12-15-15-15z"/>
<path fill="#226" d="M4522 1637l14-27 11-33-14 24zm-144-50l14 11 12 27-14 34zm-14-113l14 113 12 72-15 49z"/>
<path fill="#114" d="M4507 1664l15-27 11-36-14 24zm-86 147l15-7 11-55-14 6z"/>
<path fill="#112" d="M4493 1691l14-27 12-39-15 24zm-14 27l14-27 11-42-14 24zm-15 29l15-29 11-45-14 25z"/>
<path fill="#000" d="M4450 1776l14-29 12-49-15 26zm-58-178l15 107 11-45-14-35z"/>
<path fill="#002" d="M4436 1804l14-28 11-52-14 25zm-29-99l14 106 12-56-15-95z"/>
<path fill="#116" d="M4349 1872l15-398 11 234-14 215z"/>
<path fill="#668" d="M6174 1573l14 13 11 8-14-8zm-15-8l15 8 11 13-14-8zm-14-11l14 11 12 13-15-8zm-43-26l14 11 12 24-15-21zm-14-16l14 16 11 14-14-13zm-15-19l15 19 11 17-14-13zm-702-33l14-14 11-24-14 20z"/>
<path fill="#446" d="M6131 1544l14 10 11 16-14-9zm-832-21l14-22 12-22-15 29zm-72 8l15-5 11-31-14 17zm-14 39l14-39 12-19-15 27zm-559-107l14 17 11-19-14-7zm-15-5l15 5 11-9-14-7zm-14-10l14 10 12-11-15-8zm-43 11l14-21 12-15-15 19zm-14 38l14-38 11-17-14 37z"/>
<path fill="#779" d="M6116 1539l15 5 11 17-14 2zm-860-16l14 5 12-26-15 2z"/>
<path fill="#778" d="M6059 1484l14 9 12 23-15-19zm-57-44l14 12 11 0-14-18zm-15-5l15 5 11-6-14-2zm-545-25l15-19 11-19-14 4zm-14 53l14-53 12-34-15 52zm-43-17l14-7 12-31-15 14z"/>
<path fill="#889" d="M6045 1466l14 18 11 13-14-11zm-631-31l14 28 11-35-14-18zm-58 31l15-6 11-18-14-1z"/>
<path fill="#999" d="M6030 1457l15 9 11 20-14-18zm-14-5l14 5 12 11-15-16zm-43-29l14 12 12-3-15-4zm-14-5l14 5 11 5-14-11zm-58-33l15 13 11-3-14-17zm-315 0l14-14 11-23-14 24z"/>
<path fill="#777" d="M5944 1406l15 12 11-1-14-9zm-14-2l14 2 12 2-15-9zm-14-6l14 6 11-5-14-4zm-43-17l14 11 11-12-14-5zm-15-1l15 1 11-6-14-7zm-258-9l14-11 12-34-15 22z"/>
<path fill="#988" d="M5887 1392l14-7 12-7-15 2zm-57-31l14 9 11-16-14 1zm-15-2l15 2 11-6-14-9zm-14-18l14 18 12-13-15-12zm-43 11l14-2 12-23-15 18zm-14 1l14-1 11-7-14-4zm-44 4l15 2 11-19-14 6zm-14-7l14 7 12-11-14 3zm-14-5l14 5 12-1-15-12zm-15 7l15-7 11-8-14-5zm-14-2l14 2 12-20-14 4z"/>
<path fill="#baa" d="M5844 1370l14 10 12-12-15-14zm-57-26l14-3 11-7-14 5zm-15 6l15-6 11-5-14-12zm-57 9l14-2 12-28-15 11zm-101 1l15-12 11-50-14 28zm-57 27l14-12 12-28-15 0z"/>
<path fill="#dbb" d="M5729 1357l15-4 11-12-14-12z"/>
<path fill="#fdd" d="M5629 1348l14 2 12-14-15-38z"/>
<path fill="#dcc" d="M5571 1375l15 10 11-13-14-25zm-28 8l14 4 11-40-14 3z"/>
<path fill="#bbb" d="M5528 1395l15-12 11-33-14 9zm-28 1l14 3 11-41-14 16zm-15-2l15 2 11-22-14-4zm-14 5l14-5 12-24-15 3zm-14-8l14 8 11-26-14-1z"/>
<path fill="#ddd" d="M5514 1399l14-4 12-36-15-1z"/>
<path fill="#aab" d="M5399 1439l15-4 11-25-14-2z"/>
<path fill="#334" d="M5342 1481l14-15 12-25-15 16zm-29 20l15-11 11-41-14 30zm-702-66l14 13 11-9-14-10zm-15 3l15-3 11-6-14-6z"/>
<path fill="#99b" d="M5328 1490l14-9 11-24-14-8z"/>
<path fill="#558" d="M5285 1530l14-7 11-15-14-4zm-129 36l14 14 11-25-14-4z"/>
<path fill="#88b" d="M5270 1528l15 2 11-26-14-2zm-28-2l14-3 11-19-14-9z"/>
<path fill="#336" d="M5199 1602l14-32 11-31-14 24zm-87-15l15-6 11-19-14 3zm-14-3l14 3 12-22-14 17zm-143 17l14-31 11-23-14 16zm-416-2l14-48 12-25-15 44zm-14 43l14-43 11-29-14 40z"/>
<path fill="#88d" d="M5184 1591l15 11 11-39-14-14z"/>
<path fill="#77b" d="M5170 1580l14 11 12-42-15 6zm-373-23l14 13 12-36-15-10zm-14-6l14 6 11-33-14 0zm-101-60l15 6 11-6-14-24z"/>
<path fill="#224" d="M5141 1573l15-7 11-15-14 9zm-14 8l14-8 12-13-15 2zm-43 13l14-10 12-2-15-8zm-15 3l15-3 11-20-14 8zm-57-5l14 0 12-19-14 5zm-315-95l14 17 11-20-14-3zm-144 54l15-54 11-18-14 47zm-201-128l15 91 11 73-14-113z"/>
<path fill="#448" d="M5055 1599l14-2 12-15-14-2zm-215-12l14 3 12-38-15 20z"/>
<path fill="#559" d="M5041 1595l14 4 12-19-15-2zm-15-3l15 3 11-17-14-5zm-28-3l14 3 12-14-15-11zm-29-19l14 16 12-29-15-10z"/>
<path fill="#66b" d="M4983 1586l15 3 11-22-14-10zm-86 12l15-5 11-34-14 0zm-43-8l15 14 11-52-14 0zm-43-20l15 21 11-40-14-17z"/>
<path fill="#77d" d="M4940 1595l15 6 11-38-14-8zm-14 3l14-3 12-40-15 3zm-14-5l14 5 11-40-14 1zm-29 7l14-2 12-39-15-8zm-14 4l14-4 11-49-14 1zm-43-13l14-4 11-15-14-21z"/>
<path fill="#669" d="M4768 1536l15 15 11-27-14-9zm-14 7l14-7 12-21-15-1zm-14 4l14-4 11-29-14 5zm-15-16l15 16 11-28-14-8zm-14-17l14 17 12-20-15-17zm-43-34l14 11 12-24-15-6z"/>
<path fill="#226" d="M4510 1672l15-30 11-32-14 27zm-14 30l14-30 12-35-15 27z"/>
<path fill="#114" d="M4481 1731l15-29 11-38-14 27zm-14 30l14-30 12-40-14 27zm-57 102l14-8 12-51-15 7zm-72-7l14-433 12 51-15 398z"/>
<path fill="#002" d="M4453 1792l14-31 12-43-15 29zm-58-45l15 116 11-52-14-106z"/>
<path fill="#000" d="M4438 1824l15-32 11-45-14 29zm-14 31l14-31 12-48-14 28z"/>
<path fill="#112" d="M4381 1630l14 117 12-42-15-107zm-14-116l14 116 11-32-14-11z"/>
<path fill="#668" d="M6162 1586l15 8 11-8-14-13zm-14-9l14 9 12-13-15-8zm-14-13l14 13 11-12-14-11zm-717-49l14-63 11-42-14 53z"/>
<path fill="#556" d="M6119 1551l15 13 11-10-14-10zm-28-12l14-4 11 4-14-11zm-15-22l15 22 11-11-14-16zm-57-58l14 18 12-11-15-9z"/>
<path fill="#334" d="M6105 1535l14 16 12-7-15-5zm-817 49l14-33 11-50-14 22zm-703-136l14 2 12-15-15 3z"/>
<path fill="#889" d="M6062 1509l14 8 12-5-15-19zm-660-45l15 51 11-52-14-28zm-28 24l14-17 11-32-14 7zm-15 16l15-16 11-42-14 14z"/>
<path fill="#778" d="M6048 1493l14 16 11-16-14-9zm-43-39l14 5 11-2-14-5zm-15 0l15 0 11-2-14-12zm-14-14l14 14 12-14-15-5z"/>
<path fill="#999" d="M6033 1477l15 16 11-9-14-18zm-71-39l14 2 11-5-14-12zm-15-9l15 9 11-15-14-5zm-28-3l14-5 11-15-14-2zm-15-23l15 23 11-22-14-6zm-330 18l15-30 11-20-14 14z"/>
<path fill="#baa" d="M5933 1421l14 8 12-11-15-12zm-43-17l14-1 12-5-15-13zm-29-8l15 9 11-13-14-11zm-29-12l15 3 11-7-14-10zm-143-7l14 0 12-18-15-2zm-14-15l14 15 11-20-14-7zm-15-2l15 2 11-12-14-5zm-57 56l14-22 12-46-15 12zm-14-25l14 25 11-56-14 11z"/>
<path fill="#777" d="M5876 1405l14-1 11-19-14 7zm-29-18l14 9 12-15-15-1z"/>
<path fill="#dbb" d="M5818 1383l14 1 12-14-14-9z"/>
<path fill="#988" d="M5804 1368l14 15 12-22-15-2zm-29-11l14-3 12-13-14 3zm-14 9l14-9 12-13-15 6zm-15 1l15-1 11-16-14 2zm-14 4l14-4 12-15-14 1zm-14 2l14-2 12-18-15 4zm-15 4l15-4 11-16-14 2zm-57-9l14-8 12-15-15 7zm-14 12l14-12 11-16-14-2z"/>
<path fill="#b99" d="M5789 1354l15 14 11-9-14-18z"/>
<path fill="#dcc" d="M5617 1394l15-14 11-30-14-2z"/>
<path fill="#ddd" d="M5560 1414l14 7 12-36-15-10zm-14 4l14-4 11-39-14 12zm-15 9l15-9 11-31-14-4zm-14-5l14 5 12-44-15 12zm-29 7l15-2 11-28-14-3z"/>
<path fill="#bbb" d="M5503 1427l14-5 11-27-14 4z"/>
<path fill="#ccd" d="M5474 1433l14-4 12-33-15-2zm-14 8l14-8 11-39-14 5zm-15 1l15-1 11-42-14-8z"/>
<path fill="#aab" d="M5431 1452l14-10 12-51-15 19zm-43 19l14-7 12-29-15 4z"/>
<path fill="#bbd" d="M5345 1512l14-8 12-44-15 6z"/>
<path fill="#99b" d="M5331 1525l14-13 11-46-14 15zm-15 12l15-12 11-44-14 9z"/>
<path fill="#88b" d="M5302 1551l14-14 12-47-15 11zm-660-66l15 12 11-17-14-17z"/>
<path fill="#669" d="M5273 1553l15 31 11-61-14 7zm-57 21l14-13 12-35-15 5zm-516-36l14 26 11-33-14-17z"/>
<path fill="#779" d="M5259 1559l14-6 12-23-15-2zm-660-109l15 8 11-10-14-13z"/>
<path fill="#99d" d="M5245 1562l14-3 11-31-14-5zm-15-1l15 1 11-39-14 3z"/>
<path fill="#446" d="M5201 1613l15-39 11-43-14 39zm-530-114l14 14 12-16-15-6zm-43-32l14 18 12-22-15-5zm-14-9l14 9 11-9-14-10zm-44 20l15-30 11-10-14 21zm-14 39l14-39 12-19-14 38z"/>
<path fill="#336" d="M5187 1651l14-38 12-43-14 32zm-86-47l14-3 12-20-15 6zm-29-2l15 11 11-29-14 10zm-14 16l14-16 12-8-15 3zm-531 7l15-50 11-24-14 48z"/>
<path fill="#77d" d="M5173 1650l14 1 12-49-15-11zm-215-17l14-2 11-45-14-16zm-29 7l14-3 12-36-15-6zm-14-1l14 1 11-45-14 3zm-15 8l15-8 11-41-14-5zm-14 0l14 0 12-54-15 5zm-14-1l14 1 11-49-14 2zm-15-6l15 6 11-46-14 4zm-14 4l14-4 12-36-15-14zm-14-9l14 9 11-54-14-3zm-15 1l15-1 11-48-14 4zm-43-47l15 5 11-37-14-6z"/>
<path fill="#559" d="M5158 1607l15 43 11-59-14-11z"/>
<path fill="#77b" d="M5144 1591l14 16 12-27-14-14zm-387-18l14 16 12-38-15-15zm-43-9l14 18 12-35-15-16z"/>
<path fill="#558" d="M5130 1593l14-2 12-25-15 7zm-445-80l15 25 11-24-14-17zm-28-16l14 2 11-8-14-11z"/>
<path fill="#224" d="M5115 1601l15-8 11-20-14 8zm-573-26l14-58 12-20-15 54zm-201-137l14 97 12-21-15-91z"/>
<path fill="#448" d="M5087 1613l14-9 11-17-14-3zm-43 9l14-4 11-21-14 2zm-301-26l14-23 11-37-14 7z"/>
<path fill="#66b" d="M5029 1623l15-1 11-23-14-4zm-14-1l14 1 12-28-15-3zm-14 0l14 0 11-30-14 0zm-15 0l15 0 11-30-14-3zm-14 9l14-9 12-33-15-3zm-29 6l15-4 11-63-14 31zm-143-28l14 27 12-45-15-21zm-14-15l14 15 11-39-14-13zm-58-12l15 14 11-53-14 4z"/>
<path fill="#226" d="M4513 1671l14-46 12-26-14 43zm-14 32l14-32 12-29-15 30zm-15 32l15-32 11-31-14 30zm-14 32l14-32 12-33-15 29z"/>
<path fill="#114" d="M4456 1799l14-32 11-36-14 30zm-15 34l15-34 11-38-14 31z"/>
<path fill="#002" d="M4427 1867l14-34 12-41-15 32zm-14 34l14-34 11-43-14 31zm-29-116l14 124 12-46-15-116z"/>
<path fill="#004" d="M4398 1909l15-8 11-46-14 8z"/>
<path fill="#112" d="M4370 1660l14 125 11-38-14-117zm-15-125l15 125 11-30-14-116z"/>
<path fill="#338" d="M4327 1748l14-310 11-15-14 433z"/>
<path fill="#668" d="M6151 1598l14 12 12-16-15-8zm-14-10l14 10 11-12-14-9zm-58-38l15 32 11-47-14 4zm-674 75l15-54 11-119-14 63z"/>
<path fill="#889" d="M6122 1578l15 10 11-11-14-13zm-57-47l14 19 12-11-15-22z"/>
<path fill="#99b" d="M6108 1575l14 3 12-14-15-13z"/>
<path fill="#bbd" d="M6094 1582l14-7 11-24-14-16z"/>
<path fill="#778" d="M6051 1519l14 12 11-14-14-8zm-459 70l14-154 11-41-14 22z"/>
<path fill="#999" d="M6036 1507l15 12 11-10-14-16zm-57-30l14-5 12-18-15 0zm-402-46l15 158 11-173-14-25zm-14 41l14-41 12-40-15 30z"/>
<path fill="#bbb" d="M6022 1496l14 11 12-14-15-16zm-29-24l15 14 11-27-14-5zm-43-14l15 11 11-29-14-2zm-14-15l14 15 12-20-15-9zm-29 7l14-3 12-26-14 5zm-301-15l14-16 12-39-15 14z"/>
<path fill="#ddd" d="M6008 1486l14 10 11-19-14-18zm-43-17l14 8 11-23-14-14z"/>
<path fill="#baa" d="M5921 1447l15-4 11-14-14-8zm-172-53l15-7 11-30-14 9zm-57 32l14-18 12-35-15 4z"/>
<path fill="#dcc" d="M5893 1436l14 14 12-24-15-23zm-15 9l15-9 11-33-14 1zm-14-16l14 16 12-41-14 1zm-14-6l14 6 12-24-15-9zm-15-3l15 3 11-27-14-9zm-14-2l14 2 12-33-15-3zm-14-9l14 9 11-34-14-1zm-86-5l14-1 11-36-14 4zm-15 4l15-4 11-33-14 2zm-28 4l14 14 11-49-14 0zm-15-11l15 11 11-35-14-15zm-14 18l14-18 12-39-15-2zm-14-9l14 9 11-59-14 8zm-15 9l15-9 11-42-14 12z"/>
<path fill="#dbb" d="M5792 1398l15 11 11-26-14-15zm-14-7l14 7 12-30-15-14zm-14-4l14 4 11-37-14 3zm-29 16l14-9 12-28-15 1z"/>
<path fill="#ccd" d="M5549 1497l14-25 11-51-14-7zm-15 20l15-20 11-83-14 4z"/>
<path fill="#ddf" d="M5520 1524l14-7 12-99-15 9zm-14 2l14-2 11-97-14-5zm-15 11l15-11 11-104-14 5zm-14 5l14-5 12-110-15 2zm-14-5l14 5 11-113-14 4zm-15 19l15-19 11-104-14 8z"/>
<path fill="#ccf" d="M5434 1558l14-2 12-115-15 1zm-14 13l14-13 11-116-14 10zm-43 14l14 4 11-125-14 7z"/>
<path fill="#aad" d="M5391 1589l14 36 12-110-15-51z"/>
<path fill="#bbf" d="M5362 1603l15-18 11-114-14 17zm-14 8l14-8 12-115-15 16zm-14 10l14-10 11-107-14 8z"/>
<path fill="#aaf" d="M5319 1635l15-14 11-109-14 13zm-14 12l14-12 12-110-15 12zm-15 6l15-6 11-110-14 14z"/>
<path fill="#88d" d="M5276 1660l14-7 12-102-14 33z"/>
<path fill="#99f" d="M5262 1672l14-12 12-76-15-31zm-15-10l15 10 11-119-14 6zm-14-3l14 3 12-103-14 3zm-14 4l14-4 12-97-15-1zm-15 13l15-13 11-102-14 13z"/>
<path fill="#66b" d="M5190 1706l14-30 12-102-15 39zm-86-15l14-26 12-72-15 8zm-416-97l14 36 12-66-14-26z"/>
<path fill="#559" d="M5176 1742l14-36 11-93-14 38zm-861-99l15-190 11-15-14 310z"/>
<path fill="#66d" d="M5161 1725l15 17 11-91-14-1zm-301-5l15 14 11-87-14-1zm-28-10l14 14 11-84-14 4zm-43-18l14 21 11-77-14-27zm-15-21l15 21 11-83-14-15z"/>
<path fill="#77d" d="M5147 1707l14 18 12-75-15-43zm-14-22l14 22 11-100-14-16zm-15-20l15 20 11-94-14 2zm-71 46l14-16 11-93-14 16zm-287-49l14 9 12-77-15-5zm-14-16l14 16 11-73-14-16zm-15-1l15 1 11-73-14 23zm-14 10l14-10 12-49-15-14zm-15-25l15 25 11-73-14-18z"/>
<path fill="#88f" d="M5090 1696l14-5 11-90-14 3zm-15 1l15-1 11-92-14 9zm-14-2l14 2 12-84-15-11z"/>
<path fill="#77f" d="M5032 1709l15 2 11-93-14 4zm-14 6l14-6 12-87-15 1zm-14 0l14 0 11-92-14-1zm-15-11l15 11 11-93-14 0zm-14 8l14-8 12-82-15 0zm-14 8l14-8 11-90-14 9zm-15 4l15-4 11-89-14 2zm-14 4l14-4 12-91-15 4zm-14 9l14-9 11-91-14 3zm-15-7l15 7 11-97-14-1zm-14 1l14-1 12-91-15 8zm-14 3l14-3 11-84-14 0zm-29-10l14-4 12-74-15-6zm-29-12l15-2 11-66-14-9zm-14 1l14-1 12-77-15 1z"/>
<path fill="#77b" d="M4674 1568l14 26 12-56-15-25zm-15-25l15 25 11-55-14-14zm-14-12l14 12 12-44-14-2z"/>
<path fill="#99d" d="M4631 1529l14 2 12-34-15-12zm-15-8l15 8 11-44-14-18z"/>
<path fill="#88b" d="M4602 1498l14 23 12-54-14-9zm-14-17l14 17 12-40-15-8z"/>
<path fill="#779" d="M4573 1498l15-17 11-31-14-2z"/>
<path fill="#446" d="M4559 1514l14-16 12-50-15 30zm-14 41l14-41 11-36-14 39z"/>
<path fill="#336" d="M4530 1602l15-47 11-38-14 58zm-14 50l14-50 12-27-15 50z"/>
<path fill="#226" d="M4502 1698l14-46 11-27-14 46zm-15 33l15-33 11-27-14 32zm-14 34l14-34 12-28-15 32zm-14 34l14-34 11-30-14 32z"/>
<path fill="#114" d="M4444 1832l15-33 11-32-14 32zm-14 36l14-36 12-33-15 34z"/>
<path fill="#002" d="M4416 1904l14-36 11-35-14 34zm-15 35l15-35 11-37-14 34zm-28-122l14 131 11-39-14-124z"/>
<path fill="#004" d="M4387 1948l14-9 12-38-15 8z"/>
<path fill="#112" d="M4358 1686l15 131 11-32-14-125zm-14-131l14 131 12-26-15-125z"/>
<path fill="#224" d="M4330 1453l14 102 11-20-14-97z"/>
<path fill="#99b" d="M6140 1620l14 9 11-19-14-12zm-15-6l15 6 11-22-14-10zm-14-13l14 13 12-26-15-10zm-574 23l15-52 11-100-14 25z"/>
<path fill="#668" d="M6097 1587l14 14 11-23-14-3zm-15-5l15 5 11-12-14 7z"/>
<path fill="#889" d="M6068 1570l14 12 12 0-15-32zm-459-82l14 144 12-222-15 9z"/>
<path fill="#aab" d="M6054 1557l14 13 11-20-14-19zm-15-10l15 10 11-26-14-12z"/>
<path fill="#ccd" d="M6025 1539l14 8 12-28-15-12zm-15-5l15 5 11-32-14-11zm-14-16l14 16 12-38-14-10zm-14-8l14 8 12-32-15-14z"/>
<path fill="#556" d="M5967 1560l15-50 11-38-14 5zm-344 72l15-156 11-57-14-9z"/>
<path fill="#bbb" d="M5953 1503l14 57 12-83-14-8zm-57-10l14-12 11-34-14 3zm-215-25l14 61 11-121-14 18zm-86 46l14-26 11-69-14 16z"/>
<path fill="#ddd" d="M5939 1492l14 11 12-34-15-11zm-15-2l15 2 11-34-14-15zm-14-9l14 9 12-47-15 4zm-29-2l15 14 11-43-14-14z"/>
<path fill="#dcc" d="M5867 1474l14 5 12-43-15 9zm-14-2l14 2 11-29-14-16zm-15-4l15 4 11-43-14-6zm-43-14l15 2 11-38-14-9zm-28-14l14 9 11-51-14-7zm-29 7l14-4 12-56-15 7zm-14 4l14-4 11-53-14 9zm-15 8l15-8 11-48-14 1z"/>
<path fill="#778" d="M5824 1541l14-73 12-45-15-3zm-129-12l14-70 12-55-15 4z"/>
<path fill="#999" d="M5810 1456l14 85 11-121-14-2z"/>
<path fill="#fee" d="M5781 1449l14 5 12-45-15-11z"/>
<path fill="#fdd" d="M5752 1443l15-3 11-49-14-4z"/>
<path fill="#fff" d="M5666 1473l15-5 11-42-14-14zm-14 2l14-2 12-61-15-11zm-14 1l14-1 11-74-14 18z"/>
<path fill="#446" d="M5580 1770l15-256 11-79-14 154zm-57-38l14-108 12-127-15 20z"/>
<path fill="#aaf" d="M5566 1728l14 42 12-181-15-158zm-72-46l15-8 11-150-14 2zm-14 5l14-5 12-156-15 11zm-14 11l14-11 11-150-14 5zm-15 12l15-12 11-156-14-5zm-14 5l14-5 12-173-15 19zm-861-165l15 2 11-54-14-17z"/>
<path fill="#779" d="M5552 1572l14 156 11-297-14 41z"/>
<path fill="#99d" d="M5509 1674l14 58 11-215-14 7zm-918-122l14 20 11-51-14-23zm-29-6l14 4 12-69-15 17z"/>
<path fill="#99f" d="M5422 1720l15-5 11-159-14 2zm-14 3l14-3 12-162-14 13zm-43 22l14-6 12-150-14-4z"/>
<path fill="#77d" d="M5394 1762l14-39 12-152-15 54zm-717-99l14 19 11-52-14-36z"/>
<path fill="#88f" d="M5379 1739l15 23 11-137-14-36zm-28 19l14-13 12-160-15 18zm-15 8l15-8 11-155-14 8zm-14-2l14 2 12-155-14 10zm-14 21l14-21 12-143-15 14z"/>
<path fill="#77f" d="M5293 1784l15 1 11-150-14 12zm-14 3l14-3 12-137-15 6zm-14 8l14-8 11-134-14 7zm-15 12l15-12 11-135-14 12zm-14-22l14 22 12-135-15-10zm-14 24l14-24 11-123-14-3zm-15-9l15 9 11-150-14 4zm-14 3l14-3 12-137-15 13z"/>
<path fill="#55d" d="M5179 1829l14-26 11-127-14 30zm-15 19l15-19 11-123-14 36zm-358-55l14 12 12-95-15 2zm-43-36l14 27 12-92-15-21z"/>
<path fill="#55f" d="M5150 1834l14 14 12-106-15-17zm-158-6l15-8 11-105-14 0zm-14-7l14 7 12-113-15-11zm-14-2l14 2 11-117-14 8zm-15 8l15-8 11-107-14 8zm-14 7l14-7 12-107-15 4zm-14-10l14 10 11-110-14 4zm-15 2l15-2 11-96-14 9zm-14-3l14 3 12-89-15-7zm-14 1l14-1 11-93-14 1zm-15-3l15 3 11-93-14 3zm-14-4l14 4 12-87-15-14zm-14-10l14 10 11-97-14 4zm-15-2l15 2 11-83-14-14zm-29-14l15 2 11-81-14 1zm-14-7l14 7 12-78-14-21z"/>
<path fill="#66f" d="M5136 1826l14 8 11-109-14-18zm-15-15l15 15 11-119-14-22zm-14 9l14-9 12-126-15-20zm-14 6l14-6 11-155-14 26zm-15-9l15 9 11-135-14 5zm-14-4l14 4 12-121-15 1zm-14 7l14-7 11-116-14-2zm-15 1l15-1 11-125-14 16zm-14 2l14-2 12-110-15-2zm-14-3l14 3 11-114-14 6zm-259-70l15 7 11-86-14-9z"/>
<path fill="#66d" d="M4734 1735l14 15 12-88-14-16zm-14-18l14 18 12-89-15-1zm-15-12l15 12 11-72-14 10z"/>
<path fill="#55b" d="M4691 1682l14 23 12-50-15-25z"/>
<path fill="#66b" d="M4662 1620l15 43 11-69-14-26z"/>
<path fill="#88d" d="M4648 1599l14 21 12-52-15-25zm-14-17l14 17 11-56-14-12zm-15-8l15 8 11-51-14-2zm-14-2l14 2 12-45-15-8z"/>
<path fill="#558" d="M4548 1574l14-28 11-48-14 16z"/>
<path fill="#224" d="M4533 1605l15-31 11-60-14 41zm-215-137l15 106 11-19-14-102z"/>
<path fill="#336" d="M4519 1643l14-38 12-50-15 47zm-14 37l14-37 11-41-14 50z"/>
<path fill="#226" d="M4490 1720l15-40 11-28-14 46zm-14 35l14-35 12-22-15 33zm-14 35l14-35 11-24-14 34z"/>
<path fill="#116" d="M4447 1825l15-35 11-25-14 34z"/>
<path fill="#114" d="M4433 1859l14-34 12-26-15 33zm-14 37l14-37 11-27-14 36z"/>
<path fill="#002" d="M4404 1933l15-37 11-28-14 36zm-14 37l14-37 12-29-15 35zm-14 9l14-9 11-31-14 9zm-15-135l15 135 11-31-14-131z"/>
<path fill="#112" d="M4347 1709l14 135 12-27-15-131zm-14-135l14 135 11-23-14-131z"/>
<path fill="#77b" d="M4304 1529l14-61 12-15-15 190z"/>
<path fill="#99b" d="M6128 1648l14 12 12-31-14-9zm-14-6l14 6 12-28-15-6zm-15-10l15 10 11-28-14-13z"/>
<path fill="#bbd" d="M6085 1622l14 10 12-31-14-14zm-14-7l14 7 12-35-15-5zm-15-9l15 9 11-33-14-12zm-14-11l14 11 12-36-14-13zm-14-5l14 5 12-38-15-10zm-15-11l15 11 11-43-14-8zm-430-1l15-7 11-83-14 26z"/>
<path fill="#aab" d="M5999 1560l14 19 12-40-15-5zm-344-16l14-22 12-54-15 5z"/>
<path fill="#ccd" d="M5985 1562l14-2 11-26-14-16zm-15-10l15 10 11-44-14-8zm-43-7l15-2 11-40-14-11zm-14-9l14 9 12-53-15-2zm-14-6l14 6 11-46-14-9zm-15 1l15-1 11-49-14 12zm-14-2l14 2 12-38-15-14zm-14-2l14 2 11-50-14-5zm-158-5l14-7 12-64-15 8z"/>
<path fill="#668" d="M5956 1670l14-118 12-42-15 50zm-14-127l14 127 11-110-14-57zm-129 129l14-153 11-51-14 73zm-129-21l14-129 11-63-14 70z"/>
<path fill="#ddd" d="M5841 1514l15 13 11-53-14-2zm-14 5l14-5 12-42-15-4zm-100-9l14-8 11-59-14 4z"/>
<path fill="#889" d="M5798 1515l15 157 11-131-14-85zm-129 7l15 129 11-122-14-61z"/>
<path fill="#fff" d="M5784 1510l14 5 12-59-15-2zm-14 5l14-5 11-56-14-5zm-15-11l15 11 11-66-14-9zm-14-2l14 2 12-64-15 3z"/>
<path fill="#eef" d="M5712 1515l15-5 11-63-14 4z"/>
<path fill="#ddf" d="M5641 1553l14-9 11-71-14 2zm-15 5l15-5 11-78-14 1z"/>
<path fill="#446" d="M5612 1864l14-306 12-82-15 156zm-14-293l14 293 11-232-14-144z"/>
<path fill="#bbf" d="M5569 1585l14-7 12-64-15 256z"/>
<path fill="#336" d="M5555 2018l14-433 11 185-14-42zm-44-49l15-206 11-139-14 108z"/>
<path fill="#448" d="M5540 1677l15 341 11-290-14-156z"/>
<path fill="#224" d="M5526 1763l14-86 12-105-15 52zm-1018-73l14-30 11-55-14 38zm-15 16l15-16 11-47-14 37zm-186-221l14 106 12-17-15-106z"/>
<path fill="#55b" d="M5497 1850l14 119 12-237-14-58zm-832-135l15 38 11-71-14-19z"/>
<path fill="#77f" d="M5483 1860l14-10 12-176-15 8zm-15 3l15-3 11-178-14 5zm-14 5l14-5 12-176-14 11z"/>
<path fill="#66f" d="M5440 1876l14-8 12-170-15 12zm-15 18l15-18 11-166-14 5zm-14-2l14 2 12-179-15 5zm-14 5l14-5 11-172-14 3z"/>
<path fill="#55f" d="M5382 1905l15-8 11-174-14 39zm-14 7l14-7 12-143-15-23zm-14-5l14 5 11-173-14 6zm-15 3l15-3 11-162-14 13zm-14 10l14-10 12-152-15 8zm-14 3l14-3 11-154-14-2zm-15-5l15 5 11-159-14 21zm-14 15l14-15 12-133-15-1z"/>
<path fill="#44f" d="M5268 1932l14 1 11-149-14 3zm-15 6l15-6 11-145-14 8zm-14 4l14-4 12-143-15 12zm-14 1l14-1 11-135-14-22zm-15 0l15 0 11-158-14 24zm-14-6l14 6 12-134-15-9zm-14 11l14-11 11-137-14 3zm-15 14l15-14 11-145-14 26zm-14-7l14 7 12-133-15 19zm-14-6l14 6 11-107-14-14zm-15 4l15-4 11-115-14-8zm-14-3l14 3 12-127-15-15zm-14 7l14-7 11-139-14 9zm-15-8l15 8 11-137-14 6zm-14-2l14 2 12-123-15-9zm-14-2l14 2 11-130-14-4zm-15-1l15 1 11-132-14 7zm-14-1l14 1 12-124-15 1zm-14-12l14 12 11-122-14 2zm-15 11l15-11 11-108-14-3zm-14-4l14 4 12-122-15 8zm-14-14l14 14 11-110-14-7zm-15 11l15-11 11-103-14-2zm-72-20l15 5 11-94-14-3zm-14-10l14 10 12-92-14 1zm-14-3l14 3 12-81-15-3zm-29-20l14 4 12-69-14-10zm-14 5l14-5 12-75-15-2zm-15-9l15 9 11-82-14-12zm-14 3l14-3 12-85-15-2zm-29-16l15-4 11-77-14-27z"/>
<path fill="#33f" d="M4938 1944l14-9 12-116-15 8zm-14-2l14 2 11-117-14 7zm-15-12l15 12 11-108-14-10zm-14-10l14 10 12-106-15 2z"/>
<path fill="#33d" d="M4837 1886l15 16 11-81-14-4z"/>
<path fill="#44d" d="M4766 1861l14 20 11-90-14-7zm-29-27l14 31 12-108-15-7zm-14-18l14 18 11-84-14-15z"/>
<path fill="#55d" d="M4708 1790l15 26 11-81-14-18zm-28-37l14 7 11-55-14-23z"/>
<path fill="#44b" d="M4694 1760l14 30 12-73-15-12z"/>
<path fill="#66d" d="M4651 1695l14 20 12-52-15-43z"/>
<path fill="#66b" d="M4637 1663l14 32 11-75-14-21zm-15-34l15 34 11-64-14-17z"/>
<path fill="#88d" d="M4608 1634l14-5 12-47-15-8zm-14-9l14 9 11-60-14-2zm-15-16l15 16 11-53-14-20zm-14 8l14-8 12-57-15-2z"/>
<path fill="#99f" d="M4551 1615l14 2 11-67-14-4z"/>
<path fill="#77b" d="M4536 1638l15-23 11-69-14 28z"/>
<path fill="#559" d="M4522 1660l14-22 12-64-15 31z"/>
<path fill="#226" d="M4479 1739l14-33 12-26-15 40zm-14 35l14-35 11-19-14 35zm-15 35l15-35 11-19-14 35z"/>
<path fill="#116" d="M4436 1846l14-37 12-19-15 35z"/>
<path fill="#114" d="M4422 1879l14-33 11-21-14 34zm-15 38l15-38 11-20-14 37z"/>
<path fill="#002" d="M4393 1963l14-46 12-21-15 37zm-14 28l14-28 11-30-14 37zm-29-125l14 135 12-22-15-135z"/>
<path fill="#000" d="M4364 2001l15-10 11-21-14 9z"/>
<path fill="#112" d="M4336 1727l14 139 11-22-14-135zm-15-136l15 136 11-18-14-135z"/>
<path fill="#334" d="M4292 1380l15 105 11-17-14 61z"/>
</g>
<g stroke="#222" stroke-width="0.7" fill="none">
<path d="M429.2 207.8L429.2 83.2"/>
<path d="M429.2 83.2L614.2 101.2"/>
<path d="M614.2 225.8L614.2 101.2"/>
<path d="M429.2 207.8L614.2 225.8"/>
<path d="M614.2 225.8L663.2 156.9"/>
<path d="M614.2 101.2L663.2 32.3"/>
</g>
<g stroke="#222" stroke-width="0.7" fill="none">
<path d="M445.7 209.3l1.3-1.9M486.8 213.3l1.3-1.9M527.9 217.3l1.3-1.9M569 221.3l1.3-1.9M610.1 225.3l1.3-1.9M663.2 156.9h-3.5M663.2 94.6h-3.5M663.2 32.3h-3.5M663.2 138.2h-2M663.2 127.2h-2M663.2 119.4h-2M663.2 113.4h-2M663.2 108.5h-2M663.2 104.3h-2M663.2 100.7h-2M663.2 97.5h-2M663.2 75.9h-2M663.2 64.9h-2M663.2 57.1h-2M663.2 51.1h-2M663.2 46.2h-2M663.2 42h-2M663.2 38.4h-2M663.2 35.2h-2"/>
</g>
<path d="M611 225.4l4.6 .45M618 215.6l4.6 .45M625 205.8l4.6 .45M632 196l4.6 .45M639 186.1l4.6 .45M646 176.3l4.6 .45M653 166.5l4.6 .45M660 156.6l4.6 .45" stroke="#000" stroke-width="1.5" fill="none"/>
<path d="M613.7 222.5l3.4 .33M614.9 220.8l3.4 .33M615.8 219.6l3.4 .33M616.4 218.6l3.4 .33M617 217.8l3.4 .33M617.5 217.2l3.4 .33M617.9 216.6l3.4 .33M618.2 216.1l3.4 .33M620.7 212.7l3.4 .33M621.9 211l3.4 .33M622.8 209.7l3.4 .33M623.4 208.8l3.4 .33M624 208l3.4 .33M624.5 207.4l3.4 .33M624.9 206.8l3.4 .33M625.2 206.3l3.4 .33M627.7 202.9l3.4 .33M628.9 201.1l3.4 .33M629.8 199.9l3.4 .33M630.4 199l3.4 .33M631 198.2l3.4 .33M631.5 197.5l3.4 .33M631.9 197l3.4 .33M632.2 196.5l3.4 .33M634.7 193l3.4 .33M635.9 191.3l3.4 .33M636.8 190.1l3.4 .33M637.4 189.1l3.4 .33M638 188.4l3.4 .33M638.5 187.7l3.4 .33M638.9 187.1l3.4 .33M639.2 186.6l3.4 .33M641.7 183.2l3.4 .33M642.9 181.5l3.4 .33M643.8 180.3l3.4 .33M644.4 179.3l3.4 .33M645 178.5l3.4 .33M645.5 177.9l3.4 .33M645.9 177.3l3.4 .33M646.2 176.8l3.4 .33M648.7 173.4l3.4 .33M649.9 171.7l3.4 .33M650.8 170.4l3.4 .33M651.4 169.5l3.4 .33M652 168.7l3.4 .33M652.5 168l3.4 .33M652.9 167.5l3.4 .33M653.2 167l3.4 .33M655.7 163.6l3.4 .33M656.9 161.8l3.4 .33M657.8 160.6l3.4 .33M658.4 159.6l3.4 .33M659 158.9l3.4 .33M659.5 158.2l3.4 .33M659.9 157.6l3.4 .33M660.2 157.1l3.4 .33" stroke="#222" stroke-width="0.85" fill="none"/>
<g font-family="Liberation Sans, sans-serif" fill="#1a1a1a">
<g font-size="10" text-anchor="middle">
<text x="442.5" y="222.2">-100</text>
<text x="482" y="225.4">-50</text>
<text x="524.5" y="229.5">0</text>
<text x="565" y="233.6">+50</text>
<text x="604.5" y="237.6">+100</text>
</g>
<text x="465.6" y="242.4" font-size="11.2" textLength="80" lengthAdjust="spacingAndGlyphs">Temperature [°C]</text>
<g font-size="7.2">
<text transform="translate(618.6 231.6) rotate(-8)">10<tspan font-size="5.3" dy="-2.8">6</tspan></text>
<text transform="translate(625.3 222.4) rotate(-8)">10<tspan font-size="5.3" dy="-2.8">5</tspan></text>
<text transform="translate(632 213.3) rotate(-8)">10<tspan font-size="5.3" dy="-2.8">4</tspan></text>
<text transform="translate(638.7 204.1) rotate(-8)">10<tspan font-size="5.3" dy="-2.8">3</tspan></text>
<text transform="translate(645.4 195) rotate(-8)">10<tspan font-size="5.3" dy="-2.8">2</tspan></text>
<text transform="translate(652.1 185.8) rotate(-8)">10<tspan font-size="5.3" dy="-2.8">1</tspan></text>
<text transform="translate(658.8 176.7) rotate(-8)">10<tspan font-size="5.3" dy="-2.8">0</tspan></text>
<text transform="translate(665.5 167.6) rotate(-8)">10<tspan font-size="5.3" dy="-2.8">-1</tspan></text>
</g>
<text x="650.5" y="202.3" font-size="11.2" textLength="49.5" lengthAdjust="spacingAndGlyphs">Frequency</text>
<text x="675.5" y="216.3" font-size="11.2" text-anchor="middle">[Hz]</text>
<g font-size="10.2">
<text x="666" y="38.4">10<tspan font-size="7" dy="-4">0</tspan></text>
<text x="666" y="96.4">10<tspan font-size="7" dy="-4">-1</tspan></text>
<text x="666" y="157.6">10<tspan font-size="7" dy="-4">0</tspan></text>
</g>
<text transform="translate(696.3 112.5) rotate(-90)"><tspan font-size="16.5">ε</tspan><tspan font-size="9.5" dy="-6.5" dx="1.5">"</tspan><tspan font-size="8.8" dy="8.3" dx="-0.5">der</tspan></text>
<text x="386.8" y="15.3" font-size="16">(b)</text>
</g>
<g stroke="#222" stroke-width="0.7" fill="none">
<path d="M469.4 382.5L469.4 257.9" stroke-dasharray="2.5 2"/>
<path d="M420.4 451.3L469.4 382.5" stroke-dasharray="2.5 2"/>
<path d="M469.4 382.5L654.4 400.5" stroke-dasharray="2.5 2"/>
<path d="M469.4 257.9L654.4 275.9"/>
<path d="M420.4 326.7L469.4 257.9"/>
<path d="M654.4 400.5L654.4 275.9"/>
</g>
<g transform="scale(.1)" stroke="#000" stroke-width="2.2" stroke-linejoin="round">
<path fill="#bbd" d="M6518 3423l15 2 11 73-14-11z"/>
<path fill="#aab" d="M6504 3396l14 27 12 64-15-14zm-29-41l15 21 11 82-14-34z"/>
<path fill="#ccd" d="M6490 3376l14 20 11 77-14-15z"/>
<path fill="#bbb" d="M6461 3327l14 28 12 69-15-8zm-688-111l14-32 11-75-14 30zm-29 47l14-29 12-65-15 30zm-14 20l14-20 11-64-14 30zm-44 38l15-17 11-40-14 11z"/>
<path fill="#ddd" d="M6447 3310l14 17 11 89-14-20zm-15-30l15 30 11 86-14-16zm-14-19l14 19 12 100-15-31zm-703 26l15-4 11-54-14 22z"/>
<path fill="#dcc" d="M6404 3234l14 27 11 88-14-18zm-15-14l15 14 11 97-14-24zm-14-26l14 26 12 87-15-25zm-14-29l14 29 11 88-14-18zm-29-41l14 25 12 87-15-25zm-545 60l14-24 12-82-15 31zm-29 50l15-18 11-77-14 30z"/>
<path fill="#fee" d="M6346 3149l15 16 11 99-14-28z"/>
<path fill="#dbb" d="M6317 3099l15 25 11 87-14-27zm-516 61l15-24 11-90-14 32z"/>
<path fill="#daa" d="M6303 3068l14 31 12 85-14-24zm-487 68l14-33 11-97-14 40z"/>
<path fill="#fbb" d="M6289 3053l14 15 12 92-15-22z"/>
<path fill="#d88" d="M6274 3023l15 30 11 85-14-31zm-444 80l14-26 12-101-15 30z"/>
<path fill="#c77" d="M6260 3001l14 22 12 84-14-33zm-416 76l15-31 11-95-14 25z"/>
<path fill="#c66" d="M6246 2972l14 29 12 73-15-22zm-387 74l14-28 11-100-14 33z"/>
<path fill="#c55" d="M6231 2943l15 29 11 80-14-37z"/>
<path fill="#c33" d="M6217 2912l14 31 12 72-15-20zm-330 78l15-31 11-97-14 24z"/>
<path fill="#c22" d="M6203 2891l14 21 11 83-14-34zm-15-24l15 24 11 70-14-24zm-286 92l14-24 11-97-14 24z"/>
<path fill="#c11" d="M6174 2847l14 20 12 70-15-33zm-258 88l14-32 12-90-15 25z"/>
<path fill="#c00" d="M6160 2825l14 22 11 57-14-28zm-29-37l14 12 12 48-15-21zm-100-27l14-9 11-24-14-1zm-15 12l15-12 11-34-14 12zm-14 7l14-7 12-34-15 0zm-14 12l14-12 11-41-14 8zm-15 37l15-37 11-45-14-1zm-28 53l14-41 11-72-14 19z"/>
<path fill="#a00" d="M6145 2800l15 25 11 51-14-28zm-28-27l14 15 11 39-14-26zm-15-21l15 21 11 28-14-19zm-14-3l14 3 12 30-15-21zm-14-8l14 8 11 12-14-4zm-15 3l15-3 11 16-14-14zm-14 8l14-8 12-1-15-15z"/>
<path fill="#d00" d="M5959 2841l14-12 12-83-15 23z"/>
<path fill="#d11" d="M5930 2903l15-21 11-94-14 25z"/>
<path fill="#c44" d="M5873 3018l14-28 12-104-15 32z"/>
<path fill="#999" d="M5701 3304l14-17 12-36-15 13zm-29 14l14 3 12-46-14 28z"/>
<path fill="#778" d="M5658 3330l14-12 12-15-15 1zm-15 10l15-10 11-26-14 19zm-14 14l14-14 12-17-14 13z"/>
<path fill="#668" d="M5615 3365l14-11 12-18-15 13zm-15 8l15-8 11-16-14 13zm-14 5l14-5 12-11-15 4zm-14 10l14-10 11-12-14 11zm-15 1l15-1 11-11-14 13zm-14 1l14-1 12 1-15 4z"/>
<path fill="#558" d="M5529 3412l14-22 11 4-14 2zm-15 13l15-13 11-16-14 19zm-14 19l14-19 12-10-15 9z"/>
<path fill="#448" d="M5486 3453l14-9 11-20-14 17zm-15 13l15-13 11-12-14 10zm-14 13l14-13 12-15-15 14z"/>
<path fill="#338" d="M5443 3494l14-15 11-14-14 7zm-15 25l15-25 11-22-14 15zm-14 10l14-10 12-32-15 16zm-703-147l15 69 11-2-14-22zm-28 14l14 10 11 43-14-50z"/>
<path fill="#228" d="M5400 3546l14-17 11-26-14 9zm-15 9l15-9 11-34-14 19zm-14 18l14-18 12-24-15 17zm-559-88l14 24 11 17-14-19zm-15-8l15 8 11 22-14-12zm-14 2l14-2 12 18-15-4zm-14-1l14 1 11 12-14-4zm-15 8l15-8 11 9-14-18zm-14-2l14 2 12-17-15 20zm-14-33l14 33 11 5-14-40z"/>
<path fill="#118" d="M5357 3587l14-14 11-25-14 9zm-15 16l15-16 11-30-14 23zm-14 12l14-12 12-23-15 24zm-14 18l14-18 11-11-14 19zm-431-73l15 25 11 10-14 1zm-14-10l14 10 12 36-15-27zm-14-18l14 18 11 19-14-16zm-15-10l15 10 11 21-14-21zm-14-13l14 13 12 10-15-6z"/>
<path fill="#008" d="M5299 3647l15-14 11-10-14 17zm-14 14l14-14 12-7-15 9zm-14 18l14-18 11-12-14 22zm-15 11l15-11 11-8-14 14zm-14 7l14-7 12-5-15 5zm-14 9l14-9 11-7-14 13zm-15 13l15-13 11-3-14 14zm-14 5l14-5 12-2-15 6zm-14 10l14-10 11-1-14 11zm-15 8l15-8 11 0-14 7zm-14 3l14-3 12-1-15 0zm-14-6l14 6 11-4-14 2zm-15-11l15 11 11 4-14-9zm-14-6l14 6 12 6-15 5zm-15-8l15 8 11 17-14-6zm-43 4l15 2 11 15-14-8zm-14-7l14 7 12 9-14 3zm-14-10l14 10 12 19-15-16zm-15-10l15 10 11 13-14-9zm-14-4l14 4 12 14-14-15zm-14-19l14 19 12 3-15-5zm-15-16l15 16 11 17-14-18zm-14-10l14 10 12 15-15-3zm-14-5l14 5 11 22-14-16zm-15-11l15 11 11 11-14-9zm-14-27l14 27 12 13-15-24zm-14-14l14 14 11 16-14-20z"/>
<path fill="#009" d="M5084 3719l14-5 12 19-14 0zm-14 1l14-1 12 14-15 2z"/>
<path fill="#66d" d="M4697 3406l14-24 12 45-15 22z"/>
<path fill="#ddd" d="M6507 3339l14 17 12 69-15-2zm-14-15l14 15 11 84-14-27zm-15-23l15 23 11 72-14-20zm-14-22l14 22 12 75-15-21zm-760 53l14 0 12-49-15 4z"/>
<path fill="#bbb" d="M6450 3252l14 27 11 76-14-28zm-732 80l14-14 12-55-14 20zm-29 4l15-4 11-45-14 17z"/>
<path fill="#dcc" d="M6435 3227l15 25 11 75-14-17zm-14-26l14 26 12 83-15-30zm-15-18l15 18 11 79-14-19zm-14-28l14 28 12 78-14-27zm-588 75l14-36 12-91-14 33zm-29 35l15-23 11-82-14 24zm-14 12l14-12 12-81-14 32zm-14 16l14-16 12-61-15 18z"/>
<path fill="#dbb" d="M6378 3124l14 31 12 79-15-14zm-560 70l15-22 11-95-14 26z"/>
<path fill="#fcc" d="M6363 3104l15 20 11 96-14-26z"/>
<path fill="#d99" d="M6349 3075l14 29 12 90-14-29zm-502 71l15-25 11-103-14 28z"/>
<path fill="#eaa" d="M6335 3056l14 19 12 90-15-16z"/>
<path fill="#e99" d="M6320 3039l15 17 11 93-14-25z"/>
<path fill="#c77" d="M6306 3017l14 22 12 85-15-25z"/>
<path fill="#c66" d="M6292 2998l14 19 11 82-14-31z"/>
<path fill="#c55" d="M6277 2973l15 25 11 70-14-15zm-387 94l15-32 11-100-14 24z"/>
<path fill="#c44" d="M6263 2950l14 23 12 80-15-30zm-358 85l14-36 11-96-14 32z"/>
<path fill="#c33" d="M6249 2923l14 27 11 73-14-22zm-330 76l14-29 12-88-15 21z"/>
<path fill="#c22" d="M6234 2902l15 21 11 78-14-29zm-301 68l15-42 11-87-14 41z"/>
<path fill="#c11" d="M6220 2888l14 14 12 70-15-29zm-272 40l14-32 11-67-14 12z"/>
<path fill="#a11" d="M6206 2863l14 25 11 55-14-31z"/>
<path fill="#c00" d="M6191 2843l15 20 11 49-14-21zm-43-46l15 8 11 42-14-22zm-86-30l15-5 11-13-14-8zm-14 3l14-3 12-26-15 3zm-29 44l15-16 11-46-14 9zm-14 19l14-19 12-53-15 12zm-29 36l15-28 11-61-14 12zm-14 27l14-27 12-77-15 37z"/>
<path fill="#a00" d="M6177 2825l14 18 12 48-15-24zm-14-20l14 20 11 42-14-20zm-29-29l14 21 12 28-15-25zm-14-4l14 4 11 24-14-12zm-15-2l15 2 11 16-14-15zm-14-14l14 14 12 3-15-21zm-14 6l14-6 11-4-14-3zm-43 36l14-28 11-26-14 8z"/>
<path fill="#d00" d="M5991 2841l14-8 11-60-14 7z"/>
<path fill="#e88" d="M5876 3085l14-18 12-108-15 31z"/>
<path fill="#d88" d="M5862 3121l14-36 11-95-14 28z"/>
<path fill="#daa" d="M5833 3172l14-26 12-100-15 31z"/>
<path fill="#fee" d="M5790 3242l14-12 12-94-15 24z"/>
<path fill="#999" d="M5732 3318l15-25 11-59-14 29zm-71 39l14-15 11-21-14-3z"/>
<path fill="#778" d="M5675 3342l14-6 12-32-15 17zm-43 17l14-4 12-25-15 10zm-14 9l14-9 11-19-14 14zm-15 7l15-7 11-14-14 11z"/>
<path fill="#aab" d="M5646 3355l15 2 11-39-14 12z"/>
<path fill="#668" d="M5589 3384l14-9 12-10-15 8zm-14 5l14-5 11-11-14 5zm-15 8l15-8 11-11-14 10zm-14 9l14-9 12-9-15 1zm-14 5l14-5 11-17-14 1zm-15 10l15-10 11-21-14 22z"/>
<path fill="#558" d="M5503 3433l14-12 12-9-15 13zm-14 18l14-18 11-8-14 19z"/>
<path fill="#448" d="M5474 3468l15-17 11-7-14 9zm-14 15l14-15 12-15-15 13zm-14 2l14-2 11-17-14 13zm-15 25l15-25 11-6-14 15z"/>
<path fill="#338" d="M5417 3535l14-25 12-16-15 25zm-688-102l14 24 11 29-14-2zm-15 13l15-13 11 51-14-33zm-28 23l14-44 11-43-14 24z"/>
<path fill="#228" d="M5403 3559l14-24 11-16-14 10zm-15 16l15-16 11-30-14 17zm-28 18l14-8 11-30-14 18zm-531-87l14 14 12 12-15-10zm-14-12l14 12 11 16-14-13zm-15-21l15 21 11 15-14-24zm-14 1l14-1 12 12-15-8zm-14-4l14 4 11 3-14 2zm-15 7l15-7 11 9-14-1zm-14-20l14 20 12 1-15 8z"/>
<path fill="#229" d="M5374 3585l14-10 12-29-15 9z"/>
<path fill="#118" d="M5345 3602l15-9 11-20-14 14zm-14 7l14-7 12-15-15 16zm-14 17l14-17 11-6-14 12zm-15 20l15-20 11-11-14 18zm-14 12l14-12 12-13-15 14zm-387-70l14 14 11 24-14-27zm-15-15l15 15 11 11-14-14zm-14-24l14 24 12 12-15-25zm-14-20l14 20 11 11-14-10zm-15-9l15 9 11 21-14-18z"/>
<path fill="#008" d="M5274 3671l14-13 11-11-14 14zm-15 14l15-14 11-10-14 18zm-14 9l14-9 12-6-15 11zm-14 12l14-12 11-4-14 7zm-15 5l15-5 11-9-14 9zm-14 7l14-7 12-5-15 13zm-15 12l15-12 11 1-14 5zm-14 13l14-13 12-6-14 10zm-14-1l14 1 12-9-15 8zm-15 1l15-1 11 0-14 3zm-14-10l14 10 12 2-14-6zm-14-3l14 3 12 6-15-11zm-15-25l15 25 11-2-14-6zm-14 0l14 0 12 17-15-8zm-14-1l14 1 11 9-14 5zm-29 10l14-12 12 18-15-2zm-14-11l14 11 11 4-14-7zm-15-13l15 13 11 8-14-10zm-14-11l14 11 12 11-15-10zm-14-12l14 12 11 12-14-4zm-15-15l15 15 11 20-14-19zm-14-13l14 13 12 16-15-16zm-14-1l14 1 11 13-14-10zm-15-10l15 10 11 4-14-5zm-14-26l14 26 12 9-15-11z"/>
<path fill="#009" d="M5058 3702l15 2 11 15-14 1z"/>
<path fill="#66d" d="M4700 3425l14 21 12 5-15-69z"/>
<path fill="#55d" d="M4671 3469l15 0 11-63-14-10z"/>
<path fill="#fee" d="M6495 3268l15 7 11 81-14-17z"/>
<path fill="#dcc" d="M6481 3244l14 24 12 71-14-15zm-14-25l14 25 12 80-15-23zm-15-26l15 26 11 82-14-22zm-14-21l14 21 12 86-14-27zm-602 61l14-29 12-83-15 25zm-15 27l15-27 11-87-14 26zm-14 31l14-31 12-88-15 22zm-14 8l14-8 11-97-14 36zm-15 18l15-18 11-69-14 12z"/>
<path fill="#dbb" d="M6424 3149l14 23 12 80-15-25zm-574 55l14-23 12-96-14 36z"/>
<path fill="#daa" d="M6409 3119l15 30 11 78-14-26z"/>
<path fill="#d99" d="M6395 3095l14 24 12 82-15-18zm-516 70l14-32 12-98-15 32z"/>
<path fill="#d88" d="M6381 3068l14 27 11 88-14-28zm-488 65l14-26 12-108-14 36z"/>
<path fill="#c77" d="M6366 3050l15 18 11 87-14-31z"/>
<path fill="#c66" d="M6352 3018l14 32 12 74-15-20zm-445 89l15-38 11-99-14 29z"/>
<path fill="#e66" d="M6338 3010l14 8 11 86-14-29z"/>
<path fill="#c44" d="M6323 2989l15 21 11 65-14-19z"/>
<path fill="#c33" d="M6309 2959l14 30 12 67-15-17zm-373 70l15-36 11-97-14 32z"/>
<path fill="#e33" d="M6295 2944l14 15 11 80-14-22z"/>
<path fill="#c22" d="M6280 2923l15 21 11 73-14-19zm-329 70l14-29 11-95-14 27z"/>
<path fill="#c11" d="M6266 2902l14 21 12 75-15-25zm-14-14l14 14 11 71-14-23z"/>
<path fill="#c00" d="M6237 2869l15 19 11 62-14-27zm-14-23l14 23 12 54-15-21zm-14-9l14 9 11 56-14-14zm-15-12l15 12 11 51-14-25zm-114-35l14-3 11-17-14-14zm-15 12l15-12 11-34-14 6zm-14 8l14-8 12-40-15 5zm-14 21l14-21 11-43-14 3zm-15 26l15-26 11-61-14 28zm-14 29l14-29 12-59-15 16zm-14 29l14-29 11-72-14 19z"/>
<path fill="#a00" d="M6180 2804l14 21 12 38-15-20zm-14-15l14 15 11 39-14-18zm-15-2l15 2 11 36-14-20zm-14-2l14 2 12 18-15-8zm-14 2l14-2 11 12-14-21zm-15-6l15 6 11-11-14-4zm-14 6l14-6 12-9-15-2z"/>
<path fill="#d00" d="M5979 2919l15-4 11-82-14 8z"/>
<path fill="#a11" d="M5965 2964l14-45 12-78-15 28z"/>
<path fill="#c55" d="M5922 3069l14-40 12-101-15 42z"/>
<path fill="#fcc" d="M5864 3181l15-16 11-98-14 18z"/>
<path fill="#ddd" d="M5764 3328l14-11 12-75-15 23zm-14 17l14-17 11-63-14 12zm-15 16l15-16 11-68-14 16zm-14 1l14-1 12-68-15 25z"/>
<path fill="#bbb" d="M5707 3370l14-8 11-44-14 14z"/>
<path fill="#ccd" d="M5692 3371l15-1 11-38-14 0zm-14 5l14-5 12-39-15 4zm-14 5l14-5 11-40-14 6z"/>
<path fill="#aab" d="M5649 3376l15 5 11-39-14 15zm-28 6l14 0 11-27-14 4z"/>
<path fill="#889" d="M5635 3382l14-6 12-19-15-2z"/>
<path fill="#778" d="M5606 3388l15-6 11-23-14 9zm-14 8l14-8 12-20-15 7z"/>
<path fill="#668" d="M5578 3396l14 0 11-21-14 9zm-15 4l15-4 11-12-14 5zm-14 5l14-5 12-11-15 8zm-14 7l14-7 11-8-14 9zm-15 4l15-4 11-6-14 5zm-14 13l14-13 12-5-15 10z"/>
<path fill="#558" d="M5492 3446l14-17 11-8-14 12zm-15 14l15-14 11-13-14 18zm-14 9l14-9 12-9-15 17z"/>
<path fill="#448" d="M5449 3496l14-27 11-1-14 15zm-15 6l15-6 11-13-14 2zm-14 25l14-25 12-17-15 25zm-717-138l14 59 12-15-15 13z"/>
<path fill="#338" d="M5406 3555l14-28 11-17-14 25zm-603-78l15 14 11 15-14-12zm-14-13l14 13 12 17-15-21zm-14-11l14 11 11 9-14 1zm-43 29l14-21 11 16-14-20z"/>
<path fill="#228" d="M5391 3572l15-17 11-20-14 24zm-14 25l14-25 12-13-15 16zm-14 14l14-14 11-22-14 10zm-517-96l15 30 11 4-14-20zm-14-13l14 13 12 14-15-9zm-14-11l14 11 11 18-14-14z"/>
<path fill="#229" d="M5348 3615l15-4 11-26-14 8z"/>
<path fill="#118" d="M5334 3623l14-8 12-22-15 9zm-14 6l14-6 11-21-14 7zm-15 13l15-13 11-20-14 17zm-14 14l14-14 12-16-15 20zm-15 6l15-6 11-10-14 12zm-358-52l14 13 12 15-15-10zm-14-10l14 10 11 18-14-26zm-15-25l15 25 11 2-14-14zm-14-17l14 17 12 13-15-15zm-14-13l14 13 11 15-14-24z"/>
<path fill="#008" d="M5262 3677l14-15 12-4-14 13zm-14 17l14-17 12-6-15 14zm-15 12l15-12 11-9-14 9zm-14 6l14-6 12-12-14 12zm-14 8l14-8 12-6-15 5zm-15 15l15-15 11-9-14 7zm-14 0l14 0 12-17-15 12zm-14 6l14-6 11-5-14 13zm-15 8l15-8 11 2-14-1zm-14-4l14 4 12-7-15 1zm-14-6l14 6 11-2-14-10zm-15-14l15 14 11-6-14-3zm-14-25l14 25 12 5-15-25zm-14-11l14 11 11 5-14 0zm-15 7l15-7 11 16-14-1zm-14 3l14-3 12 8-15-2zm-14-1l14 1 11 3-14 12zm-15-7l15 7 11 16-14-11zm-14-10l14 10 12 12-15-13zm-14-11l14 11 11 9-14-11zm-15-12l15 12 11 9-14-12zm-14-13l14 13 12 9-15-15zm-14-10l14 10 11 7-14-13zm-15-12l15 12 11 4-14-1z"/>
<path fill="#449" d="M4760 3457l15-4 11 21-14-4zm-14 4l14-4 12 13-15 7zm-29-13l15 34 11-25-14-24z"/>
<path fill="#66b" d="M4688 3398l15-9 11 57-14-21z"/>
<path fill="#77d" d="M4674 3406l14-8 12 27-14 44z"/>
<path fill="#55b" d="M4660 3378l14 28 12 63-15 0z"/>
<path fill="#fdd" d="M6484 3189l14 15 12 71-15-7z"/>
<path fill="#dbb" d="M6470 3170l14 19 11 79-14-24zm-588 52l14-23 11-92-14 26z"/>
<path fill="#daa" d="M6455 3148l15 22 11 74-14-25zm-559 51l14-41 12-89-15 38z"/>
<path fill="#d99" d="M6441 3125l14 23 12 71-15-26z"/>
<path fill="#d88" d="M6427 3096l14 29 11 68-14-21zm-517 62l15-43 11-86-14 40z"/>
<path fill="#c77" d="M6412 3060l15 36 11 76-14-23z"/>
<path fill="#c66" d="M6398 3038l14 22 12 89-15-30zm-473 77l14-29 12-93-15 36z"/>
<path fill="#c55" d="M6384 3008l14 30 11 81-14-24zm-445 78l14-34 12-88-14 29z"/>
<path fill="#c44" d="M6369 2989l15 19 11 87-14-27z"/>
<path fill="#c33" d="M6355 2965l14 24 12 79-15-18zm-402 87l15-43 11-90-14 45z"/>
<path fill="#e22" d="M6341 2953l14 12 11 85-14-32zm-373 56l14-18 12-76-15 4z"/>
<path fill="#d22" d="M6326 2940l15 13 11 65-14-8z"/>
<path fill="#c11" d="M6312 2915l14 25 12 70-15-21zm-14-16l14 16 11 74-14-30zm-302 71l15-28 11-85-14 29zm-14 21l14-21 12-84-14 29z"/>
<path fill="#c00" d="M6283 2882l15 17 11 60-14-15zm-14-13l14 13 12 62-15-21zm-14-8l14 8 11 54-14-21zm-15-16l15 16 11 41-14-14zm-14-9l14 9 12 43-15-19zm-29-22l15 5 11 27-14-9zm-71-6l14-2 11-19-14-2zm-15 7l15-7 11-23-14 2zm-14 7l14-7 12-28-15-6zm-14 16l14-16 11-41-14 6zm-15 13l15-13 11-51-14 3zm-14 16l14-16 12-61-15 12zm-14 15l14-15 11-65-14 8zm-15 17l15-17 11-72-14 21z"/>
<path fill="#a00" d="M6212 2819l14 17 11 33-14-23zm-29-12l14 7 12 23-15-12zm-14-8l14 8 11 18-14-21zm-15 4l15-4 11 5-14-15zm-14 3l14-3 12-14-15-2zm-129 136l14-43 12-68-15 26z"/>
<path fill="#dcc" d="M5867 3250l15-28 11-89-14 32zm-14 26l14-26 12-85-15 16zm-14 14l14-14 11-95-14 23zm-15 36l15-36 11-86-14 29zm-14 8l14-8 12-93-15 27z"/>
<path fill="#bbb" d="M5796 3365l14-31 11-74-14 31z"/>
<path fill="#ddd" d="M5781 3384l15-19 11-74-14 8zm-14 9l14-9 12-85-15 18zm-14 5l14-5 11-76-14 11z"/>
<path fill="#ccd" d="M5738 3398l15 0 11-70-14 17zm-14 8l14-8 12-53-15 16zm-14-2l14 2 11-45-14 1zm-15 0l15 0 11-42-14 8zm-14 3l14-3 12-34-15 1z"/>
<path fill="#aab" d="M5667 3401l14 6 11-36-14 5zm-29 5l14-7 12-18-15-5z"/>
<path fill="#889" d="M5652 3399l15 2 11-25-14 5z"/>
<path fill="#778" d="M5624 3390l14 16 11-30-14 6zm-15 8l15-8 11-8-14 0zm-14 9l14-9 12-16-15 6z"/>
<path fill="#668" d="M5581 3406l14 1 11-19-14 8zm-15 3l15-3 11-10-14 0zm-14 10l14-10 12-13-15 4zm-14-1l14 1 11-19-14 5zm-15 3l15-3 11-13-14 7zm-14 6l14-6 12-9-15 4zm-14 22l14-22 11-11-14 13z"/>
<path fill="#558" d="M5480 3454l15-5 11-20-14 17zm-14 26l14-26 12-8-15 14zm-14 9l14-9 11-20-14 9z"/>
<path fill="#448" d="M5437 3505l15-16 11-20-14 27zm-14 17l14-17 12-9-15 6zm-660-64l14-1 12 7-14-11zm-14 4l14-4 12-5-15 4z"/>
<path fill="#338" d="M5408 3550l15-28 11-20-14 25zm-14 31l14-31 12-23-14 28zm-573-83l14 8 11 9-14-13zm-15-15l15 15 11 4-14-11zm-14-16l14 16 12 8-15-14zm-15-10l15 10 11 10-14-13zm-43 0l15 5 11-5-14 4zm-28-3l14 9 12 19-15-34z"/>
<path fill="#228" d="M5380 3601l14-20 12-26-15 17zm-15 28l15-28 11-29-14 25zm-501-80l14 17 11 9-14-17zm-15-19l15 19 11 9-14-13zm-14-24l14 24 12 15-15-30z"/>
<path fill="#229" d="M5351 3629l14 0 12-32-14 14z"/>
<path fill="#118" d="M5337 3635l14-6 12-18-15 4zm-15-4l15 4 11-20-14 8zm-14 7l14-7 12-8-14 6zm-14 11l14-11 12-9-15 13zm-15 14l15-14 11-7-14 14zm-14 19l14-19 12-7-15 6zm-14 11l14-11 11-20-14 15zm-301-56l14 12 11 9-14-13zm-15-6l15 6 11 8-14-10zm-14-17l14 17 12 4-15-12zm-14-6l14 6 11 9-14-13zm-15-23l15 23 11 2-14-10zm-14-19l14 19 12 15-15-25z"/>
<path fill="#008" d="M5236 3702l15-9 11-16-14 17zm-14 1l14-1 12-8-15 12zm-14 14l14-14 11 3-14 6zm-15 11l15-11 11-5-14 8zm-14 6l14-6 12-8-15 15zm-14 5l14-5 11 1-14 0zm-15 0l15 0 11-4-14 6zm-14 13l14-13 12 2-15 8zm-14-4l14 4 11-3-14-4zm-15-12l15 12 11-3-14-6zm-14-13l14 13 12 3-15-14zm-14-26l14 26 11 2-14-25zm-15-12l15 12 11 3-14-11zm-14 2l14-2 12 4-15 7zm-14 10l14-10 11 9-14 3zm-15-2l15 2 11 2-14-1zm-14-8l14 8 12 3-15-7zm-14-15l14 15 11 4-14-10zm-15-5l15 5 11 9-14-11zm-14-18l14 18 12 3-15-12z"/>
<path fill="#55b" d="M4720 3463l14-6 12 4-14 21z"/>
<path fill="#77d" d="M4691 3460l15-6 11-6-14-59zm-14-9l14 9 12-71-15 9zm-14-12l14 12 11-53-14 8z"/>
<path fill="#669" d="M4648 3393l15 46 11-33-14-28z"/>
<path fill="#e99" d="M6473 3109l14 15 11 80-14-15z"/>
<path fill="#c77" d="M6458 3091l15 18 11 80-14-19z"/>
<path fill="#c66" d="M6444 3061l14 30 12 79-15-22zm-502 76l14-35 12-93-15 43z"/>
<path fill="#e66" d="M6430 3047l14 14 11 87-14-23zm-474 55l15-22 11-89-14 18z"/>
<path fill="#c44" d="M6415 3020l15 27 11 78-14-29z"/>
<path fill="#c33" d="M6401 2997l14 23 12 76-15-36zm-416 65l14-33 12-87-15 28z"/>
<path fill="#c22" d="M6387 2977l14 20 11 63-14-22zm-388 52l15-38 11-92-14 43z"/>
<path fill="#a11" d="M6372 2942l15 35 11 61-14-30z"/>
<path fill="#c11" d="M6358 2931l14 11 12 66-15-19zm-344 60l14-33 12-76-15 17z"/>
<path fill="#c00" d="M6344 2910l14 21 11 58-14-24zm-15-10l15 10 11 55-14-12zm-14-14l14 14 12 53-15-13zm-14-11l14 11 11 54-14-25zm-15-15l15 15 11 40-14-16zm-14-6l14 6 12 39-15-17zm-29-20l15 5 11 30-14-8zm-71 0l14-5 11-15-14-7zm-15 0l15 0 11-27-14-8zm-14-1l14 1 12-35-15 4zm-15 18l15-18 11-30-14 3zm-14 11l14-11 12-45-14 2zm-14 18l14-18 12-54-15 7zm-29 22l14-16 12-64-14 16zm-14 23l14-23 12-64-15 13zm-29 33l14-22 12-69-14 15z"/>
<path fill="#a00" d="M6258 2839l14 15 11 28-14-13zm-29-13l14 8 12 27-15-16zm-14 4l14-4 11 19-14-9zm-15-8l15 8 11 6-14-17zm-14 7l14-7 12-3-15-5z"/>
<path fill="#d00" d="M6085 2886l15-6 11-65-14 7zm-43 50l15-11 11-74-14 16z"/>
<path fill="#e55" d="M5971 3080l14-18 11-92-14 21z"/>
<path fill="#d88" d="M5928 3181l14-44 11-85-14 34z"/>
<path fill="#daa" d="M5913 3213l15-32 11-95-14 29z"/>
<path fill="#dbb" d="M5899 3246l14-33 12-98-15 43z"/>
<path fill="#baa" d="M5885 3284l14-38 11-88-14 41z"/>
<path fill="#dcc" d="M5870 3318l15-34 11-85-14 23zm-14 18l14-18 12-96-15 28zm-14 17l14-17 11-86-14 26z"/>
<path fill="#ddd" d="M5827 3370l15-17 11-77-14 14zm-28 48l14-25 11-67-14 8zm-15 14l15-14 11-84-14 31z"/>
<path fill="#bbb" d="M5813 3393l14-23 12-80-15 36z"/>
<path fill="#ccd" d="M5770 3447l14-15 12-67-15 19zm-14 0l14 0 11-63-14 9zm-15-2l15 2 11-54-14 5zm-14 5l14-5 12-47-15 0zm-115-27l15 10 11-27-14-16z"/>
<path fill="#bbd" d="M5713 3450l14 0 11-52-14 8zm-15-8l15 8 11-44-14-2zm-14 2l14-2 12-38-15 0zm-14-2l14 2 11-40-14 3zm-15-10l15 10 11-35-14-6z"/>
<path fill="#aab" d="M5641 3427l14 5 12-31-15-2zm-43-5l14 1 12-33-15 8z"/>
<path fill="#889" d="M5627 3433l14-6 11-28-14 7z"/>
<path fill="#778" d="M5584 3421l14 1 11-24-14 9zm-15-5l15 5 11-14-14-1z"/>
<path fill="#668" d="M5555 3425l14-9 12-10-15 3zm-14-6l14 6 11-16-14 10zm-15 6l15-6 11 0-14-1zm-14 3l14-3 12-7-15 3zm-15 13l15-13 11-7-14 6zm-14 11l14-11 12-14-14 22zm-14 17l14-17 12-3-15 5z"/>
<path fill="#558" d="M5454 3490l15-21 11-15-14 26zm-14 12l14-12 12-10-14 9zm-803-109l14 38 12 8-15-46z"/>
<path fill="#448" d="M5426 3516l14-14 12-13-15 16zm-15 20l15-20 11-11-14 17zm-631-63l15 16 11-6-14-16zm-14-8l14 8 12-6-15-10zm-14-6l14 6 11-8-14 1zm-15-6l15 6 11-1-14 4zm-14 11l14-11 12 9-15-5zm-14 7l14-7 11-7-14 6zm-15-22l15 22 11-8-14-9zm-14 18l14-18 12 5-15 6zm-14-68l14 68 11-7-14-9z"/>
<path fill="#338" d="M5397 3560l14-24 12-14-15 28zm-14 33l14-33 11-10-14 31zm-560-84l15 22 11-1-14-24zm-14-9l14 9 12-3-14-8zm-14-11l14 11 12-2-15-15z"/>
<path fill="#228" d="M5368 3618l15-25 11-12-14 20zm-14 22l14-22 12-17-15 28zm-488-74l15 32 11-13-14-19zm-14-21l14 21 12 0-14-17zm-14-14l14 14 12 4-15-19z"/>
<path fill="#118" d="M5340 3654l14-14 11-11-14 0zm-43-2l14-6 11-15-14 7zm-15 17l15-17 11-14-14 11zm-14 4l14-4 12-20-15 14zm-14 17l14-17 11-10-14 19zm-15 11l15-11 11-8-14 11zm-272-39l14 8 12 2-15-5zm-14-14l14 14 11 5-14-18zm-15-11l15 11 11 1-14-12zm-14-14l14 14 12 0-15-6zm-14-7l14 7 11 8-14-17zm-15-6l15 6 11-2-14-6z"/>
<path fill="#229" d="M5325 3649l15 5 11-25-14 6zm-14-3l14 3 12-14-15-4zm-430-48l14 12 12-2-15-23z"/>
<path fill="#008" d="M5225 3709l14-8 12-8-15 9zm-14 11l14-11 11-7-14 1zm-15 4l15-4 11-17-14 14zm-14 10l14-10 12-7-15 11zm-14 7l14-7 11-6-14 6zm-15 0l15 0 11-7-14 5zm-14 15l14-15 12-2-15 0zm-14-1l14 1 11-17-14 13zm-15-11l15 11 11-3-14-4zm-14-1l14 1 12 4-15-12zm-14-25l14 25 11-7-14-13zm-15-24l15 24 11 5-14-26zm-14-5l14 5 12 3-15-12zm-14-5l14 5 11-4-14 2zm-15 3l15-3 11 3-14 10zm-14 0l14 0 12 10-15-2zm-14-4l14 4 11 8-14-8zm-15-13l15 13 11 4-14-15z"/>
<path fill="#559" d="M4651 3431l15-32 11 52-14-12z"/>
<path fill="#e44" d="M6461 3040l15 13 11 71-14-15zm-14-11l14 11 12 69-15-18z"/>
<path fill="#a22" d="M6433 2998l14 31 11 62-14-30z"/>
<path fill="#c22" d="M6418 2982l15 16 11 63-14-14z"/>
<path fill="#c11" d="M6404 2957l14 25 12 65-15-27zm-14-19l14 19 11 63-14-23zm-359 93l14-27 12-79-15 11z"/>
<path fill="#c00" d="M6375 2926l15 12 11 59-14-20zm-28-45l14 17 11 44-14-11zm-15-2l15 2 11 50-14-21zm-14-6l14 6 12 31-15-10zm-129-16l14-6 12-21-15-8zm-15 6l15-6 11-35-14 7zm-14 9l14-9 12-34-14 5zm-14 17l14-17 12-38-15 0zm-15 17l15-17 11-55-14-1zm-43 46l15-24 11-66-14 18zm-14 23l14-23 12-72-15 6z"/>
<path fill="#a00" d="M6361 2898l14 28 12 51-15-35zm-57-33l14 8 11 27-14-14zm-15-14l15 14 11 21-14-11zm-14-7l14 7 12 24-15-15zm-14 7l14-7 11 16-14-6zm-15-8l15 8 11 3-14-15zm-14-2l14 2 12-4-15-5zm-15 5l15-5 11-7-14-8zm-14 5l14-5 12-20-14 4z"/>
<path fill="#d00" d="M6117 2917l14-11 12-73-15 18zm-14 11l14-11 11-66-14 11zm-43 63l14-16 11-89-14 16z"/>
<path fill="#d11" d="M6045 3004l15-13 11-89-14 23z"/>
<path fill="#d22" d="M6017 3050l14-19 11-95-14 22z"/>
<path fill="#c33" d="M6002 3077l15-27 11-92-14 33z"/>
<path fill="#c44" d="M5988 3117l14-40 12-86-15 38z"/>
<path fill="#c66" d="M5974 3147l14-30 11-88-14 33z"/>
<path fill="#e88" d="M5959 3167l15-20 11-85-14 18z"/>
<path fill="#d88" d="M5945 3192l14-25 12-87-15 22z"/>
<path fill="#daa" d="M5931 3232l14-40 11-90-14 35z"/>
<path fill="#dbb" d="M5916 3268l15-36 11-95-14 44z"/>
<path fill="#dcc" d="M5902 3302l14-34 12-87-15 32zm-14 32l14-32 11-89-14 33zm-15 27l15-27 11-88-14 38z"/>
<path fill="#bbb" d="M5859 3389l14-28 12-77-15 34zm-57 59l14-18 11-60-14 23z"/>
<path fill="#ddd" d="M5845 3406l14-17 11-71-14 18zm-15 10l15-10 11-70-14 17zm-14 14l14-14 12-63-15 17z"/>
<path fill="#999" d="M5787 3470l15-22 11-55-14 25z"/>
<path fill="#aab" d="M5773 3483l14-13 12-52-15 14zm-143-31l14 7 11-27-14-5zm-29-9l14 2 12-12-15-10zm-43-2l14 2 12-22-15-5z"/>
<path fill="#99b" d="M5759 3492l14-9 11-51-14 15zm-86-20l14 12 11-42-14 2zm-15-7l15 7 11-28-14-2zm-14-6l14 6 12-23-15-10z"/>
<path fill="#bbd" d="M5744 3491l15 1 11-45-14 0zm-14-1l14 1 12-44-15-2zm-14-4l14 4 11-45-14 5zm-15-3l15 3 11-36-14 0zm-14 1l14-1 12-33-15-8z"/>
<path fill="#889" d="M5615 3445l15 7 11-25-14 6zm-29-9l15 7 11-20-14-1zm-43 4l15 1 11-25-14 9zm-14-4l14 4 12-15-14-6z"/>
<path fill="#778" d="M5572 3443l14-7 12-14-14-1z"/>
<path fill="#668" d="M5515 3437l14-1 12-17-15 6zm-15 10l15-10 11-12-14 3zm-14 3l14-3 12-19-15 13zm-14 10l14-10 11-9-14 11zm-15 27l15-27 11-8-14 17z"/>
<path fill="#558" d="M5443 3502l14-15 12-18-15 21zm-14 8l14-8 11-12-14 12zm-15 14l15-14 11-8-14 14zm-760-56l15-41 11 40-14-68z"/>
<path fill="#448" d="M5400 3548l14-24 12-8-15 20zm-14 28l14-28 11-12-14 24zm-646-112l15 15 11-14-14-6zm-14 9l14-9 12-5-15-6zm-14 1l14-1 11-20-14 11zm-15 9l15-9 11-10-14 7zm-14-36l14 36 12-12-15-22zm-14-20l14 20 11 2-14 18z"/>
<path fill="#338" d="M5371 3607l15-31 11-16-14 33zm-573-98l14 20 11-20-14-9z"/>
<path fill="#228" d="M5357 3635l14-28 12-14-15 25zm-14 22l14-22 11-17-14 22zm-502-104l14 27 11-14-14-21z"/>
<path fill="#118" d="M5328 3659l15-2 11-17-14 14zm-14-1l14 1 12-5-15-5zm-14-1l14 1 11-9-14-3zm-15 9l15-9 11-11-14 6zm-14 19l14-19 12-14-15 17zm-14 2l14-2 11-16-14 4zm-15 5l15-5 11-14-14 17zm-14 19l14-19 12-2-15 11zm-14 7l14-7 11-10-14 8zm-172-30l14 16 11-10-14-5zm-15 1l15-1 11 1-14-5zm-14 7l14-7 12-5-15 3zm-15-11l15 11 11-9-14 0zm-14 4l14-4 12 2-14-4zm-14-11l14 11 12-6-15-13zm-15-12l15 12 11-8-14-8zm-14-13l14 13 12-4-14-14zm-14-18l14 18 12-5-15-11zm-15-5l15 5 11 2-14-14zm-14-1l14 1 12-7-14-7zm-14-21l14 21 12-13-15-6zm-15-8l15 8 11 2-14-12z"/>
<path fill="#008" d="M5199 3729l15-11 11-9-14 11zm-14-1l14 1 12-9-15 4zm-14 11l14-11 11-4-14 10zm-15 12l15-12 11-5-14 7zm-14 2l14-2 12-10-15 0zm-14 4l14-4 11-12-14 15zm-15 2l15-2 11-1-14-1zm-14-6l14 6 12-4-15-11zm-14-6l14 6 11-9-14-1zm-15-24l15 24 11-4-14-25z"/>
<path fill="#119" d="M5056 3704l14 19 12-5-15-24z"/>
<path fill="#229" d="M4855 3580l14 20 12-2-15-32z"/>
<path fill="#44b" d="M4826 3549l15 4 11-8-14-14zm-14-20l14 20 12-18-15-22z"/>
<path fill="#449" d="M4783 3505l15 4 11-9-14-11z"/>
<path fill="#55b" d="M4769 3496l14 9 12-16-15-16z"/>
<path fill="#559" d="M4755 3479l14 17 11-23-14-8z"/>
<path fill="#669" d="M4640 3441l14 27 12-69-15 32z"/>
<path fill="#88d" d="M4626 3431l14 10 11-10-14-38z"/>
<path fill="#d11" d="M6450 2976l14 8 12 69-15-13zm-14-10l14 10 11 64-14-11zm-345 52l15-18 11-83-14 11z"/>
<path fill="#c00" d="M6421 2943l15 23 11 63-14-31zm-14-20l14 20 12 55-15-16zm-14-15l14 15 11 59-14-25zm-15-5l15 5 11 49-14-19zm-115-28l15-5 11-19-14-7zm-14 0l14 0 12-31-14 7zm-14-2l14 2 12-24-15-8zm-15 16l15-16 11-30-14-2zm-28 19l14-18 11-44-14 5zm-15 19l15-19 11-57-14 6zm-43 35l15-17 11-73-14 17zm-14 17l14-17 12-73-15 17zm-14 21l14-21 11-73-14 11z"/>
<path fill="#a00" d="M6364 2887l14 16 12 35-15-12zm-14-13l14 13 11 39-14-28zm-15-3l15 3 11 24-14-17zm-14-6l14 6 12 10-15-2zm-15 1l15-1 11 14-14-6zm-14-2l14 2 12 7-14-8zm-14 6l14-6 12 1-15-14z"/>
<path fill="#d00" d="M6206 2890l14-1 12-48-15 5zm-43 42l14-5 12-70-15 6zm-14 13l14-13 11-69-14 9z"/>
<path fill="#c11" d="M6077 3039l14-21 12-90-15 24z"/>
<path fill="#c22" d="M6063 3063l14-24 11-87-14 23z"/>
<path fill="#e33" d="M6048 3083l15-20 11-88-14 16z"/>
<path fill="#c33" d="M6034 3108l14-25 12-92-15 13z"/>
<path fill="#c44" d="M6020 3132l14-24 11-104-14 27z"/>
<path fill="#e66" d="M6005 3148l15-16 11-101-14 19z"/>
<path fill="#e77" d="M5991 3169l14-21 12-98-15 27z"/>
<path fill="#d88" d="M5977 3213l14-44 11-92-14 40z"/>
<path fill="#d99" d="M5962 3243l15-30 11-96-14 30z"/>
<path fill="#daa" d="M5948 3268l14-25 12-96-15 20z"/>
<path fill="#dbb" d="M5934 3291l14-23 11-101-14 25z"/>
<path fill="#dcc" d="M5919 3334l15-43 11-99-14 40zm-14 31l14-31 12-102-15 36zm-14 28l14-28 11-97-14 34z"/>
<path fill="#ddd" d="M5876 3412l15-19 11-91-14 32zm-14 23l14-23 12-78-15 27zm-14 13l14-13 11-74-14 28z"/>
<path fill="#bbb" d="M5833 3472l15-24 11-59-14 17z"/>
<path fill="#ccd" d="M5819 3482l14-10 12-66-15 10zm-14 15l14-15 11-66-14 14z"/>
<path fill="#bbd" d="M5790 3505l15-8 11-67-14 18z"/>
<path fill="#99b" d="M5776 3524l14-19 12-57-15 22zm-58-8l15 12 11-37-14-1zm-14 0l14 0 12-26-14-4zm-14-8l14 8 12-30-15-3zm-15-4l15 4 11-25-14 1zm-14-9l14 9 12-20-14-12zm-14-5l14 5 12-23-15-7zm-15-10l15 10 11-25-14-6zm-14-1l14 1 12-21-14-7z"/>
<path fill="#aad" d="M5762 3532l14-8 11-54-14 13zm-15-5l15 5 11-49-14 9zm-14 1l14-1 12-35-15-1z"/>
<path fill="#aab" d="M5604 3467l14 12 12-27-15-7zm-15-4l15 4 11-22-14-2zm-14-1l14 1 12-20-15-7z"/>
<path fill="#889" d="M5561 3462l14 0 11-26-14 7zm-15-7l15 7 11-19-14-2z"/>
<path fill="#668" d="M5532 3446l14 9 12-14-15-1zm-14 6l14-6 11-6-14-4zm-15 2l15-2 11-16-14 1zm-14 0l14 0 12-17-15 10zm-14 16l14-16 11-7-14 3zm-15 16l15-16 11-20-14 10zm-14 9l14-9 12-26-15 27z"/>
<path fill="#558" d="M5432 3519l14-24 11-8-14 15zm-15 10l15-10 11-17-14 8zm-14 19l14-19 12-19-15 14zm-789-123l15 66 11-50-14-10z"/>
<path fill="#448" d="M5389 3566l14-18 11-24-14 24zm-15 25l15-25 11-18-14 28zm-688-103l14 4 12-18-15 9zm-43-18l14 15 12-58-15 41z"/>
<path fill="#338" d="M5360 3623l14-32 12-15-15 31z"/>
<path fill="#228" d="M5346 3652l14-29 11-16-14 28zm-15 14l15-14 11-17-14 22zm-473-57l14 15 12-16-15-8z"/>
<path fill="#118" d="M5317 3684l14-18 12-9-15 2zm-43 2l14-11 12-18-15 9zm-14-2l14 2 11-20-14 19zm-15 7l15-7 11 1-14 2zm-14 21l14-21 12-4-15 5zm-14 4l14-4 11-20-14 19zm-15 16l15-16 11-5-14 7zm-186-22l14-7 12-15-15 1zm-15-6l15 6 11-21-14 7zm-28-12l14 8 11-15-14 4zm-15-3l15 3 11-3-14-11zm-14-15l14 15 12-11-15-12zm-57-40l14 20 11-24-14-1z"/>
<path fill="#22b" d="M5303 3676l14 8 11-25-14-1zm-388-17l15 8 11-14-14-18zm-14-5l14 5 12-24-15-5zm-29-30l15 10 11-5-14-21z"/>
<path fill="#229" d="M5288 3675l15 1 11-18-14-1z"/>
<path fill="#008" d="M5188 3736l14-4 12-14-15 11zm-14 0l14 0 11-7-14-1zm-15 7l15-7 11-8-14 11zm-14 10l14-10 12-4-15 12zm-14 11l14-11 11-2-14 2zm-15-5l15 5 11-11-14 4zm-14 3l14-3 12-2-15 2zm-15 1l15-1 11-3-14-6zm-14-9l14 9 12-10-14-6zm-14-22l14 22 12-7-15-24zm-15-26l15 26 11-9-14-19z"/>
<path fill="#119" d="M5030 3703l14 3 12-2-14-16zm-43-3l14 4 12-8-15-11zm-57-33l14 7 11-8-14-13z"/>
<path fill="#33b" d="M4844 3599l14 10 11-9-14-20zm-15-19l15 19 11-19-14-27z"/>
<path fill="#44b" d="M4815 3569l14 11 12-27-15-4z"/>
<path fill="#339" d="M4801 3547l14 22 11-20-14-20z"/>
<path fill="#66d" d="M4786 3539l15 8 11-18-14-20z"/>
<path fill="#55b" d="M4772 3528l14 11 12-30-15-4zm-14-10l14 10 11-23-14-9z"/>
<path fill="#66b" d="M4743 3502l15 16 11-22-14-17zm-28-12l14 8 11-34-14 9z"/>
<path fill="#77d" d="M4729 3498l14 4 12-23-15-15zm-57-8l14-2 11-5-14-36z"/>
<path fill="#559" d="M4700 3492l15-2 11-17-14 1zm-71-1l14-21 11-2-14-27z"/>
<path fill="#88d" d="M4657 3485l15 5 11-43-14-20z"/>
<path fill="#d00" d="M6438 2930l15-1 11 55-14-8zm-200-9l14-1 11-45-14 0zm-29 29l14-9 12-68-15 16zm-14 9l14-9 11-61-14 1zm-58 69l15-10 11-86-14 13z"/>
<path fill="#c00" d="M6424 2911l14 19 12 46-14-10zm-14-5l14 5 12 55-15-23zm-101-17l15-5 11-13-14-6zm-14 12l14-12 12-24-15 1zm-14-1l14 1 11-35-14-2zm-15 5l15-5 11-36-14 6zm-14 15l14-15 12-35-15 5zm-29 21l15-20 11-46-14-2zm-43 35l15-17 11-69-14 18zm-14 17l14-17 12-68-15 19zm-14 25l14-25 11-66-14 5z"/>
<path fill="#a00" d="M6395 2898l15 8 11 37-14-20zm-14-11l14 11 12 25-14-15zm-14 3l14-3 12 21-15-5zm-15-10l15 10 11 13-14-16zm-14 0l14 0 12 7-14-13zm-14 4l14-4 12-6-15-3z"/>
<path fill="#c11" d="M6123 3050l14-22 12-83-15 17z"/>
<path fill="#d11" d="M6109 3070l14-20 11-88-14 17z"/>
<path fill="#d22" d="M6094 3085l15-15 11-91-14 21z"/>
<path fill="#c33" d="M6080 3110l14-25 12-85-15 18z"/>
<path fill="#c44" d="M6066 3135l14-25 11-92-14 21z"/>
<path fill="#c55" d="M6051 3167l15-32 11-96-14 24z"/>
<path fill="#e77" d="M6037 3187l14-20 12-104-15 20z"/>
<path fill="#c77" d="M6023 3217l14-30 11-104-14 25z"/>
<path fill="#e99" d="M6008 3240l15-23 11-109-14 24z"/>
<path fill="#faa" d="M5994 3257l14-17 12-108-15 16z"/>
<path fill="#daa" d="M5980 3286l14-29 11-109-14 21z"/>
<path fill="#fdd" d="M5965 3306l15-20 11-117-14 44z"/>
<path fill="#dcc" d="M5951 3342l14-36 12-93-15 30zm-14 36l14-36 11-99-14 25z"/>
<path fill="#fee" d="M5922 3390l15-12 11-110-14 23z"/>
<path fill="#bbb" d="M5908 3438l14-48 12-99-15 43z"/>
<path fill="#ddd" d="M5894 3472l14-34 11-104-14 31zm-15 7l15-7 11-107-14 28zm-14 22l14-22 12-86-15 19z"/>
<path fill="#ccd" d="M5851 3512l14-11 11-89-14 23zm-15 6l15-6 11-77-14 13z"/>
<path fill="#bbd" d="M5822 3531l14-13 12-70-15 24zm-15 6l15-6 11-59-14 10z"/>
<path fill="#99b" d="M5793 3551l14-14 12-55-14 15zm-129-25l14 5 12-23-15-4zm-14-11l14 11 11-22-14-9zm-15-1l15 1 11-20-14-5zm-14-16l14 16 12-24-15-10zm-29-6l15 0 11-13-14-12zm-14-8l14 8 12-25-15-4z"/>
<path fill="#aad" d="M5779 3552l14-1 12-54-15 8z"/>
<path fill="#88b" d="M5764 3561l15-9 11-47-14 19zm-14 1l14-1 12-37-14 8zm-57-24l14 14 11-36-14 0zm-15-7l15 7 11-22-14-8z"/>
<path fill="#99d" d="M5736 3567l14-5 12-30-15-5zm-15-9l15 9 11-40-14 1zm-14-6l14 6 12-30-15-12z"/>
<path fill="#889" d="M5607 3492l14 6 11-18-14-1zm-58-17l15 9 11-22-14 0zm-14 1l14-1 12-13-15-7zm-29-9l15 4 11-25-14 6z"/>
<path fill="#aab" d="M5564 3484l14 0 11-21-14-1zm-43-13l14 5 11-21-14-9zm-43 4l14 2 11-23-14 0z"/>
<path fill="#668" d="M5492 3477l14-10 12-15-15 2zm-29 9l15-11 11-21-14 16zm-14 14l14-14 12-16-15 16zm-14 16l14-16 11-14-14 9z"/>
<path fill="#558" d="M5420 3535l15-19 11-21-14 24zm-14 14l14-14 12-16-15 10zm-774-80l14-6 11 22-14-15z"/>
<path fill="#448" d="M5392 3568l14-19 11-20-14 19zm-15 15l15-15 11-20-14 18zm-14 21l14-21 12-17-15 25zm-703-86l15-18 11-12-14 2zm-14-55l14 55 12-28-15-5z"/>
<path fill="#338" d="M5349 3637l14-33 11-13-14 32z"/>
<path fill="#228" d="M5334 3663l15-26 11-14-14 29zm-14 13l14-13 12-11-15 14zm-14 7l14-7 11-10-14 18z"/>
<path fill="#118" d="M5291 3681l15 2 11 1-14-8zm-14 3l14-3 12-5-15-1zm-14-2l14 2 11-9-14 11zm-15 11l15-11 11 4-14-2zm-14 3l14-3 12-9-15 7zm-14 23l14-23 11-5-14 21zm-15 7l15-7 11-7-14 4zm-14 11l14-11 12-10-15 16zm-15 10l15-10 11-5-14 4zm-14-3l14 3 12-11-14 0zm-143-38l14 18 11-18-14-3zm-15 5l15-5 11-3-14 7zm-14 0l14 0 12-1-15-6zm-14-2l14 2 11-7-14-4zm-29-13l14 9 12-13-15-3zm-43-28l14 8 12-9-15-8zm-14-8l14 8 11-9-14-5z"/>
<path fill="#008" d="M5148 3756l14-12 12-8-15 7zm-15 2l15-2 11-13-14 10zm-14-1l14 1 12-5-14 11zm-14 8l14-8 12 7-15-5zm-15-12l15 12 11-6-14 3zm-14 9l14-9 12 9-15 1zm-14-8l14 8 11 1-14-9zm-15-17l15 17 11 0-14-22z"/>
<path fill="#11b" d="M5033 3724l14 13 12-5-15-26z"/>
<path fill="#119" d="M4961 3705l15 4 11-9-14-8zm-28-15l14 6 11-7-14-15zm-15-14l15 14 11-16-14-7z"/>
<path fill="#22b" d="M4875 3655l15 5 11-6-14-20zm-14-8l14 8 12-21-15-10zm-14-19l14 19 11-23-14-15z"/>
<path fill="#33b" d="M4832 3617l15 11 11-19-14-10zm-14-19l14 19 12-18-15-19z"/>
<path fill="#339" d="M4804 3582l14 16 11-18-14-11z"/>
<path fill="#55d" d="M4789 3576l15 6 11-13-14-22z"/>
<path fill="#44b" d="M4775 3564l14 12 12-29-15-8z"/>
<path fill="#55b" d="M4761 3556l14 8 11-25-14-11zm-15-10l15 10 11-28-14-10z"/>
<path fill="#66d" d="M4732 3535l14 11 12-28-15-16z"/>
<path fill="#66b" d="M4718 3518l14 17 11-33-14-4zm-15 6l15-6 11-20-14-8zm-14-8l14 8 12-34-15 2z"/>
<path fill="#559" d="M4675 3500l14 16 11-24-14-4z"/>
<path fill="#77b" d="M4617 3468l15 1 11 1-14 21zm-14 20l14-20 12 23-15-66z"/>
<path fill="#c00" d="M6427 2902l14 1 12 26-15 1zm-86 4l14-8 12-8-15-10zm-14 14l14-14 11-26-14 0zm-15 6l15-6 11-40-14 4zm-14 10l14-10 12-42-15 5zm-14 5l14-5 11-47-14 12zm-15 11l15-11 11-40-14-1zm-14 13l14-13 12-52-15 5zm-14 12l14-12 11-60-14 15zm-15 27l15-27 11-57-14 1zm-28 22l14-20 11-65-14 9z"/>
<path fill="#a00" d="M6413 2900l14 2 11 28-14-19zm-15-1l15 1 11 11-14-5zm-14 0l14 0 12 7-15-8zm-14 1l14-1 11-1-14-11zm-15-2l15 2 11-13-14 3z"/>
<path fill="#d00" d="M6212 3006l14-2 12-83-15 20zm-29 40l15-20 11-76-14 9z"/>
<path fill="#d11" d="M6169 3059l14-13 12-87-15 17z"/>
<path fill="#c11" d="M6155 3082l14-23 11-83-14 17z"/>
<path fill="#d22" d="M6140 3096l15-14 11-89-14 25z"/>
<path fill="#c22" d="M6126 3125l14-29 12-78-15 10z"/>
<path fill="#e44" d="M6112 3137l14-12 11-97-14 22z"/>
<path fill="#c44" d="M6097 3162l15-25 11-87-14 20z"/>
<path fill="#c55" d="M6083 3189l14-27 12-92-15 15z"/>
<path fill="#e77" d="M6069 3213l14-24 11-104-14 25z"/>
<path fill="#c77" d="M6054 3250l15-37 11-103-14 25z"/>
<path fill="#eaa" d="M6040 3266l14-16 12-115-15 32z"/>
<path fill="#daa" d="M6026 3295l14-29 11-99-14 20z"/>
<path fill="#fcc" d="M6011 3316l15-21 11-108-14 30z"/>
<path fill="#dcc" d="M5997 3354l14-38 12-99-15 23zm-29 37l15-22 11-112-14 29zm-28 45l14-29 11-101-14 36z"/>
<path fill="#fee" d="M5983 3369l14-15 11-114-14 17zm-29 38l14-16 12-105-15 20z"/>
<path fill="#bbb" d="M5925 3479l15-43 11-94-14 36zm-29 75l15-44 11-120-14 48z"/>
<path fill="#ddd" d="M5911 3510l14-31 12-101-15 12z"/>
<path fill="#ccd" d="M5882 3566l14-12 12-116-14 34z"/>
<path fill="#bbd" d="M5868 3576l14-10 12-94-15 7zm-15 3l15-3 11-97-14 22z"/>
<path fill="#aad" d="M5839 3585l14-6 12-78-14 11zm-14 2l14-2 12-73-15 6zm-15 4l15-4 11-69-14 13z"/>
<path fill="#99d" d="M5796 3595l14-4 12-60-15 6zm-14 11l14-11 11-58-14 14zm-15-1l15 1 11-55-14 1zm-14 8l14-8 12-53-15 9zm-43-23l14 12 12-35-15-9z"/>
<path fill="#88d" d="M5739 3603l14 10 11-52-14 1zm-15-1l15 1 11-41-14 5z"/>
<path fill="#88b" d="M5696 3577l14 13 11-32-14-6zm-15-12l15 12 11-25-14-14zm-14-9l14 9 12-27-15-7z"/>
<path fill="#779" d="M5653 3536l14 20 11-25-14-5zm-15 5l15-5 11-10-14-11z"/>
<path fill="#668" d="M5624 3522l14 19 12-26-15-1zm-43-21l14 2 12-11-15 0zm-29 2l15-5 11-14-14 0zm-71-6l14-6 11-24-14 10zm-43 34l14-17 11-28-14 14z"/>
<path fill="#99b" d="M5610 3517l14 5 11-8-14-16z"/>
<path fill="#889" d="M5595 3503l15 14 11-19-14-6zm-28-5l14 3 11-9-14-8zm-43-7l14 3 11-19-14 1zm-15 7l15-7 11-15-14-5zm-43 8l15-9 11-20-14-2zm-14 8l14-8 12-31-15 11z"/>
<path fill="#aab" d="M5538 3494l14 9 12-19-15-9zm-43-3l14 7 12-27-15-4z"/>
<path fill="#558" d="M5423 3547l15-16 11-31-14 16zm-14 7l14-7 12-31-15 19zm-14 17l14-17 11-19-14 14zm-775-102l14 47 12-53-14 6zm-14-4l14 4 12 0-15-1zm-15 31l15-31 11 3-14 20z"/>
<path fill="#448" d="M5380 3578l15-7 11-22-14 19zm-14 25l14-25 12-10-15 15zm-14 22l14-22 11-20-14 21zm-703-124l14 13 12-14-15 18z"/>
<path fill="#338" d="M5337 3645l15-20 11-21-14 33z"/>
<path fill="#228" d="M5323 3671l14-26 12-8-15 26zm-15 14l15-14 11-8-14 13zm-14 2l14-2 12-9-14 7zm-14-5l14 5 12-4-15-2zm-15-5l15 5 11-1-14 3zm-14 11l14-11 12 7-14-2z"/>
<path fill="#118" d="M5237 3697l14-9 12-6-15 11zm-15 10l15-10 11-4-14 3zm-14 14l14-14 12-11-14 23zm-14 9l14-9 12-2-15 7zm-15 18l15-18 11-4-14 11zm-14 1l14-1 12-11-15 10zm-14 4l14-4 11-2-14-3zm-15 1l15-1 11-9-14 12zm-114-23l14 14 11-8-14-13zm-29-9l14-1 12-15-15 5zm-14-4l14 4 11-11-14 0zm-15 0l15 0 11-7-14-2zm-14-5l14 5 12-9-15-4zm-29-18l15 16 11-15-14-6zm-14-13l14 13 12-5-15-14zm-14 4l14-4 11-6-14-8zm-29-20l14 4 12-10-15-5zm-14-10l14 10 11-11-14-8z"/>
<path fill="#008" d="M5122 3764l14-10 12 2-15 2zm-14 0l14 0 11-6-14-1zm-15 1l15-1 11-7-14 8zm-14 1l14-1 12 0-15-12zm-14-6l14 6 11-13-14 9zm-15-2l15 2 11 2-14-8zm-14-13l14 13 12-4-15-17z"/>
<path fill="#119" d="M5007 3721l15 10 11-7-14-18zm-71-10l14 2 11-8-14-9z"/>
<path fill="#229" d="M4878 3670l15 16 11-18-14-8zm-43-30l15 16 11-9-14-19zm-14-11l14 11 12-12-15-11z"/>
<path fill="#33b" d="M4807 3628l14 1 11-12-14-19zm-15-22l15 22 11-30-14-16z"/>
<path fill="#44b" d="M4778 3600l14 6 12-24-15-6zm-14-13l14 13 11-24-14-12zm-15-4l15 4 11-23-14-8z"/>
<path fill="#55b" d="M4735 3572l14 11 12-27-15-10zm-14-18l14 18 11-26-14-11zm-29-10l14 8 12-34-15 6z"/>
<path fill="#66d" d="M4706 3552l15 2 11-19-14-17z"/>
<path fill="#559" d="M4677 3526l15 18 11-20-14-8zm-14-12l14 12 12-10-14-16z"/>
<path fill="#66b" d="M4634 3516l15-15 11 17-14-55z"/>
<path fill="#c00" d="M6416 2918l14 1 11-16-14-1zm-15-1l15 1 11-16-14-2zm-14 5l14-5 12-17-15-1zm-14 6l14-6 11-23-14 0zm-15 11l15-11 11-29-14 1zm-14 10l14-10 12-39-15-2zm-14 9l14-9 11-51-14 8zm-15 15l15-15 11-52-14 14zm-14 14l14-14 12-53-15 6zm-72 70l15-22 11-70-14 12zm-14 15l14-15 12-80-15 27z"/>
<path fill="#d00" d="M6287 2996l14-9 11-61-14 10zm-15 14l15-14 11-60-14 5zm-14 13l14-13 12-69-15 11zm-14 12l14-12 11-71-14 13z"/>
<path fill="#d11" d="M6201 3090l14-18 11-68-14 2z"/>
<path fill="#c11" d="M6186 3111l15-21 11-84-14 20z"/>
<path fill="#c22" d="M6172 3134l14-23 12-85-15 20z"/>
<path fill="#e33" d="M6158 3154l14-20 11-88-14 13z"/>
<path fill="#e44" d="M6143 3166l15-12 11-95-14 23z"/>
<path fill="#c44" d="M6129 3201l14-35 12-84-15 14z"/>
<path fill="#e66" d="M6115 3215l14-14 11-105-14 29z"/>
<path fill="#e77" d="M6100 3237l15-22 11-90-14 12z"/>
<path fill="#c88" d="M6086 3263l14-26 12-100-15 25z"/>
<path fill="#eaa" d="M6072 3282l14-19 11-101-14 27z"/>
<path fill="#daa" d="M6057 3309l15-27 11-93-14 24z"/>
<path fill="#dbb" d="M6043 3341l14-32 12-96-15 37z"/>
<path fill="#dcc" d="M6028 3364l15-23 11-91-14 16zm-14 38l14-38 12-98-14 29zm-14 28l14-28 12-107-15 21zm-15 20l15-20 11-114-14 38zm-14 23l14-23 12-96-14 15z"/>
<path fill="#ddd" d="M5957 3486l14-13 12-104-15 22zm-15 19l15-19 11-95-14 16zm-14 30l14-30 12-98-14 29z"/>
<path fill="#999" d="M5914 3577l14-42 12-99-15 43z"/>
<path fill="#bbd" d="M5899 3606l15-29 11-98-14 31z"/>
<path fill="#779" d="M5885 3651l14-45 12-96-15 44zm-258-96l14 11 12-30-15 5zm-186-9l14-12 11-28-14 8z"/>
<path fill="#99d" d="M5871 3658l14-7 11-97-14 12z"/>
<path fill="#aaf" d="M5856 3661l15-3 11-92-14 10z"/>
<path fill="#88d" d="M5842 3657l14 4 12-85-15 3zm-14-15l14 15 11-78-14 6zm-15-4l15 4 11-57-14 2zm-14 9l14-9 12-51-15 4zm-14-1l14 1 11-56-14 4zm-15 4l15-4 11-51-14 11zm-14-5l14 5 12-44-15-1zm-1162-138l15 23 11-61-14-4z"/>
<path fill="#66b" d="M5742 3648l14-3 11-40-14 8zm-1076-98l14 12 12-18-15-18z"/>
<path fill="#77d" d="M5727 3634l15 14 11-35-14-10z"/>
<path fill="#77b" d="M5713 3627l14 7 12-31-15-1zm-14-16l14 16 11-25-14-12zm-15-7l15 7 11-21-14-13zm-301-15l14 5 12-40-14 17z"/>
<path fill="#88b" d="M5670 3591l14 13 12-27-15-12zm-14-10l14 10 11-26-14-9zm-15-15l15 15 11-25-14-20zm-229 7l14-4 12-38-15 16z"/>
<path fill="#99b" d="M5613 3546l14 9 11-14-14-19zm-29-21l14 6 12-14-15-14zm-14-5l14 5 11-22-14-2zm-15 1l15-1 11-19-14-3zm-71 1l14-7 11-17-14-7zm-15 2l15-2 11-31-14 6z"/>
<path fill="#889" d="M5598 3531l15 15 11-24-14-5zm-71-18l14-2 11-8-14-9zm-29 2l14 0 12-24-15 7z"/>
<path fill="#668" d="M5541 3511l14 10 12-23-15 5zm-86 23l14-10 12-27-15 9z"/>
<path fill="#aab" d="M5512 3515l15-2 11-19-14-3z"/>
<path fill="#558" d="M5426 3569l15-23 11-32-14 17zm-29 25l15-21 11-26-14 7zm-774-170l14 74 12 3-15 15zm-14 106l14-106 11 92-14-47zm-29-53l14 30 12-42-15 31z"/>
<path fill="#448" d="M5369 3609l14-20 12-18-15 7zm-15 9l15-9 11-31-14 25zm-717-120l15 29 11-13-14-13z"/>
<path fill="#338" d="M5340 3639l14-21 12-15-14 22zm-14 13l14-13 12-14-15 20zm-15 32l15-32 11-7-14 26z"/>
<path fill="#228" d="M5297 3693l14-9 12-13-15 14zm-14-1l14 1 11-8-14 2zm-15-2l15 2 11-5-14-5zm-14-7l14 7 12-8-15-5zm-14 10l14-10 11-6-14 11zm-15 5l15-5 11-5-14 9zm-14 13l14-13 12-1-15 10z"/>
<path fill="#118" d="M5197 3723l14-12 11-4-14 14zm-15 25l15-25 11-2-14 9zm-14 6l14-6 12-18-15 18zm-14 1l14-1 11-6-14 1zm-15 13l15-13 11-6-14 4zm-14 1l14-1 12-15-15 1zm-14 0l14 0 11-15-14 10zm-15 2l15-2 11-5-14 0zm-57-3l14-6 12-2-15-2zm-14-20l14 20 11-10-14-13zm-43-16l14 3 11-14-14 1zm-15-1l15 1 11-10-14-4zm-14 3l14-3 12-13-15 0zm-14-14l14 14 11-16-14-5zm-15 0l15 0 11-7-14-2zm-14-16l14 16 12-9-15-16zm-57-25l14 1 11-10-14-4z"/>
<path fill="#008" d="M5082 3775l14-4 12-7-15 1zm-14-4l14 4 11-10-14 1zm-15-9l15 9 11-5-14-6z"/>
<path fill="#119" d="M5010 3745l15 3 11-3-14-14zm-14-10l14 10 12-14-15-10zm-115-36l15 4 11-21-14 4z"/>
<path fill="#22b" d="M4896 3703l14 1 11-9-14-13zm-58-28l15 4 11-13-14-10zm-14-16l14 16 12-19-15-16z"/>
<path fill="#229" d="M4867 3680l14 19 12-13-15-16zm-57-36l14 15 11-19-14-11z"/>
<path fill="#339" d="M4795 3645l15-1 11-15-14-1zm-14-22l14 22 12-17-15-22zm-43-25l14 13 12-24-15-4z"/>
<path fill="#44b" d="M4766 3626l15-3 11-17-14-6zm-14-15l14 15 12-26-14-13zm-29-20l15 7 11-15-14-11z"/>
<path fill="#55b" d="M4709 3578l14 13 12-19-14-18zm-29-16l15 6 11-16-14-8z"/>
<path fill="#449" d="M4695 3568l14 10 12-24-15-2z"/>
<path fill="#559" d="M4652 3527l14 23 11-24-14-12z"/>
<path fill="#c00" d="M6404 2963l15-7 11-37-14-1zm-14 13l14-13 12-45-15-1zm-43 27l14-15 12-60-15 11zm-14 16l14-16 11-64-14 10zm-29 33l14-24 12-70-15 15z"/>
<path fill="#d00" d="M6376 2980l14-4 11-59-14 5zm-15 8l15-8 11-58-14 6zm-43 40l15-9 11-70-14 9zm-28 36l14-12 11-79-14 14zm-15 14l15-14 11-77-14 9zm-14 11l14-11 12-82-15 14z"/>
<path fill="#d11" d="M6247 3106l14-17 11-79-14 13zm-15 18l15-18 11-83-14 12z"/>
<path fill="#c22" d="M6218 3145l14-21 12-89-15 22zm-14 22l14-22 11-88-14 15z"/>
<path fill="#e44" d="M6189 3176l15-9 11-95-14 18z"/>
<path fill="#c44" d="M6175 3204l14-28 12-86-15 21z"/>
<path fill="#e66" d="M6161 3221l14-17 11-93-14 23z"/>
<path fill="#c66" d="M6146 3245l15-24 11-87-14 20z"/>
<path fill="#c77" d="M6132 3270l14-25 12-91-15 12z"/>
<path fill="#d88" d="M6117 3297l15-27 11-104-14 35z"/>
<path fill="#fbb" d="M6103 3317l14-20 12-96-14 14zm-14 16l14-16 12-102-15 22z"/>
<path fill="#dbb" d="M6074 3355l15-22 11-96-14 26zm-14 26l14-26 12-92-14 19z"/>
<path fill="#dcc" d="M6046 3412l14-31 12-99-15 27zm-15 25l15-25 11-103-14 32zm-14 31l14-31 12-96-15 23z"/>
<path fill="#bbb" d="M6003 3504l14-36 11-104-14 38z"/>
<path fill="#ddd" d="M5988 3530l15-26 11-102-14 28zm-14 20l14-20 12-100-15 20z"/>
<path fill="#ccd" d="M5960 3569l14-19 11-100-14 23zm-29 17l14-18 12-82-15 19z"/>
<path fill="#eef" d="M5945 3568l15 1 11-96-14 13z"/>
<path fill="#aab" d="M5917 3614l14-28 11-81-14 30z"/>
<path fill="#668" d="M5902 3654l15-40 11-79-14 42zm-358-115l14-7 12-12-15 1z"/>
<path fill="#77b" d="M5888 3685l14-31 12-77-15 29zm-201-53l15 19 11-24-14-16zm-14-7l14 7 12-21-15-7z"/>
<path fill="#448" d="M5874 3723l14-38 11-79-14 45zm-502-101l14-14 11-14-14-5zm-15 9l15-9 11-33-14 20zm-14 16l14-16 12-22-15 9zm-674-75l14 9 12-13-15-6zm-14-12l14 12 11-10-14-12zm-72 39l14-104 12 35-15-23z"/>
<path fill="#66d" d="M5859 3741l15-18 11-72-14 7zm-14-8l14 8 12-83-15 3zm-14-21l14 21 11-72-14-4zm-15-13l15 13 11-55-14-15z"/>
<path fill="#77d" d="M5802 3683l14 16 12-57-15-4zm-14 3l14-3 11-45-14 9zm-15-2l15 2 11-39-14-1zm-14 1l14-1 12-38-15 4zm-14 5l14-5 11-35-14-5z"/>
<path fill="#66b" d="M5730 3676l15 14 11-45-14 3zm-14-14l14 14 12-28-15-14zm-14-11l14 11 11-28-14-7zm-1062-103l15 12 11-10-14-23zm-71-5l14 56 11-92-14-30z"/>
<path fill="#669" d="M5659 3601l14 24 11-21-14-13zm-15-7l15 7 11-10-14-10z"/>
<path fill="#779" d="M5630 3582l14 12 12-13-15-15zm-29-20l15 20 11-27-14-9zm-143-8l14-9 12-23-15 2zm-15 12l15-12 11-30-14 10zm-14 10l14-10 12-32-14 12z"/>
<path fill="#88b" d="M5616 3582l14 0 11-16-14-11z"/>
<path fill="#889" d="M5587 3543l14 19 12-16-15-15zm-14 3l14-3 11-12-14-6zm-15-14l15 14 11-21-14-5zm-72 8l15-5 11-20-14 0zm-14 5l14-5 12-25-14 7z"/>
<path fill="#99b" d="M5530 3538l14 1 11-18-14-10zm-15 1l15-1 11-27-14 2zm-14-4l14 4 12-26-15 2z"/>
<path fill="#558" d="M5415 3586l14-10 12-30-15 23zm-15 21l15-21 11-17-14 4zm-14 1l14-1 12-34-15 21zm-760-119l14 59 12-21-15-29zm-14 63l14-63 11 9-14-74zm-15-57l15 57 11-128-14 106z"/>
<path fill="#338" d="M5329 3656l14-9 11-29-14 21zm-15 17l15-17 11-17-14 13zm-14 16l14-16 12-21-15 32z"/>
<path fill="#228" d="M5286 3693l14-4 11-5-14 9zm-15 4l15-4 11 0-14-1zm-14-11l14 11 12-5-15-2zm-14 4l14-4 11 4-14-7zm-15 8l15-8 11-7-14 10zm-14 11l14-11 12-5-15 5zm-14 15l14-15 11-11-14 13zm-359-41l14 14 12-17-14-1zm-14-9l14 9 12-4-15-4zm-15-6l15 6 11 1-14-16zm-28-17l14 10 12-17-15 1zm-29-21l14 15 12-22-15 3z"/>
<path fill="#118" d="M5185 3739l15-15 11-13-14 12zm-14 18l14-18 12-16-15 25zm-14 6l14-6 11-9-14 6zm-15 14l15-14 11-9-14 1zm-14 4l14-4 12-22-15 13zm-14-1l14 1 11-13-14 1zm-15 1l15-1 11-11-14 0zm-14-1l14 1 12-12-15 2zm-14-3l14 3 11-9-14 4zm-15 4l15-4 11-2-14-4zm-28-6l14 1 11-14-14 6zm-29-19l14 3 12-11-15-3zm-43-21l14 10 12-13-15-1zm-14 7l14-7 11-4-14 3zm-29-27l14 15 12-10-15 0zm-15 1l15-1 11 5-14-16zm-14-6l14 6 12-12-14-1zm-14-11l14 11 12-7-15-4z"/>
<path fill="#119" d="M5042 3776l14 5 12-10-15-9zm-29-17l15 16 11-7-14-20zm-28-10l14 7 11-11-14-10zm-15-4l15 4 11-14-14-3zm-43-15l15 12 11-8-14-14z"/>
<path fill="#229" d="M4855 3697l15 2 11 0-14-19z"/>
<path fill="#33b" d="M4798 3661l14 7 12-9-14-15zm-29-16l15 6 11-6-14-22z"/>
<path fill="#339" d="M4741 3625l14 5 11-4-14-15z"/>
<path fill="#44b" d="M4726 3617l15 8 11-14-14-13z"/>
<path fill="#449" d="M4712 3605l14 12 12-19-15-7zm-14-11l14 11 11-14-14-13zm-15-13l15 13 11-16-14-10z"/>
<path fill="#d00" d="M6393 3034l14-1 12-77-15 7zm-14 14l14-14 11-71-14 13zm-15 10l15-10 11-72-14 4zm-14 20l14-20 12-78-15 8zm-14 3l14-3 11-90-14 15zm-29 30l14-3 12-89-15 9z"/>
<path fill="#c00" d="M6321 3108l15-27 11-78-14 16z"/>
<path fill="#c11" d="M6293 3129l14-18 11-83-14 24z"/>
<path fill="#d11" d="M6278 3143l15-14 11-77-14 12z"/>
<path fill="#d22" d="M6264 3161l14-18 12-79-15 14z"/>
<path fill="#e33" d="M6250 3180l14-19 11-83-14 11zm-15 16l15-16 11-91-14 17z"/>
<path fill="#c44" d="M6221 3218l14-22 12-90-15 18z"/>
<path fill="#e55" d="M6206 3235l15-17 11-94-14 21z"/>
<path fill="#e66" d="M6192 3254l14-19 12-90-14 22z"/>
<path fill="#e77" d="M6178 3275l14-21 12-87-15 9z"/>
<path fill="#c77" d="M6163 3299l15-24 11-99-14 28z"/>
<path fill="#eaa" d="M6149 3320l14-21 12-95-14 17z"/>
<path fill="#fbb" d="M6135 3340l14-20 12-99-15 24z"/>
<path fill="#fcc" d="M6120 3362l15-22 11-95-14 25z"/>
<path fill="#dbb" d="M6106 3381l14-19 12-92-15 27z"/>
<path fill="#dcc" d="M6092 3406l14-25 11-84-14 20zm-15 21l15-21 11-89-14 16zm-14 22l14-22 12-94-15 22zm-14 16l14-16 11-94-14 26zm-15 30l15-30 11-84-14 31z"/>
<path fill="#bbb" d="M6020 3533l14-38 12-83-15 25zm-29 51l15-25 11-91-14 36z"/>
<path fill="#ddd" d="M6006 3559l14-26 11-96-14 31z"/>
<path fill="#aab" d="M5977 3608l14-24 12-80-15 26zm-14 31l14-31 11-78-14 20z"/>
<path fill="#aad" d="M5948 3652l15-13 11-89-14 19zm-28 5l14-7 11-82-14 18z"/>
<path fill="#ccf" d="M5934 3650l14 2 12-83-15-1z"/>
<path fill="#88b" d="M5905 3681l15-24 11-71-14 28z"/>
<path fill="#448" d="M5891 3718l14-37 12-67-15 40zm-14 29l14-29 11-64-14 31zm-502-106l14-14 11-20-14 1zm-43 23l14-12 11-21-14 16zm-703-120l14 26 12-10-15-12zm-72 68l15-60 11 47-14-56z"/>
<path fill="#338" d="M5862 3772l15-25 11-62-14 38zm-545-95l15-13 11-17-14 9zm-14 5l14-5 12-21-15 17zm-14 21l14-21 11-9-14 16zm-603-103l15 16 11-11-14-11zm-14-8l14 8 12-6-15-13z"/>
<path fill="#44b" d="M5848 3784l14-12 12-49-15 18zm-29-35l15 28 11-44-14-21z"/>
<path fill="#44d" d="M5834 3777l14 7 11-43-14-8z"/>
<path fill="#55b" d="M5805 3730l14 19 12-37-15-13zm-14-16l14 16 11-31-14-16zm-15-4l15 4 11-31-14 3zm-14-5l14 5 12-24-15-2zm-29 5l15 1 11-26-14 5zm-14-10l14 10 12-20-15-14z"/>
<path fill="#449" d="M5748 3711l14-6 11-21-14 1zm-1047-95l14 14 11-13-14-12z"/>
<path fill="#66b" d="M5705 3682l14 18 11-24-14-14z"/>
<path fill="#559" d="M5690 3661l15 21 11-20-14-11zm-330-12l15-8 11-33-14 14zm-14 3l14-3 12-27-15 9zm-688-67l14 7 11-11-14-9zm-15-15l15 15 11-13-14-12z"/>
<path fill="#77b" d="M5676 3653l14 8 12-10-15-19zm-29-26l15 10 11-12-14-24zm-244-11l15-6 11-34-14 10zm-831-64l14-57 11 0-14 104z"/>
<path fill="#669" d="M5662 3637l14 16 11-21-14-7zm-244-27l14-12 11-32-14 10z"/>
<path fill="#779" d="M5633 3606l14 21 12-26-15-7zm-15-10l15 10 11-12-14-12zm-28-16l14 3 12-1-15-20zm-129-13l14-3 11-24-14 5z"/>
<path fill="#668" d="M5604 3583l14 13 12-14-14 0zm-100-26l14-4 12-15-15 1zm-29 7l14-13 12-16-15 5zm-29 14l15-11 11-22-14 9z"/>
<path fill="#99b" d="M5575 3567l15 13 11-18-14-19zm-28-12l14 2 12-11-15-14z"/>
<path fill="#889" d="M5561 3557l14 10 12-24-14 3zm-29 2l15-4 11-23-14 7zm-14-6l14 6 12-20-14-1zm-29-2l15 6 11-18-14-4z"/>
<path fill="#558" d="M5432 3598l14-20 12-24-15 12zm-43 29l14-11 12-30-15 21zm-789-56l15-36 11-46-14 63zm-14-76l14 76 12-19-15-57z"/>
<path fill="#228" d="M5274 3710l15-7 11-14-14 4zm-14-13l14 13 12-17-15 4zm-14 8l14-8 11 0-14-11zm-15-9l15 9 11-19-14 4zm-14 13l14-13 12-6-15 8zm-14 5l14-5 11-11-14 11zm-15 17l15-17 11-5-14 15zm-344-32l14 14 12-14-15-2zm-14-2l14 2 11-2-14-14zm-15-19l15 19 11-14-14-9zm-14 1l14-1 12-4-15-6zm-14-9l14 9 11-11-14-7zm-29-20l14 14 12-13-15-6z"/>
<path fill="#118" d="M5174 3749l14-18 12-7-15 15zm-14 23l14-23 11-10-14 18zm-15-1l15 1 11-15-14 6zm-14 19l14-19 12-8-15 14zm-14 4l14-4 11-13-14 4zm-15-1l15 1 11-13-14-1zm-14 1l14-1 12-13-15 1zm-14-2l14 2 11-13-14-1zm-15-1l15 1 11-12-14-3zm-14 3l14-3 12-14-15 4zm-14-8l14 8 11-13-14-5zm-15-8l15 8 11-10-14-1zm-43-23l14 11 12-10-14-7zm-14 2l14-2 12-6-15-4zm-29-8l14 3 12-17-14 7zm-14-8l14 8 12-7-15-12zm-29-16l14 4 12-14-15 1zm-14-8l14 8 11-9-14-6z"/>
<path fill="#119" d="M5002 3780l14-2 12-3-15-16zm-15-14l15 14 11-21-14-3zm-43-14l15 5 11-12-14-10zm-43-23l15 12 11-11-14-15z"/>
<path fill="#229" d="M4858 3713l15 4 11-7-14-11z"/>
<path fill="#339" d="M4772 3664l15 6 11-9-14-10zm-28-20l14 6 11-5-14-15zm-15-2l15 2 11-14-14-5zm-14-12l14 12 12-17-15-8z"/>
<path fill="#88d" d="M4615 3535l14 9 11 4-14-59z"/>
<path fill="#d00" d="M6382 3126l14-3 11-90-14 1zm-15 11l15-11 11-92-14 14z"/>
<path fill="#d11" d="M6353 3153l14-16 12-89-15 10zm-15 13l15-13 11-95-14 20z"/>
<path fill="#d22" d="M6324 3181l14-15 12-88-14 3zm-14 21l14-21 12-100-15 27z"/>
<path fill="#e33" d="M6295 3212l15-10 11-94-14 3z"/>
<path fill="#e44" d="M6281 3236l14-24 12-101-14 18zm-14 6l14-6 12-107-15 14z"/>
<path fill="#e55" d="M6252 3256l15-14 11-99-14 18z"/>
<path fill="#e66" d="M6238 3270l14-14 12-95-14 19z"/>
<path fill="#e77" d="M6224 3288l14-18 12-90-15 16z"/>
<path fill="#c77" d="M6209 3316l15-28 11-92-14 22z"/>
<path fill="#e99" d="M6195 3338l14-22 12-98-15 17z"/>
<path fill="#faa" d="M6181 3352l14-14 11-103-14 19z"/>
<path fill="#fbb" d="M6166 3372l15-20 11-98-14 21z"/>
<path fill="#dbb" d="M6152 3398l14-26 12-97-15 24z"/>
<path fill="#fdd" d="M6138 3415l14-17 11-99-14 21z"/>
<path fill="#dcc" d="M6123 3441l15-26 11-95-14 20zm-14 28l14-28 12-101-15 22zm-29 37l15-23 11-102-14 25zm-14 22l14-22 12-100-15 21z"/>
<path fill="#fee" d="M6095 3483l14-14 11-107-14 19z"/>
<path fill="#ddd" d="M6052 3546l14-18 11-101-14 22zm-15 20l15-20 11-97-14 16zm-14 26l14-26 12-101-15 30z"/>
<path fill="#ccd" d="M6009 3616l14-24 11-97-14 38z"/>
<path fill="#aab" d="M5994 3644l15-28 11-83-14 26z"/>
<path fill="#bbd" d="M5980 3664l14-20 12-85-15 25zm-502-81l14 1 12-27-15-6z"/>
<path fill="#88b" d="M5966 3694l14-30 11-80-14 24z"/>
<path fill="#99d" d="M5951 3707l15-13 11-86-14 31z"/>
<path fill="#88d" d="M5937 3720l14-13 12-68-15 13zm-14-3l14 3 11-68-14-2zm-15-11l15 11 11-67-14 7zm-1333-164l14 15 11 14-14-76z"/>
<path fill="#448" d="M5894 3726l14-20 12-49-15 24zm-14 29l14-29 11-45-14 37zm-216-103l15 30 11-21-14-8zm-301 15l15-12 11-28-14 14zm-803-35l15-90 11-47-14 57z"/>
<path fill="#338" d="M5865 3783l15-28 11-37-14 29zm-100-66l14 16 12-19-15-4zm-14-1l14 1 11-7-14-5zm-15 5l15-5 11-11-14 6zm-14 0l14 0 12-10-15-1zm-416-22l14-19 12-16-15 13zm-29 11l15-6 11-22-14 21zm-14 5l14-5 12-7-15 7zm-717-110l14 27 12-80-15 60z"/>
<path fill="#228" d="M5851 3801l14-18 12-36-15 25zm-617-85l15 5 11-24-14 8zm-28 4l14-2 11-22-14 13zm-15 14l15-14 11-11-14 5zm-14 12l14-12 12-20-15 17zm-14 31l14-31 11-15-14 18zm-345-74l15 11 11-15-14-2z"/>
<path fill="#229" d="M5837 3806l14-5 11-29-14 12zm-961-70l14 22 11-29-14-4zm-15 0l15 0 11-11-14-8zm-14-12l14 12 12-19-15-4zm-14-10l14 10 11-11-14-14z"/>
<path fill="#339" d="M5822 3787l15 19 11-22-14-7zm-28-42l14 24 11-20-14-19zm-545-24l14-6 11-5-14-13zm-29-3l14-2 12-11-15-9zm-430-26l14 7 11-21-14 1zm-29-14l14 14 12-22-15-6zm-43-21l14 8 12-21-15-2zm-14-16l14 16 11-15-14-12z"/>
<path fill="#44b" d="M5808 3769l14 18 12-10-15-28zm-1061-91l14 0 11-14-14-14zm-15-13l15 13 11-28-14-6z"/>
<path fill="#55b" d="M5779 3733l15 12 11-15-14-16zm-1090-99l15 7 11-11-14-14zm-28-19l14 17 11-32-14-8z"/>
<path fill="#449" d="M5707 3712l15 9 11-11-14-10zm-387-32l15 4 11-32-14 12zm-28 24l14-5 11-22-14 5z"/>
<path fill="#559" d="M5693 3693l14 19 12-12-14-18zm-344-20l14-6 12-26-15 8zm-14 11l14-11 11-24-14 3zm-689-87l15 18 11-23-14-7zm-14-12l14 12 12-12-15-15z"/>
<path fill="#66b" d="M5679 3682l14 11 12-11-15-21zm-1061-113l14 16 11-15-14-26z"/>
<path fill="#558" d="M5650 3646l14 6 12 1-14-16zm-14-16l14 16 12-9-15-10zm-215 0l14-13 11-39-14 20zm-29 19l14-15 12-24-15 6z"/>
<path fill="#779" d="M5621 3619l15 11 11-3-14-21zm-14-12l14 12 12-13-15-10zm-14-9l14 9 11-11-14-13zm-15-4l15 4 11-15-14-3zm-14-12l14 12 12-14-15-13z"/>
<path fill="#99b" d="M5550 3580l14 2 11-15-14-10zm-15-7l15 7 11-23-14-2zm-28 0l14 5 11-19-14-6zm-58 19l15 8 11-36-14 3z"/>
<path fill="#668" d="M5521 3578l14-5 12-18-15 4zm-29 6l15-11 11-20-14 4zm-28 16l14-17 11-32-14 13zm-29 17l14-25 12-25-15 11z"/>
<path fill="#669" d="M5406 3634l15-4 11-32-14 12zm-803-86l15 21 11-25-14-9zm-14 9l14-9 12-13-15 36z"/>
<path fill="#77b" d="M5378 3655l14-6 11-33-14 11z"/>
<path fill="#118" d="M5148 3786l15-9 11-28-14 23zm-14 10l14-10 12-14-15-1zm-14 6l14-6 11-25-14 19zm-15-1l15 1 11-12-14 4zm-14 12l14-12 12-7-15-1zm-29-4l14-3 12-12-14-2zm-29-4l15-1 11-13-14 3zm-43-19l15 7 11-15-14 2zm-71-29l14 13 11-18-14-3z"/>
<path fill="#119" d="M5076 3806l15 7 11-20-14 1zm-28-2l14 5 12-17-15-1zm-29-1l14 2 12-11-14-8zm-14-10l14 10 12-17-15-8zm-29-13l14 6 12-6-15-14zm-29-5l15 3 11-23-14 2zm-43-13l15-5 11-8-14-8z"/>
<path fill="#11b" d="M4962 3778l14 2 11-14-14-11zm-29-8l14 5 12-18-15-5z"/>
<path fill="#22b" d="M4890 3758l14 4 12-21-15-12z"/>
<path fill="#33b" d="M4804 3699l14 4 12-6-15-19zm-29-7l15 0 11-13-14-9z"/>
<path fill="#66d" d="M4675 3632l14 2 12-18-15-16z"/>
<path fill="#e33" d="M6370 3221l14-6 12-92-14 3zm-14 23l14-23 12-95-15 11z"/>
<path fill="#e44" d="M6341 3247l15-3 11-107-14 16zm-14 21l14-21 12-94-15 13z"/>
<path fill="#e55" d="M6313 3281l14-13 11-102-14 15z"/>
<path fill="#e66" d="M6298 3300l15-19 11-100-14 21z"/>
<path fill="#e77" d="M6284 3314l14-14 12-98-15 10z"/>
<path fill="#e88" d="M6270 3335l14-21 11-102-14 24z"/>
<path fill="#e99" d="M6255 3341l15-6 11-99-14 6z"/>
<path fill="#eaa" d="M6241 3367l14-26 12-99-15 14z"/>
<path fill="#faa" d="M6227 3374l14-7 11-111-14 14z"/>
<path fill="#fbb" d="M6212 3397l15-23 11-104-14 18z"/>
<path fill="#fcc" d="M6198 3419l14-22 12-109-15 28z"/>
<path fill="#fdd" d="M6184 3438l14-19 11-103-14 22z"/>
<path fill="#fee" d="M6169 3461l15-23 11-100-14 14zm-43 65l15-16 11-112-14 17z"/>
<path fill="#dcc" d="M6155 3484l14-23 12-109-15 20zm-14 26l14-26 11-112-14 26zm-29 40l14-24 12-111-15 26z"/>
<path fill="#ddd" d="M6098 3576l14-26 11-109-14 28zm-15 20l15-20 11-107-14 14zm-14 23l14-23 12-113-15 23z"/>
<path fill="#ccd" d="M6055 3629l14-10 11-113-14 22zm-15 19l15-19 11-101-14 18zm-14 17l14-17 12-102-15 20z"/>
<path fill="#bbd" d="M6012 3694l14-29 11-99-14 26z"/>
<path fill="#aad" d="M5997 3710l15-16 11-102-14 24z"/>
<path fill="#99d" d="M5983 3736l14-26 12-94-15 28z"/>
<path fill="#88d" d="M5969 3749l14-13 11-92-14 20z"/>
<path fill="#77d" d="M5954 3772l15-23 11-85-14 30z"/>
<path fill="#66d" d="M5940 3780l14-8 12-78-15 13zm-14 2l14-2 11-73-14 13zm-15 2l15-2 11-62-14-3zm-14-14l14 14 12-67-15-11zm-14-4l14 4 11-64-14 20zm-1248-135l14 3 12-19-15-18z"/>
<path fill="#338" d="M5868 3789l15-23 11-40-14 29zm-14 14l14-14 12-34-15 28zm-72-53l14 29 12-10-14-24zm-72-19l15 0 11-10-14 0zm-444-11l14 10 12-26-15 6zm-14 16l14-16 11-10-14 5zm-718-65l15-37 11-2-14-27z"/>
<path fill="#228" d="M5840 3821l14-18 11-20-14 18zm-15-7l15 7 11-20-14 5zm-588-76l15-2 11-21-14 6zm-72 41l15-24 11-21-14 12z"/>
<path fill="#339" d="M5811 3797l14 17 12-8-15-19zm-15-18l15 18 11-10-14-18zm-573-26l14-15 12-17-15-5zm-43 2l14-2 12-33-15 14zm-416-49l14 14 12-28-15 0z"/>
<path fill="#449" d="M5768 3746l14 4 12-5-15-12zm-15-17l15 17 11-13-14-16zm-430-18l15-9 11-29-14 11zm-28 15l14-7 11-39-14 19z"/>
<path fill="#448" d="M5739 3733l14-4 12-12-14-1zm-14-2l14 2 12-17-15 5zm-29-12l14 12 12-10-15-9zm-14-18l14 18 11-7-14-19zm-15-18l15 18 11-8-14-11zm-1090-51l15-82 11-2-14 9zm-28 2l14-93 12 1-15 90z"/>
<path fill="#77b" d="M5653 3669l14 14 12-1-15-30zm-14-3l14 3 11-17-14-6z"/>
<path fill="#669" d="M5624 3641l15 25 11-20-14-16z"/>
<path fill="#779" d="M5610 3633l14 8 12-11-15-11zm-14-12l14 12 11-14-14-12zm-15-11l15 11 11-14-14-9z"/>
<path fill="#668" d="M5567 3597l14 13 12-12-15-4zm-14 3l14-3 11-3-14-12zm-72 0l14-4 12-23-15 11zm-14 10l14-10 11-16-14-1zm-15 14l15-14 11-27-14 17z"/>
<path fill="#889" d="M5538 3596l15 4 11-18-14-2zm-28-6l14 8 11-25-14 5zm-15 6l15-6 11-12-14-5z"/>
<path fill="#99b" d="M5524 3598l14-2 12-16-15-7z"/>
<path fill="#88b" d="M5438 3629l14-5 12-24-15-8z"/>
<path fill="#558" d="M5424 3637l14-8 11-37-14 25zm-15 18l15-18 11-20-14 13zm-14 19l14-19 12-25-15 4zm-803-124l14 39 12-20-15-21zm-29-9l14 91 12-75-14-15z"/>
<path fill="#66b" d="M5381 3683l14-9 11-40-14 15zm-15 4l15-4 11-34-14 6zm-745-73l14 17 11-34-14-12zm-15-25l15 25 11-29-14-16z"/>
<path fill="#559" d="M5352 3696l14-9 12-32-15 12z"/>
<path fill="#55b" d="M5338 3702l14-6 11-29-14 6zm-29 17l14-8 12-27-15-4zm-645-63l14-3 11-19-14-2zm-15-22l15 22 11-24-14-17z"/>
<path fill="#44b" d="M5280 3730l15-4 11-27-14 5zm-573-52l14 15 11-28-14-8zm-29-25l14 22 12-34-15-7z"/>
<path fill="#44d" d="M5208 3752l15 1 11-37-14 2zm-14 1l14-1 12-34-14 2z"/>
<path fill="#118" d="M5151 3787l14-8 12-33-14 31zm-14 23l14-23 12-10-15 9zm-15 12l15-12 11-24-14 10zm-186-26l14-10 12-8-15-3z"/>
<path fill="#119" d="M5108 3827l14-5 12-26-14 6zm-29 6l15 0 11-32-14 12zm-57-6l14-3 12-20-15 1zm-72-41l15 25 11-31-14-2zm-57 2l14-5 12-26-15 5z"/>
<path fill="#11b" d="M5094 3833l14-6 12-25-15-1zm-29 6l14-6 12-20-15-7zm-14-4l14 4 11-33-14 3zm-15-11l15 11 11-26-14-5zm-28 3l14 0 11-22-14-2zm-15-9l15 9 11-24-14-10zm-14-3l14 3 12-25-15-7zm-57-28l14 9 11-21-14-5z"/>
<path fill="#11d" d="M4965 3811l14 4 11-29-14-6z"/>
<path fill="#22b" d="M4907 3783l15 4 11-17-14-13zm-28-7l14 12 11-26-14-4zm-29-18l14 9 12-31-15 0zm-29-18l15 16 11-32-14-10z"/>
<path fill="#22d" d="M4864 3767l15 9 11-18-14-22zm-28-11l14 2 11-22-14-12z"/>
<path fill="#33b" d="M4807 3732l14 8 12-26-15-11zm-14-4l14 4 11-29-14-4zm-15-8l15 8 11-29-14-7zm-28-11l14-3 11-14-14-14zm-15-6l15 6 11-31-14 0zm-14-10l14 10 12-25-15-13z"/>
<path fill="#55d" d="M4692 3675l15 3 11-21-14-16z"/>
<path fill="#e77" d="M6359 3327l14-6 11-106-14 6zm-15 13l15-13 11-106-14 23z"/>
<path fill="#e88" d="M6330 3352l14-12 12-96-15 3z"/>
<path fill="#e99" d="M6316 3373l14-21 11-105-14 21z"/>
<path fill="#eaa" d="M6301 3379l15-6 11-105-14 13z"/>
<path fill="#faa" d="M6287 3399l14-20 12-98-15 19z"/>
<path fill="#fbb" d="M6273 3421l14-22 11-99-14 14z"/>
<path fill="#fcc" d="M6258 3434l15-13 11-107-14 21z"/>
<path fill="#fdd" d="M6244 3444l14-10 12-99-15 6zm-14 21l14-21 11-103-14 26z"/>
<path fill="#fee" d="M6215 3484l15-19 11-98-14 7zm-28 34l14-10 11-111-14 22zm-29 49l14-14 12-115-15 23z"/>
<path fill="#dcc" d="M6201 3508l14-24 12-110-15 23zm-29 45l15-35 11-99-14 19z"/>
<path fill="#ddd" d="M6144 3586l14-19 11-106-14 23zm-15 23l15-23 11-102-14 26zm-14 27l14-27 12-99-15 16z"/>
<path fill="#ccd" d="M6101 3653l14-17 11-110-14 24zm-15 25l15-25 11-103-14 26z"/>
<path fill="#bbd" d="M6072 3702l14-24 12-102-15 20zm-14 13l14-13 11-106-14 23z"/>
<path fill="#aad" d="M6043 3736l15-21 11-96-14 10z"/>
<path fill="#99d" d="M6029 3751l14-15 12-107-15 19zm-14 20l14-20 11-103-14 17z"/>
<path fill="#88d" d="M6000 3785l15-14 11-106-14 29z"/>
<path fill="#77d" d="M5986 3804l14-19 12-91-15 16z"/>
<path fill="#66d" d="M5972 3813l14-9 11-94-14 26zm-1435-144l15 3 11-131-14 93z"/>
<path fill="#55d" d="M5957 3833l15-20 11-77-14 13zm-14 16l14-16 12-84-15 23zm-72-45l14 17 12-51-14-4zm-1205-110l15 10 11-29-14-22zm-28-26l14 10 12-22-15-22z"/>
<path fill="#44d" d="M5928 3849l15 0 11-77-14 8zm-14 5l14-5 12-69-14 2zm-14-18l14 18 12-72-15 2zm-15-15l15 15 11-52-14-14zm-1190-108l15 5 11-25-14-15z"/>
<path fill="#338" d="M5857 3818l14-14 12-38-15 23zm-101-69l15 25 11-24-14-4zm-487-1l14-3 12-19-15 4zm-29 8l14-11 12-25-14 16zm-717-71l14-16 12-35-15 37z"/>
<path fill="#228" d="M5842 3826l15-8 11-29-14 14zm-14 13l14-13 12-23-14 18zm-617-62l15-13 11-26-14 15z"/>
<path fill="#33b" d="M5814 3834l14 5 12-18-15-7zm-1090-105l14 14 12-34-15-6zm-14-11l14 11 11-26-14-10z"/>
<path fill="#339" d="M5799 3813l15 21 11-20-14-17zm-516-68l14-1 12-25-14 7zm-57 19l14-8 12-20-15 2z"/>
<path fill="#44b" d="M5785 3797l14 16 12-16-15-18zm-14-23l14 23 11-18-14-29zm-474-30l15-2 11-31-14 8zm-43 1l15 3 11-18-14-10zm-573-41l14 9 12-35-15-3zm-29-26l14 16 12-41-14 3z"/>
<path fill="#448" d="M5742 3732l14 17 12-3-15-17zm-14-1l14 1 11-3-14 4zm-15 9l15-9 11 2-14-2zm-14-4l14 4 12-9-15 0zm-14-11l14 11 11-5-14-12zm-15-17l15 17 11-6-14-18zm-286-4l14-23 11-26-14 19z"/>
<path fill="#669" d="M5656 3696l14 12 12-7-15-18zm-14-14l14 14 11-13-14-14z"/>
<path fill="#558" d="M5627 3662l15 20 11-13-14-3zm-14-17l14 17 12 4-15-25zm-172-2l14-6 12-27-15 14zm-14 22l14-22 11-19-14 5zm-29 16l14-14 12-30-15 18z"/>
<path fill="#668" d="M5599 3642l14 3 11-4-14-8zm-15-13l15 13 11-9-14-12zm-43-17l15 0 11-15-14 3zm-28-3l14 5 11-18-14 2zm-29 8l14-5 12-22-15 6zm-29 20l15-20 11-17-14 10z"/>
<path fill="#779" d="M5570 3626l14 3 12-8-15-11zm-100-9l14 0 11-21-14 4z"/>
<path fill="#889" d="M5556 3612l14 14 11-16-14-13zm-29 2l14-2 12-12-15-4zm-29-2l15-3 11-11-14-8z"/>
<path fill="#77b" d="M5412 3667l15-2 11-36-14 8zm-832-84l15 30 11-24-14-39z"/>
<path fill="#559" d="M5369 3709l15-5 11-30-14 9zm-14 14l14-14 12-26-15 4zm-789-105l14-35 12-33-15 82z"/>
<path fill="#55b" d="M5341 3725l14-2 11-36-14 9zm-15 6l15-6 11-29-14 6zm-703-77l15 14 11-34-14-3z"/>
<path fill="#449" d="M5312 3742l14-11 12-29-15 9zm-703-111l14 23 12-23-14-17z"/>
<path fill="#229" d="M5197 3790l14-13 12-24-15-1zm-43 21l14-11 12-45-15 24z"/>
<path fill="#33d" d="M5183 3798l14-8 11-38-14 1zm-15 2l15-2 11-45-14 2zm-372-33l14 8 11-35-14-8zm-29-15l14 5 12-29-15-8zm-14-10l14 10 11-32-14-14zm-15 1l15-1 11-36-14 3z"/>
<path fill="#22b" d="M5140 3820l14-9 11-32-14 8zm-301-32l14 15 11-36-14-9zm-58-31l15 10 11-35-14-4z"/>
<path fill="#118" d="M5125 3846l15-26 11-33-14 23zm-28 15l14-15 11-24-14 5z"/>
<path fill="#11b" d="M5111 3846l14 0 12-36-15 12zm-29 9l15 6 11-34-14 6zm-14 6l14-6 12-22-15 0zm-14 1l14-1 11-28-14 6zm-15-1l15 1 11-23-14-4zm-43-8l15 6 11-32-14 0zm-14-6l14 6 12-26-15-9zm-14-4l14 4 11-29-14-3zm-15-2l15 2 11-28-14-4zm-28-16l14 3 11-42-14 10zm-58-22l15-1 11-14-14-12z"/>
<path fill="#11d" d="M5025 3866l14-5 12-26-15-11zm-14-7l14 7 11-42-14 3zm-72-31l14 13 12-30-15-25zm-29-11l15 8 11-29-14-9z"/>
<path fill="#22d" d="M4896 3813l14 4 12-30-15-4zm-43-10l14 0 12-27-15-9zm-29-13l15-2 11-30-14-2zm-14-15l14 15 12-34-15-16z"/>
<path fill="#119" d="M4882 3802l14 11 11-30-14 5z"/>
<path fill="#66b" d="M4595 3613l14 18 12-17-15-25zm-43 59l14-54 11 14-14-91z"/>
<path fill="#fbb" d="M6347 3433l15-7 11-105-14 6zm-14 16l14-16 12-106-15 13z"/>
<path fill="#fcc" d="M6319 3460l14-11 11-109-14 12z"/>
<path fill="#fdd" d="M6304 3472l15-12 11-108-14 21zm-14 17l14-17 12-99-15 6z"/>
<path fill="#fee" d="M6276 3506l14-17 11-110-14 20zm-15 17l15-17 11-107-14 22zm-14 19l14-19 12-102-15 13zm-14 20l14-20 11-108-14 10zm-15 17l15-17 11-118-14 21zm-14 16l14-16 12-114-15 19z"/>
<path fill="#ddd" d="M6190 3609l14-14 11-111-14 24zm-15 19l15-19 11-101-14 10zm-14 24l14-24 12-110-15 35zm-14 21l14-21 11-99-14 14z"/>
<path fill="#ccd" d="M6132 3693l15-20 11-106-14 19z"/>
<path fill="#bbd" d="M6118 3722l14-29 12-107-15 23zm-14 12l14-12 11-113-14 27z"/>
<path fill="#aad" d="M6089 3762l15-28 11-98-14 17z"/>
<path fill="#99d" d="M6075 3779l14-17 12-109-15 25z"/>
<path fill="#88d" d="M6061 3799l14-20 11-101-14 24zm-15 15l15-15 11-97-14 13z"/>
<path fill="#77d" d="M6032 3832l14-18 12-99-15 21z"/>
<path fill="#66d" d="M6017 3846l15-14 11-96-14 15z"/>
<path fill="#55d" d="M6003 3866l14-20 12-95-14 20zm-14 7l14-7 12-95-15 14zm-1363-172l15 10 11-33-14-10z"/>
<path fill="#44d" d="M5974 3881l15-8 11-88-14 19zm-14 14l14-14 12-77-14 9zm-674-111l14 3 12-45-15 2zm-14-1l14 1 11-40-14 1zm-15-3l15 3 11-38-14 3zm-588-41l15 6 11-32-14-9z"/>
<path fill="#33d" d="M5946 3896l14-1 12-82-15 20zm-15 9l15-9 11-63-14 16zm-14 3l14-3 12-56-15 0zm-14-9l14 9 11-59-14 5zm-15-7l15 7 11-45-14-18zm-1147-116l14 14 12-38-14-10zm-29-10l15 4 11-27-14-14zm-14-11l14 11 12-37-14-11zm-14-10l14 10 12-37-15-5z"/>
<path fill="#33b" d="M5874 3863l14 29 12-56-15-15zm-14-22l14 22 11-42-14-17zm-15 3l15-3 11-37-14 14zm-1190-118l14 13 12-35-15-10z"/>
<path fill="#339" d="M5831 3848l14-4 12-26-15 8zm-43-20l14 16 12-10-15-21zm-545-66l14 18 12-32-15-3z"/>
<path fill="#228" d="M5817 3858l14-10 11-22-14 13zm-43-53l14 23 11-15-14-16zm-545-27l14-16 11-17-14 11zm-15 7l15-7 11-22-14 8zm-14 21l14-21 12-21-15 13zm-14 26l14-26 11-29-14 13zm-674-40l14-85 11-38-14 16z"/>
<path fill="#229" d="M5802 3844l15 14 11-19-14-5z"/>
<path fill="#338" d="M5759 3778l15 27 11-8-14-23zm-459 9l15-24 11-32-14 11zm-760-96l15-53 11-20-14 54zm-14 16l14-16 12-19-15-3z"/>
<path fill="#449" d="M5745 3759l14 19 12-4-15-25zm-416 1l14-12 12-25-14 2z"/>
<path fill="#559" d="M5731 3745l14 14 11-10-14-17zm-72-23l14 11 12-8-15-17z"/>
<path fill="#448" d="M5716 3738l15 7 11-13-14-1zm-14 5l14-5 12-7-15 9zm-14-5l14 5 11-3-14-4zm-15-5l15 5 11-2-14-11zm-287-22l15-12 11-32-14 14zm-14 19l14-19 12-30-14 23zm-14 16l14-16 12-26-15 5z"/>
<path fill="#558" d="M5645 3703l14 19 11-14-14-12zm-15-17l15 17 11-7-14-14zm-200-12l14-15 11-22-14 6zm-15 12l15-12 11-31-14 22zm-14 13l14-13 12-21-15 2z"/>
<path fill="#669" d="M5616 3672l14 14 12-4-15-20z"/>
<path fill="#88b" d="M5602 3662l14 10 11-10-14-17z"/>
<path fill="#668" d="M5587 3649l15 13 11-17-14-3zm-28-20l14 12 11-12-14-3zm-29-9l14 11 12-19-15 0zm-14 11l14-11 11-8-14 2zm-43 7l14-8 11-18-14 5zm-29 21l14-7 12-35-15 20z"/>
<path fill="#779" d="M5573 3641l14 8 12-7-15-13zm-115 11l15-14 11-21-14 0z"/>
<path fill="#889" d="M5544 3631l15-2 11-3-14-14z"/>
<path fill="#99b" d="M5501 3634l15-3 11-17-14-5zm-14-4l14 4 12-25-15 3z"/>
<path fill="#55b" d="M5343 3748l15-2 11-37-14 14zm-745-83l14 20 11-31-14-23z"/>
<path fill="#44b" d="M5315 3763l14-3 12-35-15 6zm-674-52l14 15 11-32-14-16zm-29-26l14 16 12-33-15-14z"/>
<path fill="#22b" d="M5171 3840l15-8 11-42-14 8zm-444-70l14 6 12-34-15 1z"/>
<path fill="#22d" d="M5157 3851l14-11 12-42-15 2zm-14 1l14-1 11-51-14 11zm-345-39l15 5 11-28-14-15zm-14-14l14 14 12-38-14-8zm-14-7l14 7 12-32-15-10zm-15-2l15 2 11-35-14-5z"/>
<path fill="#11b" d="M5128 3863l15-11 11-41-14 9zm-28 11l14-4 11-24-14 0zm-29 8l14-1 12-20-15-6zm-29 3l15 9 11-33-14 1zm-14 5l14-5 12-23-15-1zm-14-7l14 7 11-29-14 5zm-15 3l15-3 11-17-14-7zm-14-4l14 4 12-27-15-6zm-57-29l14 8 11-20-14-13zm-15-2l15 2 11-25-14-3zm-14-9l14 9 12-26-15-8zm-14-2l14 2 11-25-14-4zm-43-19l14 12 11-30-14 0zm-15 7l15-7 11-18-14-15zm-14-10l14 10 12-40-15 2z"/>
<path fill="#119" d="M5114 3870l14-7 12-43-15 26zm-57 24l14-12 11-27-14 6zm-101-36l15 22 11-33-14-4zm-14 3l14-3 12-15-15-2z"/>
<path fill="#118" d="M5085 3881l15-7 11-28-14 15z"/>
<path fill="#11d" d="M4971 3880l14 2 11-29-14-6zm-101-41l15 1 11-27-14-11zm-14-6l14 6 12-37-15 1z"/>
<path fill="#66b" d="M4583 3634l15 31 11-34-14-18zm-14 25l14-25 12-21-15-30zm-14-21l14 21 11-76-14 35z"/>
<path fill="#fee" d="M6336 3531l14-5 12-100-15 7zm-14 15l14-15 11-98-14 16zm-15 9l15-9 11-97-14 11zm-43 50l15-13 11-103-14 17z"/>
<path fill="#dcc" d="M6293 3572l14-17 12-95-15 12zm-14 20l14-20 11-100-14 17z"/>
<path fill="#ddd" d="M6250 3622l14-17 12-99-15 17zm-14 15l14-15 11-99-14 19zm-15 22l15-22 11-95-14 20zm-14 12l14-12 12-97-15 17zm-14 15l14-15 11-92-14 16z"/>
<path fill="#ccd" d="M6178 3702l15-16 11-91-14 14zm-14 23l14-23 12-93-15 19z"/>
<path fill="#bbd" d="M6150 3746l14-21 11-97-14 24z"/>
<path fill="#aad" d="M6135 3769l15-23 11-94-14 21z"/>
<path fill="#99d" d="M6121 3790l14-21 12-96-15 20zm-15 16l15-16 11-97-14 29z"/>
<path fill="#88d" d="M6092 3835l14-29 12-84-14 12z"/>
<path fill="#77d" d="M6078 3854l14-19 12-101-15 28z"/>
<path fill="#66d" d="M6063 3870l15-16 11-92-14 17zm-1491-197l14 14 12-22-15-31z"/>
<path fill="#55d" d="M6049 3886l14-16 12-91-14 20zm-14 13l14-13 12-87-15 15z"/>
<path fill="#44d" d="M6020 3912l15-13 11-85-14 18z"/>
<path fill="#33d" d="M6006 3926l14-14 12-80-15 14zm-14 14l14-14 11-80-14 20zm-1305-152l14 11 11-33-14-11zm-43-31l14 6 11-24-14-13z"/>
<path fill="#22d" d="M5977 3943l15-3 11-74-14 7zm-14 11l14-11 12-70-15 8zm-14 3l14-3 11-73-14 14zm-15 7l15-7 11-62-14 1zm-14 0l14 0 12-68-15 9zm-29-17l15 15 11-54-14-9zm-14-11l14 11 12-48-15-7zm-717-55l14-6 12-43-15 8zm-387-49l14 2 11-21-14-14zm-15-9l15 9 11-33-14-7zm-14 1l14-1 12-31-15-2zm-29-18l15 2 11-32-14-6zm-14-7l14 7 12-36-15-4z"/>
<path fill="#11d" d="M5906 3962l14 2 11-59-14 3zm-961-66l14 6 12-22-15-22zm-29-11l15 1 11-25-14-8zm-86-28l14 0 12-24-14-12z"/>
<path fill="#22b" d="M5863 3903l14 33 11-44-14-29zm-1133-95l14 16 11-34-14-14zm-58-34l15 14 11-33-14-10z"/>
<path fill="#229" d="M5848 3858l15 45 11-40-14-22z"/>
<path fill="#228" d="M5834 3867l14-9 12-17-15 3zm-29 4l15-8 11-15-14 10zm-516-64l14-14 12-30-15 24zm-72-13l15-8 11-24-14 16zm-14 21l14-21 12-16-15 7zm-14 30l14-30 11-30-14 21zm-674-48l14-76 11-30-14 16z"/>
<path fill="#339" d="M5820 3863l14 4 11-23-14 4zm-43-22l14 20 11-17-14-16zm-15-22l15 22 11-13-14-23z"/>
<path fill="#33b" d="M5791 3861l14 10 12-13-15-14zm-516-55l14 1 11-20-14-3zm-15 0l15 0 11-22-14-1zm-14 6l14-6 12-23-15-3zm-14-26l14 26 11-32-14-18zm-574-23l14 11 12-29-15-6zm-29-22l15 16 11-31-14-15z"/>
<path fill="#449" d="M5748 3791l14 28 12-14-15-27zm-402-15l15-11 11-35-14 16z"/>
<path fill="#448" d="M5734 3764l14 27 11-13-14-19zm-15-10l15 10 11-5-14-14zm-14-15l14 15 12-9-15-7zm-14 4l14-4 11-1-14 5zm-15-3l15 3 11 0-14-5zm-14-8l14 8 12-2-15-5zm-14-10l14 10 11 1-14-11zm-259 13l15-16 11-33-14 13zm-28 30l14-24 11-30-14 19zm-803-112l14 20 11-39-14 25zm-15 42l15-42 11 6-14-21z"/>
<path fill="#558" d="M5633 3710l15 12 11 0-14-19zm-201-23l15-24 11-11-14 7zm-14 13l14-13 12-28-14 15zm-14 19l14-19 12-26-15 12z"/>
<path fill="#88b" d="M5619 3704l14 6 12-7-15-17z"/>
<path fill="#779" d="M5605 3684l14 20 11-18-14-14zm-43-28l14 2 11-9-14-8zm-87-1l15-5 11-16-14-4z"/>
<path fill="#668" d="M5590 3668l15 16 11-12-14-10zm-14-10l14 10 12-6-15-13zm-86-8l14-4 12-15-15 3zm-29 12l14-7 12-25-14 8zm-14 1l14-1 12-24-15 14z"/>
<path fill="#99b" d="M5547 3652l15 4 11-15-14-12zm-29-2l15-6 11-13-14-11z"/>
<path fill="#889" d="M5533 3644l14 8 12-23-15 2zm-29 2l14 4 12-30-14 11z"/>
<path fill="#66b" d="M5375 3741l14-6 12-36-15 12z"/>
<path fill="#44b" d="M5332 3785l14-9 12-30-15 2zm-14 3l14-3 11-37-14 12zm-15 5l15-5 11-28-14 3zm-688-67l14 15 12-30-15-10zm-14-16l14 16 11-25-14-16z"/>
<path fill="#118" d="M5174 3875l15-30 11-39-14 26zm-674-54l15-24 11-90-14 85z"/>
<path fill="#11b" d="M5146 3880l14 1 11-41-14 11zm-15 8l15-8 11-29-14 1zm-14 11l14-11 12-36-15 11zm-14-4l14 4 11-36-14 7zm-29 19l14-9 12-31-15 7zm-14 3l14-3 11-33-14 1zm-15-5l15 5 11-35-14 12zm-14 6l14-6 12-18-15-9zm-14-1l14 1 11-33-14 5zm-15-6l15 6 11-27-14-7zm-14 2l14-2 12-28-15 3zm-14 3l14-3 11-27-14-4zm-15-14l15 14 11-34-14-2zm-28-16l14 10 11-38-14 3zm-29-6l14 5 12-32-15-2zm-15-12l15 12 11-29-14-9zm-14 2l14-2 12-26-14-2zm-14-12l14 12 12-30-15-1zm-15-1l15 1 11-19-14-6zm-28-11l14 11 12-36-15 7zm-15 1l15-1 11-18-14-10zm-14-13l14 13 12-29-15-5z"/>
<path fill="#119" d="M5088 3905l15-10 11-25-14 4z"/>
<path fill="#55b" d="M4586 3687l15 23 11-25-14-20z"/>
<path fill="#338" d="M4529 3721l14-26 12-57-15 53z"/>
<path fill="#fee" d="M6325 3637l14-14 11-97-14 5z"/>
<path fill="#fff" d="M6310 3636l15 1 11-106-14 15zm-28 29l14-9 11-101-14 17z"/>
<path fill="#ddd" d="M6296 3656l14-20 12-90-15 9zm-29 26l15-17 11-93-14 20zm-14 15l14-15 12-90-15 13z"/>
<path fill="#ccd" d="M6238 3715l15-18 11-92-14 17zm-14 17l14-17 12-93-14 15zm-14 17l14-17 12-95-15 22z"/>
<path fill="#bbd" d="M6195 3760l15-11 11-90-14 12z"/>
<path fill="#aad" d="M6181 3780l14-20 12-89-14 15zm-14 8l14-8 12-94-15 16z"/>
<path fill="#88b" d="M6152 3817l15-29 11-86-14 23zm-559-115l14 7 12-5-14-20zm-158-11l15-5 11-24-14 1z"/>
<path fill="#88d" d="M6138 3828l14-11 12-92-14 21zm-14 21l14-21 12-82-15 23z"/>
<path fill="#77d" d="M6109 3869l15-20 11-80-14 21z"/>
<path fill="#66d" d="M6095 3887l14-18 12-79-15 16z"/>
<path fill="#55d" d="M6081 3905l14-18 11-81-14 29z"/>
<path fill="#44d" d="M6066 3918l15-13 11-70-14 19zm-14 15l14-15 12-64-15 16z"/>
<path fill="#33d" d="M6038 3949l14-16 11-63-14 16zm-15 12l15-12 11-63-14 13zm-1405-190l14 3 12-17-15-16z"/>
<path fill="#22d" d="M6009 3971l14-10 12-62-15 13zm-14 4l14-4 11-59-14 14zm-1277-138l15 9 11-22-14-16z"/>
<path fill="#11b" d="M5980 3988l15-13 11-49-14 14zm-57 8l14-3 12-36-15 7zm-14 3l14-3 11-32-14 0zm-43-40l14 21 11-33-14-11zm-717-51l14-1 11-32-14 6zm-15-1l15 1 11-27-14-1zm-28 13l14 2 11-34-14 11zm-15 8l15-8 11-21-14-4zm-14 2l14-2 12-33-15 10zm-43 0l14 5 12-18-15-5zm-43-2l14 10 12-21-15-6zm-43 2l14-6 12-8-15-14zm-15-9l15 9 11-28-14-6zm-14-7l14 7 12-25-14-10zm-14 0l14 0 12-28-15-1zm-15-9l15 9 11-29-14-5zm-43-25l15 5 11-15-14-12zm-14-3l14 3 12-22-15-1zm-29-11l15 4 11-13-14-11zm-28-8l14 8 11-19-14-13zm-15-3l15 3 11-24-14-2zm-14-13l14 13 12-23-15-9zm-258 6l14 12 12-63-15 24z"/>
<path fill="#11d" d="M5966 3993l14-5 12-48-15 3zm-14-1l14 1 11-50-14 11zm-15 1l15-1 11-38-14 3zm-43-1l15 7 11-35-14-2zm-14-12l14 12 12-30-15-15zm-1004-76l14 1 12-25-15-12z"/>
<path fill="#22b" d="M5851 3932l15 27 11-23-14-33zm-14-36l14 36 12-29-15-45zm-1133-69l14 10 12-29-15-2zm-14-9l14 9 11-21-14-7zm-15-4l15 4 11-19-14-11zm-14-12l14 12 12-26-15-14zm-14-10l14 10 11-28-14-11z"/>
<path fill="#33b" d="M5823 3892l14 4 11-38-14 9zm-15-10l15 10 11-25-14-4zm-545-48l15 0 11-27-14-1zm-14 10l14-10 12-28-15 0zm-14-13l14 13 11-38-14 6zm-15-19l15 19 11-19-14-26zm-588-38l15 18 11-29-14-6zm-28-26l14 23 11-30-14-15z"/>
<path fill="#228" d="M5794 3883l14-1 12-19-15 8zm-602-40l14-27 11-22-14 21z"/>
<path fill="#229" d="M5780 3873l14 10 11-12-14-10z"/>
<path fill="#339" d="M5765 3855l15 18 11-12-14-20zm-14-20l14 20 12-14-15-22zm-473-1l14-9 11-32-14 14zm-72-18l14-4 12-26-15 8z"/>
<path fill="#449" d="M5737 3807l14 28 11-16-14-28zm-402-7l14-7 12-28-15 11z"/>
<path fill="#559" d="M5722 3776l15 31 11-16-14-27z"/>
<path fill="#448" d="M5708 3760l14 16 12-12-15-10zm-14-22l14 22 11-6-14-15zm-302-1l15-13 11-24-14 19zm-14 19l14-19 12-18-15 16zm-14 20l14-20 11-21-14 6z"/>
<path fill="#558" d="M5679 3739l15-1 11 1-14 4zm-14 3l14-3 12 4-15-3zm-14-11l14 11 11-2-14-8zm-15-4l15 4 11 1-14-10zm-14-14l14 14 12-5-15-12zm-15-4l15 4 11-3-14-6zm-186-3l14-15 12-28-15 24zm-14 18l14-18 11-19-14 13z"/>
<path fill="#779" d="M5579 3680l14 22 12-18-15-16zm-15-9l15 9 11-12-14-10z"/>
<path fill="#668" d="M5550 3669l14 2 12-13-14-2zm-14-18l14 18 12-13-15-4zm-15 13l15-13 11 1-14-8zm-14-8l14 8 12-20-15 6zm-14 6l14-6 11-6-14-4zm-15-4l15 4 11-16-14 4zm-14 16l14-16 12-8-15 5zm-14 12l14-12 11-19-14 7z"/>
<path fill="#338" d="M5349 3793l15-17 11-35-14 24zm-28 13l14-6 11-24-14 9zm-15 11l15-11 11-21-14 3zm-774-80l14-59 12-25-15 42zm-14-11l14 11 11-42-14 26z"/>
<path fill="#44b" d="M5292 3825l14-8 12-29-15 5zm-703-91l15 14 11-22-14-16zm-14-21l14 21 12-24-15-23z"/>
<path fill="#118" d="M5177 3874l15-31 11-28-14 30zm-14 33l14-33 12-29-15 30zm-43 15l14-15 12-27-15 8zm-617-62l15-134 11-5-14 76z"/>
<path fill="#009" d="M5063 3931l14-1 11-25-14 9zm-58 7l15-5 11-15-14-1z"/>
<path fill="#008" d="M5048 3935l15-4 11-17-14 3zm-28-2l14-3 11-18-14 6zm-44-2l15-3 11-17-14 2zm-14-7l14 7 12-18-14 3z"/>
<path fill="#119" d="M4862 3885l14 19 11-36-14 2zm-43-15l14 7 11-20-14 0zm-29-4l14 0 12-20-15 1zm-57-20l14-4 11-19-14 1z"/>
<path fill="#55b" d="M4561 3696l14 17 11-26-14-14zm-15-18l15 18 11-23-14-20z"/>
<path fill="#ddd" d="M6313 3730l14-9 12-98-14 14z"/>
<path fill="#ccd" d="M6299 3741l14-11 12-93-15-1zm-29 15l14-14 12-86-14 9z"/>
<path fill="#eef" d="M6284 3742l15-1 11-105-14 20z"/>
<path fill="#bbd" d="M6256 3769l14-13 12-91-15 17zm-15 26l15-26 11-87-14 15z"/>
<path fill="#aad" d="M6227 3798l14-3 12-98-15 18zm-14 24l14-24 11-83-14 17z"/>
<path fill="#99d" d="M6198 3832l15-10 11-90-14 17zm-14 12l14-12 12-83-15 11z"/>
<path fill="#88d" d="M6170 3853l14-9 11-84-14 20z"/>
<path fill="#77d" d="M6155 3873l15-20 11-73-14 8zm-14 14l14-14 12-85-15 29z"/>
<path fill="#66d" d="M6127 3908l14-21 11-70-14 11z"/>
<path fill="#55d" d="M6112 3912l15-4 11-80-14 21zm-1563-183l15 11 11-27-14-17z"/>
<path fill="#339" d="M6098 3940l14-28 12-63-15 20zm-330-55l15 11 11-13-14-10zm-487-37l14-3 11-28-14 8zm-689-91l15 24 11-10-14-23zm-14-7l14 7 12-9-15-14z"/>
<path fill="#44d" d="M6084 3948l14-8 11-71-14 18z"/>
<path fill="#33d" d="M6069 3963l15-15 11-61-14 18zm-14 6l14-6 12-58-15 13z"/>
<path fill="#22b" d="M6041 3983l14-14 11-51-14 15zm-15 13l15-13 11-50-14 16zm-1405-199l14 10 12-15-15-18z"/>
<path fill="#22d" d="M6012 4000l14-4 12-47-15 12z"/>
<path fill="#11b" d="M5998 4007l14-7 11-39-14 10zm-15-3l15 3 11-36-14 4zm-43 9l15 1 11-21-14-1zm-71-15l14 12 11-18-14-12zm-746-71l14 2 12-21-15-1zm-72 21l14 6 12-24-14 1zm-100-1l14-1 11-15-14-7zm-29-6l14 1 12-12-15-9zm-14-8l14 8 11-20-14-7zm-101-40l15-2 11-14-14-7zm-14-10l14 10 12-23-15-4zm-57-22l14 7 11-13-14-13z"/>
<path fill="#119" d="M5969 4004l14 0 12-29-15 13zm-43 14l14-5 12-21-15 1zm-14-8l14 8 11-25-14 3zm-29 0l14 3 12-14-15-7zm-29-38l15 26 11-18-14-21zm-14-28l14 28 12-13-15-27zm-990-40l15 0 11 0-14-19zm-14-10l14 10 12-19-15-5zm-14-3l14 3 11-14-14-3zm-58-18l15 1 11-8-14-8zm-14-5l14 5 12-15-15-3zm-72-36l15 6 11-11-14-9z"/>
<path fill="#118" d="M5955 4014l14-10 11-16-14 5zm-129-108l14 38 11-12-14-36zm-660-3l14-37 12-23-15 31zm-14 20l14-20 11-29-14 33zm-15 6l15-6 11-16-14 1zm-29 0l15-2 11-20-14 15zm-329-55l14 9 11-17-14 0zm-58-18l15 5 11-19-14 4zm-14-13l14 13 12-10-15-9zm-14-5l14 5 11-6-14-10zm-29-15l14 9 12-14-15-4zm-172 40l14-81 12-56-15 134z"/>
<path fill="#008" d="M5897 4013l15-3 11-14-14 3zm-803-77l14-7 12-7-14-2zm-14 6l14-6 12-16-15 8zm-15 12l15-12 11-14-14 2zm-28-9l14 3 12-17-15 4zm-15 6l15-6 11-10-14-5zm-28 6l14-9 12-15-15 5zm-29-11l14 0 12-18-15 3zm-29-4l15 5 11-23-14 6zm-57-29l14 17 12-16-15-9zm-14-9l14 9 11-8-14-1zm-388 31l15-72 11-3-14-12z"/>
<path fill="#228" d="M5811 3900l15 6 11-10-14-4zm-28-4l14-2 11-12-14 1zm-488-51l14-15 12-24-15 11zm-29 9l15-6 11-23-14 9zm-86 12l15-31 11-19-14 27z"/>
<path fill="#229" d="M5797 3894l14 6 12-8-15-10zm-545-30l14-10 12-20-15 0zm-14 2l14-2 11-30-14 10zm-588-52l14 9 11-9-14-12zm-15-7l15 7 11-12-14-10zm-28-26l14 16 11-23-14-3z"/>
<path fill="#33b" d="M5754 3872l14 13 12-12-15-18zm-531-15l15 9 11-22-14-13zm-14-16l14 16 12-26-15-19zm-14-6l14 6 11-29-14 4zm-689-53l15-17 11-28-14-11z"/>
<path fill="#338" d="M5740 3840l14 32 11-17-14-20zm-388-44l15-14 11-26-14 20zm-14 19l14-19 12-20-15 17zm-14 12l14-12 11-22-14 7zm-803-62l14-72 11-15-14 59z"/>
<path fill="#449" d="M5725 3819l15 21 11-5-14-28zm-1190-126l14 36 12-33-15-18z"/>
<path fill="#559" d="M5711 3790l14 29 12-12-15-31z"/>
<path fill="#448" d="M5696 3759l15 31 11-14-14-16zm-315 6l14-21 12-20-15 13zm-14 17l14-17 11-28-14 19z"/>
<path fill="#669" d="M5682 3751l14 8 12 1-14-22z"/>
<path fill="#558" d="M5668 3748l14 3 12-13-15 1zm-15-2l15 2 11-9-14 3zm-14 2l14-2 12-4-14-11zm-14-15l14 15 12-17-15-4zm-29-16l14 9 12-13-15-4zm-172-1l14-11 12-19-15 5zm-14 14l14-14 11-25-14 15zm-15 14l15-14 11-24-14 18z"/>
<path fill="#779" d="M5610 3726l15 7 11-6-14-14zm-43-34l15 13 11-3-14-22zm-100 4l14-13 12-21-15-4zm-14 7l14-7 11-38-14 16zm-15 2l15-2 11-29-14 12z"/>
<path fill="#668" d="M5582 3705l14 12 11-8-14-7zm-29-24l14 11 12-12-15-9zm-14-3l14 3 11-10-14-2zm-29-2l14 3 12-28-15 13zm-29 7l15-15 11-12-14 6z"/>
<path fill="#99b" d="M5524 3679l15-1 11-9-14-18z"/>
<path fill="#889" d="M5496 3668l14 8 11-12-14-8z"/>
<path fill="#44b" d="M5309 3830l15-3 11-27-14 6zm-745-90l14 10 11-16-14-21z"/>
<path fill="#009" d="M5008 3948l14 3 12-21-14 3zm-115-18l15 3 11-19-14 0z"/>
<path fill="#00b" d="M4979 3946l15 11 11-19-14-10z"/>
<path fill="#ccf" d="M6302 3831l14-2 11-108-14 9z"/>
<path fill="#aad" d="M6287 3844l15-13 11-101-14 11z"/>
<path fill="#bbf" d="M6273 3848l14-4 12-103-15 1z"/>
<path fill="#99d" d="M6259 3864l14-16 11-106-14 14z"/>
<path fill="#aaf" d="M6244 3868l15-4 11-108-14 13z"/>
<path fill="#88d" d="M6230 3888l14-20 12-99-15 26z"/>
<path fill="#99f" d="M6216 3893l14-5 11-93-14 3z"/>
<path fill="#77d" d="M6201 3904l15-11 11-95-14 24z"/>
<path fill="#66d" d="M6187 3924l14-20 12-82-15 10zm-14 7l14-7 11-92-14 12z"/>
<path fill="#55d" d="M6158 3938l15-7 11-87-14 9zm-14 14l14-14 12-85-15 20zm-1621-194l15-11 11-18-14-36z"/>
<path fill="#44d" d="M6130 3964l14-12 11-79-14 14zm-15 8l15-8 11-77-14 21z"/>
<path fill="#33d" d="M6101 3984l14-12 12-64-15 4zm-14 11l14-11 11-72-14 28zm-875-107l14 3 12-25-15-9zm-15-11l15 11 11-31-14-16z"/>
<path fill="#22b" d="M6072 4014l15-19 11-55-14 8zm-846-123l15-4 11-23-14 2zm-545-37l15 10 11-21-14-5z"/>
<path fill="#22d" d="M6058 4009l14 5 12-66-15 15zm-14 7l14-7 11-46-14 6z"/>
<path fill="#11b" d="M6029 4024l15-8 11-47-14 14zm-14 6l14-6 12-41-15 13zm-14 0l14 0 11-34-14 4zm-15 3l15-3 11-30-14 7zm-14-3l14 3 12-26-15-3zm-14-9l14 9 11-26-14 0z"/>
<path fill="#118" d="M5943 4025l15-4 11-17-14 10zm-14-1l14 1 12-11-15-1zm-14-2l14 2 11-11-14 5zm-43-12l14 18 11-15-14-3zm-15-6l15 6 11 0-14-12zm-29-62l15 40 11-10-14-28zm-674-22l15-31 11-23-14 37zm-14 13l14-13 12-17-14 20zm-14 5l14-5 12-10-15 6zm-15 10l15-10 11-9-14-2zm-272-33l14 6 12-17-15 0zm-29-15l15 6 11-12-14-3zm-14-8l14 8 12-9-15 2zm-14-2l14 2 11 1-14-10zm-15-3l15 3 11-7-14-9zm-14-12l14 12 12-13-15-1zm-14-1l14 1 11-2-14-5zm-15-3l15 3 11-6-14-7zm-14-12l14 12 12-10-15-5zm-14 5l14-5 11-3-14-13zm-43-31l14 10 11-11-14-9zm-173 54l15-22 11-83-14 81z"/>
<path fill="#008" d="M5900 4024l15-2 11-4-14-8zm-14 4l14-4 12-14-15 3zm-803-82l14 0 11-17-14 7zm-15 7l15-7 11-10-14 6zm-14 7l14-7 12-11-15 12zm-14 5l14-5 11-6-14-6zm-15-11l15 11 11-17-14-3zm-14 6l14-6 12-9-15 6zm-14 3l14-3 11-9-14-3zm-15 5l15-5 11-15-14 9zm-14-14l14 14 12-11-15-11zm-14 1l14-1 11-8-14 0zm-15-5l15 5 11-9-14 1zm-14-3l14 3 12-3-15-5zm-14-5l14 5 11-5-14-1zm-15-7l15 7 11-1-14-8zm-14-2l14 2 12-2-15-3zm-14-11l14 11 11-3-14-17zm-402 30l14-65 12-24-15 72z"/>
<path fill="#119" d="M5843 3982l14 22 12-6-15-26zm-746-36l14 2 12-21-15 2zm-244-25l15 1 11-9-14-9zm-28-15l14 9 11-11-14-10zm-158-63l14 11 12-16-15-6z"/>
<path fill="#228" d="M5814 3911l14 31 12 2-14-38zm-14-8l14 8 12-5-15-6zm-15-2l15 2 11-3-14-6zm-14-1l14 1 12-7-14 2zm-14-5l14 5 12-4-15-11zm-15-24l15 24 11-10-14-13zm-444-11l14-14 12-19-15 3zm-14 2l14-2 11-30-14 15zm-15 11l15-11 11-17-14 3zm-100 16l14-24 12-30-15 31zm-545-78l14 14 12-11-15-7zm-14-18l14 18 11-4-14-10zm-15-6l15 6 11 4-14-16zm-14-22l14 22 12-6-15-24zm-86 100l14-118 12 18-15 17z"/>
<path fill="#338" d="M5728 3846l14 25 12 1-14-32zm-14-29l14 29 12-6-15-21zm-373 10l14-20 12-25-15 14zm-14 12l14-12 11-31-14 19zm-15 7l15-7 11-24-14 12zm-746-79l15-2 11-8-14-7zm-57-20l14 11 12-65-14 72z"/>
<path fill="#448" d="M5699 3789l15 28 11 2-14-29zm-329 4l14-24 11-25-14 21zm-15 14l15-14 11-28-14 17z"/>
<path fill="#558" d="M5685 3764l14 25 12 1-15-31zm-14-1l14 1 11-5-14-8zm-15-8l15 8 11-12-14-3zm-14-1l14 1 12-7-15-2zm-14-10l14 10 11-8-14 2zm-15-8l15 8 11 4-14-15zm-14-6l14 6 12-3-15-7zm-186 17l14-15 11-27-14 11zm-29 22l14-14 12-25-15 14z"/>
<path fill="#668" d="M5585 3723l14 7 11-4-14-9zm-72-35l14 2 12-12-15 1zm-14 11l14-11 11-9-14-3zm-29 1l14-5 12-27-15 15zm-14 6l14-6 11-17-14 13zm-15 20l15-20 11-10-14 7z"/>
<path fill="#779" d="M5570 3719l15 4 11-6-14-12zm-14-11l14 11 12-14-15-13zm-129 24l14-6 12-23-15 2z"/>
<path fill="#99b" d="M5542 3700l14 8 11-16-14-11zm-58-5l15 4 11-23-14-8z"/>
<path fill="#889" d="M5527 3690l15 10 11-19-14-3z"/>
<path fill="#669" d="M5398 3755l15-8 11-31-14 14z"/>
<path fill="#229" d="M5255 3882l14-9 12-25-15 6zm-14 5l14-5 11-28-14 10zm-603-62l15 8 11-10-14-9z"/>
<path fill="#33b" d="M5183 3865l14 12 12-36-14-6z"/>
<path fill="#339" d="M4552 3749l14 18 12-17-14-10z"/>
<path fill="#449" d="M4538 3747l14 2 12-9-15-11z"/>
<path fill="#88f" d="M6290 3936l15-3 11-104-14 2z"/>
<path fill="#77d" d="M6276 3950l14-14 12-105-15 13z"/>
<path fill="#77f" d="M6262 3957l14-7 11-106-14 4zm-15 6l15-6 11-109-14 16z"/>
<path fill="#66f" d="M6233 3968l14-5 12-99-15 4z"/>
<path fill="#55d" d="M6219 3977l14-9 11-100-14 20z"/>
<path fill="#44d" d="M6204 3989l15-12 11-89-14 5zm-14 12l14-12 12-96-15 11z"/>
<path fill="#33d" d="M6176 4010l14-9 11-97-14 20zm-15-1l15 1 11-86-14 7zm-14 11l14-11 12-78-15 7zm-14 9l14-9 11-82-14 14zm-961-126l14 7 11-33-14-12z"/>
<path fill="#22d" d="M6118 4035l15-6 11-77-14 12zm-14 3l14-3 12-71-15 8zm-14 11l14-11 11-66-14 12zm-904-139l14 11 12-33-15-11z"/>
<path fill="#11d" d="M6075 4054l15-5 11-65-14 11zm-14 7l14-7 12-59-15 19zm-14 1l14-1 11-47-14-5zm-15-2l15 2 11-53-14 7zm-14 6l14-6 12-44-15 8zm-14-6l14 6 11-42-14 6z"/>
<path fill="#11b" d="M5989 4057l15 3 11-30-14 0zm-14-3l14 3 12-27-15 3zm-14-7l14 7 11-21-14-3zm-15-10l15 10 11-17-14-9z"/>
<path fill="#118" d="M5932 4040l14-3 12-16-15 4zm-15-6l15 6 11-15-14-1zm-14-3l14 3 12-10-14-2zm-14-7l14 7 12-9-15 2zm-15 1l15-1 11 0-14 4zm-14-11l14 11 12 3-14-18zm-14-20l14 20 12-4-15-6zm-15-14l15 14 11 10-14-22zm-14-36l14 36 12 2-15-40zm-588-30l14-13 12-19-14 5zm-72 7l15-18 11-38-14 24zm-14 25l14-25 12-32-15 31zm-14 5l14-5 11-26-14 13zm-15-1l15 1 11-18-14 5zm-14 5l14-5 12-12-15 10zm-14-3l14 3 11-7-14-2zm-15 16l15-16 11-6-14 0zm-200-37l14 4 11 0-14-2zm-15 1l15-1 11 2-14-11zm-14-7l14 7 12-10-15-1zm-14-10l14 10 11-4-14-6zm-15-2l15 2 11 0-14-9zm-14-8l14 8 12-7-15-6zm-14-4l14 4 11-5-14-8zm-15-5l15 5 11-9-14-2zm-14-10l14 10 12-6-15-3zm-14-9l14 9 11 1-14-12zm-15 1l15-1 11-2-14-1zm-14-6l14 6 12-4-15-3zm-15-14l15 14 11-1-14-12zm-14 0l14 0 12 1-14 5zm-14-9l14 9 12 6-15-10zm-15-8l15 8 11 5-14-11zm-172 67l15-51 11-110-14 118z"/>
<path fill="#228" d="M5803 3920l14 24 11-2-14-31zm-15-17l15 17 11-9-14-8zm-14-8l14 8 12 0-15-2zm-14-10l14 10 11 6-14-1zm-488 4l14-9 12-20-14 2zm-14 6l14-6 12-27-15 11zm-15 6l15-6 11-22-14 9zm-602-74l14 14 12 2-14-10zm-14-7l14 7 12 6-15-8zm-15-15l15 15 11 5-14-14zm-14-11l14 11 12 6-14-18zm-14-4l14 4 12-1-15-6zm-86 67l14-90 11-9-14-11z"/>
<path fill="#338" d="M5745 3881l15 4 11 15-14-5zm-14-19l14 19 12 14-15-24zm-14-23l14 23 11 9-14-25zm-373-10l14-13 12-23-15 14zm-14 23l14-23 11-22-14 20zm-15 18l15-18 11-25-14 12zm-760-98l14 5 12-12-15 2zm-14-14l14 14 11-5-14-18zm-15 12l15-12 11-9-14-2zm-14-3l14 3 12-23-15 11z"/>
<path fill="#448" d="M5702 3810l15 29 11 7-14-29zm-14-23l14 23 12 7-15-28zm-315 18l14-25 11-25-14 14zm-15 11l15-11 11-36-14 24z"/>
<path fill="#558" d="M5674 3773l14 14 11 2-14-25zm-15-15l15 15 11-9-14-1zm-14-4l14 4 12 5-15-8zm-14-2l14 2 11 1-14-1zm-15-11l15 11 11 2-14-10zm-200 17l14-14 11-18-14 6zm-15 11l15-11 11-26-14 15zm-14 11l14-11 12-22-15 8z"/>
<path fill="#668" d="M5602 3741l14 0 12 3-15-8zm-14-5l14 5 11-5-14-6zm-15 1l15-1 11-6-14-7zm-28-21l14 16 11-13-14-11zm-58 2l15-9 11-21-14 11zm-43 9l15-6 11-21-14 6zm-14 17l14-17 12-21-15 20z"/>
<path fill="#779" d="M5559 3732l14 5 12-14-15-4zm-100-11l14-1 11-25-14 5z"/>
<path fill="#889" d="M5530 3715l15 1 11-8-14-8z"/>
<path fill="#99b" d="M5516 3715l14 0 12-15-15-10zm-14-6l14 6 11-25-14-2zm-29 11l14-2 12-19-15-4z"/>
<path fill="#339" d="M5301 3883l14-13 12-31-15 7zm-732-106l15 13 11-3-14-22z"/>
<path fill="#33b" d="M5286 3880l15 3 11-37-14 14z"/>
<path fill="#22b" d="M5215 3918l14-4 12-27-15 4zm-15 3l15-3 11-27-14-3z"/>
<path fill="#008" d="M5057 3968l14 0 12-22-15 7zm-14 4l14-4 11-15-14 7zm-15-3l15 3 11-12-14 5zm-14-4l14 4 12-4-15-11zm-14-3l14 3 11-11-14 6zm-15 4l15-4 11-2-14 3zm-14-1l14 1 12-3-15 5zm-14-8l14 8 11 3-14-14zm-15 4l15-4 11-3-14 1zm-14-6l14 6 12-6-15-5zm-14-1l14 1 11-5-14-3zm-15-12l15 12 11-7-14-5zm-14-7l14 7 12 0-15-7zm-416 54l14-81 12-43-15 22z"/>
<path fill="#009" d="M4455 4015l14-26 11-102-14 65z"/>
<path fill="#44f" d="M6279 4029l14 4 12-100-15 3z"/>
<path fill="#33d" d="M6265 4038l14-9 11-93-14 14zm-15 7l15-7 11-88-14 7zm-14 5l14-5 12-88-15 6zm-14 5l14-5 11-87-14 5z"/>
<path fill="#22d" d="M6207 4065l15-10 11-87-14 9zm-14 6l14-6 12-88-15 12zm-14 9l14-9 11-82-14 12zm-15-1l15 1 11-79-14 9zm-989-136l14 8 11-30-14-11zm-15 3l15-3 11-33-14-7z"/>
<path fill="#11d" d="M6150 4093l14-14 12-69-15-1zm-14 7l14-7 11-84-14 11zm-15-2l15 2 11-80-14 9zm-14-1l14 1 12-69-15 6zm-14 5l14-5 11-62-14 3zm-15-3l15 3 11-64-14 11zm-14 14l14-14 12-50-15 5zm-14-10l14 10 11-59-14 7zm-15 6l15-6 11-42-14 1zm-14-2l14 2 12-47-15-2zm-15-4l15 4 11-47-14 6zm-14-5l14 5 12-37-14-6z"/>
<path fill="#11b" d="M5978 4082l14 16 12-38-15-3zm-15-5l15 5 11-25-14-3zm-14-11l14 11 12-23-14-7z"/>
<path fill="#118" d="M5935 4045l14 21 12-19-15-10zm-15 6l15-6 11-8-14 3zm-14-11l14 11 12-11-15-6zm-14-2l14 2 11-6-14-3zm-15-12l15 12 11-7-14-7zm-14-11l14 11 12-2-15 1zm-14-19l14 19 11 10-14-11zm-15-9l15 9 11 18-14-20zm-14-16l14 16 12 7-15-14zm-602-46l14-5 11-19-14 13zm-15 21l15-21 11-11-14 4zm-71 19l14-19 11-25-14 25zm-15 0l15 0 11-19-14 5zm-14 0l14 0 12-14-15-1zm-14 0l14 0 11-15-14 5zm-15 5l15-5 11-10-14-3zm-14 5l14-5 12-18-15 16zm-158-18l15-2 11 0-14-1zm-14-12l14 12 12-3-15-12zm-14 0l14 0 11-3-14-7zm-15-15l15 15 11-10-14-4zm-14 0l14 0 12 1-15 1zm-14-9l14 9 11 2-14-7zm-15-14l15 14 11 4-14-10zm-14 4l14-4 12 8-15-2zm-15-10l15 10 11 2-14-8zm-14-8l14 8 12 4-14-4zm-14-5l14 5 12 8-15-5zm-15-7l15 7 11 8-14-10zm-14-3l14 3 12 5-14-9zm-14-1l14 1 12-1-15 1zm-15-13l15 13 11 1-14-6zm-14-6l14 6 12 8-15-14zm-14 1l14-1 11 0-14 0z"/>
<path fill="#228" d="M5806 3940l14 31 11 9-14-36zm-15-26l15 26 11 4-14-24zm-487-23l14-16 12-23-15 18zm-15-1l15 1 11-21-14 13zm-14 14l14-14 12-7-15-3zm-14 3l14-3 11-24-14 9zm-15 11l15-11 11-18-14 6zm-588-72l15 13 11-1-14-9zm-14-10l14 10 12 3-15-8zm-14-10l14 10 11 5-14-14zm-15-12l15 12 11 1-14-7zm-14-8l14 8 12 6-15-15zm-14-10l14 10 11-1-14-11z"/>
<path fill="#338" d="M5777 3895l14 19 12 6-15-17zm-14-5l14 5 11 8-14-8zm-15-8l15 8 11 5-14-10zm-14-15l14 15 12 3-15-4zm-14-14l14 14 11 14-14-19zm-388 8l15-16 11-29-14 13zm-14 14l14-14 12-32-14 23zm-746-81l15 2 11-2-14-4zm-14-10l14 10 12-4-15-13zm-14-6l14 6 11-7-14-5zm-29 17l14-7 12-30-15 12z"/>
<path fill="#448" d="M5705 3827l15 26 11 9-14-23zm-14-17l14 17 12 12-15-29zm-316-4l15-16 11-21-14 11zm-14 18l14-18 12-26-14 25zm-14 21l14-21 12-19-15 11z"/>
<path fill="#558" d="M5677 3790l14 20 11 0-14-23zm-15-16l15 16 11-3-14-14zm-14-12l14 12 12-1-15-15zm-230 8l15-15 11-28-14 17zm-14 11l14-11 12-26-14 14zm-14 9l14-9 12-23-15 11z"/>
<path fill="#668" d="M5634 3762l14 0 11-4-14-4zm-15-3l15 3 11-8-14-2zm-28-11l14 6 11-13-14 0zm-15-3l15 3 11-7-14-5zm-14-6l14 6 12-9-15 1zm-14 4l14-4 11-2-14-5zm-72-4l14-10 12-20-15 9zm-29 10l15-15 11-14-14 1z"/>
<path fill="#779" d="M5605 3754l14 5 12-7-15-11zm-143-20l14 5 11-21-14 2z"/>
<path fill="#99b" d="M5533 3738l15 5 11-11-14-16zm-43-9l15 3 11-17-14-6z"/>
<path fill="#889" d="M5519 3732l14 6 12-22-15-1zm-14 0l14 0 11-17-14 0z"/>
<path fill="#88b" d="M5433 3755l14-6 12-28-15 6z"/>
<path fill="#229" d="M5232 3920l14-2 12-23-15 6z"/>
<path fill="#22b" d="M5189 3951l14-5 12-28-15 3zm-43-5l14 0 12-43-15 18z"/>
<path fill="#008" d="M5046 3982l14-7 11-7-14 0zm-15-1l15 1 11-14-14 4zm-14-2l14 2 12-9-15-3zm-14-4l14 4 11-10-14-4zm-15 1l15-1 11-10-14-3zm-14-5l14 5 12-14-15 4zm-14-1l14 1 11-5-14-1zm-15 0l15 0 11-5-14-8zm-14-10l14 10 12-13-15 4zm-14-5l14 5 11 1-14-6z"/>
<path fill="#449" d="M4529 3788l15-10 11-6-14-14z"/>
<path fill="#226" d="M4501 3843l14-48 11-25-14-3z"/>
<path fill="#116" d="M4486 3849l15-6 11-76-14 90zm-14 121l14-121 12 8-15 51z"/>
<path fill="#006" d="M4458 3998l14-28 11-62-14 81zm-15 52l15-52 11-9-14 26z"/>
<path fill="#22f" d="M6268 4113l14-1 11-79-14-4z"/>
<path fill="#11d" d="M6253 4120l15-7 11-84-14 9zm-14 4l14-4 12-82-15 7zm-14 6l14-6 11-79-14 5zm-15 4l15-4 11-80-14 5zm-14 11l14-11 12-79-15 10zm-14-2l14 2 11-80-14 6zm-15 0l15 0 11-72-14 9zm-14 15l14-15 12-63-15-1zm-15-7l15 7 11-79-14 14zm-14 10l14-10 12-58-14 7zm-14-3l14 3 12-61-15-2zm-15 9l15-9 11-60-14-1zm-14-4l14 4 12-70-14 5zm-14-5l14 5 12-61-15-3zm-15-10l15 10 11-59-14 14zm-14-3l14 3 12-35-14-10zm-14-2l14 2 12-42-15 6zm-15-3l15 3 11-34-14-2zm-43-23l15 5 11-24-14-16z"/>
<path fill="#00b" d="M5995 4129l14 11 12-33-15-4zm-14-7l14 7 11-26-14-5z"/>
<path fill="#11b" d="M5952 4097l14 20 12-35-15-5zm-14-10l14 10 11-20-14-11zm-15-20l15 20 11-21-14-21zm-774-88l14-5 12-31-15 3zm-14 7l14-7 11-33-14 0zm-15-1l15 1 11-40-14 19z"/>
<path fill="#119" d="M5909 4066l14 1 12-22-15 6zm-14-14l14 14 11-15-14-11zm-789-71l14 4 12-20-15 0zm-186-10l14 9 11-10-14-10zm-115-52l14 10 12-8-15-14z"/>
<path fill="#118" d="M5880 4038l15 14 11-12-14-2zm-14-15l14 15 12 0-15-12zm-14-11l14 11 11 3-14-11zm-15-15l15 15 11 3-14-19zm-14-14l14 14 12-1-15-9zm-602-41l14-8 11-16-14 2zm-15 15l15-15 11-22-14 5zm-14 12l14-12 12-32-15 21zm-14 11l14-11 11-23-14 5zm-86-2l14 3 11-16-14 0zm-15 6l15-6 11-13-14 0zm-14 3l14-3 12-19-15 5zm-14-2l14 2 11-17-14 5zm-15 2l15-2 11-10-14 7zm-43-2l15 0 11-6-14-4zm-14-4l14 4 12-10-15 1zm-14 0l14 0 11-5-14-5zm-15-5l15 5 11-10-14-1zm-14 4l14-4 12-6-15 0zm-29-19l15 10 11-11-14-5zm-14-3l14 3 12-6-15 2zm-15-14l15 14 11-1-14-12zm-14 0l14 0 12 1-14 0zm-14 0l14 0 12 1-15-15zm-15-15l15 15 11-14-14 0zm-14 0l14 0 12 1-14-9zm-29-17l15 7 11-12-14 4zm-14-8l14 8 12-1-15-10zm-14-10l14 10 11-3-14-8zm-15-11l15 11 11-1-14-5zm-14 1l14-1 12 5-15-7zm-14-5l14 5 11-3-14-3zm-15-1l15 1 11-1-14-1z"/>
<path fill="#228" d="M5809 3954l14 29 11 4-14-16zm-15-19l15 19 11 17-14-31zm-502-33l15-5 11-22-14 16zm-14 21l14-21 12-11-15-1zm-43 11l14-6 12-21-15 11zm-545-67l14 11 12-1-15-13zm-14-7l14 7 11-3-14-6zm-15-4l15 4 11-2-14 1zm-14-12l14 12 12 3-15-13zm-14-16l14 16 11 2-14-10zm-15-5l15 5 11 8-14-10zm-14-9l14 9 12 3-15-12z"/>
<path fill="#338" d="M5780 3913l14 22 12 5-15-26zm-14-24l14 24 11 1-14-19zm-15-7l15 7 11 6-14-5zm-416-15l15-18 11-25-14 21zm-14 18l14-18 12-22-15 16zm-14 12l14-12 11-24-14 14zm-717-103l14 20 11 0-14-8zm-15 3l15-3 11 12-14-10zm-14-1l14 1 12-1-15-2zm-14-2l14 2 11-2-14-10zm-29 0l14 1 12-17-15 10z"/>
<path fill="#448" d="M5737 3859l14 23 12 8-15-8zm-14 3l14-3 11 23-14-15zm-15-22l15 22 11 5-14-14zm-14-21l14 21 12 13-15-26zm-330 12l14-12 12-29-15 16zm-14 18l14-18 11-25-14 18z"/>
<path fill="#558" d="M5680 3803l14 16 11 8-14-17zm-15-8l15 8 11 7-14-20zm-14-18l14 18 12-5-15-16zm-244 14l14-5 12-31-15 15zm-14 17l14-17 11-21-14 11zm-15 11l15-11 11-27-14 9z"/>
<path fill="#668" d="M5637 3765l14 12 11-3-14-12zm-15-7l15 7 11-3-14 0zm-14 6l14-6 12 4-15-3zm-14-8l14 8 11-5-14-5zm-15-5l15 5 11-2-14-6zm-14 1l14-1 12-3-15-3zm-14-8l14 8 11-7-14-6zm-15 6l15-6 11-5-14 4zm-14-5l14 5 12-7-15-5zm-15 4l15-4 11-7-14-6zm-43 6l15-4 11-22-14 10zm-28 20l14-16 12-25-15 15z"/>
<path fill="#889" d="M5493 3748l14 1 12-17-14 0zm-14 3l14-3 12-16-15-3z"/>
<path fill="#779" d="M5450 3759l14-4 12-16-14-5zm-29 27l15-11 11-26-14 6z"/>
<path fill="#229" d="M5264 3926l14-3 11-33-14 14zm-15 2l15-2 11-22-14 3z"/>
<path fill="#22d" d="M5163 3974l15 6 11-29-14-8z"/>
<path fill="#008" d="M5020 3991l14-4 12-5-15-1zm-14-6l14 6 11-10-14-2z"/>
<path fill="#449" d="M4532 3795l15-1 11-10-14-6z"/>
<path fill="#226" d="M4504 3824l14-30 11-6-14 7zm-15 19l15-19 11-29-14 48z"/>
<path fill="#116" d="M4475 3904l14-61 12 0-15 6z"/>
<path fill="#006" d="M4461 3970l14-66 11-55-14 121zm-15 48l15-48 11 0-14 28zm-14 92l14-92 12-20-15 52z"/>
<path fill="#11d" d="M6256 4174l15 4 11-66-14 1zm-14 1l14-1 12-61-15 7zm-15 5l15-5 11-55-14 4zm-14 5l14-5 12-56-14 6zm-14-1l14 1 12-55-15 4zm-15 6l15-6 11-50-14 11zm-14-11l14 11 12-45-14-2zm-29 18l15-5 11-49-14 15zm-14 1l14-1 12-39-15-7zm-14 1l14-1 11-47-14 10zm-15-5l15 5 11-38-14-3zm-43-1l15 4 11-34-14-5zm-28-14l14 0 11-31-14-3zm-15-4l15 4 11-34-14-2z"/>
<path fill="#00b" d="M6156 4192l14-13 12-36-15 0zm-72 1l14 1 12-36-15 9zm-14 4l14-4 11-26-14-4zm-29-18l14 14 12-35-15-10zm-43-12l14 8 12-32-15-3zm-14-12l14 12 11-27-14-11zm-15-14l15 14 11-26-14-7z"/>
<path fill="#009" d="M5955 4129l14 12 12-19-15-5z"/>
<path fill="#11b" d="M5941 4114l14 15 11-12-14-20zm-29-29l14 17 12-15-15-20zm-774-81l14 2 11-32-14 5z"/>
<path fill="#119" d="M5926 4102l15 12 11-17-14-10zm-774-96l14-12 12-14-15-6zm-29-5l15 3 11-25-14 7zm-14 2l14-2 12-15-15-1zm-14-8l14 8 11-18-14-4zm-15 3l15-3 11-14-14-3z"/>
<path fill="#118" d="M5898 4070l14 15 11-18-14-1zm-15-14l15 14 11-4-14-14zm-14-8l14 8 12-4-15-14zm-14-18l14 18 11-10-14-15zm-15-22l15 22 11-7-14-11zm-631-47l15-11 11-16-14 8zm-14 12l14-12 12-19-15 15zm-14 12l14-12 11-16-14 12zm-15 9l15-9 11-16-14 11zm-100 7l14-3 12-20-15 6zm-14-5l14 5 11-17-14 3zm-15 6l15-6 11-9-14-2zm-14-4l14 4 12-17-15 2zm-15-1l15 1 11-11-14 4zm-14-1l14 1 12-6-14-6zm-14-6l14 6 12-11-15 0zm-15-1l15 1 11-5-14-4zm-14-5l14 5 12-8-14 0zm-14-6l14 6 12-3-15-5zm-15-3l15 3 11-2-14 4zm-14-2l14 2 12 5-14-9zm-14-3l14 3 12-2-15-10zm-15-5l15 5 11-9-14-3zm-14-16l14 16 12-7-15-14zm-14-4l14 4 11-5-14 0zm-15-12l15 12 11-1-14 0zm-14 1l14-1 12 11-15-15zm-14-12l14 12 11-5-14 0zm-15-6l15 6 11 7-14-10zm-14-2l14 2 12 3-15-7zm-14-12l14 12 11-2-14-8zm-15-2l15 2 11 2-14-10z"/>
<path fill="#228" d="M5826 3986l14 22 12 4-15-15zm-14-12l14 12 11 11-14-14zm-15-22l15 22 11 9-14-29zm-516-19l14-14 12-22-15 5zm-14 3l14-3 11-31-14 21zm-15 1l15-1 11-13-14 3zm-14 14l14-14 12-11-15 2zm-502-61l14 10 12-6-15-11zm-14-7l14 7 11-7-14 1zm-15-8l15 8 11 1-14-5zm-14 3l14-3 12 4-15-1zm-14-7l14 7 11 0-14-11zm-15-14l15 14 11-4-14-7zm-14-5l14 5 12 3-15-4zm-14-13l14 13 11 4-14-12zm-15-2l15 2 11 5-14-16z"/>
<path fill="#338" d="M5783 3933l14 19 12 2-15-19zm-14-28l14 28 11 2-14-22zm-445-20l14-22 12-14-15 18zm-14 10l14-10 11-18-14 18zm-15 24l15-24 11-10-14 12zm-688-86l14 4 12-9-15-5zm-14-17l14 17 11-10-14-9zm-29-15l14 11 12-18-15 3zm-14 1l14-1 11-4-14-1zm-15-2l15 2 11-6-14-2zm-14 4l14-4 12-6-15 1z"/>
<path fill="#448" d="M5754 3886l15 19 11 8-14-24zm-14-18l14 18 12 3-15-7zm-14-20l14 20 11 14-14-23zm-15-3l15 3 11 11-14 3zm-344-5l14-18 12-14-15 11zm-14 16l14-16 11-21-14 12zm-15 7l15-7 11-25-14 18z"/>
<path fill="#558" d="M5697 3830l14 15 12 17-15-22zm-14-19l14 19 11 10-14-21zm-15-14l15 14 11 8-14-16zm-258 10l14-17 12-15-15 11zm-29 15l15-14 11-17-14 17z"/>
<path fill="#668" d="M5654 3789l14 8 12 6-15-8zm-14-11l14 11 11 6-14-18zm-15-5l15 5 11-1-14-12zm-14 1l14-1 12-8-15-7zm-15 0l15 0 11-16-14 6zm-14-14l14 14 12-10-14-8zm-14 5l14-5 12-4-15-5zm-15-7l15 7 11-14-14 1zm-14-2l14 2 12-6-14-8zm-14-2l14 2 12-12-15 6zm-15 8l15-8 11-4-14-5zm-14 1l14-1 12-17-15 4zm-14-2l14 2 11-14-14-1zm-15 15l15-15 11-13-14 3zm-43 14l15-2 11-29-14 16z"/>
<path fill="#99b" d="M5453 3778l14-2 12-25-15 4z"/>
<path fill="#779" d="M5439 3788l14-10 11-23-14 4z"/>
<path fill="#669" d="M5396 3808l14-1 11-21-14 5z"/>
<path fill="#229" d="M5224 3950l14 1 11-23-14 6z"/>
<path fill="#44b" d="M4578 3812l15 4 11-2-14-20z"/>
<path fill="#226" d="M4507 3824l14-20 11-9-14-1zm-15 16l15-16 11-30-14 30z"/>
<path fill="#116" d="M4478 3890l14-50 12-16-15 19z"/>
<path fill="#114" d="M4464 3889l14 1 11-47-14 61z"/>
<path fill="#004" d="M4449 4026l15-137 11 15-14 66zm-14 26l14-26 12-56-15 48zm-14 64l14-64 11-34-14 92z"/>
<path fill="#00b" d="M6245 4203l14 5 12-30-15-4zm-15 1l15-1 11-29-14 1zm-14 0l14 0 12-29-15 5zm-29 6l15-4 11-21-14-1zm-71 9l14 0 11-22-14 1zm-86-19l14 6 11-13-14-14zm-72-37l14 2 12-10-15-14z"/>
<path fill="#009" d="M6202 4206l14-2 11-24-14 5zm-29 8l14-4 12-26-15 6zm-29-2l15-3 11-30-14 13zm-43 1l15 6 11-21-14 1zm-14 1l14-1 12-14-15-5zm-14-3l14 3 11-20-14-1zm-29-5l14 6 12-15-15-4zm-29-16l15 10 11-21-14 0zm-43-25l15 11 11-9-14-12z"/>
<path fill="#11d" d="M6159 4209l14 5 11-24-14-11z"/>
<path fill="#008" d="M6130 4219l14-7 12-20-15 5zm-72-7l15-1 11-18-14 4zm-57-28l14 6 12-11-15-4zm-14-8l14 8 11-9-14-8zm-43-40l14 27 11-22-14-12z"/>
<path fill="#11b" d="M5929 4132l15 4 11-7-14-15zm-57-59l14 8 12-11-15-14z"/>
<path fill="#119" d="M5915 4113l14 19 12-18-15-12zm-14-15l14 15 11-11-14-17zm-15-17l15 17 11-13-14-15zm-760-63l15 4 11-16-14-2zm-14-2l14 2 12-14-15-3zm-29-5l14 3 12-11-14-8zm-43 0l14 4 12-14-14-5z"/>
<path fill="#118" d="M5858 4047l14 26 11-17-14-8zm-15-27l15 27 11 1-14-18zm-645-47l14-7 12-16-15 11zm-14 10l14-10 11-12-14 12zm-15 12l15-12 11-10-14 12zm-14 21l14-21 12-10-15 9zm-14 6l14-6 11-22-14 12zm-44-8l15 2 11-15-14 2zm-28-5l14 2 12-16-15 3zm-15 6l15-6 11-11-14 3zm-28-4l14 0 12-15-15 6zm-15-2l15 2 11-9-14-4zm-14 1l14-1 12-11-15-1zm-14-9l14 9 11-13-14-1zm-15 1l15-1 11-5-14-6zm-14 0l14 0 12-12-15-1zm-14-13l14 13 11-13-14-5zm-15 1l15-1 11-5-14-6zm-14-9l14 9 12-12-15-3zm-14-5l14 5 11-6-14-2zm-15-1l15 1 11-3-14-3zm-14-7l14 7 12-5-15-5zm-14-14l14 14 11-3-14-16zm-15-9l15 9 11-5-14-4zm-14 1l14-1 12 0-15-12zm-14-10l14 10 11-13-14 1zm-15-6l15 6 11-2-14-12zm-14-9l14 9 12-8-15-6z"/>
<path fill="#228" d="M5829 3998l14 22 12 10-15-22zm-14-20l14 20 11 10-14-22zm-15-19l15 19 11 8-14-12zm-530-19l14-11 11-10-14 14zm-15 10l15-10 11-7-14 3zm-14 2l14-2 12-14-15 1zm-14 4l14-4 11-15-14 14zm-15 10l15-10 11-5-14-1zm-444-47l14 2 11-5-14-2zm-15-5l15 5 11-5-14-12zm-14-6l14 6 12-12-15-2zm-57-25l14 13 11-21-14 3zm-15 0l15 0 11-5-14-7zm-14-18l14 18 12-12-15-14zm-14-5l14 5 11-8-14-5z"/>
<path fill="#338" d="M5786 3943l14 16 12 15-15-22zm-14-18l14 18 11 9-14-19zm-459-29l14-2 11-31-14 22zm-15 20l15-20 11-11-14 10zm-14 13l14-13 12-21-15 24zm-674-86l14 11 12-15-15-2zm-14-13l14 13 11-6-14-4zm-15-3l15 3 11 3-14-17zm-14-6l14 6 12-11-15-4zm-43-9l14 2 12-12-15-2zm-14 8l14-8 11-12-14 4z"/>
<path fill="#448" d="M5757 3907l15 18 11 8-14-28zm-14-24l14 24 12-2-15-19zm-15-16l15 16 11 3-14-18zm-372-1l14-14 11-30-14 18zm-15 7l15-7 11-26-14 16zm-14 21l14-21 12-17-15 7z"/>
<path fill="#558" d="M5714 3855l14 12 12 1-14-20zm-14-19l14 19 12-7-15-3zm-15-15l15 15 11 9-14-15zm-286 8l14-11 11-28-14 17zm-29 23l14-18 12-26-15 14z"/>
<path fill="#668" d="M5671 3813l14 8 12 9-14-19zm-14-13l14 13 12-2-15-14zm-15-11l15 11 11-3-14-8zm-14-7l14 7 12 0-14-11zm-14 5l14-5 12-4-15-5zm-15-10l15 10 11-14-14 1zm-14-3l14 3 12-3-15 0zm-14-4l14 4 11 0-14-14zm-15 0l15 0 11-10-14 5zm-14-1l14 1 12-5-15-7zm-14-7l14 7 11-11-14-2zm-15 15l15-15 11-6-14-2zm-14-9l14 9 12-23-15 8zm-14 9l14-9 11-6-14 1zm-29 9l14-10 12-15-15 15zm-14 12l14-12 11-10-14 2zm-15 11l15-11 11-20-14 10z"/>
<path fill="#889" d="M5470 3776l15 1 11-14-14-2z"/>
<path fill="#779" d="M5413 3818l14-9 12-21-15 2z"/>
<path fill="#669" d="M5384 3834l15-5 11-22-14 1z"/>
<path fill="#229" d="M4725 3903l14 5 11-8-14-10zm-15-3l15 3 11-13-14-7z"/>
<path fill="#33b" d="M4696 3896l14 4 12-17-15-8z"/>
<path fill="#339" d="M4624 3854l15 6 11-8-14-13z"/>
<path fill="#449" d="M4553 3820l14 1 11-9-14-11zm-15-6l15 6 11-19-14 1z"/>
<path fill="#226" d="M4495 3832l15-12 11-16-14 20zm-14 34l14-34 12-8-15 16z"/>
<path fill="#114" d="M4466 3911l15-45 11-26-14 50zm-14 57l14-57 12-21-14-1z"/>
<path fill="#006" d="M4438 4000l14-32 12-79-15 137z"/>
<path fill="#004" d="M4423 4143l15-143 11 26-14 26zm-14 36l14-36 12-91-14 64z"/>
<path fill="#009" d="M6233 4233l15-9 11-16-14-5zm-43-14l15 8 11-23-14 2zm-43 6l15 1 11-12-14-5zm-215-79l15 13 11 4-14-27z"/>
<path fill="#00b" d="M6219 4227l14 6 12-30-15 1zm-14 0l14 0 11-23-14 0z"/>
<path fill="#008" d="M6176 4223l14-4 12-13-15 4zm-14 3l14-3 11-13-14 4zm-29-11l14 10 12-16-15 3zm-14-1l14 1 11-3-14 7zm-15 14l15-14 11 5-14 0zm-14-6l14 6 12-9-15-6zm-14-1l14 1 11-9-14 1zm-15-4l15 4 11-7-14-3zm-14 1l14-1 12-6-15 1zm-14-4l14 4 11-6-14-6zm-15-10l15 10 11-8-14-6zm-14-3l14 3 12-4-15-10zm-14-19l14 19 11-11-14-6zm-15-2l15 2 11 2-14-8zm-14-12l14 12 12-4-15-11zm-14-9l14 9 11-3-14-2zm-29-27l14 14 12-10-15-4zm-14-19l14 19 11 0-14-19z"/>
<path fill="#118" d="M5889 4099l15 14 11 0-14-15zm-14-19l14 19 12-1-15-17zm-14-16l14 16 11 1-14-8zm-15-25l15 25 11 9-14-26zm-674-46l14-11 12-9-14 10zm-14 17l14-17 12-10-15 12zm-15 22l15-22 11-15-14 21zm-14 0l14 0 12-16-14 6zm-14-1l14 1 12-10-15-4zm-15-1l15 1 11-13-14-2zm-14-6l14 6 12-14-15-2zm-14 0l14 0 11-10-14-3zm-15-3l15 3 11-13-14-2zm-14-4l14 4 12-12-15 6zm-14 10l14-10 11-2-14-4zm-43-8l14 1 11-11-14 1zm-15-9l15 9 11-9-14-9zm-14 0l14 0 12-9-15 1zm-14-3l14 3 11-8-14 0zm-29-11l14 8 12-15-15 1zm-14-3l14 3 11-6-14-9zm-15-11l15 11 11-12-14-5zm-14-1l14 1 12-6-15-1zm-14-8l14 8 11-6-14-7zm-15-11l15 11 11-5-14-14zm-43-21l15 18 11-13-14-10zm-14 7l14-7 12-5-15-6z"/>
<path fill="#228" d="M5832 4018l14 21 12 8-15-27zm-15-29l15 29 11 2-14-22zm-559-39l15-6 11-15-14 11zm-14 8l14-8 12-10-15 10zm-14 10l14-10 11-8-14 2zm-15 4l15-4 11-16-14 4zm-14 6l14-6 12-16-15 10zm-15 4l15-4 11-12-14 7zm-430-55l15 7 11-13-14-2zm-14 0l14 0 12-8-15-5zm-43-19l14 5 12-10-15-3zm-14-11l14 11 11-8-14-4zm-15-6l15 6 11-1-14-13zm-14-3l14 3 12-8-15 0zm-14-17l14 17 11-5-14-18z"/>
<path fill="#338" d="M5803 3973l14 16 12 9-14-20zm-14-15l14 15 12 5-15-19zm-15-26l15 26 11 1-14-16zm-458-23l14-13 11-23-14 21zm-15 11l15-11 11-15-14 2zm-14 11l14-11 12-24-15 20zm-14 13l14-13 11-15-14 13zm-646-71l15-2 11-6-14-5zm-57-32l14 1 12-12-15-3zm-29-5l14-1 12-14-14-1zm-29-7l15-4 11-11-14-2zm-14 11l14-11 12-17-14 8z"/>
<path fill="#448" d="M5760 3913l14 19 12 11-14-18zm-14-19l14 19 12 12-15-18zm-15-17l15 17 11 13-14-24zm-372 1l14-22 11-22-14 18zm-15 4l15-4 11-26-14 14zm-14 14l14-14 12-16-15 7z"/>
<path fill="#558" d="M5717 3848l14 29 12 6-15-16zm-14-9l14 9 11 19-14-12zm-15-7l15 7 11 16-14-19zm-272-6l14-7 12-21-15 11zm-14 14l14-14 11-17-14 9zm-15 7l15-7 11-22-14 11zm-14 9l14-9 12-18-15 5z"/>
<path fill="#668" d="M5674 3818l14 14 12 4-15-15zm-14-18l14 18 11 3-14-8zm-15-7l15 7 11 13-14-13zm-14-3l14 3 12 7-15-11zm-14 1l14-1 11-1-14-7zm-15-11l15 11 11-9-14 5zm-14 1l14-1 12 7-15-10zm-14 7l14-7 11-4-14-3zm-29-7l14 4 12-15-15 0zm-14-3l14 3 11-11-14-1zm-15 9l15-9 11-9-14-7zm-14 3l14-3 12-25-15 15zm-29 1l15-6 11-17-14 9zm-14 12l14-12 12-14-15-1zm-29 16l15-17 11-16-14 12z"/>
<path fill="#889" d="M5559 3785l15 3 11-14-14-4zm-71 0l14 5 11-13-14-9z"/>
<path fill="#779" d="M5445 3802l14 1 11-27-14 10z"/>
<path fill="#119" d="M5014 4029l15-2 11-16-14 0zm-14-9l14 9 12-18-15-2zm-72-16l15 3 11-5-14-13z"/>
<path fill="#229" d="M4828 3964l14-2 12-8-15-9zm-14-5l14 5 11-19-14 1zm-43-25l14 14 11-18-14-9zm-43-10l14 3 11-13-14-6zm-15-11l15 11 11-16-14-5z"/>
<path fill="#339" d="M4613 3866l14 7 12-13-15-6zm-15-12l15 12 11-12-14-11z"/>
<path fill="#449" d="M4584 3842l14 12 12-11-14-13zm-29-7l15 6 11-14-14-6zm-28-10l14 11 12-16-15-6z"/>
<path fill="#226" d="M4484 3858l14-18 12-20-15 12zm-15 47l15-47 11-26-14 34z"/>
<path fill="#114" d="M4455 3933l14-28 12-39-15 45z"/>
<path fill="#004" d="M4441 4060l14-127 11-22-14 57zm-15 58l15-58 11-92-14 32zm-14 37l14-37 12-118-15 143zm-14 54l14-54 11-12-14 36z"/>
<path fill="#009" d="M6222 4252l14 2 12-30-15 9zm-29-11l15 10 11-24-14 0z"/>
<path fill="#00b" d="M6208 4251l14 1 11-19-14-6z"/>
<path fill="#008" d="M6179 4228l14 13 12-14-15-8zm-14 5l14-5 11-9-14 4zm-15-11l15 11 11-10-14 3zm-14 4l14-4 12 4-15-1zm-14 3l14-3 11-1-14-10zm-15-1l15 1 11-14-14-1zm-14-6l14 6 12-14-15 14zm-14 4l14-4 11 6-14-6zm-15-3l15 3 11-4-14-1zm-14-7l14 7 12-2-15-4zm-14 3l14-3 11 1-14 1zm-15-10l15 10 11-1-14-4zm-14-8l14 8 12 5-15-10zm-14-7l14 7 11 3-14-3zm-15-15l15 15 11 7-14-19zm-14-7l14 7 12 3-15-2zm-14-15l14 15 11 8-14-12zm-15-8l15 8 11 11-14-9zm-14-17l14 17 12 10-15-13z"/>
<path fill="#118" d="M5906 4119l15 13 11 14-14-14zm-14-15l14 15 12 13-14-19zm-14-14l14 14 12 9-15-14zm-15-22l15 22 11 9-14-19zm-14-18l14 18 12 12-14-16zm-688-41l14-9 11-18-14 11zm-15 13l15-13 11-16-14 17zm-14 11l14-11 12-12-15 22zm-14 1l14-1 11-1-14 0zm-15-4l15 4 11-2-14-1zm-14 9l14-9 12 1-15-1zm-14 2l14-2 11-9-14-6zm-15-8l15 8 11-17-14 0zm-14-7l14 7 12-9-15-3zm-14 3l14-3 11-5-14-4zm-15 1l15-1 11-12-14 10zm-14 2l14-2 12-3-15 2zm-14-3l14 3 11-3-14-9zm-15 0l15 0 11-9-14-1zm-28-7l14 5 11-17-14 0zm-15-6l15 6 11-12-14-3zm-14-5l14 5 12-9-15-3zm-14-5l14 5 11-7-14-8zm-15-10l15 10 11-10-14-3zm-14-3l14 3 12-3-15-11zm-14-7l14 7 11-11-14-1zm-15-3l15 3 11-5-14-8zm-28-12l14 13 11-22-14 2zm-15-5l15 5 11-7-14-5z"/>
<path fill="#228" d="M5835 4028l14 22 12 14-15-25zm-15-22l15 22 11 11-14-21zm-573-38l14-10 12-14-15 6zm-15 8l15-8 11-18-14 8zm-14 0l14 0 12-18-14 10zm-14 7l14-7 12-8-15 4zm-15 7l15-7 11-11-14 6zm-14 10l14-10 12-12-15 4zm-401-55l14 15 11-19-14 7zm-15-1l15 1 11 3-14-14zm-28-15l14 17 11-19-14 0zm-15-6l15 6 11-2-14-3zm-14-8l14 8 12 1-15-11zm-15 6l15-6 11-2-14-5zm-28-22l14 10 12-12-15-6zm-15 2l15-2 11-8-14-3z"/>
<path fill="#338" d="M5806 3984l14 22 12 12-15-29zm-14-18l14 18 11 5-14-16zm-15-23l15 23 11 7-14-15zm-473-17l14-23 12-7-14 13zm-14 4l14-4 12-17-15 11zm-15 15l15-15 11-10-14 11zm-14 13l14-13 12-14-14 13zm-660-82l15 8 11-11-14-7zm-14-15l14 15 12-10-15-12zm-43-17l14 12 12-15-15-6zm-14-1l14 1 11-9-14 1zm-29 13l14-18 12-13-15 4zm-14 5l14-5 11-27-14 11z"/>
<path fill="#448" d="M5763 3921l14 22 12 15-15-26zm-14-15l14 15 11 11-14-19zm-402-23l15-3 11-24-14 22zm-14 14l14-14 12-5-15 4zm-15 6l15-6 11-15-14 14z"/>
<path fill="#558" d="M5734 3896l15 10 11 7-14-19zm-14-33l14 33 12-2-15-17zm-14-15l14 15 11 14-14-29zm-316 9l15-12 11-19-14 14zm-14 10l14-10 12-17-15 7zm-14 13l14-13 11-20-14 9z"/>
<path fill="#668" d="M5691 3826l15 22 11 0-14-9zm-14 3l14-3 12 13-15-7zm-14-20l14 20 11 3-14-14zm-15-7l15 7 11 9-14-18zm-14-6l14 6 12-2-15-7zm-129 0l14-5 12-13-15 9zm-14 6l14-6 11-9-14 3zm-29 5l14-9 12-13-15 6zm-14 16l14-16 11-16-14 12zm-29 20l14-19 12-22-15 17z"/>
<path fill="#778" d="M5620 3794l14 2 11-3-14-3zm-15-4l15 4 11-4-14 1zm-14-6l14 6 12 1-15-11zm-14 3l14-3 11-4-14 1zm-15-1l15 1 11-6-14 7zm-14 3l14-3 12 2-15-3zm-14 2l14-2 11-4-14-4zm-15 0l15 0 11-10-14-3z"/>
<path fill="#889" d="M5476 3798l15 4 11-12-14-5z"/>
<path fill="#99b" d="M5433 3824l15-1 11-20-14-1z"/>
<path fill="#779" d="M5405 3845l14-2 11-24-14 7z"/>
<path fill="#119" d="M4960 4027l14 2 12-10-15-9z"/>
<path fill="#22b" d="M4831 3984l14-1 12-10-15-11zm-43-24l14 6 12-7-15-18z"/>
<path fill="#229" d="M4745 3946l14-2 12-10-15-7z"/>
<path fill="#339" d="M4673 3909l14 12 12-13-14-11zm-57-25l14 9 12-22-15 2z"/>
<path fill="#44b" d="M4630 3893l14 8 12-13-14-17z"/>
<path fill="#449" d="M4573 3859l14 2 11-7-14-12zm-15-3l15 3 11-17-14-1zm-43-18l15 5 11-7-14-11z"/>
<path fill="#226" d="M4472 3881l15-20 11-21-14 18zm-14 37l14-37 12-23-15 47z"/>
<path fill="#114" d="M4444 3931l14-13 11-13-14 28z"/>
<path fill="#004" d="M4429 4068l15-137 11 2-14 127zm-14 67l14-67 12-8-15 58zm-14 58l14-58 11-17-14 37zm-15 25l15-25 11-38-14 54z"/>
<path fill="#00b" d="M6211 4278l14 2 11-26-14-2zm-15-4l15 4 11-26-14-1zm-14-15l14 15 12-23-15-10zm-14-9l14 9 11-18-14-13zm-29-9l14 8 12-16-15-11z"/>
<path fill="#009" d="M6153 4249l15 1 11-22-14 5z"/>
<path fill="#008" d="M6125 4232l14 9 11-19-14 4zm-15-5l15 5 11-6-14 3zm-14-7l14 7 12 2-15-1zm-14 14l14-14 11 8-14-6zm-15-8l15 8 11-12-14 4zm-14-6l14 6 12 0-15-3zm-15-4l15 4 11 3-14-7zm-14-6l14 6 12 0-14 3zm-14-13l14 13 12 9-15-10zm-15-9l15 9 11 12-14-8zm-14-10l14 10 12 13-14-7zm-14-3l14 3 12 16-15-15zm-15-13l15 13 11 4-14-7zm-14-17l14 17 12 10-14-15z"/>
<path fill="#118" d="M5924 4135l14 10 12 12-15-8zm-15-17l15 17 11 14-14-17zm-14-15l14 15 12 14-15-13zm-14-12l14 12 11 16-14-15zm-15-19l15 19 11 13-14-14zm-717-58l15-8 11-6-14 9zm-14 11l14-11 12-5-15 13zm-14 10l14-10 11-3-14 11zm-15 5l15-5 11-2-14 1zm-14-1l14 1 12-6-15-4zm-14 1l14-1 11-9-14 9zm-15 3l15-3 11-1-14 2zm-14-1l14 1 12-2-15-8zm-14-5l14 5 11-9-14-7zm-15 7l15-7 11-11-14 3zm-14-5l14 5 12-15-15 1zm-14 5l14-5 11-9-14 2zm-15-10l15 10 11-12-14-3zm-14 4l14-4 12-5-15 0zm-14-11l14 11 11-9-14-2zm-15 2l15-2 11 0-14-5zm-14-10l14 10 12-7-15-6zm-14 2l14-2 11-3-14-5zm-15-9l15 9 11-10-14-5zm-28-11l14 13 11-18-14-3zm-15-6l15 6 11-8-14-7zm-14-2l14 2 12-9-15-3zm-14-3l14 3 11-10-14 1z"/>
<path fill="#228" d="M5852 4054l14 18 12 18-15-22zm-14-19l14 19 11 14-14-18zm-15-15l15 15 11 15-14-22zm-588-37l15-22 11-3-14 10zm-14 0l14 0 12-15-15 8zm-14 11l14-11 11-7-14 0zm-15-4l15 4 11-18-14 7zm-14 12l14-12 12-7-15 7zm-14 4l14-4 11-12-14 10zm-388-44l15 20 11-16-14-6zm-43-18l15 14 11-14-14 2zm-14 6l14-6 12 2-14-17zm-43-22l14 2 12-15-15 6z"/>
<path fill="#338" d="M5809 3994l14 26 12 8-15-22zm-14-19l14 19 11 12-14-22zm-517-26l15-15 11-8-14 4zm-14 11l14-11 12-19-15 15zm-14 1l14-1 11-15-14 13zm-631-61l14 15 11-14-14-8zm-15-4l15 4 11-7-14-9zm-14-13l14 13 12-12-15-8zm-100-7l14-14 11-24-14 18zm-15 18l15-18 11-20-14 5z"/>
<path fill="#448" d="M5780 3954l15 21 11 9-14-18zm-14-19l14 19 12 12-15-23zm-14-16l14 16 11 8-14-22zm-416-7l14-16 12-16-15 3zm-15 8l15-8 11-29-14 14zm-14 9l14-9 12-23-15 6zm-14 5l14-5 11-26-14 23z"/>
<path fill="#558" d="M5737 3903l15 16 11 2-14-15zm-14-15l14 15 12 3-15-10zm-14-22l14 22 11 8-14-33zm-316-8l14-7 12-8-14 2zm-14 16l14-16 12-13-15 12zm-15 3l15-3 11-17-14 10zm-14 19l14-19 12-10-14 13z"/>
<path fill="#668" d="M5694 3846l15 20 11-3-14-15zm-14-20l14 20 12 2-15-22zm-14 0l14 0 11 0-14 3zm-15-25l15 25 11 3-14-20zm-172 18l15-9 11-14-14 6zm-28 8l14-11 11-18-14 9zm-15 14l15-14 11-20-14 16zm-29 10l15-5 11-22-14 19z"/>
<path fill="#778" d="M5637 3793l14 8 12 8-15-7zm-14 1l14-1 11 9-14-6zm-15 3l15-3 11 2-14-2zm-14 1l14-1 12-3-15-4zm-14 0l14 0 11-8-14-6zm-15-4l15 4 11-14-14 3zm-14 5l14-5 12-7-15-1zm-14 6l14-6 11-13-14 3zm-15-3l15 3 11-16-14 2zm-14-1l14 1 12-11-15 0zm-14 9l14-9 11-10-14 5z"/>
<path fill="#889" d="M5465 3816l14 3 12-17-15-4z"/>
<path fill="#779" d="M5422 3846l14-5 12-18-15 1z"/>
<path fill="#119" d="M4877 4014l14-2 12-6-15-10z"/>
<path fill="#229" d="M4805 3985l15 5 11-6-14-13zm-14-3l14 3 12-14-15-5zm-29-20l14 0 12-2-14-15zm-14-4l14 4 12-17-15-1z"/>
<path fill="#339" d="M4705 3934l14 16 12-21-15-6zm-15-4l15 4 11-11-14-8zm-28-8l14 6 11-7-14-12zm-29-7l14 4 12-20-15 2z"/>
<path fill="#44b" d="M4647 3919l15 3 11-13-14-10z"/>
<path fill="#55b" d="M4576 3879l14 4 11-7-14-15zm-43-12l14 7 11-18-14-12z"/>
<path fill="#449" d="M4561 3872l15 7 11-18-14-2zm-14 2l14-2 12-13-15-3zm-29-18l15 11 11-23-14-1zm-14 6l14-6 12-13-15-5z"/>
<path fill="#226" d="M4461 3915l14-21 12-33-15 20z"/>
<path fill="#116" d="M4447 3948l14-33 11-34-14 37z"/>
<path fill="#114" d="M4432 3964l15-16 11-30-14 13z"/>
<path fill="#004" d="M4418 4078l14-114 12-33-15 137zm-14 84l14-84 11-10-14 67zm-15 74l15-74 11-27-14 58zm-14 36l14-36 12-43-15 25z"/>
<path fill="#00b" d="M6199 4297l15 12 11-29-14-2zm-28-16l14 8 11-15-14-15z"/>
<path fill="#009" d="M6185 4289l14 8 12-19-15-4zm-29-26l15 18 11-22-14-9z"/>
<path fill="#008" d="M6142 4249l14 14 12-13-15-1zm-15 3l15-3 11 0-14-8zm-14-11l14 11 12-11-14-9zm-14-13l14 13 12-9-15-5zm-15-2l15 2 11-1-14-7zm-14-5l14 5 12-6-14 14zm-14 1l14-1 12 13-15-8zm-15-1l15 1 11 4-14-6zm-14-23l14 23 12-1-15-4zm-14-1l14 1 11 18-14-6zm-15-8l15 8 11 13-14-13zm-14-11l14 11 12 8-15-9z"/>
<path fill="#118" d="M5970 4169l14 9 11 10-14-10zm-15-12l15 12 11 9-14-3zm-14-22l14 22 12 18-15-13zm-14-14l14 14 11 27-14-17zm-15-19l15 19 11 24-14-10zm-14-5l14 5 12 33-15-17zm-14-13l14 13 11 21-14-15zm-760-50l14-4 11-16-14 11zm-15 4l15-4 11-9-14 10zm-14 1l14-1 12-3-15 5zm-14 7l14-7 11 1-14-1zm-15-4l15 4 11-7-14 1zm-14 5l14-5 12-2-15 3zm-14-4l14 4 11-4-14-1zm-15-1l15 1 11-1-14-5zm-14 3l14-3 12-5-15 7zm-14 3l14-3 11-1-14-5zm-15-3l15 3 11-9-14 5zm-14 0l14 0 12-1-15-10zm-14-7l14 7 11-11-14 4zm-15 1l15-1 11 0-14-11zm-14-6l14 6 12-12-15 2zm-15 0l15 0 11-4-14-10zm-14-4l14 4 12-14-14 2zm-14-11l14 11 12-8-15-9zm-15 5l15-5 11-6-14 2zm-14-13l14 13 12-9-14-13zm-14-4l14 4 12-9-15-6zm-15 2l15-2 11-11-14-2zm-14-13l14 13 12-15-14-3z"/>
<path fill="#228" d="M5869 4063l15 21 11 19-14-12zm-14-10l14 10 12 28-15-19zm-14-14l14 14 11 19-14-18zm-617-47l14-6 12-25-15 22zm-14 6l14-6 11-9-14 0zm-15 2l15-2 11-15-14 11zm-14 9l14-9 12-6-15-4zm-14 1l14-1 11-19-14 12zm-15 10l15-10 11-8-14 4zm-14 10l14-10 12-14-15 8zm-344-47l14 12 12-5-15-5zm-15-4l15 4 11 2-14-3zm-28-12l14 13 11-18-14 0zm-15-4l15 4 11-5-14-4zm-28-6l14 6 11-19-14 6zm-43-21l14 11 11-17-14-2zm-15-3l15 3 11-8-14-6zm-14-11l14 11 12-11-15-3z"/>
<path fill="#338" d="M5826 4024l15 15 11 15-14-19zm-14-22l14 22 12 11-15-15zm-14-13l14 13 11 18-14-26zm-517-35l15-9 11-16-14 5zm-14 9l14-9 12-20-15 15zm-14 18l14-18 11-14-14 11zm-631-57l14-2 11-3-14-4zm-29-20l14 10 12-14-15-4zm-43-25l14 15 12-15-15-7zm-14-2l14 2 11-7-14 2zm-15-2l15 2 11-3-14-7zm-43 20l15-13 11-20-14 14zm-14 18l14-18 12-19-15 18z"/>
<path fill="#448" d="M5783 3963l15 26 11 5-14-19zm-14-19l14 19 12 12-15-21zm-445-18l15-19 11-11-14 16zm-14 5l14-5 12-14-15 8zm-14 14l14-14 11-11-14 9z"/>
<path fill="#558" d="M5755 3931l14 13 11 10-14-19zm-15-28l15 28 11 4-14-16zm-14-8l14 8 12 16-15-16zm-344-7l14-14 11-23-14 7zm-15 5l15-5 11-30-14 16zm-14 16l14-16 12-19-15 3zm-14-2l14 2 11-32-14 19z"/>
<path fill="#668" d="M5712 3869l14 26 11 8-14-15zm-15-7l15 7 11 19-14-22zm-14-21l14 21 12 4-15-20zm-215-7l14-10 12-14-15 9zm-29 10l14-9 12-19-14 11zm-14 15l14-15 12-17-15 14zm-15 0l15 0 11-18-14 5zm-14 15l14-15 12-13-15 5z"/>
<path fill="#778" d="M5669 3818l14 23 11 5-14-20zm-15 5l15-5 11 8-14 0zm-14-24l14 24 12 3-15-25zm-14-16l14 16 11 2-14-8zm-15 11l15-11 11 10-14 1zm-14-2l14 2 12 0-15 3zm-14 11l14-11 11 5-14 1zm-15-2l15 2 11-5-14 0zm-14 0l14 0 12-3-15-4zm-14 1l14-1 11-7-14 5zm-15 6l15-6 11-3-14 6zm-14 2l14-2 12-3-15-3zm-15 3l15-3 11-8-14-1zm-14 11l14-11 12-12-14 9z"/>
<path fill="#889" d="M5453 3835l15-1 11-15-14-3z"/>
<path fill="#339" d="M5238 3986l15-5 11-21-14 1zm-545-40l15 11 11-7-14-16zm-14 1l14-1 12-12-15-4zm-72-33l15 10 11-9-14-15z"/>
<path fill="#229" d="M4765 3980l14-1 12 3-15-20zm-43-17l14 0 12-5-15-14z"/>
<path fill="#449" d="M4579 3900l14 4 11-8-14-13zm-15-6l15 6 11-17-14-4zm-57-9l14-10 12-8-15-11z"/>
<path fill="#55b" d="M4493 3882l14 3 11-29-14 6z"/>
<path fill="#226" d="M4450 3933l14-20 11-19-14 21z"/>
<path fill="#116" d="M4435 3979l15-46 11-18-14 33z"/>
<path fill="#114" d="M4421 4028l14-49 12-31-15 16z"/>
<path fill="#004" d="M4407 4101l14-73 11-64-14 114zm-15 112l15-112 11-23-14 84zm-14 77l14-77 12-51-15 74z"/>
<path fill="#006" d="M4364 4289l14 1 11-54-14 36z"/>
<path fill="#009" d="M6188 4316l14 1 12-8-15-12zm-15-12l15 12 11-19-14-8zm-14-9l14 9 12-15-14-8zm-14-16l14 16 12-14-15-18z"/>
<path fill="#00b" d="M6130 4268l15 11 11-16-14-14z"/>
<path fill="#008" d="M6116 4257l14 11 12-19-15 3zm-14-20l14 20 11-5-14-11zm-15-6l15 6 11 4-14-13zm-14-3l14 3 12-3-15-2zm-14-15l14 15 11-2-14-5zm-15 9l15-9 11 8-14 1zm-14-8l14 8 12 0-15-1zm-14-12l14 12 11 7-14-23zm-1650 21l15-12 11 2-14 77z"/>
<path fill="#118" d="M6001 4189l15 13 11-4-14-1zm-14-12l14 12 12 8-15-8zm-14-19l14 19 11 12-14-11zm-15-13l15 13 11 20-14-9zm-14-8l14 8 12 24-15-12zm-14-10l14 10 11 20-14-22zm-15-18l15 18 11 8-14-14zm-817-64l14 2 12-13-15 4zm-14 6l14-6 11-7-14 1zm-15-2l15 2 11-12-14 7zm-14 2l14-2 12-3-15-4zm-14 3l14-3 11-9-14 5zm-15 3l15-3 11-7-14-4zm-14 0l14 0 12-14-15-1zm-15 1l15-1 11-15-14 3zm-14 2l14-2 12-13-14 3zm-14-3l14 3 12-12-15-3zm-15-3l15 3 11-12-14 0zm-14-8l14 8 12-9-14-7zm-14 2l14-2 12-8-15 1zm-15 0l15 0 11-9-14-6zm-14-7l14 7 12-15-15 0zm-14-2l14 2 11-8-14-4zm-29-9l14 5 12-17-15 5zm-14-10l14 10 11-7-14-13zm-15-1l15 1 11-10-14-4zm-14-3l14 3 12-13-15 2z"/>
<path fill="#228" d="M5901 4094l14 15 12 12-15-19zm-14-16l14 16 11 8-14-5zm-15-9l15 9 11 19-14-13zm-14-18l14 18 12 15-15-21zm-645-45l14-4 11-16-14 6zm-15 1l15-1 11-14-14 6zm-14 9l14-9 12-9-15 2zm-14 4l14-4 11-16-14 9zm-15 7l15-7 11-11-14 1zm-14-4l14 4 12-17-15 10zm-14 6l14-6 11-3-14 10zm-15 18l15-18 11 1-14 4zm-358-57l14 9 11-20-14 1zm-29-11l14-1 12-11-15-4zm-14-8l14 8 11-16-14 0zm-15-3l15 3 11-8-14-6zm-28-15l14 7 11-14-14 1zm-29-8l14 5 12-14-15-3z"/>
<path fill="#338" d="M5844 4039l14 12 11 12-14-10zm-15-14l15 14 11 14-14-14zm-14-21l14 21 12 14-15-15zm-545-35l14-4 12-20-15 9zm-14 15l14-15 11-15-14 9zm-15 1l15-1 11-21-14 18zm-14 17l14-17 12-4-15 5zm-617-70l15 2 11-12-14 2zm-43-21l15 4 11-11-14-4zm-14-8l14 8 12-11-15-6zm-43-6l14-8 12-12-15-2zm-14-10l14 10 11-22-14 10zm-15 12l15-12 11-2-14-3zm-14 13l14-13 12-17-15 13zm-14 20l14-20 11-17-14 18z"/>
<path fill="#448" d="M5801 3991l14 13 11 20-14-22zm-15-14l15 14 11 11-14-13zm-14-19l14 19 12 12-15-26zm-459-22l14-10 12-19-15 19zm-14 18l14-18 11-10-14 5zm-15 11l15-11 11-23-14 14z"/>
<path fill="#558" d="M5758 3944l14 14 11 5-14-19zm-15-24l15 24 11 0-14-13zm-14-16l14 16 12 11-15-28zm-344-10l14-5 11-30-14 15zm-15 8l15-8 11-20-14 14zm-14 13l14-13 12-14-15 5zm-14 9l14-9 11-22-14 16z"/>
<path fill="#668" d="M5715 3890l14 14 11-1-14-8zm-15-20l15 20 11 5-14-26zm-14-13l14 13 12-1-15-7zm-230-3l15-14 11-16-14 10zm-28 17l14-19 11-17-14 9zm-15 1l15-1 11-27-14 15zm-14 17l14-17 12-13-15 0z"/>
<path fill="#778" d="M5672 3841l14 16 11 5-14-21zm-15-24l15 24 11 0-14-23zm-14 6l14-6 12 1-15 5zm-15-30l15 30 11 0-14-24zm-14 0l14 0 12 6-14-16zm-14 4l14-4 12-10-15 11zm-15 2l15-2 11-3-14-2zm-14 10l14-10 12-7-14 11zm-14-2l14 2 12-6-15-2zm-15 2l15-2 11-6-14 0zm-14 1l14-1 12-8-14 1zm-14 7l14-7 12-8-15 6zm-15 9l15-9 11-9-14 2zm-14 9l14-9 12-16-15 3zm-14 5l14-5 11-22-14 11z"/>
<path fill="#889" d="M5442 3852l14 2 12-20-15 1z"/>
<path fill="#669" d="M5327 3926l15-2 11-15-14-2z"/>
<path fill="#229" d="M4868 4035l15 4 11-10-14-11zm-71-24l14 5 11-8-14-13zm-15-13l15 13 11-16-14-12zm-14 1l14-1 12-15-15-4zm-29-21l15 12 11-10-14-13z"/>
<path fill="#339" d="M4682 3960l14 8 12-11-15-11zm-29-10l15 3 11-6-14-11zm-28-16l14 11 11-12-14-11zm-29-6l14 4 12-8-15-10z"/>
<path fill="#449" d="M4582 3915l14 13 11-14-14-10zm-58-26l15 9 11-19-14-2z"/>
<path fill="#55b" d="M4539 3898l14 5 11-9-14-15z"/>
<path fill="#226" d="M4438 3960l15-28 11-19-14 20z"/>
<path fill="#116" d="M4424 3977l14-17 12-27-15 46z"/>
<path fill="#004" d="M4410 4057l14-80 11 2-14 49zm-15 51l15-51 11-29-14 73zm-14 103l14-103 12-7-15 112zm-29 94l14-82 12 67-14-1z"/>
<path fill="#009" d="M6176 4330l15 12 11-25-14-1zm-28-25l14 16 11-17-14-9zm-29-23l14 18 12-21-15-11z"/>
<path fill="#00b" d="M6162 4321l14 9 12-14-15-12zm-29-21l15 5 11-10-14-16z"/>
<path fill="#008" d="M6105 4259l14 23 11-14-14-11zm-15-19l15 19 11-2-14-20zm-14-11l14 11 12-3-15-6zm-14-2l14 2 11 2-14-3zm-15-7l15 7 11 1-14-15z"/>
<path fill="#118" d="M6033 4214l14 6 12-7-15 9zm-14-3l14 3 11 8-14-8zm-15-18l15 18 11 3-14-12zm-14-14l14 14 12 9-15-13zm-14-9l14 9 11 10-14-12zm-15-19l15 19 11 7-14-19zm-14-13l14 13 12 7-15-13zm-14-16l14 16 11 7-14-8zm-875-59l14-12 12 0-15-2zm-15-5l15 5 11-14-14 2zm-14 0l14 0 12-7-14 3zm-14 3l14-3 12-4-15 3zm-15-4l15 4 11-4-14 0zm-14 11l14-11 12 0-15 1zm-14-6l14 6 11-10-14 2zm-15 8l15-8 11-2-14-3zm-14-11l14 11 12-13-15-3zm-14-1l14 1 11-5-14-8zm-15 6l15-6 11-12-14 2zm-14-12l14 12 12-16-15 0zm-14 0l14 0 11-4-14-7zm-15-9l15 9 11-11-14-2zm-14 0l14 0 12-4-15-4zm-14-10l14 10 11-8-14-5zm-15-2l15 2 11-3-14-10z"/>
<path fill="#228" d="M5918 4101l15 21 11 15-14-10zm-14-7l14 7 12 26-15-18zm-14-17l14 17 11 15-14-15zm-15-11l15 11 11 17-14-16zm-688-41l14-11 12-8-15 1zm-14-1l14 1 11-18-14 9zm-15 13l15-13 11-8-14 4zm-14 4l14-4 12-17-15 7zm-29 4l15-4 11-18-14 6zm-14 10l14-10 12-16-15 18zm-15-5l15 5 11-8-14-2zm-14 1l14-1 12-5-14 6zm-258-27l14 7 12-11-15-1zm-14 2l14-2 11-5-14-3zm-15-17l15 17 11-10-14-5zm-14 0l14 0 12 2-15-13zm-14-4l14 4 11-11-14 1zm-15-7l15 7 11-6-14-9zm-28-12l14 7 11-15-14 1zm-15-10l15 10 11-7-14-8zm-14 0l14 0 12-5-15-3zm-14-8l14 8 11-8-14-8zm-15-4l15 4 11-8-14-7zm-14-2l14 2 12-11-15-3z"/>
<path fill="#338" d="M5861 4047l14 19 12 12-15-9zm-14 0l14 0 11 22-14-18zm-15-16l15 16 11 4-14-12zm-573-48l14 0 11-18-14 4zm-15 15l15-15 11-14-14 15zm-14 3l14-3 12-14-15 1zm-14 2l14-2 11-16-14 17zm-15 11l15-11 11-1-14 4zm-573-58l14 6 11-12-14-5zm-43-24l14 11 11-11-14-4zm-15-5l15 5 11-4-14-13zm-14-9l14 9 12-12-15-4zm-14-10l14 10 11-7-14-8zm-15-3l15 3 11-5-14-5zm-57 14l14-18 12-14-15 12zm-15 2l15-2 11-20-14 13zm-14 23l14-23 12-9-14 20z"/>
<path fill="#448" d="M5818 4008l14 23 12 8-15-14zm-14-17l14 17 11 17-14-21zm-15-15l15 15 11 13-14-13zm-473-24l14-12 12-16-15 2zm-14-6l14 6 11-26-14 10zm-15 26l15-26 11-10-14 18zm-14 11l14-11 12-18-15 11zm-760-80l14 2 12-7-15-9zm-15-3l15 3 11-14-14 8zm-14 1l14-1 12-3-14-10z"/>
<path fill="#558" d="M5775 3968l14 8 12 15-15-14zm-14-18l14 18 11 9-14-19zm-15-25l15 25 11 8-14-14zm-387-4l14-12 12-15-15 8zm-14 14l14-14 11-19-14 13zm-15 5l15-5 11-20-14 9z"/>
<path fill="#668" d="M5732 3916l14 9 12 19-15-24zm-15-14l15 14 11 4-14-16zm-14-18l14 18 12 2-14-14zm-14-18l14 18 12 6-15-20zm-244 1l14-8 12-19-15 14zm-14 0l14 0 11-13-14-2zm-15 10l15-10 11-15-14 19zm-14 15l14-15 12-6-15 1zm-14 18l14-18 11-20-14 17z"/>
<path fill="#778" d="M5674 3860l15 6 11 4-14-13zm-14-14l14 14 12-3-14-16zm-29-17l15 0 11-12-14 6zm-28-26l14 3 11-13-14 0zm-15 9l15-9 11-10-14 4zm-14-3l14 3 12-15-15 2zm-14 1l14-1 11-10-14 10zm-15 11l15-11 11-1-14-2zm-14-8l14 8 12-14-15 2zm-14 12l14-12 11-4-14 1zm-15 7l15-7 11-15-14 7zm-14 5l14-5 12-15-15 9zm-14 4l14-4 11-11-14 9zm-15 18l15-18 11-6-14 5z"/>
<path fill="#999" d="M5646 3829l14 17 12-5-15-24zm-29-23l14 23 12-6-15-30z"/>
<path fill="#779" d="M5373 3909l15 1 11-21-14 5z"/>
<path fill="#229" d="M5130 4041l14 0 11-14-14-4z"/>
<path fill="#339" d="M4728 3993l14 5 12-8-15-12zm-129-50l14 9 12-18-15-2z"/>
<path fill="#44b" d="M4613 3952l15 4 11-11-14-11z"/>
<path fill="#226" d="M4427 3970l14-26 12-12-15 28z"/>
<path fill="#116" d="M4412 4010l15-40 11-10-14 17z"/>
<path fill="#004" d="M4398 4049l14-39 12-33-14 80zm-14 74l14-74 12 8-15 51zm-15 104l15-104 11-15-14 103zm-14 49l14-49 12-16-15 12zm-14 45l14-45 11-53-14 82z"/>
<path fill="#008" d="M6165 4334l14 5 12 3-15-12zm-14-19l14 19 11-4-14-9zm-15-8l15 8 11 6-14-16zm-14-6l14 6 12-2-15-5zm-14-27l14 27 11-1-14-18zm-15-12l15 12 11 8-14-23zm-14-15l14 15 12-3-15-19z"/>
<path fill="#118" d="M6065 4230l14 17 11-7-14-11zm-15-17l15 17 11-1-14-2zm-14-8l14 8 12 14-15-7zm-14-7l14 7 11 15-14-6zm-15-1l15 1 11 16-14-3zm-14-15l14 15 12 14-15-18zm-14-11l14 11 11 11-14-14zm-15-18l15 18 11 8-14-9zm-14-9l14 9 12 17-15-19zm-918-65l14-13 12-3-15-5zm-14-14l14 14 11-21-14 0zm-15 2l15-2 11-7-14 3zm-14 2l14-2 12-6-15-4zm-14 0l14 0 11-12-14 11zm-15-2l15 2 11-1-14-6zm-14 1l14-1 12-5-15 8zm-14 3l14-3 11 2-14-11zm-15-17l15 17 11-12-14-1zm-14 14l14-14 12 4-15 6zm-14-11l14 11 11-4-14-12zm-15-1l15 1 11-5-14 0zm-14-1l14 1 12-4-15-9zm-14-7l14 7 11-12-14 0z"/>
<path fill="#228" d="M5936 4127l14 17 11 7-14-13zm-15-23l15 23 11 11-14-16zm-14-14l14 14 12 18-15-21zm-732-49l15-5 11-22-14 11zm-14 9l14-9 12-16-14-1zm-14-8l14 8 12-26-15 13zm-15 11l15-11 11-5-14 4zm-14 0l14 0 12-12-14 0zm-14 5l14-5 12-12-15 4zm-15 3l15-3 11-13-14 10zm-14 6l14-6 12-6-15-5zm-29-1l15 2 11-17-14 12zm-215-25l15 7 11-5-14-10zm-14-4l14 4 12-8-15-2zm-14-4l14 4 11-6-14-7zm-15 1l15-1 11-9-14 2zm-28-17l14 10 11-18-14 0zm-15-11l15 11 11-8-14-4zm-14-1l14 1 12-1-15-7zm-14-2l14 2 11-7-14-5zm-15-16l15 16 11-10-14-7zm-14 10l14-10 12-1-15-10zm-14-13l14 13 11-21-14 0z"/>
<path fill="#338" d="M5893 4082l14 8 11 11-14-7zm-15-6l15 6 11 12-14-17zm-14-27l14 27 12 1-15-11zm-14-14l14 14 11 17-14-19zm-603-27l15-16 11-9-14 0zm-14 2l14-2 12-25-15 15zm-15 11l15-11 11-12-14 3zm-28 15l14-12 12-21-15 11zm-545-62l14 12 12-18-15-4zm-14-6l14 6 11-10-14-2zm-15-5l15 5 11-6-14-6zm-14-6l14 6 12-7-15-4zm-15-6l15 6 11-5-14-9zm-28-12l14 4 12-11-15-5zm-15-12l15 12 11-12-14-9zm-86-11l15 0 11-15-14 18zm-14 14l14-14 12 3-15 2zm-14 19l14-19 11-9-14 23z"/>
<path fill="#448" d="M5835 4026l15 9 11 12-14 0zm-14-13l14 13 12 21-15-16zm-15-8l15 8 11 18-14-23zm-501-30l14-11 11-24-14 12zm-29 9l14-6 12-32-15 26zm-14 8l14-8 11-12-14 11zm-746-76l14 3 12-11-15-3zm-15-6l15 6 11-11-14-2zm-14 7l14-7 12-7-15-3z"/>
<path fill="#558" d="M5792 3984l14 21 12 3-14-17zm-14-20l14 20 12 7-15-15zm-15-6l15 6 11 12-14-8zm-14-13l14 13 12 10-14-18zm-387-19l14-3 12-13-15-1zm-14 8l14-8 11-17-14 12zm-15 22l15-22 11-13-14 14zm-14 8l14-8 12-21-15 5z"/>
<path fill="#668" d="M5735 3925l14 20 12 5-15-25zm-15-14l15 14 11 0-14-9zm-14-10l14 10 12 5-15-14zm-14-20l14 20 11 1-14-18zm-258-1l14-14 11-7-14 8zm-15 15l15-15 11-13-14 0zm-28 6l14-3 11-21-14 15zm-15 22l15-22 11-9-14 18z"/>
<path fill="#778" d="M5677 3871l15 10 11 3-14-18zm-14-9l14 9 12-5-15-6zm-14-14l14 14 11-2-14-14zm-15-10l15 10 11-2-14-17zm-14-2l14 2 12-9-15 0zm-29-26l15 14 11-18-14-3zm-14 14l14-14 12-7-15 9zm-14-1l14 1 11-12-14-3zm-15 1l15-1 11-14-14 1zm-14 4l14-4 12-14-15 11zm-14 5l14-5 11-7-14-8zm-15 6l15-6 11-20-14 12zm-14-2l14 2 12-14-15 7zm-14 15l14-15 11-5-14 5zm-15 5l15-5 11-15-14 4zm-14 9l14-9 12-16-15 18z"/>
<path fill="#bbb" d="M5606 3824l14 12 11-7-14-23z"/>
<path fill="#889" d="M5405 3898l14-3 12-28-15 10z"/>
<path fill="#66b" d="M5290 3978l15-3 11-23-14-6z"/>
<path fill="#449" d="M5204 4024l14-3 12-20-14 2zm-631-81l14 8 12-8-14-11zm-43-24l14 8 12-9-14-10zm-57-3l14 1 11-17-14 1z"/>
<path fill="#229" d="M5061 4068l14-1 11-17-14 1z"/>
<path fill="#33b" d="M4774 4027l14 7 12-8-15-17z"/>
<path fill="#339" d="M4659 3986l15-2 11-8-14-8z"/>
<path fill="#226" d="M4415 3969l15-20 11-5-14 26z"/>
<path fill="#116" d="M4401 4012l14-43 12 1-15 40z"/>
<path fill="#004" d="M4387 4058l14-46 11-2-14 39zm-29 211l14-185 12 39-15 104zm-14 47l14-47 11-42-14 49zm-15 14l15-14 11-40-14 45z"/>
<path fill="#006" d="M4372 4084l15-26 11-9-14 74z"/>
<path fill="#008" d="M6154 4324l14-1 11 16-14-5zm-15-21l15 21 11 10-14-19zm-14-11l14 11 12 12-15-8zm-14-8l14 8 11 15-14-6zm-15-8l15 8 11 17-14-27zm-14-23l14 23 12-2-15-12z"/>
<path fill="#118" d="M6068 4238l14 15 11 9-14-15zm-15-22l15 22 11 9-14-17zm-14-10l14 10 12 14-15-17zm-14-12l14 12 11 7-14-8zm-15-7l15 7 11 11-14-7zm-14-8l14 8 12 11-15-1zm-14-5l14 5 11 18-14-15zm-1033-99l14 5 12-11-15-2zm-14 6l14-6 11-8-14 1zm-15-11l15 11 11-13-14 3zm-43 1l15 2 11-5-14-11z"/>
<path fill="#228" d="M5967 4153l15 21 11 8-14-11zm-14-15l14 15 12 18-15-18zm-15-14l15 14 11 15-14-9zm-14-12l14 12 12 20-14-17zm-760-61l14-9 12-6-15 5zm-14-2l14 2 11-10-14 9zm-15 7l15-7 11 1-14-8zm-14 10l14-10 12-14-15 11zm-14 5l14-5 11-13-14 0zm-15-3l15 3 11-18-14 5zm-14 4l14-4 12-10-15 3zm-14 4l14-4 11-11-14 6zm-15 7l15-7 11-9-14 1zm-14-9l14 9 12-15-15-2zm-14 3l14-3 11-8-14 13zm-15 7l15-7 11 2-14-14zm-28-9l14 6 11-14-14 2zm-15 5l15-5 11-6-14 0zm-71-7l14-2 11-17-14 14zm-29-5l14 3 12-14-15-1zm-14-8l14 8 11-12-14-1zm-15 1l15-1 11-5-14-7zm-43-21l15 10 11-13-14-4zm-14-8l14 8 12-7-15 1zm-14-1l14 1 11 2-14-7zm-15-8l15 8 11-4-14-10zm-28-10l14 6 11-13-14-1zm-15 0l15 0 11-8-14-2zm-29-14l15 6 11-18-14 10zm-14-1l14 1 12-2-14-13z"/>
<path fill="#338" d="M5910 4094l14 18 12 15-15-23zm-15-15l15 15 11 10-14-14zm-14-14l14 14 12 11-14-8zm-14-14l14 14 12 17-15-6zm-631-27l14-7 12-25-15 16zm-15 7l15-7 11-16-14 2zm-14 3l14-3 12-21-15 11zm-14 6l14-6 11-13-14 3zm-15 2l15-2 11-16-14 12zm-530-49l14 5 12-14-15 2zm-29-15l14 9 12-13-14-6zm-14-2l14 2 12-10-15-5zm-15-13l15 13 11-13-14-6zm-14-3l14 3 12-6-15-6zm-14-6l14 6 11-9-14-8zm-15-8l15 8 11-11-14-4zm-114-11l14-7 11-12-14 14zm-15 10l15-10 11-5-14 19z"/>
<path fill="#448" d="M5852 4043l15 8 11 25-14-27zm-14-15l14 15 12 6-14-14zm-14-15l14 15 12 7-15-9zm-531-26l14-11 12-12-14 11zm-14 5l14-5 12-12-15 3zm-15 14l15-14 11-14-14 6zm-14 11l14-11 12-22-14 8zm-760-100l14 12 12-13-15-6zm-14-1l14 1 11-7-14 7zm-15 0l15 0 11 1-14-1zm-14 12l14-12 12 0-15 0z"/>
<path fill="#558" d="M5809 4004l15 9 11 13-14-13zm-14-12l14 12 12 9-15-8zm-14-16l14 16 11 13-14-21zm-15-16l15 16 11 8-14-20zm-415-2l14-17 11-18-14 3zm-29 12l14-16 12-20-15 22zm-15 6l15-6 11-14-14 8z"/>
<path fill="#668" d="M5752 3947l14 13 12 4-15-6zm-14-13l14 13 11 11-14-13zm-15-14l15 14 11 11-14-20zm-14-17l14 17 12 5-15-14zm-287-3l15-10 11-24-14 14zm-14 1l14-1 12-20-15 15zm-14 20l14-20 11-6-14 3zm-29 20l14-15 12-25-15 22z"/>
<path fill="#778" d="M5695 3892l14 11 11 8-14-10zm-15-8l15 8 11 9-14-20zm-14-7l14 7 12-3-15-10zm-14-17l14 17 11-6-14-9zm-15-4l15 4 11 2-14-14zm-28-9l14 3 11-12-14-2zm-15-16l15 16 11-11-14-12zm-28 4l14-9 11-16-14 14zm-15-4l15 4 11-11-14-1zm-14 10l14-10 12-8-15 1zm-14-2l14 2 11-17-14 4zm-15 14l15-14 11-11-14 5zm-14 0l14 0 12-20-15 6zm-29 16l15-10 11-22-14 15zm-14 3l14-3 12-17-15 5zm-14 18l14-18 11-15-14 9z"/>
<path fill="#999" d="M5623 3850l14 6 12-8-15-10zm-143 9l14-6 11-14-14-2z"/>
<path fill="#bbb" d="M5580 3826l14 5 12-7-15-14z"/>
<path fill="#779" d="M5379 3926l15-5 11-23-14 3z"/>
<path fill="#88b" d="M5336 3954l15 4 11-32-14 8z"/>
<path fill="#229" d="M4992 4081l14 3 12-19-15 2zm-86-10l14-1 12 1-15-17zm-86-15l14 5 12-13-15-7zm-14-6l14 6 11-15-14-4z"/>
<path fill="#339" d="M4734 4019l14 4 12-6-15-11zm-101-32l15 6 11-7-14-12z"/>
<path fill="#44b" d="M4691 4005l14 8 12-10-15-16z"/>
<path fill="#449" d="M4533 3939l14 7 12-7-15-12z"/>
<path fill="#559" d="M4519 3935l14 4 11-12-14-8zm-15-6l15 6 11-16-14-3z"/>
<path fill="#226" d="M4404 3972l14-27 12 4-15 20zm-14 27l14-27 11-3-14 43z"/>
<path fill="#116" d="M4375 4045l15-46 11 13-14 46zm-14 11l14-11 12 13-15 26z"/>
<path fill="#004" d="M4347 4211l14-155 11 28-14 185zm-29 142l14-70 12 33-15 14z"/>
<path fill="#006" d="M4332 4283l15-72 11 58-14 47z"/>
<path fill="#008" d="M6142 4305l15 4 11 14-14 1zm-14-8l14 8 12 19-15-21zm-14-26l14 26 11 6-14-11zm-15-3l15 3 11 21-14-8z"/>
<path fill="#118" d="M6085 4250l14 18 12 16-15-8zm-14-24l14 24 11 26-14-23zm-15-9l15 9 11 27-14-15zm-14-7l14 7 12 21-15-22zm-15-28l15 28 11 6-14-10z"/>
<path fill="#228" d="M6013 4185l14-3 12 24-14-12zm-14-11l14 11 12 9-15-7zm-15-6l15 6 11 13-14-8zm-14-16l14 16 12 11-14-5zm-14-6l14 6 12 22-15-21zm-15-17l15 17 11 7-14-15zm-817-56l14-2 12-22-15 7zm-14 5l14-5 11-17-14 10zm-15-1l15 1 11-12-14 5zm-14 4l14-4 12-6-15-3zm-14 3l14-3 11-13-14 4zm-15 3l15-3 11-12-14 4zm-14-2l14 2 12-11-15 7zm-14 2l14-2 11-2-14-9zm-15 4l15-4 11-13-14 3zm-14-2l14 2 12-14-15 7zm-14 3l14-3 11-5-14-3zm-15-6l15 6 11-11-14-6zm-14 7l14-7 12-11-15 5zm-29 2l15-3 11-17-14 6zm-28-12l14 1 11-14-14 1zm-15-4l15 4 11-12-14 2zm-14-5l14 5 12-6-15-2zm-14-1l14 1 11-3-14-3zm-15-7l15 7 11-5-14-8zm-14-1l14 1 12-6-15 1zm-15-4l15 4 11-4-14-5zm-14-9l14 9 12-5-14-6zm-14-6l14 6 12-2-15-10zm-15-6l15 6 11-6-14-8zm-14-5l14 5 12-8-14-1zm-14-2l14 2 12-4-15-8zm-15-4l15 4 11-10-14-4zm-14-5l14 5 12-10-14-6zm-14-4l14 4 12-11-15 0zm-15-2l15 2 11-7-14-8z"/>
<path fill="#338" d="M5927 4107l14 22 12 9-15-14zm-14-16l14 16 11 17-14-12zm-15-10l15 10 11 21-14-18zm-674-37l15-13 11-14-14 7zm-14-2l14 2 12-20-15 7zm-14 13l14-13 11-11-14 3zm-15 0l15 0 11-21-14 6zm-14 5l14-5 12-15-15 2zm-14 9l14-9 11-18-14 9zm-502-62l14 10 11-18-14-1zm-15-5l15 5 11-9-14-5zm-14-2l14 2 12-9-15-6zm-29-23l15 19 11-18-14-2zm-14-5l14 5 12-1-15-13zm-14-4l14 4 11-9-14-3zm-15-7l15 7 11-8-14-6zm-14-6l14 6 12-7-15-8zm-129-6l14-13 12-1-15 10zm-14 11l14-11 11-4-14 27zm-15 7l15-7 11 12-14 27z"/>
<path fill="#448" d="M5884 4072l14 9 12 13-15-15zm-14-11l14 11 11 7-14-14zm-15-14l15 14 11 4-14-14zm-14-13l14 13 12 4-15-8zm-545-31l14-16 12-17-15 6zm-29 18l15-15 11-19-14 5zm-14 3l14-3 12-29-15 14zm-14 7l14-7 11-18-14 11zm-717-85l14 9 11-9-14-7zm-15-9l15 9 11-7-14-4zm-14-9l14 9 12-2-15-6zm-14 3l14-3 11 1-14-12zm-15-4l15 4 11-14-14-1zm-14-3l14 3 12-11-15 0zm-14-3l14 3 11-8-14 12zm-15 15l15-15 11 7-14 7z"/>
<path fill="#558" d="M5827 4016l14 18 11 9-14-15zm-15-16l15 16 11 12-14-15zm-14-3l14 3 12 13-15-9zm-14-22l14 22 11 7-14-12zm-445-18l14-7 12-9-14 17zm-14 16l14-16 12 1-15-4zm-15 14l15-14 11-19-14 16z"/>
<path fill="#668" d="M5769 3970l15 5 11 17-14-16zm-14-21l14 21 12 6-15-16zm-14-11l14 11 11 11-14-13zm-15-11l15 11 11 9-14-13zm-14-9l14 9 12 7-15-14zm-301-1l14-21 12-6-15 10zm-15-2l15 2 11-17-14 1zm-14 18l14-18 12-14-14 20zm-14 15l14-15 12-12-15 5zm-15 2l15-2 11-22-14 15z"/>
<path fill="#778" d="M5698 3904l14 14 11 2-14-17zm-15-1l15 1 11-1-14-11zm-14-25l14 25 12-11-15-8zm-14-1l14 1 11 6-14-7zm-15-12l15 12 11 0-14-17zm-14-4l14 4 12-5-15-4zm-14 1l14-1 11-5-14-6zm-15-16l15 16 11-12-14-3zm-14-6l14 6 12 1-15-16zm-14 5l14-5 11-9-14-5zm-15 3l15-3 11-19-14 9zm-28 2l14-2 11-17-14 10zm-15 11l15-11 11-9-14-2zm-14-4l14 4 12-22-15 14zm-14 11l14-11 11-4-14 0zm-15 9l15-9 11-15-14 6zm-14 5l14-5 12-18-15 10zm-14 10l14-10 11-13-14 3zm-15 4l15-4 11-20-14 18z"/>
<path fill="#999" d="M5540 3848l14 0 12-13-15-4z"/>
<path fill="#559" d="M5282 4006l14-3 11-27-14 11z"/>
<path fill="#339" d="M5138 4071l15-2 11-18-14-2zm-473-54l14 1 12-13-15-6z"/>
<path fill="#229" d="M4938 4092l14 1 11-13-14-5zm-29-8l14 11 12-14-15-11z"/>
<path fill="#44b" d="M4608 3996l14 4 11-13-14-9z"/>
<path fill="#226" d="M4364 4009l14-42 12 32-15 46z"/>
<path fill="#114" d="M4350 4096l14-87 11 36-14 11z"/>
<path fill="#006" d="M4335 4173l15-77 11-40-14 155zm-28 146l14-28 11-8-14 70z"/>
<path fill="#004" d="M4321 4291l14-118 12 38-15 72z"/>
<path fill="#11b" d="M6131 4272l14 8 12 29-15-4zm-15-2l15 2 11 33-14-8z"/>
<path fill="#118" d="M6102 4248l14 22 12 27-14-26zm-14-18l14 18 12 23-15-3zm-29-19l14 13 12 26-14-24zm-14-7l14 7 12 15-15-9z"/>
<path fill="#119" d="M6073 4224l15 6 11 38-14-18z"/>
<path fill="#228" d="M6030 4193l15 11 11 13-14-7zm-14-18l14 18 12 17-15-28zm-14-9l14 9 11 7-14 3zm-15-14l15 14 11 19-14-11zm-860-71l14 0 12-12-15 2zm-14 13l14-13 11-10-14 2zm-15-9l15 9 11-21-14 5zm-14 8l14-8 12-7-15-1zm-14 5l14-5 11-16-14 4zm-15-8l15 8 11-17-14 3zm-14 12l14-12 12-6-15 3zm-43-1l14 2 12-16-15 4zm-14 0l14 0 11-10-14-2zm-15-5l15 5 11-12-14 3zm-14 7l14-7 12-4-15-6zm-14-9l14 9 11-17-14 7zm-15 5l15-5 11-1-14-1zm-14 0l14 0 12-7-15 3zm-15 3l15-3 11-4-14-11zm-14-9l14 9 12-18-14-1zm-14-3l14 3 12-10-15-4zm-15-10l15 10 11-11-14-5zm-14 5l14-5 12-6-14-1zm-14-11l14 11 12-12-15-7zm-15-1l15 1 11-8-14-1zm-14-16l14 16 12-8-15-4zm-14 2l14-2 11 4-14-9zm-15 3l15-3 11-7-14-6zm-28-18l14 13 11-17-14-5zm-15-3l15 3 11-9-14-2zm-14-10l14 10 12-8-15-4z"/>
<path fill="#339" d="M5973 4152l14 0 12 22-15-6zm-1219-95l14 5 12-16-15-6zm-129-43l14 9 12-16-15-5z"/>
<path fill="#338" d="M5959 4134l14 18 11 16-14-16zm-15-9l15 9 11 18-14-6zm-14-14l14 14 12 21-15-17zm-14-24l14 24 11 18-14-22zm-689-37l15-4 11-22-14 7zm-14 6l14-6 12-19-15 13zm-14 9l14-9 11-12-14-2zm-15 4l15-4 11-23-14 13zm-14 0l14 0 12-14-15 0zm-14 6l14-6 11-14-14 5zm-15 6l15-6 11-15-14 9zm-444-47l14-3 11-2-14-5zm-15-1l15 1 11-10-14-4zm-14-9l14 9 12-13-15-2zm-14-7l14 7 11-6-14-1zm-15 6l15-6 11 0-14-10zm-28-7l14-2 11-12-14-2zm-15-22l15 22 11-16-14-4zm-28-15l14 16 11-18-14-5zm-15-1l15 1 11-7-14-4z"/>
<path fill="#448" d="M5901 4085l15 2 11 20-14-16zm-14-16l14 16 12 6-15-10zm-14-15l14 15 11 12-14-9zm-15-17l15 17 11 18-14-11zm-573-28l14-1 11-21-14 16zm-15 20l15-20 11-6-14 3zm-14 5l14-5 12-23-15 15zm-14 12l14-12 11-13-14 3zm-703-79l14 11 12-10-15-7zm-14-5l14 5 11-6-14-6zm-15-12l15 12 11-7-14-9zm-14-4l14 4 12-4-15-9zm-29-14l15 8 11-12-14 3zm-14-2l14 2 12-1-15-4zm-14-2l14 2 11-3-14-3zm-15-4l15 4 11-4-14-3zm-14 6l14-6 12-3-15 15z"/>
<path fill="#558" d="M5844 4027l14 10 12 24-15-14zm-14-11l14 11 11 20-14-13zm-15-7l15 7 11 18-14-18zm-14-16l14 16 12 7-15-16zm-473-18l14-7 11-18-14 7zm-15 17l15-17 11-18-14 16zm-14 16l14-16 12-19-15 14z"/>
<path fill="#668" d="M5787 3979l14 14 11 7-14-3zm-15-9l15 9 11 18-14-22zm-14-9l14 9 12 5-15-5zm-14-16l14 16 11 9-14-21zm-345-14l15-13 11-22-14 21zm-14 9l14-9 12-14-15-2zm-14 11l14-11 11-25-14 18zm-15 10l15-10 11-18-14 15zm-14 7l14-7 12-13-15 2z"/>
<path fill="#778" d="M5729 3934l15 11 11 4-14-11zm-14-15l14 15 12 4-15-11zm-14-8l14 8 11 8-14-9zm-15-11l15 11 11 7-14-14zm-14-5l14 5 12 4-15-1zm-29-11l15 8 11-14-14-1zm-43-20l15 11 11-14-14 1zm-43-5l15-4 11-15-14 5zm-14 7l14-7 12-14-15 3zm-43 6l14-5 12-17-15 11zm-15 7l15-7 11-11-14-4zm-14 6l14-6 12-22-14 11zm-14 7l14-7 12-17-15 9zm-15-5l15 5 11-15-14 5zm-14 19l14-19 12-5-14 10zm-14 12l14-12 12-14-15 4z"/>
<path fill="#999" d="M5658 3892l14 3 11 8-14-25zm-29-12l14 4 12-7-15-12zm-14-5l14 5 11-15-14-4zm-29-3l14-8 12-2-15-16zm-58-6l15 0 11-18-14 0zm-14 1l14-1 12-18-14 2z"/>
<path fill="#bbb" d="M5572 3855l14 17 11-26-14-6z"/>
<path fill="#229" d="M5027 4105l14-3 11-15-14-2zm-15-2l15 2 11-20-14 2z"/>
<path fill="#449" d="M4582 3995l14-1 12 2-15-19z"/>
<path fill="#559" d="M4482 3940l14 6 11-9-14-9zm-86-7l14-3 11 6-14 13zm-15 6l15-6 11 16-14 11z"/>
<path fill="#336" d="M4367 3960l14-21 12 21-15 7z"/>
<path fill="#114" d="M4353 4039l14-79 11 7-14 42z"/>
<path fill="#116" d="M4338 4015l15 24 11-30-14 87z"/>
<path fill="#004" d="M4324 4190l14-175 12 81-15 77zm-29 195l15-143 11 49-14 28z"/>
<path fill="#006" d="M4310 4242l14-52 11-17-14 118z"/>
<path fill="#119" d="M6119 4247l15 7 11 26-14-8z"/>
<path fill="#118" d="M6105 4229l14 18 12 25-15-2z"/>
<path fill="#229" d="M6091 4221l14 8 11 41-14-22z"/>
<path fill="#228" d="M6076 4222l15-1 11 27-14-18zm-14-18l14 18 12 8-15-6zm-14-14l14 14 11 20-14-13zm-15-9l15 9 11 21-14-7zm-14-9l14 9 12 23-15-11zm-918-69l15-2 11-20-14 13zm-28-3l14 2 11-17-14 8zm-15 5l15-5 11-7-14 5zm-14 2l14-2 12-7-15-8zm-14-1l14 1 11-17-14 12zm-15 8l15-8 11-4-14 3zm-14-10l14 10 12-9-15-2zm-15 2l15-2 11-1-14-2zm-14 5l14-5 12-5-14 0zm-14-7l14 7 12-10-15-5zm-15-3l15 3 11-8-14 7zm-14 11l14-11 12 2-14-9zm-14-7l14 7 12-18-15 5zm-15 2l15-2 11-6-14 0zm-14 0l14 0 12-8-15 3zm-14-10l14 10 11-5-14-9zm-15-3l15 3 11-4-14-3zm-14 4l14-4 12-4-15-10zm-14-8l14 8 11-18-14 5zm-15-4l15 4 11-5-14-11zm-14-7l14 7 12-12-15-1zm-29-5l15-2 11-15-14 2zm-14-5l14 5 12-15-15 3zm-14-9l14 9 11-7-14-5zm-15-6l15 6 11-3-14-13z"/>
<path fill="#338" d="M6005 4159l14 13 11 21-14-18zm-15-10l15 10 11 16-14-9zm-14-10l14 10 12 17-15-14zm-14-11l14 11 11 13-14 0zm-15-14l15 14 11 24-14-18zm-731-48l14-4 12-16-15 4zm-14 5l14-5 11-16-14 6zm-15 9l15-9 11-15-14 9zm-14 4l14-4 12-15-15 4zm-14 3l14-3 11-15-14 0zm-15 0l15 0 11-18-14 6zm-14 6l14-6 12-12-15 6zm-14 8l14-8 11-12-14 0zm-402-53l14 6 12-10-15-3zm-29 2l15-4 11-15-14 3zm-14-16l14 16 12-16-15-1zm-14 5l14-5 11-1-14-9zm-15-16l15 16 11-15-14-7zm-14 9l14-9 12-6-15 6zm-14-9l14 9 11-9-14-9zm-15-11l15 11 11-9-14 2zm-14-13l14 13 12 4-15-22zm-14-3l14 3 11-5-14 1zm-15-6l15 6 11-1-14-16zm-215-31l14-23 12 24-14 79z"/>
<path fill="#448" d="M5933 4100l14 14 12 20-15-9zm-14-7l14 7 11 25-14-14zm-15-14l15 14 11 18-14-24zm-14-10l14 10 12 8-15-2zm-617-36l15-11 11-14-14 1zm-14 3l14-3 12-24-15 20zm-14 14l14-14 11-7-14 5zm-15 12l15-12 11-16-14 12zm-688-70l14-2 12-11-15-1zm-14-17l14 17 11-14-14-11zm-15-2l15 2 11-8-14-5zm-14-14l14 14 12-11-15-12zm-14-9l14 9 11-9-14-4zm-15-9l15 9 11-4-14-6zm-14-6l14 6 12-1-15-8zm-86-14l14-2 12 14-15 6zm-15 15l15-15 11 18-14 21z"/>
<path fill="#558" d="M5876 4050l14 19 11 16-14-16zm-15-3l15 3 11 19-14-15zm-14-18l14 18 12 7-15-17zm-14-11l14 11 11 8-14-10zm-517-15l15-18 11-17-14 7zm-14 7l14-7 12-28-15 17zm-14 12l14-12 11-18-14 16zm-846-96l14 9 11-3-14-2zm-15 1l15-1 11 4-14-2zm-14-7l14 7 12 1-15-4zm-15 3l15-3 11 4-14 6zm-14-4l14 4 12 7-14 3z"/>
<path fill="#668" d="M5818 4004l15 14 11 9-14-11zm-14-9l14 9 12 12-15-7zm-14-18l14 18 11 14-14-16zm-15-6l15 6 11 16-14-14zm-14-10l14 10 12 8-15-9zm-373-4l14-21 12-18-15 13zm-29 4l15-4 11-17-14 11zm-14 24l14-24 12-10-15 10z"/>
<path fill="#778" d="M5747 3953l14 8 11 9-14-9zm-15-12l15 12 11 8-14-16zm-14-15l14 15 12 4-15-11zm-14-7l14 7 11 8-14-15zm-15-15l15 15 11 0-14-8zm-14-3l14 3 12 7-15-11zm-14-13l14 13 11-1-14-5zm-15 11l15-11 11 7-14-3zm-14-2l14 2 12-7-15-8zm-15-11l15 11 11-13-14-4zm-14 4l14-4 12-6-14-5zm-29-18l15 0 11-8-14 8zm-28 1l14-3 12-15-15 4zm-15 12l15-12 11-14-14 7zm-28 2l14-6 11-15-14 1zm-15-2l15 2 11-20-14 5zm-14 10l14-10 12-13-15 7zm-14 7l14-7 11-16-14 6zm-15 2l15-2 11-17-14 7zm-28 25l14-17 11-25-14 19zm-15 7l15-7 11-23-14 12z"/>
<path fill="#999" d="M5589 3872l14 18 12-15-15-11zm-29-2l14 2 12 0-14-17zm-43 11l14 4 12-19-15 0zm-86 31l14-8 12-12-15-5z"/>
<path fill="#889" d="M5374 3957l14 0 11-26-14 9z"/>
<path fill="#779" d="M5331 3985l14 0 11-24-14 7z"/>
<path fill="#339" d="M5087 4102l14 1 12-9-15-9zm-301-30l14 7 11-6-14-16zm-86-26l14 2 11-7-14-10z"/>
<path fill="#114" d="M4327 4024l14-65 12 80-15-24z"/>
<path fill="#004" d="M4312 4197l15-173 11-9-14 175zm-14 52l14-52 12-7-14 52z"/>
<path fill="#008" d="M4284 4273l14-24 12-7-15 143z"/>
<path fill="#229" d="M6108 4223l14 7 12 24-15-7zm-1162-107l15 11 11-16-14-7zm-71 11l14-1 11-19-14 0zm-15-17l15 17 11-20-14-10z"/>
<path fill="#228" d="M6094 4218l14 5 11 24-14-18zm-15-10l15 10 11 11-14-8zm-14-15l14 15 12 13-15 1zm-14-9l14 9 11 29-14-18zm-961-74l14 3 12-12-15 2zm-15-1l15 1 11-7-14-1zm-14 7l14-7 12-7-14-2zm-14 1l14-1 12-16-15 5zm-15-3l15 3 11-12-14 2zm-14 4l14-4 12-7-14-1zm-14 0l14 0 12-12-15 8zm-15 2l15-2 11-4-14-10zm-14-4l14 4 12-16-15 2zm-14 11l14-11 11-10-14 5zm-29-6l14-5 12-12-15-3zm-14-1l14 1 11-20-14 11zm-15-1l15 1 11-8-14-7zm-14 7l14-7 12-14-15 2zm-43-21l14 5 12-13-15-3zm-14 3l14-3 11-11-14 4zm-72-23l14 3 12-16-15 2zm-14-14l14 14 11-11-14-5z"/>
<path fill="#338" d="M6036 4177l15 7 11 20-14-14zm-14-6l14 6 12 13-15-9zm-14-14l14 14 11 10-14-9zm-15-10l15 10 11 15-14-13zm-14-16l14 16 12 12-15-10zm-774-45l14-12 11-12-14 4zm-15 5l15-5 11-20-14 5zm-14 2l14-2 12-20-15 9zm-14 5l14-5 11-13-14 4zm-15-2l15 2 11-14-14 3zm-14 3l14-3 12-9-15 0zm-15 3l15-3 11-12-14 6zm-14 11l14-11 12-9-14 8zm-373-39l15-3 11-2-14-9zm-28-18l14 12 11-14-14-6zm-15 7l15-7 11-8-14-2zm-14-7l14 7 12-17-15 4zm-29-15l15 7 11-14-14 5zm-28-10l14 7 11-15-14 9zm-15 4l15-4 11 1-14-9zm-14-15l14 15 12-12-15-11z"/>
<path fill="#448" d="M5965 4130l14 1 11 18-14-10zm-15-15l15 15 11 9-14-11zm-14-17l14 17 12 13-15-14zm-14-8l14 8 11 16-14-14zm-660-50l14 3 12-21-15 11zm-14 18l14-18 11-7-14 3zm-15 5l15-5 11-22-14 14zm-14 11l14-11 12-13-15 12zm-674-78l14 16 12-16-15-6zm-14 3l14-3 11-6-14 2zm-29-24l14 10 12-10-15-2zm-15-11l15 11 11-2-14-14zm-14-9l14 9 12-5-14-9z"/>
<path fill="#558" d="M5907 4080l15 10 11 10-14-7zm-14-13l14 13 12 13-15-14zm-14-9l14 9 11 12-14-10zm-15-19l15 19 11 11-14-19zm-14-4l14 4 12 11-15-3zm-531-34l15-5 11-11-14 0zm-14 18l14-18 12-16-15 18zm-14 11l14-11 11-16-14 7zm-15 13l15-13 11-20-14 12zm-817-92l14 4 12-5-15-9zm-15-15l15 15 11-10-14-6zm-14-5l14 5 12-1-14-9zm-14-2l14 2 12-5-15 1zm-15-10l15 10 11-2-14-7zm-14 0l14 0 12 1-15 3zm-14-4l14 4 11 4-14-4z"/>
<path fill="#668" d="M5836 4023l14 12 11 12-14-18zm-15-16l15 16 11 6-14-11zm-14-14l14 14 12 11-15-14zm-14-7l14 7 11 11-14-9zm-15-5l15 5 11 9-14-18zm-401-8l14-13 11-24-14 21zm-29 13l14-9 12-20-15 4zm-14 10l14-10 11-25-14 24z"/>
<path fill="#778" d="M5764 3967l14 14 12-4-15-6zm-14-6l14 6 11 4-14-10zm-15-8l15 8 11 0-14-8zm-14-17l14 17 12 0-15-12zm-15-6l15 6 11 5-14-15zm-14-13l14 13 12-4-14-7zm-14-5l14 5 12 2-15-15zm-15-6l15 6 11-8-14-3zm-28-5l14 0 12-13-15 11zm-15 5l15-5 11-2-14-2zm-28-13l14 5 11-12-14 4zm-43-6l14-5 11-10-14-2zm-15 6l15-6 11-17-14 3zm-14 11l14-11 12-20-15 12zm-29 4l15-9 11-18-14 6zm-28-6l14 7 11-24-14 10zm-15 18l15-18 11-7-14 7zm-28 10l14-9 11-17-14 8zm-15 7l15-7 11-18-14 17zm-14 23l14-23 12-8-15 7z"/>
<path fill="#999" d="M5649 3901l14 5 12-5-14-13zm-43-3l14 8 12-9-15-11zm-29-18l15 13 11-3-14-18zm-14 2l14-2 12-8-15 0zm-129 39l14-1 12-18-15 2z"/>
<path fill="#bbb" d="M5506 3899l14 5 11-19-14-4zm-29 10l14-1 12-21-15-2z"/>
<path fill="#889" d="M5362 3977l15-4 11-16-14 0z"/>
<path fill="#339" d="M4817 4106l15 2 11-10-14-8zm-14-8l14 8 12-16-15-4zm-14-5l14 5 11-12-14-7zm-15-5l15 5 11-14-14-7zm-57-20l14 6 12-14-15-6z"/>
<path fill="#449" d="M4660 4048l14 8 11-6-14-16zm-29-10l14 3 12-2-15-16zm-72-26l15 8 11-21-14-3z"/>
<path fill="#55b" d="M4574 4020l14 0 11-8-14-13z"/>
<path fill="#559" d="M4516 3985l15 14 11-7-14-17z"/>
<path fill="#446" d="M4358 3922l15-7 11 4-14 2zm-14 11l14-11 12-1-15 15z"/>
<path fill="#224" d="M4330 3963l14-30 11 3-14 23zm-15 52l15-52 11-4-14 65z"/>
<path fill="#116" d="M4301 4092l14-77 12 9-15 173z"/>
<path fill="#008" d="M4287 4123l14-31 11 105-14 52z"/>
<path fill="#004" d="M4272 4258l15-135 11 126-14 24z"/>
<path fill="#228" d="M6097 4209l14 3 11 18-14-7zm-1047-84l14-5 11-11-14 7zm-15-2l15 2 11-9-14 1zm-14 5l14-5 12-6-15-3zm-14 6l14-6 11-14-14 4zm-29-2l14 1 12-15-15 2zm-14-5l14 5 11-12-14-4zm-15 6l15-6 11-11-14 11zm-28-1l14 0 11-16-14 5zm-15-7l15 7 11-11-14-1zm-14 12l14-12 12-5-15-1zm-14 1l14-1 11-18-14 7zm-15-8l15 8 11-12-14 1zm-43-3l15-6 11-16-14 3zm-14-12l14 12 12-19-15-2zm-29-13l15 9 11-13-14-5zm-14-1l14 1 12-9-15-5zm-14-6l14 6 11-13-14-3z"/>
<path fill="#338" d="M6082 4198l15 11 11 14-14-5zm-14-9l14 9 12 20-15-10zm-14-9l14 9 11 19-14-15zm-15-10l15 10 11 13-14-9zm-14-6l14 6 12 14-15-7zm-14-10l14 10 11 13-14-6zm-818-58l14-11 12-11-14 12zm-14 6l14-6 12-10-15 5zm-15 8l15-8 11-11-14 2zm-14-1l14 1 12-17-14 5zm-14 1l14-1 12-11-15-2zm-15 7l15-7 11-14-14 3zm-14 2l14-2 12-18-15 3zm-14 2l14-2 11-17-14 11zm-15 0l15 0 11-8-14-3zm-14-1l14 1 12-11-15-1zm-387-59l14 15 12-20-15 7zm-14 9l14-9 11 2-14-7zm-15-18l15 18 11-14-14-8zm-14 0l14 0 12-4-15-7zm-14-7l14 7 11-11-14-3zm-15-3l15 3 11-7-14-7zm-14-19l14 19 12-11-15 4zm-15 5l15-5 11 12-14-15z"/>
<path fill="#448" d="M5996 4143l15 11 11 17-14-14zm-14-6l14 6 12 14-15-10zm-14-8l14 8 11 10-14-16zm-15-19l15 19 11 2-14-1zm-702-43l14-15 11-9-14-3zm-15 0l15 0 11-27-14 18zm-14 10l14-10 12-9-15 5zm-15 8l15-8 11-14-14 11zm-645-63l14 6 12-8-14 0zm-14-7l14 7 12-2-15-8zm-29-8l14 0 12-11-14 3zm-14-21l14 21 12-8-15-14zm-15-7l15 7 11-1-14-10z"/>
<path fill="#558" d="M5939 4100l14 10 12 20-15-15zm-14-6l14 6 11 15-14-17zm-15-18l15 18 11 4-14-8zm-14-12l14 12 12 14-15-10zm-14-10l14 10 11 16-14-13zm-574-36l14-6 12-16-15 5zm-14 21l14-21 11-17-14 18zm-15 0l15 0 11-20-14 11zm-14 13l14-13 12-9-15 13zm-789-85l14 12 12-4-15-11zm-14-13l14 13 11-3-14-9zm-15-11l15 11 11 1-14-4zm-14-2l14 2 12 8-15-15zm-14-12l14 12 11-5-14-5zm-15 2l15-2 11 2-14-2zm-14-13l14 13 12-2-15-10zm-14 2l14-2 11 1-14 0zm-15-10l15 10 11-1-14-4zm-43-2l15 12 11 13-14 30z"/>
<path fill="#668" d="M5867 4049l15 5 11 13-14-9zm-14-12l14 12 12 9-15-19zm-15-8l15 8 11 2-14-4zm-14-19l14 19 12 6-14-12zm-14-5l14 5 12 13-15-16zm-445-20l15-7 11-18-14 13zm-14 15l14-15 12-12-15 4zm-14 4l14-4 11-23-14 9zm-15 8l15-8 11-18-14 10z"/>
<path fill="#778" d="M5795 3992l15 13 11 2-14-14zm-14-10l14 10 12 1-14-7zm-14-4l14 4 12 4-15-5zm-15-9l15 9 11 3-14-14zm-14-16l14 16 12-2-14-6zm-14 1l14-1 12 8-15-8zm-15-18l15 18 11-1-14-17zm-14-6l14 6 12 0-15-6zm-14 2l14-2 11 0-14-13zm-58-26l15 13 11-18-14 0zm-14 8l14-8 12-5-15 5zm-86 1l14-16 12-12-15 6zm-14 6l14-6 11-22-14 11zm-29-4l14-2 12-16-15 9zm-14 7l14-7 11-9-14 1zm-29 16l14-6 12-32-15 18zm-43 22l14-12 12-20-15 7zm-14 16l14-16 11-25-14 23z"/>
<path fill="#999" d="M5666 3921l15 11 11-15-14-5zm-14-1l14 1 12-9-15-6zm-14-1l14 1 11-14-14-5zm-43-6l14 1 11-8-14-8zm-15-12l15 12 11-15-14-5zm-14-11l14 11 12-8-15-13zm-14 10l14-10 11-10-14 2zm-15-1l15 1 11-18-14 5zm-86 35l15-10 11-15-14-7zm-28 13l14-7 11-20-14 1zm-15 3l15-3 11-26-14 9z"/>
<path fill="#bbb" d="M5494 3915l15 6 11-17-14-5z"/>
<path fill="#339" d="M4992 4133l15 1 11-16-14 0zm-57-1l14 1 12-6-15-11zm-100-11l14 1 11-12-14-5zm-43-10l14 4 11-9-14-8zm-72-23l14 3 12-20-15 3zm-14-1l14 1 11-14-14-6z"/>
<path fill="#229" d="M4849 4122l14 8 12-3-15-17z"/>
<path fill="#44b" d="M4734 4091l15 4 11-10-14-14zm-43-15l15 11 11-19-14-12z"/>
<path fill="#559" d="M4533 4007l15 8 11-3-14-16z"/>
<path fill="#446" d="M4347 3919l14-9 12 5-15 7zm-14 1l14-1 11 3-14 11z"/>
<path fill="#224" d="M4304 4008l14-100 12 55-15 52z"/>
<path fill="#226" d="M4290 4043l14-35 11 7-14 77z"/>
<path fill="#114" d="M4275 4122l15-79 11 49-14 31z"/>
<path fill="#006" d="M4261 4196l14-74 12 1-15 135z"/>
<path fill="#338" d="M6085 4183l15 14 11 15-14-3zm-14-5l14 5 12 26-15-11zm-904-65l15 0 11-17-14 6zm-14 10l14-10 12-11-15 8zm-14-4l14 4 11-13-14-1zm-15 6l15-6 11-10-14 1zm-14 4l14-4 12-15-15 7zm-14 7l14-7 11-12-14 2zm-15-5l15 5 11-17-14 2zm-14 1l14-1 12-10-15 0zm-14 6l14-6 11-11-14-1zm-15 0l15 0 11-18-14 5zm-14-4l14 4 12-13-15-2zm-14-1l14 1 11-11-14 5zm-287-32l14 7 12-13-15-4zm-15 3l15-3 11-10-14-3zm-14-9l14 9 12-16-14-1zm-43-18l14 8 12-24-14 9zm-29-20l15 11 11-16-14 0zm-14-2l14 2 12-5-14-7zm-14-6l14 6 12-10-15-3z"/>
<path fill="#448" d="M6057 4177l14 1 11 20-14-9zm-15-12l15 12 11 12-14-9zm-14-9l14 9 12 15-15-10zm-14-5l14 5 11 14-14-6zm-15-5l15 5 11 13-14-10zm-14-21l14 21 12 8-15-11zm-760-48l14-13 12 3-15 0zm-15 14l15-14 11-10-14 10zm-14 11l14-11 12-14-15 8zm-14 11l14-11 11-17-14 11zm-617-74l14 3 12-19-15 5zm-14-6l14 6 11-11-14-6zm-43-32l14 20 11-14-14 0zm-15-9l15 9 11 6-14-21z"/>
<path fill="#558" d="M5971 4118l14 7 11 18-14-6zm-15-7l15 7 11 19-14-8zm-14-10l14 10 12 18-15-19zm-15-14l15 14 11 9-14-10zm-14-12l14 12 12 13-14-6zm-617-28l15-18 11-17-14 6zm-14 1l14-1 12-29-14 21zm-14 11l14-11 12-9-15 0zm-15 9l15-9 11-20-14 13zm-14-4l14 4 12-16-14 15zm-760-82l14 10 12-6-15-7zm-14-14l14 14 11-3-14-12zm-15-11l15 11 11-1-14-13zm-14-13l14 13 12-3-15-11zm-14-13l14 13 11-1-14-2z"/>
<path fill="#668" d="M5899 4060l14 15 12 19-15-18zm-15-2l15 2 11 16-14-12zm-14-11l14 11 12 6-14-10zm-14-9l14 9 12 7-15-5zm-15-14l15 14 11 11-14-12zm-14-7l14 7 12 13-15-8zm-459-23l15-9 11-23-14 16zm-14 10l14-10 12-16-15 7zm-14 3l14-3 11-19-14 15zm-15 20l15-20 11-7-14 4zm-14 2l14-2 12-23-15 8zm-904-104l15 6 11 10-14-12zm-14-5l14 5 12 4-15 2zm-14 2l14-2 11 11-14-13zm-15-10l15 10 11-4-14 2zm-14-10l14 10 12 8-15-10z"/>
<path fill="#778" d="M5813 4001l14 16 11 12-14-19zm-15-1l15 1 11 9-14-5zm-14-13l14 13 12 5-15-13zm-14-6l14 6 11 5-14-10zm-15-13l15 13 11 1-14-4zm-14-6l14 6 12 10-15-9zm-14-5l14 5 11 7-14-16zm-15-4l15 4 11-4-14 1zm-14-7l14 7 12 1-15-18zm-14-8l14 8 11-10-14-6zm-15-10l15 10 11-8-14 2zm-14-2l14 2 12 4-15-11zm-14-2l14 2 11-5-14-1zm-15-1l15 1 11-4-14-1zm-43-3l15-2 11-4-14-1zm-71 11l14-11 11-21-14 16zm-15 10l15-10 11-16-14 6zm-28-4l14-5 11-17-14 2zm-15 13l15-13 11-20-14 7zm-28 7l14-9 11-14-14 6zm-15 7l15-7 11-17-14 7zm-14 2l14-2 12-17-15 3zm-14 19l14-19 11-16-14 12z"/>
<path fill="#999" d="M5612 3918l14 5 12-4-15-13zm-14 0l14 0 11-12-14 8zm-29-3l14 5 12-7-15-12zm-29-5l15 1 11-21-14 10zm-14 10l14-10 12-10-15-1zm-86 28l14 2 12-26-15 10z"/>
<path fill="#bbb" d="M5555 3911l14 4 11-14-14-11zm-72 21l14 9 12-20-15-6z"/>
<path fill="#228" d="M4995 4135l15-2 11-5-14 6zm-14 4l14-4 12-1-15-1zm-14 4l14-4 11-6-14-1zm-29-8l14 9 12-17-15 6zm-14 3l14-3 11-2-14-1zm-15 7l15-7 11-6-14 0zm-28 0l14-6 11-14-14 12zm-15-2l15 2 11-8-14 1zm-14-4l14 4 12-5-15-8zm-43-14l14 19 12-23-15 6zm-14 7l14-7 11 2-14-12z"/>
<path fill="#339" d="M4952 4144l15-1 11-11-14-5zm-57-5l14 6 12-13-15-7zm-57-1l14 1 11-9-14-8zm-15 6l15-6 11-16-14-1zm-71-29l14 7 11-20-14-1zm-15-7l15 7 11-14-14-6zm-57-19l14 6 12-8-15-11z"/>
<path fill="#33b" d="M4780 4130l15 2 11-17-14-4zm-14-8l14 8 12-19-15-9z"/>
<path fill="#44b" d="M4665 4085l15 4 11-13-14-15z"/>
<path fill="#449" d="M4637 4068l14 9 12-7-15-18z"/>
<path fill="#55b" d="M4579 4042l15 7 11-7-14-19z"/>
<path fill="#559" d="M4536 4028l15 5 11-11-14-7zm-14-7l14 7 12-13-15-8z"/>
<path fill="#446" d="M4336 3910l14-8 11 8-14 9zm-15 21l15-21 11 9-14 1zm-28 25l14 15 11-63-14 100z"/>
<path fill="#334" d="M4307 3971l14-40 12-11-15-12z"/>
<path fill="#224" d="M4278 4069l15-113 11 52-14 35z"/>
<path fill="#114" d="M4264 4113l14-44 12-26-15 79z"/>
<path fill="#116" d="M4250 4154l14-41 11 9-14 74z"/>
<path fill="#448" d="M6074 4171l14 1 12 25-15-14zm-14-10l14 10 11 12-14-5zm-15-12l15 12 11 17-14-1zm-14-10l14 10 12 28-15-12zm-832-32l14-8 12-22-15 14zm-14 8l14-8 11-16-14 11zm-15 1l15-1 11-13-14 11zm-573-57l14 14 11-16-14-2zm-15-4l15 4 11-4-14-6zm-14-8l14 8 12-6-15-7zm-14-4l14 4 11-5-14-3zm-15 0l15 0 11-4-14-6zm-14-7l14 7 12-10-15-5zm-14-7l14 7 11-8-14-7z"/>
<path fill="#669" d="M6016 4137l15 2 11 26-14-9zm-28-10l14 0 12 24-15-5zm-760-30l14-10 11-19-14-4zm-746-94l14 16 12-18-15-9z"/>
<path fill="#558" d="M6002 4127l14 10 12 19-14-5zm-29-8l15 8 11 19-14-21zm-14-14l14 14 12 6-14-7zm-14-8l14 8 12 13-15-7zm-660-37l14-5 12-26-15 18zm-14 13l14-13 11-13-14 1zm-15-2l15 2 11-25-14 11zm-14 16l14-16 12-12-15 9zm-774-107l14 23 11-11-14-10zm-15-16l15 16 11 2-14-14zm-14-18l14 18 12 4-15-11z"/>
<path fill="#668" d="M5930 4085l15 12 11 14-14-10zm-14-14l14 14 12 16-15-14zm-14-4l14 4 11 16-14-12zm-15-16l15 16 11 8-14-15zm-14-8l14 8 12 9-15-2zm-14-6l14 6 11 15-14-11zm-502-18l14-15 12-19-15 9zm-15 9l15-9 11-25-14 10zm-28 16l14-15 12-22-15 20zm-15 11l15-11 11-17-14 2zm-874-118l14 9 11 11-14-13zm-15-16l15 16 11 7-14-13zm-14-4l14 4 12 10-15-6zm-14 0l14 0 11 8-14-5zm-15 1l15-1 11 3-14 2zm-14-8l14 8 12 4-15-10zm-14-6l14 6 11 2-14-10zm-29-1l14-6 12 13-15 21z"/>
<path fill="#778" d="M5844 4025l15 12 11 10-14-9zm-14-5l14 5 12 13-15-14zm-14-19l14 19 11 4-14-7zm-15 6l15-6 11 16-14-16zm-14-19l14 19 12-6-15-1zm-14-2l14 2 11 12-14-13zm-15-11l15 11 11 1-14-6zm-14-10l14 10 12 6-15-13zm-14 3l14-3 11 3-14-6zm-15-9l15 9 11-6-14-5zm-14-12l14 12 12-2-15-4zm-14 6l14-6 11 6-14-7zm-15-13l15 13 11-7-14-8zm-172 16l15-21 11-15-14 11zm-14 7l14-7 12-25-15 10zm-43 1l14-6 12-21-15 13zm-15 12l15-12 11-14-14-2zm-57 28l14-6 12-32-14 19z"/>
<path fill="#999" d="M5658 3940l14 0 12-2-15-10zm-14 4l14-4 11-12-14-2zm-15-11l15 11 11-18-14-2zm-14-1l14 1 12-9-15-1zm-14 9l14-9 11-9-14-5zm-29-13l14 6 12-16-15 2zm-14-1l14 1 11-8-14-5zm-15-2l15 2 11-12-14-4zm-14 8l14-8 12-14-15-1zm-14 2l14-2 11-23-14 10zm-58 23l15-3 11-23-14 5zm-43 25l14-7 12-28-14 9zm-14 7l14-7 12-26-15 7z"/>
<path fill="#bbb" d="M5586 3934l15 7 11-23-14 0zm-114 21l14 8 11-22-14-9z"/>
<path fill="#aab" d="M5385 3998l15-8 11-26-14 2z"/>
<path fill="#99b" d="M5328 4029l14-1 12-24-14 3z"/>
<path fill="#559" d="M5213 4099l15-2 11-33-14 13z"/>
<path fill="#338" d="M5156 4128l14-12 12-3-15 0zm-14 1l14-1 11-15-14 10zm-15 1l15-1 11-6-14-4zm-14 8l14-8 12-11-15 6zm-14 1l14-1 11-13-14 4zm-15-1l15 1 11-10-14 7zm-14 5l14-5 12-2-15-5zm-14-1l14 1 11-12-14 1zm-15 4l15-4 11-10-14 6zm-14-3l14 3 12-8-15 0zm-14 9l14-9 11-5-14-4zm-29-11l14 4 12-12-15 2zm-14 9l14-9 11-6-14 4zm-273-33l14 1 12-17-15 3zm-14-13l14 13 11-13-14-9zm-15-11l15 11 11-9-14-6zm-14-2l14 2 12-4-15-4zm-14-5l14 5 11-6-14-8zm-15-9l15 9 11-9-14-9z"/>
<path fill="#339" d="M4998 4145l15 7 11-18-14-1zm-114 8l14 5 11-13-14-6zm-43 6l14-2 11-14-14-4zm-15-11l15 11 11-20-14-1zm-29-1l15-2 11-1-14-19zm-57-14l14 2 12-13-14-7z"/>
<path fill="#228" d="M4955 4142l15 8 11-11-14 4zm-14 3l14-3 12 1-15 1zm-14 1l14-1 11-1-14-9zm-15 6l15-6 11-11-14 3zm-14 6l14-6 12-14-15 7zm-29-2l15-3 11-14-14 6zm-14 1l14-1 12-11-15-2zm-43-12l14 3 12-10-15 6zm-29-10l14 12 12-22-14 7zm-14-2l14 2 12-3-15-2zm-15 2l15-2 11-3-14-8z"/>
<path fill="#44b" d="M4726 4125l14 8 12-18-15-7zm-15-7l15 7 11-17-14-7z"/>
<path fill="#449" d="M4611 4073l14 4 12-9-15-11z"/>
<path fill="#66b" d="M4496 4019l15 10 11-8-14-20z"/>
<path fill="#556" d="M4324 3897l15 7 11-2-14 8z"/>
<path fill="#446" d="M4296 3929l14-26 11 28-14 40z"/>
<path fill="#334" d="M4281 3977l15-48 11 42-14-15z"/>
<path fill="#224" d="M4267 4096l14-119 12-21-15 113z"/>
<path fill="#114" d="M4253 4082l14 14 11-27-14 44z"/>
<path fill="#116" d="M4238 4119l15-37 11 31-14 41z"/>
<path fill="#77b" d="M6062 4144l15 4 11 24-14-1z"/>
<path fill="#558" d="M6048 4135l14 9 12 27-14-10zm-14-4l14 4 12 26-15-12zm-15-3l15 3 11 18-14-10zm-14-6l14 6 12 11-15-2zm-14-11l14 11 11 15-14-10zm-703-38l14-3 12-26-15 11zm-14-2l14 2 11-18-14 5zm-15 15l15-15 11-11-14 13zm-14 14l14-14 12-13-15-2zm-14-3l14 3 11-29-14 16zm-775-111l15 32 11-15-14-23z"/>
<path fill="#668" d="M5976 4113l15-2 11 16-14 0zm-14-16l14 16 12 14-15-8zm-14-5l14 5 11 22-14-14zm-15-8l15 8 11 13-14-8zm-14-10l14 10 12 13-15-12zm-14-18l14 18 11 11-14-14zm-545-25l14-12 11-21-14 6zm-15 7l15-7 11-27-14 15zm-14 17l14-17 12-19-15 9zm-29 15l15-13 11-28-14 15zm-860-107l14 23 12-6-15-16zm-14-28l14 28 11 1-14-18zm-15-16l15 16 11 11-14-9zm-14-12l14 12 12 18-15-16zm-14 7l14-7 11 14-14-4zm-15-8l15 8 11 3-14 0zm-14 7l14-7 12 11-15 1zm-14-7l14 7 11 5-14-8zm-72 22l14-11 12 12-15 48z"/>
<path fill="#778" d="M5890 4051l15 5 11 15-14-4zm-14-6l14 6 12 16-15-16zm-14-12l14 12 11 6-14-8zm-15-2l15 2 11 10-14-6zm-14-19l14 19 12 6-15-12zm-14-3l14 3 11 13-14-5zm-15-12l15 12 11 11-14-19zm-14-2l14 2 12 4-15 6zm-14-13l14 13 11 12-14-19zm-15 1l15-1 11 6-14-2zm-14-10l14 10 12 3-15-11zm-14-3l14 3 11 2-14-10zm-15-7l15 7 11-5-14 3zm-14-2l14 2 12 5-15-9zm-215 9l14-15 12-20-15 21zm-15 25l15-25 11-14-14 7zm-57-5l14-5 12-21-15 12zm-14 10l14-10 11-14-14 7zm-15 19l15-19 11-17-14 7zm-1061-119l15 6 11 4-14-6z"/>
<path fill="#999" d="M5690 3960l14 1 11-2-14-12zm-15-12l15 12 11-13-14 6zm-14 2l14-2 12 5-15-13zm-14-3l14 3 11-10-14 0zm-15 2l15-2 11-7-14 4zm-14 2l14-2 12-5-15-11zm-29-6l15 8 11-21-14 9zm-14 0l14 0 12-4-15-7zm-14-3l14 3 11-11-14-6zm-15 2l15-2 11-14-14-1zm-29 8l15-7 11-20-14 8zm-14 3l14-3 12-19-14 2zm-57 34l14-11 12-23-15 3z"/>
<path fill="#bbb" d="M5604 3953l14-2 11-18-14-1zm-72-8l14-1 12-17-15-2zm-72 33l14 17 12-32-14-8zm-29 7l15 4 11-31-14 6z"/>
<path fill="#aab" d="M5374 4019l14 0 12-29-15 8z"/>
<path fill="#99b" d="M5317 4057l14-2 11-27-14 1z"/>
<path fill="#448" d="M5216 4103l15-6 11-10-14 10zm-14 7l14-7 12-6-15 2zm-14 4l14-4 11-11-14 8zm-15 13l15-13 11-7-14 8zm-14 13l14-13 12-12-15 1zm-14 1l14-1 11-24-14 12zm-560-78l15 18 11-8-14-14zm-14-6l14 6 12-4-15-4zm-14 3l14-3 11-2-14-8zm-15-9l15 9 11-13-14-4zm-14-2l14 2 12-8-15 0zm-14-7l14 7 11-6-14-7zm-15-4l15 4 11-6-14-7zm-14-13l14 13 12-9-15-10zm-244-33l14 5 12 99-14-14z"/>
<path fill="#338" d="M5130 4137l15 4 11-13-14 1zm-14 3l14-3 12-8-15 1zm-14 6l14-6 11-10-14 8zm-15-3l15 3 11-8-14 1zm-14 15l14-15 12-4-15-1zm-14-5l14 5 11-20-14 5zm-15 7l15-7 11-10-14-1zm-14-7l14 7 12-18-15 4zm-14 11l14-11 11-7-14-3zm-15-7l15 7 11-21-14 9zm-14 1l14-1 12-5-15-7zm-29-1l15 4 11-20-14 9zm-14 1l14-1 12-7-15-8zm-14-5l14 5 11-16-14 3zm-15 10l15-10 11-8-14 1zm-229-37l14 8 11-16-14-1zm-43-27l14 4 11-10-14-2zm-15-4l15 4 11-8-14-5zm-28-14l14 8 11-12-14-4z"/>
<path fill="#339" d="M4973 4161l14-3 11-13-14-4zm-115 11l14 0 12-19-15 3zm-86-22l14 6 11-9-14-12zm-15 5l15-5 11-15-14-2zm-43-15l15 7 11-14-14-8zm-14-6l14 6 12-15-15-7z"/>
<path fill="#228" d="M4901 4161l14 2 12-17-15 6zm-15 3l15-3 11-9-14 6zm-14 8l14-8 12-6-14-5zm-29-7l15 7 11-16-14 1zm-14 6l14-6 12-8-14 2zm-43-15l14 11 12-22-15 2zm-43-11l14 10 12-22-15 2zm-14 2l14-2 11-10-14-2z"/>
<path fill="#33b" d="M4815 4170l14 1 12-12-15-11zm-15-3l15 3 11-22-14-3z"/>
<path fill="#449" d="M4671 4121l15 5 11-9-14-13zm-14-18l14 18 12-17-15-11zm-43-14l14 6 12-9-15-9z"/>
<path fill="#669" d="M4471 4018l14 7 11-6-14-16z"/>
<path fill="#556" d="M4313 3909l14-9 12 4-15-7zm-15-16l15 16 11-12-14 6zm-14 24l14-24 12 10-14 26z"/>
<path fill="#336" d="M4255 3997l15-69 11 49-14 119z"/>
<path fill="#226" d="M4227 4069l14-77 12 90-15 37z"/>
<path fill="#779" d="M6051 4108l14 12 12 28-15-4zm-746-34l15 2 11-21-14 2z"/>
<path fill="#99b" d="M6037 4116l14-8 11 36-14-9zm-72-27l14 2 12 20-15 2z"/>
<path fill="#668" d="M6022 4111l15 5 11 19-14-4zm-14-8l14 8 12 20-15-3zm-29-12l15 10 11 21-14-11zm-28-2l14 0 11 24-14-16zm-15-23l15 23 11 8-14-5zm-573-20l14-17 11-10-14 0zm-15 7l15-7 11-27-14 12zm-14 9l14-9 12-22-15 7zm-14 14l14-14 11-24-14 17zm-29 2l14-4 12-17-15 13zm-860-124l14 35 11-3-14-23zm-15-26l15 26 11 9-14-28zm-186-2l14 10 11 61-14-5z"/>
<path fill="#889" d="M5994 4101l14 2 11 25-14-6zm-72-38l14 3 12 26-15-8z"/>
<path fill="#778" d="M5908 4052l14 11 11 21-14-10zm-15-12l15 12 11 22-14-18zm-14-3l14 3 12 16-15-5zm-14-12l14 12 11 14-14-6zm-15-4l15 4 11 20-14-12zm-14-6l14 6 12 12-15-2zm-14-9l14 9 11 16-14-19zm-15-13l15 13 11 6-14-3zm-14 4l14-4 12 16-15-12zm-14-2l14 2 11 0-14-2zm-15-11l15 11 11 0-14-13zm-14-3l14 3 12-2-15 1zm-273 9l15-14 11-21-14 15zm-14 16l14-16 12-20-15 25zm-29 1l15-8 11-21-14 11zm-43 24l15-17 11-24-14 10zm-14-2l14 2 12-31-15 19zm-975-128l14 27 12 7-15-16zm-15-3l15 3 11 18-14-12zm-28 6l14-6 12 16-15-8zm-15 4l15-4 11 2-14 7zm-14-4l14 4 12 5-14-7zm-14-7l14 7 12 2-15-6z"/>
<path fill="#999" d="M5736 3973l14 8 11 2-14-10zm-15-3l15 3 11 0-14-3zm-14-14l14 14 12 0-15-7zm-14 6l14-6 11 7-14-2zm-15 0l15 0 11-1-14-1zm-14-5l14 5 12-2-15-12zm-14-4l14 4 11-9-14 2zm-15 4l15-4 11-3-14-3zm-14-3l14 3 12-10-15 2zm-15 3l15-3 11-5-14 2zm-14 10l14-10 12-6-14 2zm-14-15l14 15 12-14-15-8zm-15 8l15-8 11-7-14 0zm-14-6l14 6 12-15-14-3zm-14 10l14-10 12-12-15 2zm-29 6l14-5 12-20-15 7zm-14 6l14-6 11-18-14 3zm-72 40l14-9 12-18-15-4zm-1047-118l14 0 12 9-14 7z"/>
<path fill="#bbb" d="M5520 3965l15-1 11-20-14 1zm-71 34l14 7 11-11-14-17z"/>
<path fill="#aab" d="M5406 4014l14 2 11-31-14 5z"/>
<path fill="#558" d="M5277 4087l14-9 11-8-14 3zm-15 8l15-8 11-14-14-2zm-14 9l14-9 12-24-15 15zm-14 6l14-6 11-18-14 14zm-15 7l15-7 11-10-14-3zm-14 6l14-6 12-20-15 6zm-731-92l14 11 11-4-14-13zm-15-13l15 13 11-6-14-7zm-14-29l14 29 12 0-15-32z"/>
<path fill="#448" d="M5191 4125l14-2 11-20-14 7zm-15 1l15-1 11-15-14 4zm-14 3l14-3 12-12-15 13zm-14 15l14-15 11-2-14 13zm-15 0l15 0 11-4-14 1zm-14 4l14-4 12-3-15-4zm-14 5l14-5 11-11-14 3zm-560-90l15 7 11-13-14 3zm-14 1l14-1 12-3-15-9zm-14-12l14 12 11-13-14-2zm-15 2l15-2 11-3-14-7zm-14-12l14 12 12-12-15-4z"/>
<path fill="#338" d="M5090 4162l15-9 11-13-14 6zm-28 2l14-2 11-19-14 15zm-15-4l15 4 11-6-14-5zm-14 2l14-2 12-7-15 7zm-15 6l15-6 11-2-14-7zm-14 1l14-1 12-15-14 11zm-14 5l14-5 12-5-15-7zm-15-7l15 7 11-17-14 1zm-14 2l14-2 12-9-14 3zm-14-4l14 4 12-8-15-4zm-15-4l15 4 11-8-14 1zm-14 6l14-6 12-3-14-5zm-14 0l14 0 12-14-15 10zm-15 6l15-6 11-4-14-2zm-186-33l14 16 12-9-15-7zm-14 9l14-9 11 0-14-6zm-29-19l14 9 12-13-15-5z"/>
<path fill="#449" d="M5076 4162l14 0 12-16-15-3zm-445-50l15 14 11-23-14-4zm-14-3l14 3 12-13-15-4zm-14-9l14 9 11-14-14-6z"/>
<path fill="#228" d="M4875 4180l14-7 12-12-15 3zm-14 5l14-5 11-16-14 8zm-15-2l15 2 11-13-14 0zm-28 1l14 2 11-21-14 6zm-15-1l15 1 11-13-14-1zm-14-9l14 9 12-13-15-3zm-43-14l14 13 12-23-15 5zm-14 6l14-6 11-5-14-10zm-15-10l15 10 11-21-14 2z"/>
<path fill="#339" d="M4832 4186l14-3 12-11-15-7zm-57-14l14 2 11-7-14-11zm-101-33l15 10 11-15-14-8z"/>
<path fill="#44b" d="M4760 4173l15-1 11-16-14-6z"/>
<path fill="#55b" d="M4646 4126l14 4 11-9-14-18z"/>
<path fill="#559" d="M4588 4092l15 8 11-11-14-8zm-14-15l14 15 12-11-15-18zm-14-7l14 7 11-14-14-6z"/>
<path fill="#556" d="M4301 3902l15-5 11 3-14 9zm-14 8l14-8 12 7-15-16z"/>
<path fill="#334" d="M4273 3906l14 4 11-17-14 24zm-15 42l15-42 11 11-14 11z"/>
<path fill="#446" d="M4244 3936l14 12 12-20-15 69zm-29 80l15-90 11 66-14 77z"/>
<path fill="#778" d="M6040 4097l14 3 11 20-14-12zm-72-18l14-3 12 25-15-10zm-14-9l14 9 11 12-14-2zm-29-12l14 2 12 29-15-23zm-14-15l14 15 11 8-14-3zm-15 2l15-2 11 20-14-11zm-14-12l14 12 12 7-15-12zm-14-8l14 8 11 7-14-3zm-15-5l15 5 11 12-14-12zm-14-2l14 2 12 5-15-4zm-14-12l14 12 11 3-14-6zm-15-2l15 2 11 9-14-9zm-344 19l14-23 12-24-15 14zm-14 9l14-9 11-33-14 16zm-43 8l14-10 11-23-14 9zm-1004-129l14 41 12 2-15-26zm-15-28l15 28 11 17-14-27zm-14-4l14 4 12 18-15-3zm-43 17l14-1 12 9-15 4zm-14 1l14-1 11 12-14-4zm-15 2l15-2 11 7-14-7z"/>
<path fill="#889" d="M6025 4089l15 8 11 11-14 8zm-28-9l14 6 11 25-14-8zm-617-27l14-2 12-37-15 17z"/>
<path fill="#aab" d="M6011 4086l14 3 12 27-15-5zm-29-10l15 4 11 23-14-2zm-588-25l15-11 11-24-14-2zm-28 11l14-9 11-22-14-2z"/>
<path fill="#999" d="M5939 4060l15 10 11 19-14 0zm-143-63l14 7 12 2-15-13zm-14-4l14 4 11-4-14 4zm-15-7l15 7 11 4-14-2zm-14-5l14 5 12 9-15-11zm-15 1l15-1 11 3-14-3zm-14-4l14 4 12-1-14-8zm-14-5l14 5 12-5-15-3zm-15-6l15 6 11-3-14-14zm-14 1l14-1 12-11-14 6zm-14 1l14-1 12-6-15 0zm-15 3l15-3 11-7-14-5zm-14-10l14 10 12-15-14-4zm-14-5l14 5 12-9-15 4zm-15 10l15-10 11 0-14-3zm-14 3l14-3 12-13-15 3zm-14-5l14 5 11-13-14 10zm-15 7l15-7 11 2-14-15zm-14 5l14-5 12-20-15 8zm-29 6l15-7 11-22-14 10zm-14 3l14-3 12-19-15 1zm-14 6l14-6 11-21-14 5zm-15 8l15-8 11-22-14 6zm-57 30l14-3 12-28-15 8zm-1061-148l14-3 11 19-14 0zm-15 13l15-13 11 16-14 6z"/>
<path fill="#bbb" d="M5538 3976l14 1 11-17-14-6z"/>
<path fill="#ccd" d="M5437 4027l15 5 11-26-14-7z"/>
<path fill="#668" d="M5351 4075l15-13 11-33-14 17zm-28 18l14-21 11-19-14 9zm-904-141l14 42 12-5-14-35zm-215-52l14 15 12 11-15 90z"/>
<path fill="#99b" d="M5337 4072l14 3 12-29-15 7z"/>
<path fill="#779" d="M5308 4098l15-5 11-31-14 14z"/>
<path fill="#88b" d="M5294 4099l14-1 12-22-15-2zm-14 2l14-2 11-25-14 4z"/>
<path fill="#558" d="M5265 4108l15-7 11-23-14 9zm-14 1l14-1 12-21-15 8zm-14 13l14-13 11-14-14 9zm-15 1l15-1 11-18-14 6zm-14 12l14-12 12-13-15 7zm-14-7l14 7 11-18-14 6zm-732-90l14 19 12-15-14-11zm-29-44l15 35 11-11-14-29z"/>
<path fill="#448" d="M5179 4137l15-9 11-5-14 2zm-14 9l14-9 12-12-15 1zm-29 4l15-4 11-17-14 15zm-14 6l14-6 12-6-15 0zm-15-6l15 6 11-12-14 4zm-14 11l14-11 12-2-14 5zm-14-1l14 1 12-8-15 9zm-502-64l14 15 12-11-15-8zm-14-8l14 8 11-4-14-15zm-15-9l15 9 11-11-14-7zm-14-11l14 11 12-9-15-7zm-14-8l14 8 11-5-14 1zm-15 5l15-5 11 4-14-12zm-14-1l14 1 12-13-15 2z"/>
<path fill="#559" d="M5151 4146l14 0 11-20-14 3z"/>
<path fill="#338" d="M5064 4166l15-6 11 2-14 0zm-14 12l14-12 12-4-14 2zm-29 1l15-5 11-14-14 2zm-14-9l14 9 12-17-15 6zm-14 9l14-9 11-2-14 1zm-15-9l15 9 11-10-14 5zm-14 2l14-2 12 4-15-7zm-14 0l14 0 11-5-14 2zm-15 1l15-1 11-3-14-4zm-14 0l14 0 12-8-15-4zm-14 7l14-7 11-12-14 6zm-15 9l15-9 11-13-14 0zm-14-5l14 5 12-22-15 6zm-14 6l14-6 11-11-14 7zm-215-53l14 20 11-18-14-9zm-15-3l15 3 11-7-14-4z"/>
<path fill="#449" d="M5036 4174l14 4 12-14-15-4zm-430-50l14 6 11-18-14-3zm-15-13l15 13 11-15-14-9z"/>
<path fill="#228" d="M4849 4194l15-4 11-10-14 5zm-14 4l14-4 12-9-15-2zm-14 7l14-7 11-15-14 3zm-29-13l14 7 12-15-15-1zm-43-12l14 9 12-17-15 1z"/>
<path fill="#339" d="M4806 4199l15 6 11-19-14-2zm-28-1l14-6 11-9-14-9zm-43-14l14-4 11-7-14-13zm-15-6l15 6 11-24-14 6zm-43-17l15 7 11-28-14 9z"/>
<path fill="#33b" d="M4763 4189l15 9 11-24-14-2z"/>
<path fill="#44b" d="M4706 4179l14-1 12-12-15-10zm-14-11l14 11 11-23-14-16zm-29-11l14 4 12-12-15-10z"/>
<path fill="#55b" d="M4620 4130l14 4 12-8-15-14z"/>
<path fill="#669" d="M4476 4057l15 7 11-10-14-12zm-28-28l14 9 12-7-15-13z"/>
<path fill="#556" d="M4290 3898l14 1 12-2-15 5zm-14 9l14-9 11 4-14 8z"/>
<path fill="#334" d="M4261 3914l15-7 11 3-14-4zm-14 52l14-52 12-8-15 42zm-14-41l14 41 11-18-14-12zm-15-10l15 10 11 11-14-10z"/>
</g>
<g stroke="#222" stroke-width="0.7" fill="none">
<path d="M420.4 451.3L420.4 326.7"/>
<path d="M420.4 326.7L605.4 344.7"/>
<path d="M605.4 469.3L605.4 344.7"/>
<path d="M420.4 451.3L605.4 469.3"/>
<path d="M605.4 469.3L654.4 400.5"/>
<path d="M605.4 344.7L654.4 275.9"/>
</g>
<g stroke="#222" stroke-width="0.7" fill="none">
<path d="M436.8 452.9l1.3-1.9M478 456.9l1.3-1.9M519.1 460.9l1.3-1.9M560.2 464.9l1.3-1.9M601.3 468.9l1.3-1.9M654.4 400.5h-3.5M654.4 338.2h-3.5M654.4 275.9h-3.5M654.4 381.7h-2M654.4 370.8h-2M654.4 363h-2M654.4 357h-2M654.4 352h-2M654.4 347.9h-2M654.4 344.2h-2M654.4 341.1h-2M654.4 319.4h-2M654.4 308.5h-2M654.4 300.7h-2M654.4 294.7h-2M654.4 289.7h-2M654.4 285.6h-2M654.4 281.9h-2M654.4 278.8h-2"/>
</g>
<path d="M602.1 469l4.6 .45M609.1 459.2l4.6 .45M616.1 449.3l4.6 .45M623.1 439.5l4.6 .45M630.1 429.7l4.6 .45M637.1 419.9l4.6 .45M644.1 410l4.6 .45M651.1 400.2l4.6 .45" stroke="#000" stroke-width="1.5" fill="none"/>
<path d="M604.8 466.1l3.4 .33M606 464.4l3.4 .33M606.9 463.1l3.4 .33M607.6 462.2l3.4 .33M608.1 461.4l3.4 .33M608.6 460.7l3.4 .33M609 460.2l3.4 .33M609.4 459.7l3.4 .33M611.8 456.3l3.4 .33M613 454.5l3.4 .33M613.9 453.3l3.4 .33M614.6 452.3l3.4 .33M615.1 451.6l3.4 .33M615.6 450.9l3.4 .33M616 450.3l3.4 .33M616.4 449.8l3.4 .33M618.8 446.4l3.4 .33M620 444.7l3.4 .33M620.9 443.5l3.4 .33M621.6 442.5l3.4 .33M622.1 441.7l3.4 .33M622.6 441.1l3.4 .33M623 440.5l3.4 .33M623.4 440l3.4 .33M625.8 436.6l3.4 .33M627 434.9l3.4 .33M627.9 433.6l3.4 .33M628.6 432.7l3.4 .33M629.1 431.9l3.4 .33M629.6 431.2l3.4 .33M630 430.7l3.4 .33M630.4 430.2l3.4 .33M632.8 426.8l3.4 .33M634 425l3.4 .33M634.9 423.8l3.4 .33M635.6 422.9l3.4 .33M636.1 422.1l3.4 .33M636.6 421.4l3.4 .33M637 420.8l3.4 .33M637.4 420.3l3.4 .33M639.8 416.9l3.4 .33M641 415.2l3.4 .33M641.9 414l3.4 .33M642.6 413l3.4 .33M643.1 412.2l3.4 .33M643.6 411.6l3.4 .33M644 411l3.4 .33M644.4 410.5l3.4 .33M646.8 407.1l3.4 .33M648 405.4l3.4 .33M648.9 404.2l3.4 .33M649.6 403.2l3.4 .33M650.1 402.4l3.4 .33M650.6 401.8l3.4 .33M651 401.2l3.4 .33M651.4 400.7l3.4 .33" stroke="#222" stroke-width="0.85" fill="none"/>
<g font-family="Liberation Sans, sans-serif" fill="#1a1a1a">
<g font-size="10" text-anchor="middle">
<text x="433.2" y="465.4">-100</text>
<text x="475.7" y="470.3">-50</text>
<text x="518.4" y="473.8">0</text>
<text x="558.6" y="477.6">+50</text>
<text x="596" y="480.9">+100</text>
</g>
<text x="461.3" y="487" font-size="11.2" textLength="80" lengthAdjust="spacingAndGlyphs">Temperature [°C]</text>
<g font-size="7.2">
<text transform="translate(610 477) rotate(-8)">10<tspan font-size="5.3" dy="-2.8">6</tspan></text>
<text transform="translate(616.7 466.8) rotate(-8)">10<tspan font-size="5.3" dy="-2.8">5</tspan></text>
<text transform="translate(623.3 456.6) rotate(-8)">10<tspan font-size="5.3" dy="-2.8">4</tspan></text>
<text transform="translate(630 446.4) rotate(-8)">10<tspan font-size="5.3" dy="-2.8">3</tspan></text>
<text transform="translate(636.7 436.2) rotate(-8)">10<tspan font-size="5.3" dy="-2.8">2</tspan></text>
<text transform="translate(643.4 426) rotate(-8)">10<tspan font-size="5.3" dy="-2.8">1</tspan></text>
<text transform="translate(650 415.8) rotate(-8)">10<tspan font-size="5.3" dy="-2.8">0</tspan></text>
<text transform="translate(656.7 405.6) rotate(-8)">10<tspan font-size="5.3" dy="-2.8">-1</tspan></text>
</g>
<text x="639" y="448.8" font-size="11.2" textLength="48.6" lengthAdjust="spacingAndGlyphs">Frequency</text>
<text x="663.3" y="462.8" font-size="11.2" text-anchor="middle">[Hz]</text>
<g font-size="10.2">
<text x="657.3" y="278.3">10<tspan font-size="7" dy="-4">-1</tspan></text>
<text x="657.3" y="343.2">10<tspan font-size="7" dy="-4">-2</tspan></text>
<text x="657.3" y="397.3">10<tspan font-size="7" dy="-4">-3</tspan></text>
</g>
<text font-size="13.5" font-style="italic" transform="translate(687.6 372.3) rotate(-90)" textLength="52" lengthAdjust="spacingAndGlyphs">M = 1/ε"</text>
<text x="388.5" y="271.3" font-size="16">(c)</text>
</g>
</svg></body></html>
